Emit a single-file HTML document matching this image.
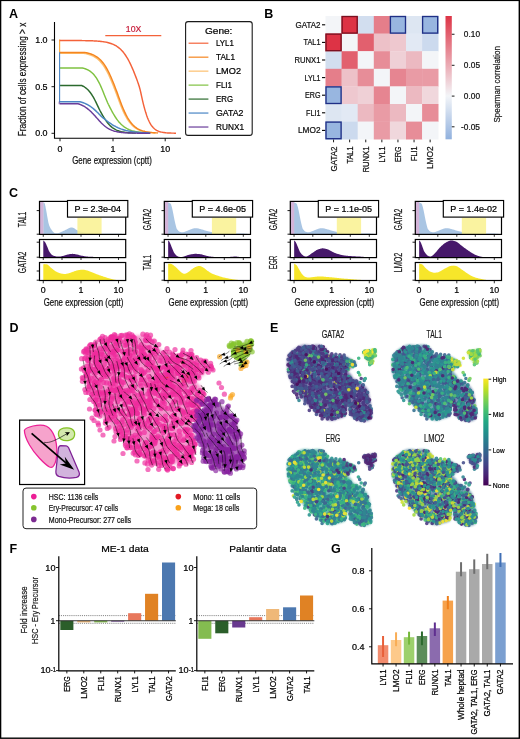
<!DOCTYPE html>
<html><head><meta charset="utf-8"><title>Figure</title>
<style>html,body{margin:0;padding:0;background:#fff;}svg{display:block;font-family:"Liberation Sans", sans-serif;will-change:transform;transform:translateZ(0);-webkit-font-smoothing:antialiased;}</style></head><body>
<svg width="520" height="739" viewBox="0 0 520 739">
<rect x="0" y="0" width="520" height="739" fill="#fff"/>
<g id="A">
<text x="9.00" y="17.50" font-size="12.5" text-anchor="start" fill="#000" font-weight="bold" >A</text>
<path d="M54.5,22 V138.3 H181" fill="none" stroke="#000" stroke-width="1.1"/>
<line x1="51.5" x2="54.5" y1="40" y2="40" stroke="#000" stroke-width="0.9"/>
<text x="47.60" y="43.10" font-size="8.9" text-anchor="end" fill="#000" textLength="12.40" lengthAdjust="spacingAndGlyphs" stroke="#000" stroke-width="0.22" >1.0</text>
<line x1="51.5" x2="54.5" y1="86.7" y2="86.7" stroke="#000" stroke-width="0.9"/>
<text x="47.60" y="89.80" font-size="8.9" text-anchor="end" fill="#000" textLength="12.40" lengthAdjust="spacingAndGlyphs" stroke="#000" stroke-width="0.22" >0.5</text>
<line x1="51.5" x2="54.5" y1="133.3" y2="133.3" stroke="#000" stroke-width="0.9"/>
<text x="47.60" y="136.40" font-size="8.9" text-anchor="end" fill="#000" textLength="12.40" lengthAdjust="spacingAndGlyphs" stroke="#000" stroke-width="0.22" >0.0</text>
<line x1="60" x2="60" y1="138.3" y2="141.3" stroke="#000" stroke-width="0.9"/>
<text x="60.00" y="151.60" font-size="8.9" text-anchor="middle" fill="#000" stroke="#000" stroke-width="0.22" >0</text>
<line x1="113" x2="113" y1="138.3" y2="141.3" stroke="#000" stroke-width="0.9"/>
<text x="113.00" y="151.60" font-size="8.9" text-anchor="middle" fill="#000" stroke="#000" stroke-width="0.22" >1</text>
<line x1="165.2" x2="165.2" y1="138.3" y2="141.3" stroke="#000" stroke-width="0.9"/>
<text x="165.20" y="151.60" font-size="8.9" text-anchor="middle" fill="#000" stroke="#000" stroke-width="0.22" >10</text>
<text x="26.40" y="79.50" font-size="10.4" text-anchor="middle" fill="#111" transform="rotate(-90 26.40 79.50)" textLength="113.50" lengthAdjust="spacingAndGlyphs" stroke="#111" stroke-width="0.22" >Fraction of cells expressing &gt; x</text>
<text x="112.00" y="163.90" font-size="10.4" text-anchor="middle" fill="#111" textLength="79.50" lengthAdjust="spacingAndGlyphs" stroke="#111" stroke-width="0.22" >Gene expression (cptt)</text>
<line x1="59.6" x2="59.6" y1="39.6" y2="52.5" stroke="#fbae45" stroke-width="1.2"/>
<path d="M59.60,40.50 L62.59,40.51 L66.73,40.52 L70.00,40.52 L71.42,40.53 L71.96,40.53 L72.50,40.53 L73.33,40.54 L74.17,40.54 L75.00,40.54 L75.83,40.55 L76.67,40.55 L77.50,40.56 L78.33,40.56 L79.17,40.57 L80.00,40.58 L80.83,40.59 L81.67,40.59 L82.50,40.60 L83.33,40.62 L84.17,40.63 L85.00,40.64 L85.83,40.66 L86.67,40.67 L87.50,40.69 L88.33,40.71 L89.17,40.73 L90.00,40.76 L90.83,40.78 L91.67,40.81 L92.50,40.84 L93.33,40.88 L94.17,40.92 L95.00,40.96 L95.83,41.01 L96.67,41.06 L97.50,41.12 L98.33,41.19 L99.17,41.26 L100.00,41.33 L100.83,41.42 L101.67,41.51 L102.50,41.62 L103.33,41.74 L104.17,41.86 L105.00,42.00 L105.83,42.16 L106.67,42.32 L107.50,42.51 L108.33,42.72 L109.17,42.94 L110.00,43.19 L110.83,43.46 L111.67,43.76 L112.50,44.08 L113.33,44.44 L114.17,44.83 L115.00,45.26 L115.83,45.73 L116.67,46.24 L117.50,46.80 L118.33,47.41 L119.17,48.07 L120.00,48.79 L120.83,49.57 L121.67,50.41 L122.50,51.33 L123.33,52.31 L124.17,53.37 L125.00,54.51 L125.83,55.74 L126.67,57.04 L127.50,58.43 L128.33,59.91 L129.17,61.48 L130.00,63.13 L130.83,64.87 L131.67,66.70 L132.50,68.60 L133.33,70.58 L134.17,72.63 L135.00,74.74 L135.83,76.87 L136.67,79.06 L137.50,81.38 L138.33,83.77 L139.17,86.29 L140.00,89.19 L140.83,92.73 L141.67,96.64 L142.50,100.38 L143.33,103.81 L144.17,107.06 L145.00,110.09 L145.83,112.85 L146.67,115.38 L147.50,117.67 L148.33,119.71 L149.17,121.52 L150.00,123.13 L150.83,124.54 L151.67,125.76 L152.50,126.84 L153.33,127.77 L154.17,128.56 L155.00,129.25 L155.83,129.85 L156.67,130.35 L157.50,130.78 L158.33,131.16 L159.17,131.47 L160.00,131.74 L160.83,131.97 L161.67,132.16 L162.50,132.33 L163.33,132.47 L164.17,132.59 L165.00,132.69 L165.83,132.78 L166.67,132.85 L167.50,132.91 L168.33,132.96 L169.17,133.00 L170.00,133.04 L170.83,133.07 L171.67,133.10 L172.50,133.12 L173.39,133.15 L174.28,133.16 L175.00,133.17 L175.48,133.17 L175.80,133.16 L176.00,133.15" fill="none" stroke="#f4623a" stroke-width="1.45" stroke-linejoin="round"/>
<path d="M59.60,53.30 L64.90,53.30 L72.25,53.30 L78.00,53.30 L80.47,53.30 L81.35,53.30 L82.00,53.30 L82.80,53.28 L83.37,53.26 L84.00,53.30 L84.80,53.42 L85.65,53.59 L86.50,53.79 L87.33,53.99 L88.17,54.21 L89.00,54.45 L89.83,54.72 L90.67,55.02 L91.50,55.35 L92.33,55.71 L93.17,56.11 L94.00,56.55 L94.83,57.03 L95.67,57.56 L96.50,58.14 L97.33,58.78 L98.17,59.48 L99.00,60.24 L99.83,61.06 L100.67,61.96 L101.50,62.94 L102.33,63.99 L103.17,65.12 L104.00,66.34 L104.83,67.65 L105.67,69.05 L106.50,70.53 L107.33,72.11 L108.17,73.77 L109.00,75.51 L109.83,77.34 L110.67,79.24 L111.50,81.21 L112.33,83.23 L113.17,85.31 L114.00,87.43 L114.83,89.59 L115.67,91.78 L116.50,94.01 L117.33,96.28 L118.17,98.59 L119.00,100.85 L119.83,103.04 L120.67,105.18 L121.50,107.24 L122.33,109.21 L123.17,111.10 L124.00,112.89 L124.83,114.58 L125.67,116.17 L126.50,117.66 L127.33,119.05 L128.17,120.34 L129.00,121.53 L129.83,122.63 L130.67,123.64 L131.50,124.57 L132.33,125.41 L133.17,126.18 L134.00,126.89 L134.83,127.53 L135.67,128.10 L136.50,128.63 L137.33,129.10 L138.17,129.53 L139.00,129.91 L139.83,130.26 L140.67,130.57 L141.50,130.85 L142.33,131.10 L143.17,131.33 L144.00,131.53 L144.83,131.72 L145.67,131.88 L146.50,132.02 L147.33,132.15 L148.17,132.27 L149.00,132.38 L149.83,132.47 L150.67,132.55 L151.50,132.63 L152.37,132.69 L153.24,132.74 L154.00,132.81 L154.63,132.92 L155.15,133.05 L155.50,133.15" fill="none" stroke="#fdbf6f" stroke-width="1.45" stroke-linejoin="round"/>
<path d="M59.60,52.50 L65.20,52.50 L72.96,52.50 L79.00,52.50 L81.55,52.50 L82.39,52.50 L83.00,52.50 L83.80,52.48 L84.37,52.46 L85.00,52.50 L85.80,52.62 L86.65,52.80 L87.50,52.99 L88.33,53.19 L89.17,53.42 L90.00,53.66 L90.83,53.94 L91.67,54.23 L92.50,54.57 L93.33,54.93 L94.17,55.34 L95.00,55.78 L95.83,56.27 L96.67,56.80 L97.50,57.39 L98.33,58.04 L99.17,58.74 L100.00,59.51 L100.83,60.34 L101.67,61.25 L102.50,62.23 L103.33,63.30 L104.17,64.44 L105.00,65.67 L105.83,67.00 L106.67,68.41 L107.50,69.90 L108.33,71.50 L109.17,73.18 L110.00,74.94 L110.83,76.78 L111.67,78.70 L112.50,80.69 L113.33,82.73 L114.17,84.83 L115.00,86.97 L115.83,89.15 L116.67,91.37 L117.50,93.61 L118.33,95.91 L119.17,98.24 L120.00,100.52 L120.83,102.74 L121.67,104.90 L122.50,106.98 L123.33,108.97 L124.17,110.88 L125.00,112.69 L125.83,114.39 L126.67,116.00 L127.50,117.51 L128.33,118.91 L129.17,120.21 L130.00,121.41 L130.83,122.52 L131.67,123.54 L132.50,124.48 L133.33,125.34 L134.17,126.11 L135.00,126.82 L135.83,127.47 L136.67,128.05 L137.50,128.58 L138.33,129.06 L139.17,129.49 L140.00,129.88 L140.83,130.23 L141.67,130.54 L142.50,130.83 L143.33,131.08 L144.17,131.31 L145.00,131.52 L145.83,131.70 L146.67,131.86 L147.50,132.01 L148.33,132.14 L149.17,132.26 L150.00,132.37 L150.83,132.46 L151.67,132.54 L152.50,132.62 L153.33,132.69 L154.17,132.75 L155.00,132.80 L155.91,132.85 L156.81,132.88 L157.50,132.93 L157.83,133.01 L157.94,133.09 L158.00,133.15" fill="none" stroke="#f5851f" stroke-width="1.45" stroke-linejoin="round"/>
<path d="M59.60,68.00 L64.46,68.00 L71.20,68.00 L76.50,68.00 L78.86,68.00 L79.79,68.00 L80.50,68.00 L81.30,67.97 L81.87,67.95 L82.50,68.00 L83.30,68.17 L84.15,68.42 L85.00,68.71 L85.83,69.01 L86.67,69.35 L87.50,69.73 L88.33,70.17 L89.17,70.65 L90.00,71.20 L90.83,71.81 L91.67,72.49 L92.50,73.26 L93.33,74.11 L94.17,75.04 L95.00,76.08 L95.83,77.22 L96.67,78.47 L97.50,79.82 L98.33,81.29 L99.17,82.87 L100.00,84.55 L100.83,86.35 L101.67,88.25 L102.50,90.22 L103.33,92.31 L104.17,94.46 L105.00,96.57 L105.83,98.60 L106.67,100.59 L107.50,102.48 L108.33,104.24 L109.17,105.92 L110.00,107.56 L110.83,109.18 L111.67,110.76 L112.50,112.29 L113.33,113.75 L114.17,115.16 L115.00,116.50 L115.83,117.77 L116.67,118.98 L117.50,120.11 L118.33,121.18 L119.17,122.17 L120.00,123.10 L120.83,123.97 L121.67,124.77 L122.50,125.51 L123.33,126.19 L124.17,126.82 L125.00,127.40 L125.83,127.94 L126.67,128.42 L127.50,128.87 L128.33,129.28 L129.17,129.65 L130.00,129.99 L130.83,130.30 L131.67,130.58 L132.50,130.83 L133.33,131.06 L134.17,131.27 L135.00,131.46 L135.83,131.64 L136.67,131.79 L137.50,131.93 L138.33,132.06 L139.17,132.18 L140.00,132.28 L140.83,132.38 L141.67,132.46 L142.50,132.54 L143.33,132.61 L144.17,132.67 L145.00,132.73 L145.83,132.77 L146.67,132.81 L147.50,132.87 L148.43,132.96 L149.35,133.07 L150.00,133.15" fill="none" stroke="#7fc241" stroke-width="1.45" stroke-linejoin="round"/>
<path d="M59.60,85.50 L64.16,85.50 L70.49,85.50 L75.50,85.50 L77.79,85.50 L78.76,85.50 L79.50,85.50 L80.30,85.45 L80.87,85.41 L81.50,85.50 L82.30,85.80 L83.15,86.23 L84.00,86.72 L84.83,87.24 L85.67,87.82 L86.50,88.48 L87.33,89.21 L88.17,90.03 L89.00,90.94 L89.83,91.94 L90.67,93.04 L91.50,94.24 L92.33,95.54 L93.17,96.94 L94.00,98.42 L94.83,99.99 L95.67,101.65 L96.50,103.35 L97.33,105.10 L98.17,106.90 L99.00,108.63 L99.83,110.25 L100.67,111.80 L101.50,113.31 L102.33,114.80 L103.17,116.25 L104.00,117.64 L104.83,118.96 L105.67,120.22 L106.50,121.40 L107.33,122.50 L108.17,123.53 L109.00,124.48 L109.83,125.36 L110.67,126.16 L111.50,126.90 L112.33,127.57 L113.17,128.17 L114.00,128.72 L114.83,129.22 L115.67,129.66 L116.50,130.06 L117.33,130.42 L118.17,130.73 L119.00,131.02 L119.83,131.28 L120.67,131.50 L121.50,131.70 L122.33,131.88 L123.17,132.04 L124.00,132.18 L124.83,132.30 L125.67,132.41 L126.50,132.51 L127.33,132.60 L128.17,132.67 L129.00,132.74 L129.83,132.80 L130.67,132.85 L131.50,132.90 L132.35,132.94 L133.20,132.97 L134.00,133.01 L134.78,133.06 L135.50,133.11 L136.00,133.15" fill="none" stroke="#2b6a2d" stroke-width="1.45" stroke-linejoin="round"/>
<path d="M59.60,101.75 L63.72,101.75 L69.44,101.75 L74.00,101.75 L76.18,101.75 L77.20,101.75 L78.00,101.75 L78.80,101.72 L79.37,101.70 L80.00,101.75 L80.80,101.93 L81.65,102.20 L82.50,102.49 L83.33,102.78 L84.17,103.10 L85.00,103.45 L85.83,103.82 L86.67,104.23 L87.50,104.66 L88.33,105.13 L89.17,105.64 L90.00,106.17 L90.83,106.75 L91.67,107.36 L92.50,108.00 L93.33,108.67 L94.17,109.39 L95.00,110.13 L95.83,110.90 L96.67,111.70 L97.50,112.51 L98.33,113.37 L99.17,114.24 L100.00,115.08 L100.83,115.89 L101.67,116.67 L102.50,117.42 L103.33,118.11 L104.17,118.78 L105.00,119.43 L105.83,120.08 L106.67,120.73 L107.50,121.36 L108.33,121.97 L109.17,122.57 L110.00,123.15 L110.83,123.71 L111.67,124.26 L112.50,124.78 L113.33,125.28 L114.17,125.77 L115.00,126.23 L115.83,126.67 L116.67,127.08 L117.50,127.48 L118.33,127.86 L119.17,128.21 L120.00,128.55 L120.83,128.87 L121.67,129.17 L122.50,129.45 L123.33,129.71 L124.17,129.96 L125.00,130.19 L125.83,130.41 L126.67,130.61 L127.50,130.81 L128.33,130.98 L129.17,131.15 L130.00,131.30 L130.83,131.45 L131.67,131.58 L132.50,131.70 L133.33,131.82 L134.17,131.92 L135.00,132.02 L135.83,132.12 L136.67,132.20 L137.50,132.28 L138.33,132.35 L139.17,132.42 L140.00,132.48 L140.83,132.54 L141.67,132.60 L142.50,132.65 L143.33,132.69 L144.17,132.74 L145.00,132.77 L145.87,132.80 L146.74,132.83 L147.50,132.88 L148.13,132.96 L148.65,133.07 L149.00,133.15" fill="none" stroke="#4a86c5" stroke-width="1.45" stroke-linejoin="round"/>
<path d="M59.60,103.75 L63.13,103.75 L68.03,103.75 L72.00,103.75 L74.03,103.75 L75.13,103.75 L76.00,103.75 L76.80,103.72 L77.37,103.69 L78.00,103.75 L78.80,103.97 L79.65,104.28 L80.50,104.62 L81.33,104.97 L82.17,105.36 L83.00,105.77 L83.83,106.23 L84.67,106.72 L85.50,107.25 L86.33,107.83 L87.17,108.44 L88.00,109.09 L88.83,109.79 L89.67,110.52 L90.50,111.29 L91.33,112.10 L92.17,112.94 L93.00,113.80 L93.83,114.68 L94.67,115.58 L95.50,116.50 L96.33,117.44 L97.17,118.39 L98.00,119.34 L98.83,120.27 L99.67,121.19 L100.50,122.08 L101.33,122.94 L102.17,123.77 L103.00,124.55 L103.83,125.29 L104.67,125.99 L105.50,126.65 L106.33,127.26 L107.17,127.82 L108.00,128.34 L108.83,128.82 L109.67,129.26 L110.50,129.67 L111.33,130.03 L112.17,130.37 L113.00,130.67 L113.83,130.94 L114.67,131.19 L115.50,131.41 L116.33,131.61 L117.17,131.78 L118.00,131.94 L118.83,132.09 L119.67,132.22 L120.50,132.33 L121.33,132.43 L122.17,132.52 L123.00,132.60 L123.83,132.68 L124.67,132.74 L125.50,132.80 L126.33,132.85 L127.17,132.89 L128.00,132.93 L128.83,132.97 L129.67,133.00 L130.50,133.03 L131.33,133.05 L132.17,133.08 L133.00,133.10 L133.83,133.11 L134.67,133.13 L135.50,133.14 L136.33,133.15 L137.17,133.17 L138.00,133.18 L138.83,133.18 L139.67,133.19 L140.50,133.20 L141.33,133.20 L142.17,133.21 L143.00,133.21 L143.83,133.22 L144.67,133.22 L145.50,133.22 L146.33,133.23 L147.17,133.24 L148.00,133.23 L148.93,133.21 L149.85,133.17 L150.50,133.15" fill="none" stroke="#6a3d9a" stroke-width="1.45" stroke-linejoin="round"/>
<line x1="59.6" x2="59.6" y1="52.3" y2="102.4" stroke="#4a86c5" stroke-width="1.1"/>
<line x1="59.2" x2="59.2" y1="101.5" y2="104.2" stroke="#6a3d9a" stroke-width="0.8"/>
<line x1="105.3" x2="161.3" y1="35.6" y2="35.6" stroke="#f4623a" stroke-width="1.3"/>
<text x="133.60" y="32.10" font-size="9.2" text-anchor="middle" fill="#c8203c" textLength="15.50" lengthAdjust="spacingAndGlyphs" stroke="#c8203c" stroke-width="0.22" >10X</text>
<rect x="185.6" y="21.6" width="66.6" height="113.8" rx="2.5" ry="2.5" fill="#fff" stroke="#1a1a1a" stroke-width="1.1"/>
<text x="218.70" y="33.60" font-size="9.8" text-anchor="middle" fill="#000" textLength="27.50" lengthAdjust="spacingAndGlyphs" stroke="#000" stroke-width="0.22" >Gene:</text>
<line x1="188.6" x2="208.4" y1="43.20" y2="43.20" stroke="#f4623a" stroke-width="1.2"/>
<text x="216.00" y="46.45" font-size="9.1" text-anchor="start" fill="#000" textLength="17.80" lengthAdjust="spacingAndGlyphs" stroke="#000" stroke-width="0.22" >LYL1</text>
<line x1="188.6" x2="208.4" y1="57.17" y2="57.17" stroke="#f5851f" stroke-width="1.2"/>
<text x="216.00" y="60.42" font-size="9.1" text-anchor="start" fill="#000" textLength="19.00" lengthAdjust="spacingAndGlyphs" stroke="#000" stroke-width="0.22" >TAL1</text>
<line x1="188.6" x2="208.4" y1="71.14" y2="71.14" stroke="#fdbf6f" stroke-width="1.2"/>
<text x="216.00" y="74.39" font-size="9.1" text-anchor="start" fill="#000" textLength="25.00" lengthAdjust="spacingAndGlyphs" stroke="#000" stroke-width="0.22" >LMO2</text>
<line x1="188.6" x2="208.4" y1="85.11" y2="85.11" stroke="#7fc241" stroke-width="1.2"/>
<text x="216.00" y="88.36" font-size="9.1" text-anchor="start" fill="#000" textLength="16.00" lengthAdjust="spacingAndGlyphs" stroke="#000" stroke-width="0.22" >FLI1</text>
<line x1="188.6" x2="208.4" y1="99.08" y2="99.08" stroke="#2b6a2d" stroke-width="1.2"/>
<text x="216.00" y="102.33" font-size="9.1" text-anchor="start" fill="#000" textLength="17.00" lengthAdjust="spacingAndGlyphs" stroke="#000" stroke-width="0.22" >ERG</text>
<line x1="188.6" x2="208.4" y1="113.05" y2="113.05" stroke="#4a86c5" stroke-width="1.2"/>
<text x="216.00" y="116.30" font-size="9.1" text-anchor="start" fill="#000" textLength="27.50" lengthAdjust="spacingAndGlyphs" stroke="#000" stroke-width="0.22" >GATA2</text>
<line x1="188.6" x2="208.4" y1="127.02" y2="127.02" stroke="#6a3d9a" stroke-width="1.2"/>
<text x="216.00" y="130.27" font-size="9.1" text-anchor="start" fill="#000" textLength="28.00" lengthAdjust="spacingAndGlyphs" stroke="#000" stroke-width="0.22" >RUNX1</text>
</g>
<g id="B">
<text x="264.30" y="17.50" font-size="12.5" text-anchor="start" fill="#000" font-weight="bold" >B</text>
<rect x="325.50" y="16.00" width="16.40" height="17.90" fill="#f3f5f8"/>
<rect x="341.60" y="16.00" width="16.40" height="17.90" fill="#dd3345"/>
<rect x="357.70" y="16.00" width="16.40" height="17.90" fill="#d2deef"/>
<rect x="373.80" y="16.00" width="16.40" height="17.90" fill="#e57e8a"/>
<rect x="389.90" y="16.00" width="16.40" height="17.90" fill="#98b6e0"/>
<rect x="406.00" y="16.00" width="16.40" height="17.90" fill="#dde6f2"/>
<rect x="422.10" y="16.00" width="16.40" height="17.90" fill="#98b6e0"/>
<rect x="325.50" y="33.60" width="16.40" height="17.90" fill="#dd3345"/>
<rect x="341.60" y="33.60" width="16.40" height="17.90" fill="#f3f5f8"/>
<rect x="357.70" y="33.60" width="16.40" height="17.90" fill="#e2606e"/>
<rect x="373.80" y="33.60" width="16.40" height="17.90" fill="#edc1c8"/>
<rect x="389.90" y="33.60" width="16.40" height="17.90" fill="#eec8cf"/>
<rect x="406.00" y="33.60" width="16.40" height="17.90" fill="#e2e9f4"/>
<rect x="422.10" y="33.60" width="16.40" height="17.90" fill="#ccdaee"/>
<rect x="325.50" y="51.20" width="16.40" height="17.90" fill="#d2deef"/>
<rect x="341.60" y="51.20" width="16.40" height="17.90" fill="#e2606e"/>
<rect x="357.70" y="51.20" width="16.40" height="17.90" fill="#f3f5f8"/>
<rect x="373.80" y="51.20" width="16.40" height="17.90" fill="#e78d98"/>
<rect x="389.90" y="51.20" width="16.40" height="17.90" fill="#efd0d6"/>
<rect x="406.00" y="51.20" width="16.40" height="17.90" fill="#ecb9c1"/>
<rect x="422.10" y="51.20" width="16.40" height="17.90" fill="#f3f5f8"/>
<rect x="325.50" y="68.80" width="16.40" height="17.90" fill="#e57e8a"/>
<rect x="341.60" y="68.80" width="16.40" height="17.90" fill="#edc1c8"/>
<rect x="357.70" y="68.80" width="16.40" height="17.90" fill="#e78d98"/>
<rect x="373.80" y="68.80" width="16.40" height="17.90" fill="#f3f5f8"/>
<rect x="389.90" y="68.80" width="16.40" height="17.90" fill="#e68591"/>
<rect x="406.00" y="68.80" width="16.40" height="17.90" fill="#e99ba5"/>
<rect x="422.10" y="68.80" width="16.40" height="17.90" fill="#e99ba5"/>
<rect x="325.50" y="86.40" width="16.40" height="17.90" fill="#98b6e0"/>
<rect x="341.60" y="86.40" width="16.40" height="17.90" fill="#eec8cf"/>
<rect x="357.70" y="86.40" width="16.40" height="17.90" fill="#efd0d6"/>
<rect x="373.80" y="86.40" width="16.40" height="17.90" fill="#e68591"/>
<rect x="389.90" y="86.40" width="16.40" height="17.90" fill="#f3f5f8"/>
<rect x="406.00" y="86.40" width="16.40" height="17.90" fill="#ecb9c1"/>
<rect x="422.10" y="86.40" width="16.40" height="17.90" fill="#f0d7dc"/>
<rect x="325.50" y="104.00" width="16.40" height="17.90" fill="#dde6f2"/>
<rect x="341.60" y="104.00" width="16.40" height="17.90" fill="#e2e9f4"/>
<rect x="357.70" y="104.00" width="16.40" height="17.90" fill="#ecb9c1"/>
<rect x="373.80" y="104.00" width="16.40" height="17.90" fill="#e99ba5"/>
<rect x="389.90" y="104.00" width="16.40" height="17.90" fill="#ecb9c1"/>
<rect x="406.00" y="104.00" width="16.40" height="17.90" fill="#f3f5f8"/>
<rect x="422.10" y="104.00" width="16.40" height="17.90" fill="#e78d98"/>
<rect x="325.50" y="121.60" width="16.40" height="17.90" fill="#98b6e0"/>
<rect x="341.60" y="121.60" width="16.40" height="17.90" fill="#ccdaee"/>
<rect x="357.70" y="121.60" width="16.40" height="17.90" fill="#f3f5f8"/>
<rect x="373.80" y="121.60" width="16.40" height="17.90" fill="#e99ba5"/>
<rect x="389.90" y="121.60" width="16.40" height="17.90" fill="#f0d7dc"/>
<rect x="406.00" y="121.60" width="16.40" height="17.90" fill="#e78d98"/>
<rect x="422.10" y="121.60" width="16.40" height="17.90" fill="#f3f5f8"/>
<rect x="342.10" y="16.50" width="15.10" height="16.60" fill="none" stroke="#7a1020" stroke-width="1.35"/>
<rect x="326.00" y="34.10" width="15.10" height="16.60" fill="none" stroke="#7a1020" stroke-width="1.35"/>
<rect x="390.40" y="16.50" width="15.10" height="16.60" fill="none" stroke="#1f2f86" stroke-width="1.35"/>
<rect x="422.60" y="16.50" width="15.10" height="16.60" fill="none" stroke="#1f2f86" stroke-width="1.35"/>
<rect x="326.00" y="86.90" width="15.10" height="16.60" fill="none" stroke="#1f2f86" stroke-width="1.35"/>
<rect x="326.00" y="122.10" width="15.10" height="16.60" fill="none" stroke="#1f2f86" stroke-width="1.35"/>
<line x1="322" x2="325.2" y1="24.80" y2="24.80" stroke="#000" stroke-width="1.1"/>
<text x="320.50" y="27.80" font-size="8.3" text-anchor="end" fill="#111" textLength="25.00" lengthAdjust="spacingAndGlyphs" stroke="#111" stroke-width="0.22" >GATA2</text>
<line x1="333.55" x2="333.55" y1="139.6" y2="142.3" stroke="#000" stroke-width="0.9"/>
<text x="336.55" y="146.50" font-size="8.3" text-anchor="end" fill="#111" transform="rotate(-90 336.55 146.50)" textLength="25.00" lengthAdjust="spacingAndGlyphs" stroke="#111" stroke-width="0.22" >GATA2</text>
<line x1="322" x2="325.2" y1="42.40" y2="42.40" stroke="#000" stroke-width="1.1"/>
<text x="320.50" y="45.40" font-size="8.3" text-anchor="end" fill="#111" textLength="17.00" lengthAdjust="spacingAndGlyphs" stroke="#111" stroke-width="0.22" >TAL1</text>
<line x1="349.65" x2="349.65" y1="139.6" y2="142.3" stroke="#000" stroke-width="0.9"/>
<text x="352.65" y="146.50" font-size="8.3" text-anchor="end" fill="#111" transform="rotate(-90 352.65 146.50)" textLength="17.00" lengthAdjust="spacingAndGlyphs" stroke="#111" stroke-width="0.22" >TAL1</text>
<line x1="322" x2="325.2" y1="60.00" y2="60.00" stroke="#000" stroke-width="1.1"/>
<text x="320.50" y="63.00" font-size="8.3" text-anchor="end" fill="#111" textLength="26.00" lengthAdjust="spacingAndGlyphs" stroke="#111" stroke-width="0.22" >RUNX1</text>
<line x1="365.75" x2="365.75" y1="139.6" y2="142.3" stroke="#000" stroke-width="0.9"/>
<text x="368.75" y="146.50" font-size="8.3" text-anchor="end" fill="#111" transform="rotate(-90 368.75 146.50)" textLength="26.00" lengthAdjust="spacingAndGlyphs" stroke="#111" stroke-width="0.22" >RUNX1</text>
<line x1="322" x2="325.2" y1="77.60" y2="77.60" stroke="#000" stroke-width="1.1"/>
<text x="320.50" y="80.60" font-size="8.3" text-anchor="end" fill="#111" textLength="16.00" lengthAdjust="spacingAndGlyphs" stroke="#111" stroke-width="0.22" >LYL1</text>
<line x1="381.85" x2="381.85" y1="139.6" y2="142.3" stroke="#000" stroke-width="0.9"/>
<text x="384.85" y="146.50" font-size="8.3" text-anchor="end" fill="#111" transform="rotate(-90 384.85 146.50)" textLength="16.00" lengthAdjust="spacingAndGlyphs" stroke="#111" stroke-width="0.22" >LYL1</text>
<line x1="322" x2="325.2" y1="95.20" y2="95.20" stroke="#000" stroke-width="1.1"/>
<text x="320.50" y="98.20" font-size="8.3" text-anchor="end" fill="#111" textLength="15.50" lengthAdjust="spacingAndGlyphs" stroke="#111" stroke-width="0.22" >ERG</text>
<line x1="397.95" x2="397.95" y1="139.6" y2="142.3" stroke="#000" stroke-width="0.9"/>
<text x="400.95" y="146.50" font-size="8.3" text-anchor="end" fill="#111" transform="rotate(-90 400.95 146.50)" textLength="15.50" lengthAdjust="spacingAndGlyphs" stroke="#111" stroke-width="0.22" >ERG</text>
<line x1="322" x2="325.2" y1="112.80" y2="112.80" stroke="#000" stroke-width="1.1"/>
<text x="320.50" y="115.80" font-size="8.3" text-anchor="end" fill="#111" textLength="14.50" lengthAdjust="spacingAndGlyphs" stroke="#111" stroke-width="0.22" >FLI1</text>
<line x1="414.05" x2="414.05" y1="139.6" y2="142.3" stroke="#000" stroke-width="0.9"/>
<text x="417.05" y="146.50" font-size="8.3" text-anchor="end" fill="#111" transform="rotate(-90 417.05 146.50)" textLength="14.50" lengthAdjust="spacingAndGlyphs" stroke="#111" stroke-width="0.22" >FLI1</text>
<line x1="322" x2="325.2" y1="130.40" y2="130.40" stroke="#000" stroke-width="1.1"/>
<text x="320.50" y="133.40" font-size="8.3" text-anchor="end" fill="#111" textLength="22.50" lengthAdjust="spacingAndGlyphs" stroke="#111" stroke-width="0.22" >LMO2</text>
<line x1="430.15" x2="430.15" y1="139.6" y2="142.3" stroke="#000" stroke-width="0.9"/>
<text x="433.15" y="146.50" font-size="8.3" text-anchor="end" fill="#111" transform="rotate(-90 433.15 146.50)" textLength="22.50" lengthAdjust="spacingAndGlyphs" stroke="#111" stroke-width="0.22" >LMO2</text>
<defs><linearGradient id="cbB" x1="0" y1="0" x2="0" y2="1"><stop offset="0" stop-color="#dd3446"/><stop offset="0.648" stop-color="#f3f5f8"/><stop offset="1" stop-color="#91b1de"/></linearGradient></defs>
<rect x="445.5" y="16" width="6.3" height="123.3" fill="url(#cbB)"/>
<line x1="451.8" x2="454.5" y1="34.25" y2="34.25" stroke="#000" stroke-width="0.9"/>
<text x="480.00" y="37.25" font-size="8.3" text-anchor="end" fill="#111" stroke="#111" stroke-width="0.22" >0.10</text>
<line x1="451.8" x2="454.5" y1="65.3" y2="65.3" stroke="#000" stroke-width="0.9"/>
<text x="480.00" y="68.30" font-size="8.3" text-anchor="end" fill="#111" stroke="#111" stroke-width="0.22" >0.05</text>
<line x1="451.8" x2="454.5" y1="96.1" y2="96.1" stroke="#000" stroke-width="0.9"/>
<text x="480.00" y="99.10" font-size="8.3" text-anchor="end" fill="#111" stroke="#111" stroke-width="0.22" >0.00</text>
<line x1="451.8" x2="454.5" y1="126.8" y2="126.8" stroke="#000" stroke-width="0.9"/>
<text x="480.00" y="129.80" font-size="8.3" text-anchor="end" fill="#111" stroke="#111" stroke-width="0.22" >-0.05</text>
<text x="500.30" y="84.30" font-size="9.8" text-anchor="middle" fill="#1a1a1a" transform="rotate(-90 500.30 84.30)" textLength="76.50" lengthAdjust="spacingAndGlyphs" stroke="#1a1a1a" stroke-width="0.22" >Spearman correlation</text>
</g>
<g id="C">
<text x="9.00" y="196.50" font-size="12.5" text-anchor="start" fill="#000" font-weight="bold" >C</text>
<path d="M43.25,234.40 L43.25,202.39 L43.33,202.43 L43.44,202.45 L43.57,202.46 L43.71,202.48 L43.87,202.51 L44.03,202.58 L44.19,202.69 L44.35,202.85 L44.51,203.08 L44.65,203.38 L44.79,203.77 L44.92,204.22 L45.06,204.75 L45.19,205.32 L45.33,205.94 L45.46,206.59 L45.60,207.26 L45.73,207.95 L45.86,208.64 L46.00,209.32 L46.14,210.02 L46.27,210.74 L46.41,211.50 L46.54,212.27 L46.68,213.05 L46.82,213.84 L46.95,214.63 L47.09,215.41 L47.22,216.17 L47.36,216.91 L47.49,217.64 L47.63,218.39 L47.76,219.13 L47.88,219.87 L48.01,220.60 L48.15,221.31 L48.28,222.00 L48.42,222.65 L48.56,223.27 L48.70,223.84 L48.85,224.36 L49.00,224.84 L49.15,225.28 L49.31,225.69 L49.47,226.08 L49.63,226.44 L49.80,226.79 L49.96,227.13 L50.13,227.46 L50.30,227.80 L50.47,228.13 L50.65,228.45 L50.83,228.76 L51.01,229.05 L51.19,229.34 L51.38,229.61 L51.56,229.87 L51.74,230.13 L51.92,230.37 L52.10,230.61 L52.27,230.83 L52.45,231.05 L52.62,231.25 L52.79,231.45 L52.96,231.63 L53.12,231.81 L53.29,231.97 L53.46,232.13 L53.63,232.28 L53.80,232.42 L53.96,232.55 L54.12,232.68 L54.27,232.79 L54.42,232.90 L54.57,232.99 L54.73,233.08 L54.89,233.16 L55.08,233.22 L55.28,233.27 L55.50,233.31 L55.74,233.34 L56.00,233.36 L56.27,233.37 L56.56,233.37 L56.86,233.35 L57.17,233.33 L57.49,233.29 L57.82,233.23 L58.15,233.17 L58.50,233.08 L58.86,232.97 L59.24,232.85 L59.63,232.70 L60.03,232.54 L60.44,232.36 L60.85,232.18 L61.27,231.99 L61.68,231.80 L62.10,231.61 L62.50,231.43 L62.90,231.24 L63.32,231.05 L63.73,230.84 L64.15,230.64 L64.56,230.43 L64.97,230.22 L65.37,230.02 L65.76,229.82 L66.14,229.63 L66.50,229.45 L66.84,229.28 L67.18,229.11 L67.50,228.94 L67.82,228.77 L68.12,228.61 L68.42,228.46 L68.70,228.32 L68.98,228.19 L69.25,228.07 L69.50,227.97 L69.74,227.87 L69.96,227.78 L70.16,227.71 L70.35,227.64 L70.53,227.58 L70.71,227.54 L70.89,227.50 L71.08,227.48 L71.28,227.47 L71.50,227.47 L71.73,227.48 L71.96,227.50 L72.19,227.54 L72.43,227.58 L72.67,227.63 L72.93,227.70 L73.18,227.79 L73.45,227.88 L73.72,228.00 L74.00,228.13 L74.29,228.29 L74.58,228.47 L74.87,228.69 L75.18,228.91 L75.49,229.15 L75.81,229.39 L76.14,229.63 L76.48,229.86 L76.83,230.08 L77.20,230.28 L77.58,230.45 L77.97,230.62 L78.37,230.78 L78.78,230.94 L79.21,231.08 L79.64,231.23 L80.09,231.36 L80.55,231.50 L81.02,231.63 L81.50,231.76 L82.00,231.89 L82.51,232.01 L83.03,232.13 L83.57,232.25 L84.11,232.36 L84.67,232.47 L85.24,232.57 L85.82,232.67 L86.40,232.76 L87.00,232.85 L87.61,232.93 L88.23,233.00 L88.86,233.06 L89.50,233.12 L90.16,233.18 L90.82,233.23 L91.48,233.28 L92.15,233.32 L92.83,233.37 L93.50,233.41 L94.18,233.45 L94.87,233.49 L95.56,233.53 L96.26,233.57 L96.97,233.60 L97.68,233.64 L98.38,233.67 L99.09,233.69 L99.80,233.72 L100.50,233.74 L101.20,233.76 L101.90,233.78 L102.60,233.79 L103.30,233.81 L104.00,233.82 L104.70,233.83 L105.40,233.84 L106.10,233.84 L106.80,233.84 L107.50,233.84 L108.20,233.83 L108.92,233.82 L109.63,233.80 L110.35,233.78 L111.06,233.75 L111.77,233.73 L112.47,233.71 L113.16,233.69 L113.84,233.68 L114.50,233.67 L115.15,233.67 L115.78,233.68 L116.41,233.69 L117.02,233.70 L117.62,233.71 L118.22,233.72 L118.80,233.74 L119.38,233.76 L119.94,233.78 L120.50,233.81 L121.06,233.83 L121.64,233.86 L122.23,233.90 L122.81,233.94 L123.38,233.98 L123.91,234.02 L124.40,234.06 L124.84,234.09 L125.21,234.12 L125.50,234.14 L125.50,234.40Z" fill="#a9c5e3"/>
<rect x="39.5" y="201.4" width="3.9" height="33.00" fill="#d3b4d8"/>
<rect x="77.40" y="217.6" width="24.20" height="16.80" fill="#f9f193" opacity="0.88"/>
<rect x="39.5" y="201.4" width="86.2" height="33.00" fill="none" stroke="#000" stroke-width="1.2"/>
<line x1="36.70" x2="39.5" y1="210.6" y2="210.6" stroke="#000" stroke-width="0.9"/>
<line x1="36.70" x2="39.5" y1="234.2" y2="234.2" stroke="#000" stroke-width="0.9"/>
<line x1="43.25" x2="43.25" y1="234.4" y2="236.8" stroke="#000" stroke-width="0.8"/>
<line x1="62.00" x2="62.00" y1="234.4" y2="236.8" stroke="#000" stroke-width="0.8"/>
<line x1="81.00" x2="81.00" y1="234.4" y2="236.8" stroke="#000" stroke-width="0.8"/>
<line x1="99.50" x2="99.50" y1="234.4" y2="236.8" stroke="#000" stroke-width="0.8"/>
<line x1="118.50" x2="118.50" y1="234.4" y2="236.8" stroke="#000" stroke-width="0.8"/>
<rect x="67.50" y="200.5" width="60.3" height="16.6" fill="#fff" stroke="#000" stroke-width="1.15"/>
<text x="97.80" y="211.70" font-size="8.4" text-anchor="middle" fill="#000" textLength="46.60" lengthAdjust="spacingAndGlyphs" stroke="#000" stroke-width="0.22" >P = 2.3e-04</text>
<path d="M43.30,257.60 L43.30,240.51 L43.42,240.62 L43.57,240.74 L43.75,240.87 L43.95,241.03 L44.17,241.20 L44.40,241.40 L44.63,241.62 L44.86,241.88 L45.09,242.16 L45.30,242.47 L45.51,242.82 L45.72,243.22 L45.93,243.66 L46.14,244.13 L46.35,244.62 L46.56,245.12 L46.77,245.63 L46.98,246.13 L47.19,246.62 L47.40,247.10 L47.60,247.57 L47.80,248.05 L47.99,248.53 L48.17,249.02 L48.36,249.50 L48.55,249.98 L48.75,250.44 L48.96,250.89 L49.17,251.32 L49.40,251.73 L49.64,252.11 L49.88,252.49 L50.14,252.85 L50.40,253.20 L50.66,253.53 L50.94,253.85 L51.22,254.15 L51.50,254.43 L51.80,254.69 L52.10,254.93 L52.41,255.15 L52.73,255.34 L53.05,255.51 L53.38,255.66 L53.72,255.79 L54.06,255.91 L54.41,256.02 L54.77,256.11 L55.13,256.20 L55.50,256.28 L55.88,256.36 L56.26,256.42 L56.66,256.47 L57.06,256.51 L57.46,256.54 L57.87,256.55 L58.28,256.56 L58.69,256.56 L59.10,256.55 L59.50,256.53 L59.90,256.50 L60.30,256.46 L60.70,256.41 L61.10,256.34 L61.50,256.27 L61.90,256.19 L62.30,256.10 L62.70,256.01 L63.10,255.92 L63.50,255.82 L63.90,255.71 L64.29,255.60 L64.68,255.47 L65.07,255.33 L65.46,255.20 L65.85,255.06 L66.25,254.93 L66.66,254.80 L67.07,254.68 L67.50,254.57 L67.94,254.48 L68.40,254.38 L68.87,254.28 L69.35,254.19 L69.83,254.11 L70.32,254.03 L70.80,253.97 L71.27,253.92 L71.74,253.88 L72.20,253.86 L72.64,253.86 L73.07,253.88 L73.50,253.91 L73.92,253.95 L74.33,254.01 L74.75,254.07 L75.17,254.14 L75.60,254.22 L76.04,254.31 L76.50,254.40 L76.97,254.49 L77.45,254.61 L77.93,254.73 L78.43,254.86 L78.92,255.00 L79.43,255.14 L79.94,255.27 L80.46,255.40 L80.98,255.53 L81.50,255.64 L82.03,255.75 L82.55,255.85 L83.08,255.95 L83.62,256.05 L84.16,256.14 L84.70,256.23 L85.26,256.32 L85.83,256.39 L86.41,256.47 L87.00,256.53 L87.61,256.59 L88.23,256.64 L88.86,256.68 L89.50,256.72 L90.16,256.75 L90.82,256.78 L91.48,256.81 L92.15,256.84 L92.83,256.86 L93.50,256.89 L94.18,256.91 L94.87,256.94 L95.56,256.96 L96.26,256.98 L96.97,257.00 L97.68,257.02 L98.38,257.03 L99.09,257.04 L99.80,257.06 L100.50,257.07 L101.20,257.07 L101.91,257.08 L102.61,257.08 L103.32,257.08 L104.02,257.08 L104.73,257.07 L105.43,257.07 L106.13,257.07 L106.82,257.07 L107.50,257.07 L108.18,257.06 L108.86,257.06 L109.55,257.06 L110.23,257.05 L110.90,257.05 L111.57,257.04 L112.22,257.04 L112.86,257.05 L113.49,257.05 L114.10,257.07 L114.69,257.09 L115.28,257.11 L115.85,257.14 L116.41,257.18 L116.96,257.21 L117.50,257.25 L118.02,257.29 L118.53,257.32 L119.02,257.36 L119.50,257.39 L119.97,257.41 L120.45,257.44 L120.93,257.47 L121.39,257.49 L121.84,257.51 L122.26,257.54 L122.64,257.55 L122.98,257.57 L123.27,257.59 L123.50,257.60 L123.50,257.60Z" fill="#46186a"/>
<rect x="39.5" y="239.5" width="86.2" height="18.10" fill="none" stroke="#000" stroke-width="1.2"/>
<line x1="36.70" x2="39.5" y1="242.2" y2="242.2" stroke="#000" stroke-width="0.9"/>
<line x1="36.70" x2="39.5" y1="257.2" y2="257.2" stroke="#000" stroke-width="0.9"/>
<line x1="43.25" x2="43.25" y1="257.6" y2="260.0" stroke="#000" stroke-width="0.8"/>
<line x1="62.00" x2="62.00" y1="257.6" y2="260.0" stroke="#000" stroke-width="0.8"/>
<line x1="81.00" x2="81.00" y1="257.6" y2="260.0" stroke="#000" stroke-width="0.8"/>
<line x1="99.50" x2="99.50" y1="257.6" y2="260.0" stroke="#000" stroke-width="0.8"/>
<line x1="118.50" x2="118.50" y1="257.6" y2="260.0" stroke="#000" stroke-width="0.8"/>
<path d="M43.30,280.50 L43.30,264.13 L43.54,264.14 L43.86,264.14 L44.23,264.13 L44.65,264.12 L45.10,264.13 L45.57,264.15 L46.05,264.20 L46.52,264.28 L46.98,264.40 L47.40,264.57 L47.80,264.80 L48.20,265.09 L48.60,265.42 L49.00,265.79 L49.40,266.18 L49.80,266.58 L50.20,266.98 L50.60,267.38 L51.00,267.76 L51.40,268.11 L51.81,268.44 L52.22,268.77 L52.63,269.11 L53.04,269.43 L53.45,269.75 L53.86,270.07 L54.27,270.37 L54.68,270.66 L55.09,270.93 L55.50,271.19 L55.90,271.43 L56.30,271.66 L56.69,271.87 L57.08,272.07 L57.48,272.27 L57.87,272.44 L58.27,272.61 L58.67,272.77 L59.08,272.92 L59.50,273.07 L59.93,273.20 L60.38,273.33 L60.84,273.44 L61.31,273.55 L61.78,273.65 L62.25,273.73 L62.71,273.81 L63.16,273.87 L63.59,273.92 L64.00,273.95 L64.39,273.97 L64.76,273.97 L65.11,273.96 L65.45,273.94 L65.78,273.91 L66.11,273.86 L66.44,273.81 L66.78,273.74 L67.13,273.67 L67.50,273.60 L67.88,273.51 L68.25,273.41 L68.63,273.31 L69.02,273.19 L69.41,273.07 L69.80,272.93 L70.21,272.80 L70.63,272.65 L71.06,272.51 L71.50,272.36 L71.96,272.20 L72.42,272.02 L72.90,271.84 L73.39,271.65 L73.89,271.45 L74.39,271.26 L74.91,271.07 L75.43,270.89 L75.96,270.73 L76.50,270.59 L77.05,270.46 L77.62,270.33 L78.20,270.20 L78.79,270.09 L79.39,269.98 L79.98,269.89 L80.58,269.81 L81.17,269.75 L81.74,269.72 L82.30,269.70 L82.84,269.71 L83.36,269.74 L83.87,269.79 L84.37,269.85 L84.87,269.94 L85.37,270.03 L85.88,270.15 L86.40,270.28 L86.94,270.43 L87.50,270.59 L88.09,270.77 L88.70,270.99 L89.33,271.23 L89.97,271.48 L90.62,271.75 L91.27,272.02 L91.92,272.30 L92.56,272.57 L93.19,272.83 L93.80,273.07 L94.40,273.29 L94.99,273.52 L95.57,273.74 L96.15,273.96 L96.72,274.17 L97.28,274.38 L97.85,274.59 L98.40,274.79 L98.95,274.99 L99.50,275.19 L100.04,275.38 L100.58,275.57 L101.11,275.76 L101.64,275.94 L102.16,276.11 L102.67,276.29 L103.19,276.46 L103.69,276.63 L104.20,276.80 L104.70,276.96 L105.20,277.12 L105.69,277.28 L106.18,277.44 L106.66,277.60 L107.14,277.75 L107.61,277.90 L108.09,278.05 L108.56,278.19 L109.03,278.33 L109.50,278.46 L109.97,278.60 L110.45,278.73 L110.93,278.86 L111.41,278.98 L111.89,279.11 L112.36,279.22 L112.81,279.33 L113.26,279.44 L113.69,279.53 L114.10,279.62 L114.49,279.69 L114.86,279.75 L115.21,279.81 L115.55,279.85 L115.88,279.89 L116.20,279.93 L116.52,279.96 L116.84,279.99 L117.17,280.02 L117.50,280.06 L117.84,280.09 L118.19,280.12 L118.55,280.15 L118.90,280.18 L119.25,280.21 L119.60,280.23 L119.94,280.26 L120.27,280.28 L120.59,280.30 L120.90,280.32 L121.20,280.35 L121.51,280.37 L121.82,280.39 L122.12,280.41 L122.41,280.43 L122.69,280.45 L122.94,280.46 L123.16,280.48 L123.35,280.49 L123.50,280.50 L123.50,280.50Z" fill="#f7e62a"/>
<rect x="39.5" y="262.5" width="86.2" height="18.00" fill="none" stroke="#000" stroke-width="1.2"/>
<line x1="36.70" x2="39.5" y1="271" y2="271" stroke="#000" stroke-width="0.9"/>
<line x1="36.70" x2="39.5" y1="280.2" y2="280.2" stroke="#000" stroke-width="0.9"/>
<line x1="43.25" x2="43.25" y1="280.5" y2="283.3" stroke="#000" stroke-width="0.8"/>
<line x1="62.00" x2="62.00" y1="280.5" y2="283.3" stroke="#000" stroke-width="0.8"/>
<line x1="81.00" x2="81.00" y1="280.5" y2="283.3" stroke="#000" stroke-width="0.8"/>
<line x1="99.50" x2="99.50" y1="280.5" y2="283.3" stroke="#000" stroke-width="0.8"/>
<line x1="118.50" x2="118.50" y1="280.5" y2="283.3" stroke="#000" stroke-width="0.8"/>
<text x="43.25" y="293.20" font-size="8.8" text-anchor="middle" fill="#000" stroke="#000" stroke-width="0.22" >0</text>
<text x="81.00" y="293.20" font-size="8.8" text-anchor="middle" fill="#000" stroke="#000" stroke-width="0.22" >1</text>
<text x="118.50" y="293.20" font-size="8.8" text-anchor="middle" fill="#000" stroke="#000" stroke-width="0.22" >10</text>
<text x="83.50" y="305.50" font-size="10.4" text-anchor="middle" fill="#111" textLength="79.50" lengthAdjust="spacingAndGlyphs" stroke="#111" stroke-width="0.22" >Gene expression (cptt)</text>
<text x="25.90" y="219.40" font-size="10" text-anchor="middle" fill="#1a1a1a" transform="rotate(-90 25.90 219.40)" textLength="15.50" lengthAdjust="spacingAndGlyphs" stroke="#1a1a1a" stroke-width="0.22" >TAL1</text>
<text x="25.90" y="262.40" font-size="10" text-anchor="middle" fill="#1a1a1a" transform="rotate(-90 25.90 262.40)" textLength="21.60" lengthAdjust="spacingAndGlyphs" stroke="#1a1a1a" stroke-width="0.22" >GATA2</text>
<path d="M168.05,234.40 L168.05,202.39 L168.21,202.46 L168.42,202.55 L168.68,202.65 L168.96,202.76 L169.26,202.89 L169.57,203.02 L169.87,203.18 L170.15,203.34 L170.40,203.52 L170.60,203.71 L170.76,203.91 L170.90,204.13 L171.01,204.36 L171.11,204.61 L171.20,204.86 L171.27,205.14 L171.35,205.42 L171.42,205.72 L171.51,206.03 L171.60,206.35 L171.70,206.67 L171.79,206.97 L171.87,207.26 L171.96,207.57 L172.04,207.90 L172.14,208.26 L172.23,208.67 L172.34,209.14 L172.46,209.68 L172.60,210.31 L172.75,211.05 L172.92,211.89 L173.10,212.82 L173.30,213.81 L173.49,214.85 L173.70,215.90 L173.90,216.95 L174.11,217.98 L174.31,218.96 L174.50,219.88 L174.69,220.76 L174.89,221.66 L175.09,222.55 L175.28,223.44 L175.48,224.29 L175.68,225.12 L175.87,225.89 L176.05,226.60 L176.23,227.24 L176.40,227.80 L176.56,228.26 L176.71,228.64 L176.85,228.93 L176.99,229.17 L177.13,229.36 L177.26,229.52 L177.39,229.66 L177.52,229.79 L177.66,229.94 L177.80,230.11 L177.94,230.29 L178.07,230.46 L178.20,230.62 L178.33,230.77 L178.46,230.92 L178.59,231.05 L178.74,231.18 L178.91,231.30 L179.09,231.42 L179.30,231.53 L179.53,231.64 L179.79,231.75 L180.06,231.85 L180.35,231.95 L180.65,232.04 L180.96,232.12 L181.27,232.19 L181.58,232.24 L181.90,232.27 L182.20,232.29 L182.50,232.28 L182.80,232.26 L183.10,232.21 L183.40,232.15 L183.71,232.08 L184.01,232.00 L184.33,231.91 L184.64,231.81 L184.97,231.70 L185.30,231.59 L185.64,231.48 L185.99,231.35 L186.35,231.20 L186.71,231.05 L187.08,230.89 L187.45,230.73 L187.82,230.57 L188.18,230.41 L188.55,230.26 L188.90,230.11 L189.25,229.97 L189.59,229.82 L189.94,229.68 L190.28,229.54 L190.62,229.40 L190.96,229.26 L191.29,229.13 L191.63,229.01 L191.96,228.89 L192.30,228.79 L192.63,228.69 L192.97,228.60 L193.30,228.51 L193.63,228.42 L193.96,228.35 L194.29,228.28 L194.62,228.22 L194.95,228.18 L195.27,228.15 L195.60,228.13 L195.92,228.13 L196.24,228.15 L196.55,228.18 L196.87,228.22 L197.18,228.27 L197.50,228.34 L197.81,228.40 L198.14,228.48 L198.46,228.55 L198.80,228.62 L199.14,228.70 L199.48,228.79 L199.83,228.88 L200.17,228.97 L200.53,229.07 L200.88,229.17 L201.25,229.28 L201.62,229.39 L202.01,229.50 L202.40,229.62 L202.80,229.73 L203.22,229.86 L203.64,229.99 L204.06,230.13 L204.50,230.26 L204.94,230.40 L205.40,230.54 L205.86,230.68 L206.32,230.81 L206.80,230.94 L207.29,231.06 L207.79,231.18 L208.30,231.31 L208.82,231.43 L209.34,231.55 L209.87,231.67 L210.41,231.78 L210.94,231.89 L211.47,231.99 L212.00,232.09 L212.52,232.18 L213.04,232.27 L213.55,232.35 L214.07,232.43 L214.59,232.50 L215.11,232.57 L215.64,232.63 L216.18,232.70 L216.73,232.76 L217.30,232.82 L217.88,232.87 L218.47,232.93 L219.07,232.97 L219.69,233.02 L220.31,233.07 L220.93,233.11 L221.57,233.15 L222.21,233.18 L222.85,233.21 L223.50,233.25 L224.16,233.27 L224.82,233.30 L225.50,233.32 L226.18,233.34 L226.87,233.35 L227.56,233.37 L228.25,233.38 L228.94,233.39 L229.62,233.40 L230.30,233.41 L230.97,233.42 L231.63,233.42 L232.29,233.41 L232.94,233.41 L233.59,233.41 L234.25,233.40 L234.92,233.40 L235.60,233.40 L236.29,233.40 L237.00,233.41 L237.74,233.42 L238.52,233.44 L239.32,233.45 L240.13,233.47 L240.95,233.49 L241.76,233.52 L242.55,233.55 L243.31,233.57 L244.03,233.61 L244.70,233.64 L245.34,233.68 L245.97,233.73 L246.58,233.79 L247.17,233.84 L247.73,233.90 L248.25,233.96 L248.73,234.02 L249.15,234.06 L249.51,234.11 L249.80,234.14 L249.80,234.40Z" fill="#a9c5e3"/>
<rect x="164.3" y="201.4" width="3.9" height="33.00" fill="#d3b4d8"/>
<rect x="211.90" y="217.6" width="24.30" height="16.80" fill="#f9f193" opacity="0.88"/>
<rect x="164.3" y="201.4" width="86.2" height="33.00" fill="none" stroke="#000" stroke-width="1.2"/>
<line x1="161.50" x2="164.3" y1="210.6" y2="210.6" stroke="#000" stroke-width="0.9"/>
<line x1="161.50" x2="164.3" y1="234.2" y2="234.2" stroke="#000" stroke-width="0.9"/>
<line x1="168.05" x2="168.05" y1="234.4" y2="236.8" stroke="#000" stroke-width="0.8"/>
<line x1="186.80" x2="186.80" y1="234.4" y2="236.8" stroke="#000" stroke-width="0.8"/>
<line x1="205.80" x2="205.80" y1="234.4" y2="236.8" stroke="#000" stroke-width="0.8"/>
<line x1="224.30" x2="224.30" y1="234.4" y2="236.8" stroke="#000" stroke-width="0.8"/>
<line x1="243.30" x2="243.30" y1="234.4" y2="236.8" stroke="#000" stroke-width="0.8"/>
<rect x="192.30" y="200.5" width="60.3" height="16.6" fill="#fff" stroke="#000" stroke-width="1.15"/>
<text x="222.60" y="211.70" font-size="8.4" text-anchor="middle" fill="#000" textLength="46.60" lengthAdjust="spacingAndGlyphs" stroke="#000" stroke-width="0.22" >P = 4.6e-05</text>
<path d="M168.15,257.60 L168.15,240.33 L168.25,240.45 L168.37,240.59 L168.52,240.74 L168.68,240.92 L168.86,241.12 L169.05,241.35 L169.24,241.59 L169.43,241.86 L169.62,242.15 L169.80,242.47 L169.98,242.83 L170.16,243.23 L170.34,243.66 L170.52,244.13 L170.71,244.61 L170.89,245.09 L171.08,245.58 L171.26,246.05 L171.43,246.50 L171.60,246.92 L171.76,247.32 L171.92,247.70 L172.08,248.08 L172.23,248.44 L172.38,248.80 L172.52,249.15 L172.67,249.49 L172.81,249.83 L172.96,250.16 L173.10,250.48 L173.24,250.79 L173.36,251.10 L173.48,251.39 L173.60,251.67 L173.71,251.95 L173.84,252.22 L173.97,252.50 L174.13,252.77 L174.30,253.05 L174.50,253.33 L174.73,253.62 L174.97,253.93 L175.23,254.24 L175.51,254.56 L175.80,254.87 L176.10,255.18 L176.42,255.47 L176.74,255.73 L177.07,255.97 L177.40,256.18 L177.74,256.35 L178.11,256.51 L178.48,256.64 L178.86,256.76 L179.26,256.85 L179.65,256.93 L180.05,256.99 L180.44,257.03 L180.82,257.06 L181.20,257.07 L181.57,257.05 L181.92,257.01 L182.28,256.94 L182.63,256.86 L182.98,256.76 L183.33,256.65 L183.69,256.53 L184.05,256.41 L184.42,256.29 L184.80,256.18 L185.18,256.06 L185.56,255.93 L185.94,255.79 L186.32,255.65 L186.71,255.50 L187.11,255.36 L187.53,255.21 L187.96,255.08 L188.42,254.94 L188.90,254.82 L189.41,254.71 L189.95,254.58 L190.52,254.46 L191.10,254.35 L191.69,254.24 L192.30,254.13 L192.91,254.04 L193.51,253.96 L194.11,253.90 L194.70,253.86 L195.29,253.84 L195.89,253.84 L196.50,253.85 L197.12,253.88 L197.73,253.92 L198.32,253.97 L198.91,254.02 L199.47,254.09 L200.00,254.15 L200.50,254.22 L200.96,254.29 L201.39,254.37 L201.79,254.47 L202.16,254.56 L202.53,254.67 L202.88,254.78 L203.22,254.88 L203.57,254.99 L203.93,255.10 L204.30,255.20 L204.68,255.30 L205.05,255.40 L205.41,255.50 L205.78,255.61 L206.14,255.71 L206.52,255.81 L206.89,255.91 L207.28,256.00 L207.68,256.09 L208.10,256.18 L208.53,256.25 L208.98,256.33 L209.43,256.40 L209.90,256.47 L210.38,256.53 L210.86,256.59 L211.34,256.65 L211.83,256.70 L212.31,256.75 L212.80,256.80 L213.27,256.84 L213.71,256.88 L214.14,256.91 L214.56,256.94 L215.00,256.97 L215.46,257.00 L215.96,257.02 L216.51,257.04 L217.12,257.05 L217.80,257.07 L218.58,257.08 L219.44,257.09 L220.37,257.10 L221.36,257.11 L222.38,257.12 L223.41,257.12 L224.43,257.11 L225.44,257.10 L226.40,257.09 L227.30,257.07 L228.17,257.03 L229.03,256.98 L229.88,256.91 L230.72,256.84 L231.53,256.77 L232.32,256.70 L233.08,256.64 L233.80,256.58 L234.47,256.55 L235.10,256.53 L235.67,256.54 L236.18,256.56 L236.65,256.59 L237.07,256.64 L237.47,256.69 L237.84,256.75 L238.20,256.81 L238.56,256.87 L238.92,256.93 L239.30,256.98 L239.68,257.02 L240.04,257.07 L240.40,257.12 L240.75,257.17 L241.09,257.22 L241.43,257.26 L241.77,257.31 L242.11,257.35 L242.45,257.39 L242.80,257.42 L243.17,257.45 L243.56,257.48 L243.96,257.50 L244.37,257.52 L244.77,257.54 L245.15,257.55 L245.51,257.57 L245.82,257.58 L246.09,257.59 L246.30,257.60 L246.30,257.60Z" fill="#46186a"/>
<rect x="164.3" y="239.5" width="86.2" height="18.10" fill="none" stroke="#000" stroke-width="1.2"/>
<line x1="161.50" x2="164.3" y1="242.2" y2="242.2" stroke="#000" stroke-width="0.9"/>
<line x1="161.50" x2="164.3" y1="257.2" y2="257.2" stroke="#000" stroke-width="0.9"/>
<line x1="168.05" x2="168.05" y1="257.6" y2="260.0" stroke="#000" stroke-width="0.8"/>
<line x1="186.80" x2="186.80" y1="257.6" y2="260.0" stroke="#000" stroke-width="0.8"/>
<line x1="205.80" x2="205.80" y1="257.6" y2="260.0" stroke="#000" stroke-width="0.8"/>
<line x1="224.30" x2="224.30" y1="257.6" y2="260.0" stroke="#000" stroke-width="0.8"/>
<line x1="243.30" x2="243.30" y1="257.6" y2="260.0" stroke="#000" stroke-width="0.8"/>
<path d="M168.15,280.50 L168.15,263.69 L168.35,263.69 L168.61,263.69 L168.92,263.69 L169.26,263.68 L169.63,263.69 L170.02,263.70 L170.42,263.74 L170.83,263.80 L171.22,263.90 L171.60,264.04 L171.97,264.22 L172.35,264.43 L172.74,264.68 L173.13,264.95 L173.53,265.24 L173.93,265.56 L174.32,265.88 L174.72,266.21 L175.11,266.54 L175.50,266.87 L175.89,267.21 L176.29,267.58 L176.69,267.97 L177.09,268.37 L177.49,268.77 L177.88,269.17 L178.26,269.56 L178.62,269.93 L178.97,270.28 L179.30,270.59 L179.60,270.87 L179.89,271.13 L180.15,271.38 L180.40,271.60 L180.64,271.82 L180.88,272.02 L181.11,272.20 L181.33,272.38 L181.56,272.55 L181.80,272.71 L182.04,272.87 L182.27,273.02 L182.51,273.16 L182.74,273.29 L182.97,273.41 L183.20,273.51 L183.42,273.61 L183.65,273.68 L183.87,273.74 L184.10,273.77 L184.32,273.79 L184.54,273.79 L184.75,273.77 L184.97,273.73 L185.18,273.67 L185.40,273.61 L185.61,273.53 L185.84,273.44 L186.06,273.35 L186.30,273.24 L186.54,273.13 L186.79,273.00 L187.04,272.87 L187.30,272.72 L187.56,272.56 L187.82,272.39 L188.09,272.21 L188.35,272.03 L188.63,271.84 L188.90,271.65 L189.18,271.45 L189.46,271.23 L189.75,271.00 L190.04,270.76 L190.33,270.52 L190.63,270.28 L190.92,270.04 L191.22,269.80 L191.51,269.57 L191.80,269.35 L192.09,269.14 L192.38,268.92 L192.68,268.71 L192.97,268.50 L193.27,268.30 L193.56,268.10 L193.85,267.91 L194.14,267.73 L194.42,267.56 L194.70,267.40 L194.97,267.26 L195.25,267.12 L195.51,267.00 L195.78,266.88 L196.04,266.77 L196.30,266.67 L196.56,266.58 L196.81,266.49 L197.06,266.41 L197.30,266.34 L197.54,266.27 L197.76,266.21 L197.99,266.15 L198.20,266.10 L198.42,266.05 L198.63,266.02 L198.85,265.99 L199.06,265.98 L199.28,265.98 L199.50,265.99 L199.73,266.01 L199.95,266.05 L200.18,266.09 L200.40,266.15 L200.63,266.22 L200.86,266.30 L201.09,266.38 L201.33,266.48 L201.56,266.58 L201.80,266.69 L202.03,266.81 L202.23,266.91 L202.43,267.02 L202.63,267.14 L202.83,267.27 L203.05,267.42 L203.30,267.59 L203.59,267.78 L203.92,268.02 L204.30,268.29 L204.76,268.62 L205.28,269.01 L205.86,269.44 L206.48,269.91 L207.12,270.40 L207.77,270.89 L208.41,271.36 L209.02,271.80 L209.59,272.20 L210.10,272.54 L210.55,272.81 L210.97,273.05 L211.35,273.26 L211.72,273.44 L212.06,273.60 L212.40,273.74 L212.73,273.88 L213.07,274.01 L213.43,274.15 L213.80,274.31 L214.19,274.46 L214.57,274.61 L214.96,274.76 L215.35,274.90 L215.75,275.04 L216.15,275.17 L216.55,275.31 L216.96,275.44 L217.38,275.58 L217.80,275.72 L218.23,275.86 L218.66,276.01 L219.10,276.15 L219.54,276.30 L219.99,276.45 L220.44,276.59 L220.90,276.73 L221.36,276.87 L221.83,277.01 L222.30,277.14 L222.78,277.26 L223.27,277.39 L223.76,277.50 L224.26,277.62 L224.77,277.74 L225.28,277.85 L225.78,277.96 L226.29,278.06 L226.80,278.17 L227.30,278.27 L227.80,278.37 L228.30,278.47 L228.81,278.57 L229.31,278.66 L229.82,278.75 L230.32,278.84 L230.82,278.93 L231.32,279.01 L231.81,279.09 L232.30,279.17 L232.78,279.25 L233.27,279.32 L233.74,279.39 L234.22,279.45 L234.69,279.52 L235.16,279.58 L235.63,279.63 L236.09,279.69 L236.55,279.74 L237.00,279.79 L237.45,279.84 L237.90,279.88 L238.35,279.92 L238.79,279.96 L239.23,280.00 L239.66,280.03 L240.09,280.06 L240.50,280.09 L240.91,280.12 L241.30,280.15 L241.68,280.17 L242.05,280.19 L242.41,280.21 L242.76,280.23 L243.11,280.25 L243.44,280.26 L243.77,280.28 L244.09,280.29 L244.40,280.31 L244.70,280.32 L245.00,280.34 L245.31,280.36 L245.62,280.38 L245.92,280.40 L246.21,280.42 L246.49,280.44 L246.74,280.46 L246.96,280.48 L247.15,280.49 L247.30,280.50 L247.30,280.50Z" fill="#f7e62a"/>
<rect x="164.3" y="262.5" width="86.2" height="18.00" fill="none" stroke="#000" stroke-width="1.2"/>
<line x1="161.50" x2="164.3" y1="271" y2="271" stroke="#000" stroke-width="0.9"/>
<line x1="161.50" x2="164.3" y1="280.2" y2="280.2" stroke="#000" stroke-width="0.9"/>
<line x1="168.05" x2="168.05" y1="280.5" y2="283.3" stroke="#000" stroke-width="0.8"/>
<line x1="186.80" x2="186.80" y1="280.5" y2="283.3" stroke="#000" stroke-width="0.8"/>
<line x1="205.80" x2="205.80" y1="280.5" y2="283.3" stroke="#000" stroke-width="0.8"/>
<line x1="224.30" x2="224.30" y1="280.5" y2="283.3" stroke="#000" stroke-width="0.8"/>
<line x1="243.30" x2="243.30" y1="280.5" y2="283.3" stroke="#000" stroke-width="0.8"/>
<text x="168.05" y="293.20" font-size="8.8" text-anchor="middle" fill="#000" stroke="#000" stroke-width="0.22" >0</text>
<text x="205.80" y="293.20" font-size="8.8" text-anchor="middle" fill="#000" stroke="#000" stroke-width="0.22" >1</text>
<text x="243.30" y="293.20" font-size="8.8" text-anchor="middle" fill="#000" stroke="#000" stroke-width="0.22" >10</text>
<text x="208.30" y="305.50" font-size="10.4" text-anchor="middle" fill="#111" textLength="79.50" lengthAdjust="spacingAndGlyphs" stroke="#111" stroke-width="0.22" >Gene expression (cptt)</text>
<text x="150.70" y="219.40" font-size="10" text-anchor="middle" fill="#1a1a1a" transform="rotate(-90 150.70 219.40)" textLength="21.60" lengthAdjust="spacingAndGlyphs" stroke="#1a1a1a" stroke-width="0.22" >GATA2</text>
<text x="150.70" y="262.40" font-size="10" text-anchor="middle" fill="#1a1a1a" transform="rotate(-90 150.70 262.40)" textLength="15.50" lengthAdjust="spacingAndGlyphs" stroke="#1a1a1a" stroke-width="0.22" >TAL1</text>
<path d="M294.05,234.40 L294.05,202.39 L294.21,202.46 L294.42,202.55 L294.68,202.65 L294.96,202.76 L295.26,202.89 L295.57,203.02 L295.87,203.18 L296.15,203.34 L296.40,203.52 L296.60,203.71 L296.76,203.91 L296.90,204.13 L297.01,204.36 L297.11,204.61 L297.20,204.86 L297.27,205.14 L297.35,205.42 L297.42,205.72 L297.51,206.03 L297.60,206.35 L297.70,206.67 L297.79,206.97 L297.87,207.26 L297.96,207.57 L298.04,207.90 L298.14,208.26 L298.23,208.67 L298.34,209.14 L298.46,209.68 L298.60,210.31 L298.75,211.05 L298.92,211.89 L299.10,212.82 L299.30,213.81 L299.49,214.85 L299.70,215.90 L299.90,216.95 L300.11,217.98 L300.31,218.96 L300.50,219.88 L300.69,220.76 L300.89,221.66 L301.09,222.55 L301.28,223.44 L301.48,224.29 L301.68,225.12 L301.87,225.89 L302.05,226.60 L302.23,227.24 L302.40,227.80 L302.56,228.26 L302.71,228.64 L302.85,228.93 L302.99,229.17 L303.12,229.36 L303.26,229.52 L303.39,229.66 L303.52,229.79 L303.66,229.94 L303.80,230.11 L303.94,230.29 L304.07,230.46 L304.20,230.62 L304.33,230.77 L304.46,230.92 L304.59,231.05 L304.74,231.18 L304.91,231.30 L305.09,231.42 L305.30,231.53 L305.53,231.64 L305.79,231.75 L306.06,231.85 L306.35,231.95 L306.65,232.04 L306.96,232.12 L307.27,232.19 L307.58,232.24 L307.90,232.27 L308.20,232.29 L308.50,232.28 L308.80,232.26 L309.10,232.21 L309.40,232.15 L309.71,232.08 L310.01,232.00 L310.33,231.91 L310.64,231.81 L310.97,231.70 L311.30,231.59 L311.64,231.48 L311.99,231.35 L312.35,231.20 L312.71,231.05 L313.08,230.89 L313.45,230.73 L313.82,230.57 L314.18,230.41 L314.55,230.26 L314.90,230.11 L315.25,229.97 L315.59,229.82 L315.94,229.68 L316.28,229.54 L316.62,229.40 L316.96,229.26 L317.29,229.13 L317.63,229.01 L317.96,228.89 L318.30,228.79 L318.63,228.69 L318.97,228.60 L319.30,228.51 L319.63,228.42 L319.96,228.35 L320.29,228.28 L320.62,228.22 L320.95,228.18 L321.27,228.15 L321.60,228.13 L321.92,228.13 L322.24,228.15 L322.55,228.18 L322.87,228.22 L323.18,228.27 L323.50,228.34 L323.81,228.40 L324.14,228.48 L324.46,228.55 L324.80,228.62 L325.14,228.70 L325.48,228.79 L325.83,228.88 L326.17,228.97 L326.52,229.07 L326.88,229.17 L327.25,229.28 L327.62,229.39 L328.01,229.50 L328.40,229.62 L328.80,229.73 L329.22,229.86 L329.64,229.99 L330.06,230.13 L330.50,230.26 L330.94,230.40 L331.40,230.54 L331.86,230.68 L332.32,230.81 L332.80,230.94 L333.29,231.06 L333.79,231.18 L334.30,231.31 L334.82,231.43 L335.34,231.55 L335.87,231.67 L336.41,231.78 L336.94,231.89 L337.47,231.99 L338.00,232.09 L338.52,232.18 L339.04,232.27 L339.55,232.35 L340.07,232.43 L340.59,232.50 L341.11,232.57 L341.64,232.63 L342.18,232.70 L342.73,232.76 L343.30,232.82 L343.88,232.87 L344.47,232.93 L345.07,232.97 L345.69,233.02 L346.31,233.07 L346.93,233.11 L347.57,233.15 L348.21,233.18 L348.85,233.21 L349.50,233.25 L350.16,233.27 L350.82,233.30 L351.50,233.32 L352.18,233.34 L352.87,233.35 L353.56,233.37 L354.25,233.38 L354.94,233.39 L355.62,233.40 L356.30,233.41 L356.97,233.42 L357.63,233.42 L358.29,233.41 L358.94,233.41 L359.59,233.41 L360.25,233.40 L360.92,233.40 L361.60,233.40 L362.29,233.40 L363.00,233.41 L363.74,233.42 L364.52,233.44 L365.32,233.45 L366.13,233.47 L366.95,233.49 L367.76,233.52 L368.55,233.55 L369.31,233.57 L370.03,233.61 L370.70,233.64 L371.34,233.68 L371.97,233.73 L372.58,233.79 L373.17,233.84 L373.73,233.90 L374.25,233.96 L374.73,234.02 L375.15,234.06 L375.51,234.11 L375.80,234.14 L375.80,234.40Z" fill="#a9c5e3"/>
<rect x="290.3" y="201.4" width="3.9" height="33.00" fill="#d3b4d8"/>
<rect x="336.80" y="217.6" width="24.30" height="16.80" fill="#f9f193" opacity="0.88"/>
<rect x="290.3" y="201.4" width="86.2" height="33.00" fill="none" stroke="#000" stroke-width="1.2"/>
<line x1="287.50" x2="290.3" y1="210.6" y2="210.6" stroke="#000" stroke-width="0.9"/>
<line x1="287.50" x2="290.3" y1="234.2" y2="234.2" stroke="#000" stroke-width="0.9"/>
<line x1="294.05" x2="294.05" y1="234.4" y2="236.8" stroke="#000" stroke-width="0.8"/>
<line x1="312.80" x2="312.80" y1="234.4" y2="236.8" stroke="#000" stroke-width="0.8"/>
<line x1="331.80" x2="331.80" y1="234.4" y2="236.8" stroke="#000" stroke-width="0.8"/>
<line x1="350.30" x2="350.30" y1="234.4" y2="236.8" stroke="#000" stroke-width="0.8"/>
<line x1="369.30" x2="369.30" y1="234.4" y2="236.8" stroke="#000" stroke-width="0.8"/>
<rect x="318.30" y="200.5" width="60.3" height="16.6" fill="#fff" stroke="#000" stroke-width="1.15"/>
<text x="348.60" y="211.70" font-size="8.4" text-anchor="middle" fill="#000" textLength="46.60" lengthAdjust="spacingAndGlyphs" stroke="#000" stroke-width="0.22" >P = 1.1e-05</text>
<path d="M294.15,257.60 L294.15,240.33 L294.25,240.44 L294.38,240.57 L294.53,240.73 L294.69,240.90 L294.88,241.09 L295.06,241.30 L295.26,241.53 L295.45,241.77 L295.63,242.02 L295.80,242.29 L295.96,242.58 L296.13,242.90 L296.29,243.25 L296.45,243.61 L296.62,243.98 L296.78,244.36 L296.94,244.75 L297.09,245.13 L297.25,245.50 L297.40,245.85 L297.55,246.20 L297.69,246.54 L297.83,246.89 L297.97,247.23 L298.11,247.57 L298.24,247.90 L298.38,248.24 L298.52,248.57 L298.66,248.90 L298.80,249.23 L298.94,249.56 L299.07,249.89 L299.20,250.21 L299.33,250.53 L299.46,250.85 L299.59,251.17 L299.74,251.49 L299.91,251.81 L300.09,252.12 L300.30,252.44 L300.53,252.76 L300.79,253.10 L301.07,253.45 L301.36,253.79 L301.66,254.13 L301.97,254.47 L302.29,254.78 L302.60,255.07 L302.90,255.33 L303.20,255.55 L303.49,255.75 L303.78,255.92 L304.08,256.07 L304.37,256.20 L304.66,256.30 L304.95,256.39 L305.24,256.46 L305.53,256.50 L305.82,256.53 L306.10,256.53 L306.38,256.51 L306.65,256.47 L306.92,256.40 L307.18,256.30 L307.44,256.19 L307.71,256.07 L307.97,255.93 L308.24,255.78 L308.52,255.62 L308.80,255.46 L309.08,255.30 L309.35,255.12 L309.62,254.94 L309.89,254.74 L310.17,254.53 L310.46,254.31 L310.76,254.08 L311.08,253.84 L311.43,253.59 L311.80,253.33 L312.21,253.04 L312.67,252.72 L313.16,252.38 L313.67,252.03 L314.19,251.67 L314.71,251.32 L315.22,250.97 L315.71,250.66 L316.18,250.37 L316.60,250.12 L316.99,249.92 L317.35,249.74 L317.70,249.58 L318.02,249.45 L318.34,249.33 L318.64,249.23 L318.93,249.14 L319.22,249.05 L319.51,248.96 L319.80,248.88 L320.08,248.79 L320.35,248.71 L320.61,248.64 L320.87,248.57 L321.12,248.51 L321.37,248.46 L321.62,248.42 L321.87,248.38 L322.13,248.36 L322.40,248.34 L322.68,248.34 L322.96,248.35 L323.25,248.37 L323.54,248.40 L323.83,248.43 L324.13,248.48 L324.42,248.53 L324.72,248.58 L325.01,248.64 L325.30,248.70 L325.59,248.76 L325.88,248.83 L326.16,248.91 L326.45,248.98 L326.74,249.07 L327.03,249.16 L327.32,249.25 L327.61,249.36 L327.90,249.47 L328.20,249.59 L328.50,249.72 L328.80,249.86 L329.10,250.01 L329.40,250.17 L329.71,250.34 L330.01,250.50 L330.33,250.68 L330.64,250.85 L330.97,251.02 L331.30,251.19 L331.64,251.37 L331.98,251.55 L332.33,251.73 L332.69,251.92 L333.05,252.10 L333.41,252.29 L333.78,252.47 L334.15,252.65 L334.53,252.81 L334.90,252.97 L335.28,253.12 L335.66,253.26 L336.05,253.39 L336.44,253.52 L336.84,253.65 L337.23,253.76 L337.63,253.88 L338.02,253.99 L338.41,254.11 L338.80,254.22 L339.18,254.33 L339.55,254.44 L339.92,254.54 L340.28,254.65 L340.65,254.75 L341.02,254.84 L341.40,254.94 L341.78,255.03 L342.18,255.11 L342.60,255.20 L343.03,255.27 L343.48,255.35 L343.94,255.42 L344.41,255.48 L344.88,255.55 L345.36,255.61 L345.85,255.66 L346.33,255.72 L346.82,255.77 L347.30,255.82 L347.78,255.87 L348.27,255.91 L348.76,255.95 L349.26,255.99 L349.76,256.02 L350.25,256.05 L350.75,256.08 L351.24,256.11 L351.72,256.15 L352.20,256.18 L352.67,256.21 L353.13,256.24 L353.59,256.26 L354.04,256.29 L354.49,256.32 L354.95,256.34 L355.40,256.37 L355.86,256.39 L356.33,256.42 L356.80,256.44 L357.29,256.47 L357.79,256.49 L358.30,256.52 L358.82,256.55 L359.34,256.57 L359.85,256.60 L360.36,256.62 L360.86,256.65 L361.34,256.68 L361.80,256.71 L362.24,256.74 L362.67,256.78 L363.08,256.81 L363.49,256.85 L363.88,256.88 L364.27,256.92 L364.65,256.96 L365.04,256.99 L365.42,257.03 L365.80,257.07 L366.18,257.10 L366.56,257.14 L366.93,257.18 L367.30,257.22 L367.66,257.26 L368.03,257.29 L368.39,257.33 L368.76,257.36 L369.13,257.39 L369.50,257.42 L369.89,257.45 L370.31,257.47 L370.75,257.49 L371.20,257.51 L371.63,257.53 L372.05,257.55 L372.44,257.57 L372.78,257.58 L373.07,257.59 L373.30,257.60 L373.30,257.60Z" fill="#46186a"/>
<rect x="290.3" y="239.5" width="86.2" height="18.10" fill="none" stroke="#000" stroke-width="1.2"/>
<line x1="287.50" x2="290.3" y1="242.2" y2="242.2" stroke="#000" stroke-width="0.9"/>
<line x1="287.50" x2="290.3" y1="257.2" y2="257.2" stroke="#000" stroke-width="0.9"/>
<line x1="294.05" x2="294.05" y1="257.6" y2="260.0" stroke="#000" stroke-width="0.8"/>
<line x1="312.80" x2="312.80" y1="257.6" y2="260.0" stroke="#000" stroke-width="0.8"/>
<line x1="331.80" x2="331.80" y1="257.6" y2="260.0" stroke="#000" stroke-width="0.8"/>
<line x1="350.30" x2="350.30" y1="257.6" y2="260.0" stroke="#000" stroke-width="0.8"/>
<line x1="369.30" x2="369.30" y1="257.6" y2="260.0" stroke="#000" stroke-width="0.8"/>
<path d="M294.15,280.50 L294.15,263.69 L294.29,263.77 L294.48,263.87 L294.70,263.98 L294.95,264.12 L295.21,264.26 L295.48,264.42 L295.75,264.58 L296.01,264.75 L296.24,264.92 L296.45,265.10 L296.63,265.28 L296.80,265.47 L296.95,265.68 L297.09,265.88 L297.23,266.10 L297.36,266.32 L297.50,266.54 L297.63,266.77 L297.76,267.00 L297.90,267.23 L298.04,267.46 L298.18,267.70 L298.32,267.94 L298.46,268.19 L298.60,268.44 L298.74,268.69 L298.87,268.95 L299.01,269.20 L299.16,269.45 L299.30,269.70 L299.45,269.95 L299.60,270.20 L299.75,270.46 L299.90,270.71 L300.05,270.96 L300.20,271.22 L300.35,271.46 L300.50,271.71 L300.65,271.95 L300.80,272.18 L300.94,272.41 L301.06,272.62 L301.18,272.83 L301.30,273.04 L301.41,273.24 L301.54,273.45 L301.67,273.65 L301.83,273.86 L302.00,274.08 L302.20,274.31 L302.42,274.55 L302.67,274.81 L302.93,275.08 L303.20,275.36 L303.49,275.63 L303.80,275.90 L304.11,276.16 L304.43,276.40 L304.76,276.61 L305.10,276.78 L305.45,276.93 L305.80,277.06 L306.17,277.16 L306.54,277.25 L306.93,277.33 L307.33,277.38 L307.73,277.43 L308.15,277.46 L308.57,277.48 L309.00,277.49 L309.44,277.49 L309.89,277.46 L310.35,277.42 L310.81,277.37 L311.29,277.30 L311.77,277.23 L312.27,277.16 L312.77,277.09 L313.28,277.02 L313.80,276.96 L314.32,276.90 L314.85,276.84 L315.38,276.77 L315.92,276.70 L316.47,276.63 L317.03,276.56 L317.61,276.51 L318.22,276.47 L318.84,276.44 L319.50,276.43 L320.19,276.44 L320.91,276.46 L321.66,276.50 L322.44,276.56 L323.23,276.62 L324.02,276.68 L324.83,276.75 L325.63,276.83 L326.42,276.89 L327.20,276.96 L327.97,277.02 L328.74,277.09 L329.51,277.16 L330.28,277.23 L331.05,277.30 L331.82,277.37 L332.59,277.44 L333.36,277.52 L334.13,277.59 L334.90,277.67 L335.66,277.74 L336.41,277.82 L337.15,277.90 L337.89,277.98 L338.63,278.06 L339.38,278.14 L340.15,278.22 L340.94,278.30 L341.75,278.38 L342.60,278.46 L343.48,278.54 L344.40,278.63 L345.34,278.71 L346.30,278.79 L347.28,278.87 L348.27,278.95 L349.26,279.03 L350.25,279.11 L351.23,279.18 L352.20,279.26 L353.18,279.34 L354.20,279.42 L355.24,279.50 L356.28,279.57 L357.32,279.65 L358.33,279.73 L359.29,279.80 L360.21,279.86 L361.05,279.92 L361.80,279.97 L362.46,280.01 L363.03,280.04 L363.54,280.07 L363.99,280.09 L364.40,280.11 L364.78,280.13 L365.15,280.14 L365.51,280.15 L365.89,280.17 L366.30,280.18 L366.72,280.20 L367.13,280.21 L367.54,280.23 L367.94,280.24 L368.33,280.25 L368.72,280.27 L369.12,280.28 L369.51,280.29 L369.90,280.31 L370.30,280.32 L370.72,280.34 L371.16,280.36 L371.63,280.38 L372.09,280.40 L372.55,280.42 L372.99,280.44 L373.39,280.46 L373.76,280.48 L374.06,280.49 L374.30,280.50 L374.30,280.50Z" fill="#f7e62a"/>
<rect x="290.3" y="262.5" width="86.2" height="18.00" fill="none" stroke="#000" stroke-width="1.2"/>
<line x1="287.50" x2="290.3" y1="271" y2="271" stroke="#000" stroke-width="0.9"/>
<line x1="287.50" x2="290.3" y1="280.2" y2="280.2" stroke="#000" stroke-width="0.9"/>
<line x1="294.05" x2="294.05" y1="280.5" y2="283.3" stroke="#000" stroke-width="0.8"/>
<line x1="312.80" x2="312.80" y1="280.5" y2="283.3" stroke="#000" stroke-width="0.8"/>
<line x1="331.80" x2="331.80" y1="280.5" y2="283.3" stroke="#000" stroke-width="0.8"/>
<line x1="350.30" x2="350.30" y1="280.5" y2="283.3" stroke="#000" stroke-width="0.8"/>
<line x1="369.30" x2="369.30" y1="280.5" y2="283.3" stroke="#000" stroke-width="0.8"/>
<text x="294.05" y="293.20" font-size="8.8" text-anchor="middle" fill="#000" stroke="#000" stroke-width="0.22" >0</text>
<text x="331.80" y="293.20" font-size="8.8" text-anchor="middle" fill="#000" stroke="#000" stroke-width="0.22" >1</text>
<text x="369.30" y="293.20" font-size="8.8" text-anchor="middle" fill="#000" stroke="#000" stroke-width="0.22" >10</text>
<text x="334.30" y="305.50" font-size="10.4" text-anchor="middle" fill="#111" textLength="79.50" lengthAdjust="spacingAndGlyphs" stroke="#111" stroke-width="0.22" >Gene expression (cptt)</text>
<text x="276.70" y="219.40" font-size="10" text-anchor="middle" fill="#1a1a1a" transform="rotate(-90 276.70 219.40)" textLength="21.60" lengthAdjust="spacingAndGlyphs" stroke="#1a1a1a" stroke-width="0.22" >GATA2</text>
<text x="276.70" y="262.40" font-size="10" text-anchor="middle" fill="#1a1a1a" transform="rotate(-90 276.70 262.40)" textLength="13.50" lengthAdjust="spacingAndGlyphs" stroke="#1a1a1a" stroke-width="0.22" >EGR</text>
<path d="M419.05,234.40 L419.05,202.39 L419.21,202.46 L419.42,202.55 L419.68,202.65 L419.96,202.76 L420.26,202.89 L420.57,203.02 L420.87,203.18 L421.15,203.34 L421.40,203.52 L421.60,203.71 L421.76,203.91 L421.90,204.13 L422.01,204.36 L422.11,204.61 L422.20,204.86 L422.27,205.14 L422.35,205.42 L422.42,205.72 L422.51,206.03 L422.60,206.35 L422.70,206.67 L422.79,206.97 L422.87,207.26 L422.96,207.57 L423.04,207.90 L423.14,208.26 L423.23,208.67 L423.34,209.14 L423.46,209.68 L423.60,210.31 L423.75,211.05 L423.92,211.89 L424.10,212.82 L424.30,213.81 L424.49,214.85 L424.70,215.90 L424.90,216.95 L425.11,217.98 L425.31,218.96 L425.50,219.88 L425.69,220.76 L425.89,221.66 L426.09,222.55 L426.28,223.44 L426.48,224.29 L426.68,225.12 L426.87,225.89 L427.05,226.60 L427.23,227.24 L427.40,227.80 L427.56,228.26 L427.71,228.64 L427.85,228.93 L427.99,229.17 L428.13,229.36 L428.26,229.52 L428.39,229.66 L428.52,229.79 L428.66,229.94 L428.80,230.11 L428.94,230.29 L429.07,230.46 L429.20,230.62 L429.33,230.77 L429.46,230.92 L429.59,231.05 L429.74,231.18 L429.91,231.30 L430.09,231.42 L430.30,231.53 L430.53,231.64 L430.79,231.75 L431.06,231.85 L431.35,231.95 L431.65,232.04 L431.96,232.12 L432.27,232.19 L432.58,232.24 L432.90,232.27 L433.20,232.29 L433.50,232.28 L433.80,232.26 L434.10,232.21 L434.40,232.15 L434.71,232.08 L435.01,232.00 L435.33,231.91 L435.64,231.81 L435.97,231.70 L436.30,231.59 L436.64,231.48 L436.99,231.35 L437.35,231.20 L437.71,231.05 L438.08,230.89 L438.45,230.73 L438.82,230.57 L439.18,230.41 L439.55,230.26 L439.90,230.11 L440.25,229.97 L440.59,229.82 L440.94,229.68 L441.28,229.54 L441.62,229.40 L441.96,229.26 L442.29,229.13 L442.63,229.01 L442.96,228.89 L443.30,228.79 L443.63,228.69 L443.97,228.60 L444.30,228.51 L444.63,228.42 L444.96,228.35 L445.29,228.28 L445.62,228.22 L445.95,228.18 L446.27,228.15 L446.60,228.13 L446.92,228.13 L447.24,228.15 L447.55,228.18 L447.87,228.22 L448.18,228.27 L448.50,228.34 L448.81,228.40 L449.14,228.48 L449.46,228.55 L449.80,228.62 L450.14,228.70 L450.48,228.79 L450.83,228.88 L451.17,228.97 L451.52,229.07 L451.88,229.17 L452.25,229.28 L452.62,229.39 L453.01,229.50 L453.40,229.62 L453.80,229.73 L454.22,229.86 L454.64,229.99 L455.06,230.13 L455.50,230.26 L455.94,230.40 L456.40,230.54 L456.86,230.68 L457.32,230.81 L457.80,230.94 L458.29,231.06 L458.79,231.18 L459.30,231.31 L459.82,231.43 L460.34,231.55 L460.87,231.67 L461.41,231.78 L461.94,231.89 L462.47,231.99 L463.00,232.09 L463.52,232.18 L464.04,232.27 L464.55,232.35 L465.07,232.43 L465.59,232.50 L466.11,232.57 L466.64,232.63 L467.18,232.70 L467.73,232.76 L468.30,232.82 L468.88,232.87 L469.47,232.93 L470.07,232.97 L470.69,233.02 L471.31,233.07 L471.93,233.11 L472.57,233.15 L473.21,233.18 L473.85,233.21 L474.50,233.25 L475.16,233.27 L475.82,233.30 L476.50,233.32 L477.18,233.34 L477.87,233.35 L478.56,233.37 L479.25,233.38 L479.94,233.39 L480.62,233.40 L481.30,233.41 L481.97,233.42 L482.63,233.42 L483.29,233.41 L483.94,233.41 L484.59,233.41 L485.25,233.40 L485.92,233.40 L486.60,233.40 L487.29,233.40 L488.00,233.41 L488.74,233.42 L489.52,233.44 L490.32,233.45 L491.13,233.47 L491.95,233.49 L492.76,233.52 L493.55,233.55 L494.31,233.57 L495.03,233.61 L495.70,233.64 L496.34,233.68 L496.97,233.73 L497.58,233.79 L498.17,233.84 L498.73,233.90 L499.25,233.96 L499.73,234.02 L500.15,234.06 L500.51,234.11 L500.80,234.14 L500.80,234.40Z" fill="#a9c5e3"/>
<rect x="415.3" y="201.4" width="3.9" height="33.00" fill="#d3b4d8"/>
<rect x="461.80" y="217.6" width="24.30" height="16.80" fill="#f9f193" opacity="0.88"/>
<rect x="415.3" y="201.4" width="86.2" height="33.00" fill="none" stroke="#000" stroke-width="1.2"/>
<line x1="412.50" x2="415.3" y1="210.6" y2="210.6" stroke="#000" stroke-width="0.9"/>
<line x1="412.50" x2="415.3" y1="234.2" y2="234.2" stroke="#000" stroke-width="0.9"/>
<line x1="419.05" x2="419.05" y1="234.4" y2="236.8" stroke="#000" stroke-width="0.8"/>
<line x1="437.80" x2="437.80" y1="234.4" y2="236.8" stroke="#000" stroke-width="0.8"/>
<line x1="456.80" x2="456.80" y1="234.4" y2="236.8" stroke="#000" stroke-width="0.8"/>
<line x1="475.30" x2="475.30" y1="234.4" y2="236.8" stroke="#000" stroke-width="0.8"/>
<line x1="494.30" x2="494.30" y1="234.4" y2="236.8" stroke="#000" stroke-width="0.8"/>
<rect x="443.30" y="200.5" width="60.3" height="16.6" fill="#fff" stroke="#000" stroke-width="1.15"/>
<text x="473.60" y="211.70" font-size="8.4" text-anchor="middle" fill="#000" textLength="46.60" lengthAdjust="spacingAndGlyphs" stroke="#000" stroke-width="0.22" >P = 1.4e-02</text>
<path d="M419.15,257.60 L419.15,240.33 L419.23,240.42 L419.33,240.53 L419.46,240.65 L419.60,240.79 L419.74,240.95 L419.90,241.12 L420.06,241.30 L420.21,241.50 L420.36,241.71 L420.50,241.94 L420.63,242.18 L420.76,242.44 L420.90,242.73 L421.03,243.03 L421.16,243.34 L421.29,243.66 L421.42,243.98 L421.55,244.31 L421.67,244.64 L421.80,244.96 L421.92,245.29 L422.04,245.62 L422.16,245.96 L422.28,246.30 L422.40,246.64 L422.52,246.99 L422.64,247.33 L422.76,247.67 L422.88,248.01 L423.00,248.34 L423.12,248.67 L423.23,248.99 L423.33,249.30 L423.44,249.62 L423.54,249.93 L423.66,250.24 L423.79,250.56 L423.94,250.88 L424.10,251.21 L424.30,251.55 L424.53,251.91 L424.78,252.29 L425.05,252.68 L425.34,253.09 L425.65,253.49 L425.96,253.88 L426.28,254.26 L426.59,254.61 L426.90,254.92 L427.20,255.20 L427.49,255.43 L427.79,255.64 L428.10,255.83 L428.40,256.00 L428.71,256.14 L429.00,256.26 L429.30,256.35 L429.58,256.43 L429.85,256.49 L430.10,256.53 L430.34,256.55 L430.56,256.53 L430.77,256.50 L430.97,256.44 L431.16,256.36 L431.35,256.27 L431.54,256.16 L431.72,256.05 L431.91,255.94 L432.10,255.82 L432.29,255.70 L432.48,255.57 L432.66,255.43 L432.85,255.29 L433.03,255.13 L433.22,254.97 L433.40,254.79 L433.60,254.61 L433.79,254.42 L434.00,254.22 L434.21,254.01 L434.43,253.79 L434.65,253.55 L434.88,253.31 L435.11,253.06 L435.35,252.80 L435.58,252.54 L435.82,252.27 L436.06,252.00 L436.30,251.73 L436.53,251.45 L436.75,251.18 L436.96,250.91 L437.18,250.63 L437.39,250.35 L437.62,250.05 L437.87,249.74 L438.15,249.42 L438.46,249.07 L438.80,248.70 L439.19,248.29 L439.61,247.85 L440.07,247.37 L440.55,246.88 L441.06,246.37 L441.57,245.87 L442.09,245.38 L442.60,244.91 L443.11,244.47 L443.60,244.07 L444.09,243.71 L444.58,243.35 L445.08,243.02 L445.59,242.70 L446.09,242.40 L446.58,242.12 L447.06,241.87 L447.53,241.63 L447.98,241.41 L448.40,241.22 L448.79,241.06 L449.16,240.92 L449.49,240.80 L449.82,240.70 L450.13,240.62 L450.44,240.57 L450.76,240.53 L451.08,240.51 L451.43,240.50 L451.80,240.51 L452.20,240.54 L452.63,240.60 L453.07,240.68 L453.53,240.78 L453.99,240.89 L454.45,241.02 L454.90,241.15 L455.33,241.29 L455.73,241.44 L456.10,241.58 L456.43,241.73 L456.74,241.88 L457.02,242.04 L457.28,242.21 L457.53,242.38 L457.78,242.56 L458.02,242.75 L458.27,242.95 L458.53,243.15 L458.80,243.36 L459.08,243.57 L459.34,243.78 L459.59,244.00 L459.84,244.22 L460.11,244.45 L460.38,244.69 L460.68,244.95 L461.02,245.23 L461.39,245.53 L461.80,245.85 L462.27,246.21 L462.78,246.60 L463.33,247.02 L463.92,247.46 L464.52,247.91 L465.15,248.37 L465.77,248.83 L466.40,249.28 L467.01,249.71 L467.60,250.12 L468.19,250.53 L468.81,250.94 L469.43,251.36 L470.06,251.77 L470.68,252.18 L471.29,252.57 L471.87,252.93 L472.43,253.28 L472.94,253.59 L473.40,253.86 L473.81,254.09 L474.17,254.29 L474.49,254.45 L474.77,254.59 L475.04,254.70 L475.29,254.80 L475.53,254.90 L475.77,254.99 L476.03,255.09 L476.30,255.20 L476.58,255.31 L476.87,255.42 L477.15,255.53 L477.43,255.63 L477.71,255.73 L477.99,255.83 L478.27,255.92 L478.55,256.01 L478.82,256.09 L479.10,256.18 L479.37,256.25 L479.64,256.33 L479.90,256.39 L480.17,256.46 L480.43,256.52 L480.70,256.58 L480.96,256.64 L481.24,256.69 L481.51,256.75 L481.80,256.80 L482.09,256.85 L482.40,256.90 L482.71,256.95 L483.02,257.00 L483.34,257.05 L483.66,257.09 L483.97,257.13 L484.29,257.17 L484.60,257.21 L484.90,257.24 L485.20,257.28 L485.49,257.30 L485.78,257.33 L486.07,257.35 L486.36,257.37 L486.65,257.39 L486.94,257.41 L487.22,257.42 L487.51,257.44 L487.80,257.46 L488.10,257.48 L488.43,257.49 L488.76,257.51 L489.10,257.53 L489.43,257.54 L489.75,257.56 L490.04,257.57 L490.31,257.58 L490.53,257.59 L490.70,257.60 L490.70,257.60Z" fill="#46186a"/>
<rect x="415.3" y="239.5" width="86.2" height="18.10" fill="none" stroke="#000" stroke-width="1.2"/>
<line x1="412.50" x2="415.3" y1="242.2" y2="242.2" stroke="#000" stroke-width="0.9"/>
<line x1="412.50" x2="415.3" y1="257.2" y2="257.2" stroke="#000" stroke-width="0.9"/>
<line x1="419.05" x2="419.05" y1="257.6" y2="260.0" stroke="#000" stroke-width="0.8"/>
<line x1="437.80" x2="437.80" y1="257.6" y2="260.0" stroke="#000" stroke-width="0.8"/>
<line x1="456.80" x2="456.80" y1="257.6" y2="260.0" stroke="#000" stroke-width="0.8"/>
<line x1="475.30" x2="475.30" y1="257.6" y2="260.0" stroke="#000" stroke-width="0.8"/>
<line x1="494.30" x2="494.30" y1="257.6" y2="260.0" stroke="#000" stroke-width="0.8"/>
<path d="M419.15,280.50 L419.15,263.69 L419.34,263.73 L419.60,263.77 L419.90,263.81 L420.23,263.86 L420.59,263.93 L420.97,264.01 L421.35,264.11 L421.72,264.23 L422.07,264.38 L422.40,264.57 L422.70,264.80 L422.99,265.06 L423.27,265.36 L423.54,265.68 L423.82,266.02 L424.09,266.37 L424.37,266.73 L424.67,267.08 L424.98,267.43 L425.30,267.76 L425.65,268.08 L426.03,268.43 L426.42,268.78 L426.83,269.13 L427.24,269.48 L427.65,269.82 L428.05,270.14 L428.43,270.44 L428.78,270.71 L429.10,270.94 L429.38,271.14 L429.63,271.30 L429.86,271.43 L430.07,271.54 L430.27,271.63 L430.46,271.71 L430.65,271.78 L430.85,271.85 L431.07,271.92 L431.30,272.00 L431.55,272.09 L431.81,272.18 L432.09,272.27 L432.36,272.36 L432.64,272.44 L432.92,272.51 L433.20,272.58 L433.48,272.63 L433.74,272.68 L434.00,272.71 L434.25,272.73 L434.48,272.74 L434.71,272.74 L434.94,272.72 L435.16,272.70 L435.38,272.67 L435.61,272.64 L435.83,272.61 L436.06,272.57 L436.30,272.54 L436.53,272.51 L436.74,272.49 L436.93,272.49 L437.13,272.48 L437.34,272.46 L437.56,272.42 L437.81,272.37 L438.09,272.29 L438.42,272.17 L438.80,272.00 L439.24,271.79 L439.75,271.53 L440.30,271.22 L440.89,270.89 L441.51,270.53 L442.13,270.17 L442.76,269.81 L443.37,269.45 L443.95,269.12 L444.50,268.82 L445.02,268.53 L445.53,268.25 L446.03,267.97 L446.53,267.69 L447.01,267.42 L447.49,267.17 L447.95,266.93 L448.41,266.71 L448.86,266.51 L449.30,266.34 L449.73,266.19 L450.16,266.07 L450.58,265.96 L450.99,265.88 L451.39,265.81 L451.78,265.75 L452.15,265.71 L452.52,265.68 L452.87,265.65 L453.20,265.63 L453.51,265.62 L453.81,265.63 L454.09,265.64 L454.35,265.67 L454.61,265.71 L454.85,265.76 L455.09,265.81 L455.33,265.86 L455.56,265.92 L455.80,265.99 L456.02,266.04 L456.21,266.08 L456.38,266.11 L456.54,266.15 L456.70,266.20 L456.88,266.26 L457.09,266.35 L457.34,266.48 L457.64,266.65 L458.00,266.87 L458.43,267.15 L458.93,267.48 L459.48,267.86 L460.07,268.28 L460.68,268.72 L461.31,269.17 L461.95,269.63 L462.59,270.09 L463.21,270.53 L463.80,270.94 L464.39,271.35 L464.99,271.77 L465.61,272.20 L466.23,272.63 L466.84,273.05 L467.43,273.47 L468.01,273.86 L468.55,274.22 L469.05,274.55 L469.50,274.84 L469.90,275.08 L470.24,275.28 L470.55,275.45 L470.82,275.59 L471.07,275.71 L471.30,275.82 L471.54,275.92 L471.77,276.02 L472.02,276.13 L472.30,276.25 L472.58,276.38 L472.84,276.51 L473.10,276.63 L473.35,276.75 L473.61,276.87 L473.89,276.98 L474.19,277.11 L474.52,277.23 L474.89,277.36 L475.30,277.49 L475.77,277.63 L476.28,277.78 L476.84,277.94 L477.42,278.10 L478.03,278.26 L478.65,278.42 L479.28,278.57 L479.90,278.72 L480.51,278.87 L481.10,279.00 L481.69,279.12 L482.29,279.24 L482.90,279.35 L483.52,279.46 L484.13,279.56 L484.72,279.66 L485.29,279.75 L485.83,279.83 L486.34,279.90 L486.80,279.97 L487.21,280.02 L487.58,280.06 L487.90,280.09 L488.20,280.11 L488.48,280.13 L488.74,280.14 L489.00,280.15 L489.26,280.16 L489.52,280.17 L489.80,280.18 L490.09,280.20 L490.37,280.21 L490.66,280.23 L490.94,280.24 L491.22,280.25 L491.50,280.27 L491.77,280.28 L492.05,280.29 L492.32,280.31 L492.60,280.32 L492.89,280.34 L493.19,280.36 L493.50,280.38 L493.82,280.40 L494.13,280.42 L494.42,280.44 L494.69,280.46 L494.93,280.48 L495.14,280.49 L495.30,280.50 L495.30,280.50Z" fill="#f7e62a"/>
<rect x="415.3" y="262.5" width="86.2" height="18.00" fill="none" stroke="#000" stroke-width="1.2"/>
<line x1="412.50" x2="415.3" y1="271" y2="271" stroke="#000" stroke-width="0.9"/>
<line x1="412.50" x2="415.3" y1="280.2" y2="280.2" stroke="#000" stroke-width="0.9"/>
<line x1="419.05" x2="419.05" y1="280.5" y2="283.3" stroke="#000" stroke-width="0.8"/>
<line x1="437.80" x2="437.80" y1="280.5" y2="283.3" stroke="#000" stroke-width="0.8"/>
<line x1="456.80" x2="456.80" y1="280.5" y2="283.3" stroke="#000" stroke-width="0.8"/>
<line x1="475.30" x2="475.30" y1="280.5" y2="283.3" stroke="#000" stroke-width="0.8"/>
<line x1="494.30" x2="494.30" y1="280.5" y2="283.3" stroke="#000" stroke-width="0.8"/>
<text x="419.05" y="293.20" font-size="8.8" text-anchor="middle" fill="#000" stroke="#000" stroke-width="0.22" >0</text>
<text x="456.80" y="293.20" font-size="8.8" text-anchor="middle" fill="#000" stroke="#000" stroke-width="0.22" >1</text>
<text x="494.30" y="293.20" font-size="8.8" text-anchor="middle" fill="#000" stroke="#000" stroke-width="0.22" >10</text>
<text x="459.30" y="305.50" font-size="10.4" text-anchor="middle" fill="#111" textLength="79.50" lengthAdjust="spacingAndGlyphs" stroke="#111" stroke-width="0.22" >Gene expression (cptt)</text>
<text x="401.70" y="219.40" font-size="10" text-anchor="middle" fill="#1a1a1a" transform="rotate(-90 401.70 219.40)" textLength="21.60" lengthAdjust="spacingAndGlyphs" stroke="#1a1a1a" stroke-width="0.22" >GATA2</text>
<text x="401.70" y="262.40" font-size="10" text-anchor="middle" fill="#1a1a1a" transform="rotate(-90 401.70 262.40)" textLength="19.50" lengthAdjust="spacingAndGlyphs" stroke="#1a1a1a" stroke-width="0.22" >LMO2</text>
</g>
<g id="D">
<text x="9.50" y="331.80" font-size="12.5" text-anchor="start" fill="#000" font-weight="bold" >D</text>
<defs><filter id="bl" x="-10%" y="-10%" width="120%" height="120%"><feGaussianBlur stdDeviation="1.6"/></filter></defs>
<path d="M92.46,347.99 L96.18,344.09 L100.83,341.30 L106.41,338.23 L113.76,335.62 L121.76,335.44 L129.85,336.55 L136.64,335.44 L144.08,335.62 L149.66,337.30 L154.87,340.55 L158.49,345.67 L161.28,350.78 L165.47,353.11 L169.19,354.04 L177.56,354.50 L185.00,354.78 L192.07,355.43 L196.62,357.76 L200.99,360.55 L206.39,363.34 L211.78,366.96 L208.25,370.78 L204.53,374.03 L199.88,377.75 L195.69,381.29 L198.95,384.73 L202.85,388.45 L204.53,393.56 L200.81,401.00 L195.69,408.44 L192.44,417.74 L191.51,427.04 L192.44,434.48 L193.83,441.92 L193.37,451.22 L190.58,459.59 L184.07,461.92 L177.74,463.31 L168.82,466.38 L161.75,466.10 L155.70,464.24 L145.47,459.13 L131.24,447.50 L120.36,436.81 L111.53,427.97 L100.83,415.42 L95.44,404.72 L88.74,391.70 L86.05,383.05 L85.12,365.20 L86.88,352.64Z" fill="#ee2a9c" opacity="0.5" filter="url(#bl)"/>
<path d="M209.80,400.18 L215.82,402.33 L223.13,407.06 L227.86,410.07 L231.30,413.59 L234.31,417.38 L236.28,421.85 L238.00,429.85 L239.47,438.02 L240.50,446.36 L241.62,452.64 L242.13,459.52 L240.33,464.68 L236.28,467.86 L229.58,468.98 L223.13,468.72 L214.78,466.23 L208.25,461.24 L205.50,457.80 L203.78,452.64 L204.64,446.62 L202.06,441.46 L198.62,437.16 L196.04,429.42 L196.90,418.24 L201.63,411.36Z" fill="#86209e" opacity="0.7" filter="url(#bl)"/>
<path d="M230.03,345.69 L236.99,343.53 L244.19,342.33 L250.03,341.85 L251.55,346.33 L250.99,351.13 L247.39,356.73 L243.79,361.53 L240.83,363.37 L237.79,359.93 L234.99,356.33 L232.99,353.37 L230.99,349.53Z" fill="#7cbf2a" opacity="0.7" filter="url(#bl)"/>
<g fill-opacity="0.66">
<g fill="#ee2b3b"><circle cx="166.7" cy="379.8" r="2.6"/><circle cx="188.0" cy="374.5" r="2.6"/><circle cx="181.0" cy="359.6" r="2.6"/><circle cx="187.5" cy="379.0" r="2.6"/><circle cx="164.0" cy="383.0" r="2.6"/><circle cx="186.0" cy="377.9" r="2.6"/><circle cx="184.0" cy="380.5" r="2.6"/><circle cx="168.5" cy="376.0" r="2.6"/><circle cx="183.0" cy="362.0" r="2.6"/><circle cx="170.0" cy="381.5" r="2.6"/><circle cx="165.5" cy="377.0" r="2.6"/></g>
<g fill="#86c42e"><circle cx="237.0" cy="352.0" r="2.6"/><circle cx="247.3" cy="354.5" r="2.6"/><circle cx="247.2" cy="353.8" r="2.6"/><circle cx="238.1" cy="357.7" r="2.6"/><circle cx="237.0" cy="342.6" r="2.6"/><circle cx="252.2" cy="351.8" r="2.6"/><circle cx="239.5" cy="347.9" r="2.6"/><circle cx="244.9" cy="353.2" r="2.6"/><circle cx="244.0" cy="345.2" r="2.6"/><circle cx="236.5" cy="357.4" r="2.6"/><circle cx="247.9" cy="345.4" r="2.6"/><circle cx="243.0" cy="364.7" r="2.6"/><circle cx="237.6" cy="349.2" r="2.6"/><circle cx="233.6" cy="343.9" r="2.6"/><circle cx="243.1" cy="351.6" r="2.6"/><circle cx="251.6" cy="344.3" r="2.6"/><circle cx="245.2" cy="361.9" r="2.6"/><circle cx="241.3" cy="355.0" r="2.6"/><circle cx="239.1" cy="343.2" r="2.6"/><circle cx="250.4" cy="349.3" r="2.6"/><circle cx="233.7" cy="344.0" r="2.6"/><circle cx="250.6" cy="345.1" r="2.6"/><circle cx="233.5" cy="351.2" r="2.6"/><circle cx="235.0" cy="349.6" r="2.6"/><circle cx="243.6" cy="356.9" r="2.6"/><circle cx="233.4" cy="355.5" r="2.6"/><circle cx="251.1" cy="340.9" r="2.6"/><circle cx="239.7" cy="358.5" r="2.6"/><circle cx="240.2" cy="344.1" r="2.6"/><circle cx="233.6" cy="352.8" r="2.6"/><circle cx="229.2" cy="345.4" r="2.6"/><circle cx="231.3" cy="343.1" r="2.6"/><circle cx="229.5" cy="346.5" r="2.6"/><circle cx="242.4" cy="358.5" r="2.6"/><circle cx="233.6" cy="352.2" r="2.6"/><circle cx="247.0" cy="341.4" r="2.6"/><circle cx="251.6" cy="341.6" r="2.6"/><circle cx="231.0" cy="345.9" r="2.6"/><circle cx="232.5" cy="345.3" r="2.6"/><circle cx="250.7" cy="340.8" r="2.6"/><circle cx="236.0" cy="350.3" r="2.6"/><circle cx="244.6" cy="352.1" r="2.6"/><circle cx="239.1" cy="342.5" r="2.6"/><circle cx="241.1" cy="364.9" r="2.6"/><circle cx="250.4" cy="342.4" r="2.6"/><circle cx="249.7" cy="344.8" r="2.6"/><circle cx="234.2" cy="351.6" r="2.6"/></g>
<g fill="#86209e"><circle cx="225.9" cy="424.1" r="2.6"/><circle cx="228.8" cy="449.3" r="2.6"/><circle cx="226.1" cy="450.6" r="2.6"/><circle cx="213.8" cy="467.1" r="2.6"/><circle cx="235.1" cy="430.4" r="2.6"/><circle cx="204.0" cy="401.5" r="2.6"/><circle cx="213.6" cy="416.6" r="2.6"/><circle cx="223.9" cy="458.0" r="2.6"/><circle cx="225.8" cy="452.0" r="2.6"/><circle cx="210.3" cy="425.4" r="2.6"/><circle cx="216.5" cy="403.8" r="2.6"/><circle cx="230.7" cy="451.6" r="2.6"/><circle cx="199.2" cy="421.1" r="2.6"/><circle cx="206.7" cy="455.6" r="2.6"/><circle cx="235.4" cy="430.9" r="2.6"/><circle cx="234.3" cy="461.1" r="2.6"/><circle cx="235.3" cy="437.0" r="2.6"/><circle cx="243.9" cy="457.0" r="2.6"/><circle cx="216.3" cy="448.6" r="2.6"/><circle cx="199.5" cy="435.3" r="2.6"/><circle cx="197.4" cy="438.2" r="2.6"/><circle cx="218.0" cy="445.2" r="2.6"/><circle cx="236.4" cy="469.0" r="2.6"/><circle cx="220.9" cy="469.0" r="2.6"/><circle cx="220.4" cy="417.1" r="2.6"/><circle cx="221.2" cy="417.3" r="2.6"/><circle cx="236.3" cy="439.3" r="2.6"/><circle cx="214.1" cy="458.6" r="2.6"/><circle cx="228.1" cy="451.1" r="2.6"/><circle cx="193.7" cy="425.5" r="2.6"/><circle cx="211.4" cy="467.4" r="2.6"/><circle cx="203.5" cy="440.8" r="2.6"/><circle cx="205.1" cy="452.7" r="2.6"/><circle cx="205.4" cy="422.2" r="2.6"/></g>
<g fill="#ee2a9c"><circle cx="186.4" cy="391.3" r="2.6"/><circle cx="99.0" cy="391.8" r="2.6"/><circle cx="101.4" cy="367.2" r="2.6"/><circle cx="139.4" cy="432.8" r="2.6"/><circle cx="152.2" cy="440.4" r="2.6"/><circle cx="105.6" cy="409.2" r="2.6"/><circle cx="121.9" cy="428.1" r="2.6"/><circle cx="129.1" cy="440.5" r="2.6"/><circle cx="145.0" cy="443.1" r="2.6"/><circle cx="200.7" cy="360.0" r="2.6"/><circle cx="82.3" cy="377.7" r="2.6"/><circle cx="139.0" cy="358.7" r="2.6"/><circle cx="193.5" cy="459.2" r="2.6"/><circle cx="169.8" cy="381.1" r="2.6"/><circle cx="117.6" cy="387.8" r="2.6"/><circle cx="95.0" cy="410.1" r="2.6"/><circle cx="153.4" cy="431.8" r="2.6"/><circle cx="192.7" cy="440.0" r="2.6"/><circle cx="149.4" cy="446.7" r="2.6"/><circle cx="173.8" cy="401.8" r="2.6"/><circle cx="133.0" cy="377.6" r="2.6"/><circle cx="100.8" cy="357.0" r="2.6"/><circle cx="191.4" cy="354.6" r="2.6"/><circle cx="179.8" cy="460.1" r="2.6"/><circle cx="97.7" cy="396.4" r="2.6"/><circle cx="172.4" cy="359.8" r="2.6"/><circle cx="165.1" cy="352.1" r="2.6"/><circle cx="95.9" cy="403.5" r="2.6"/><circle cx="115.6" cy="428.4" r="2.6"/><circle cx="101.5" cy="354.0" r="2.6"/><circle cx="183.6" cy="447.6" r="2.6"/><circle cx="92.6" cy="351.7" r="2.6"/><circle cx="146.4" cy="409.2" r="2.6"/><circle cx="190.0" cy="391.0" r="2.6"/><circle cx="176.9" cy="367.7" r="2.6"/><circle cx="141.5" cy="344.5" r="2.6"/><circle cx="139.1" cy="427.3" r="2.6"/><circle cx="127.3" cy="430.1" r="2.6"/><circle cx="144.3" cy="347.2" r="2.6"/><circle cx="148.3" cy="406.6" r="2.6"/><circle cx="100.1" cy="348.7" r="2.6"/><circle cx="161.0" cy="407.3" r="2.6"/><circle cx="187.5" cy="453.4" r="2.6"/><circle cx="156.0" cy="439.3" r="2.6"/><circle cx="119.7" cy="427.6" r="2.6"/><circle cx="206.0" cy="361.0" r="2.6"/><circle cx="161.2" cy="408.6" r="2.6"/><circle cx="149.8" cy="390.8" r="2.6"/><circle cx="107.0" cy="344.1" r="2.6"/><circle cx="112.9" cy="368.2" r="2.6"/><circle cx="142.3" cy="357.2" r="2.6"/><circle cx="95.4" cy="410.3" r="2.6"/><circle cx="163.2" cy="352.9" r="2.6"/><circle cx="185.9" cy="453.4" r="2.6"/><circle cx="131.3" cy="379.2" r="2.6"/><circle cx="189.9" cy="356.6" r="2.6"/><circle cx="122.6" cy="374.6" r="2.6"/><circle cx="168.3" cy="367.2" r="2.6"/><circle cx="110.0" cy="387.8" r="2.6"/><circle cx="187.4" cy="429.3" r="2.6"/><circle cx="106.7" cy="394.3" r="2.6"/><circle cx="156.1" cy="348.3" r="2.6"/><circle cx="184.4" cy="364.6" r="2.6"/><circle cx="114.2" cy="390.9" r="2.6"/><circle cx="154.3" cy="349.7" r="2.6"/><circle cx="137.2" cy="429.2" r="2.6"/><circle cx="132.8" cy="381.4" r="2.6"/><circle cx="184.6" cy="382.6" r="2.6"/><circle cx="142.9" cy="334.2" r="2.6"/><circle cx="210.6" cy="363.4" r="2.6"/><circle cx="178.1" cy="409.5" r="2.6"/><circle cx="132.5" cy="425.1" r="2.6"/><circle cx="170.4" cy="361.6" r="2.6"/><circle cx="126.8" cy="447.8" r="2.6"/><circle cx="168.2" cy="360.6" r="2.6"/><circle cx="186.1" cy="430.6" r="2.6"/><circle cx="116.4" cy="421.4" r="2.6"/><circle cx="193.7" cy="452.2" r="2.6"/><circle cx="177.2" cy="363.0" r="2.6"/><circle cx="117.7" cy="339.0" r="2.6"/><circle cx="96.0" cy="414.0" r="2.6"/><circle cx="163.0" cy="397.4" r="2.6"/><circle cx="129.6" cy="349.4" r="2.6"/><circle cx="137.5" cy="413.7" r="2.6"/><circle cx="140.9" cy="354.5" r="2.6"/><circle cx="101.8" cy="372.6" r="2.6"/><circle cx="114.0" cy="377.6" r="2.6"/><circle cx="116.0" cy="431.7" r="2.6"/><circle cx="189.4" cy="420.3" r="2.6"/><circle cx="100.4" cy="371.6" r="2.6"/><circle cx="144.8" cy="372.0" r="2.6"/><circle cx="184.0" cy="439.1" r="2.6"/><circle cx="194.5" cy="445.0" r="2.6"/><circle cx="182.7" cy="372.6" r="2.6"/><circle cx="178.6" cy="372.3" r="2.6"/><circle cx="118.7" cy="388.3" r="2.6"/><circle cx="144.6" cy="354.3" r="2.6"/><circle cx="165.3" cy="390.3" r="2.6"/><circle cx="167.0" cy="348.5" r="2.6"/><circle cx="99.5" cy="394.4" r="2.6"/><circle cx="153.8" cy="367.0" r="2.6"/><circle cx="138.3" cy="455.5" r="2.6"/><circle cx="154.7" cy="388.6" r="2.6"/><circle cx="186.6" cy="404.9" r="2.6"/><circle cx="170.0" cy="468.1" r="2.6"/><circle cx="172.0" cy="409.2" r="2.6"/><circle cx="149.9" cy="418.0" r="2.6"/><circle cx="157.1" cy="374.3" r="2.6"/><circle cx="114.0" cy="366.4" r="2.6"/><circle cx="170.3" cy="395.8" r="2.6"/><circle cx="149.5" cy="347.7" r="2.6"/><circle cx="141.1" cy="351.7" r="2.6"/><circle cx="144.3" cy="432.4" r="2.6"/><circle cx="103.5" cy="369.3" r="2.6"/><circle cx="191.6" cy="462.4" r="2.6"/><circle cx="181.0" cy="457.0" r="2.6"/><circle cx="185.0" cy="379.3" r="2.6"/><circle cx="101.9" cy="373.9" r="2.6"/><circle cx="154.5" cy="454.9" r="2.6"/><circle cx="110.4" cy="363.8" r="2.6"/><circle cx="182.2" cy="385.0" r="2.6"/><circle cx="146.0" cy="335.8" r="2.6"/><circle cx="192.6" cy="381.5" r="2.6"/><circle cx="111.8" cy="360.5" r="2.6"/><circle cx="107.7" cy="402.3" r="2.6"/><circle cx="180.5" cy="374.6" r="2.6"/><circle cx="199.5" cy="404.7" r="2.6"/><circle cx="115.8" cy="408.1" r="2.6"/><circle cx="178.3" cy="408.8" r="2.6"/><circle cx="93.1" cy="393.6" r="2.6"/><circle cx="189.5" cy="378.8" r="2.6"/><circle cx="201.7" cy="372.5" r="2.6"/><circle cx="150.2" cy="404.1" r="2.6"/><circle cx="141.5" cy="406.3" r="2.6"/><circle cx="157.8" cy="454.4" r="2.6"/><circle cx="140.6" cy="403.9" r="2.6"/><circle cx="116.5" cy="389.5" r="2.6"/><circle cx="108.8" cy="354.9" r="2.6"/><circle cx="202.9" cy="398.4" r="2.6"/><circle cx="176.0" cy="394.3" r="2.6"/><circle cx="143.2" cy="361.0" r="2.6"/><circle cx="143.6" cy="410.4" r="2.6"/><circle cx="190.6" cy="435.0" r="2.6"/></g>
<g fill="#ee2a9c"><circle cx="170.8" cy="370.2" r="2.6"/><circle cx="151.4" cy="461.8" r="2.6"/><circle cx="93.9" cy="390.5" r="2.6"/><circle cx="158.7" cy="469.3" r="2.6"/><circle cx="180.2" cy="368.1" r="2.6"/><circle cx="107.3" cy="428.4" r="2.6"/><circle cx="94.8" cy="369.2" r="2.6"/><circle cx="176.8" cy="381.4" r="2.6"/><circle cx="134.2" cy="399.9" r="2.6"/><circle cx="117.6" cy="368.7" r="2.6"/><circle cx="87.6" cy="375.9" r="2.6"/><circle cx="165.7" cy="382.9" r="2.6"/><circle cx="99.7" cy="360.6" r="2.6"/><circle cx="130.6" cy="338.4" r="2.6"/><circle cx="174.2" cy="415.0" r="2.6"/><circle cx="96.9" cy="399.9" r="2.6"/><circle cx="85.7" cy="357.6" r="2.6"/><circle cx="196.5" cy="362.3" r="2.6"/><circle cx="193.8" cy="413.6" r="2.6"/><circle cx="197.8" cy="369.3" r="2.6"/><circle cx="162.3" cy="460.8" r="2.6"/><circle cx="191.0" cy="350.5" r="2.6"/><circle cx="152.0" cy="435.2" r="2.6"/><circle cx="171.9" cy="386.8" r="2.6"/><circle cx="182.1" cy="462.6" r="2.6"/><circle cx="188.5" cy="434.8" r="2.6"/><circle cx="180.9" cy="355.1" r="2.6"/><circle cx="148.4" cy="384.7" r="2.6"/><circle cx="93.9" cy="372.5" r="2.6"/><circle cx="134.4" cy="360.1" r="2.6"/><circle cx="149.6" cy="407.6" r="2.6"/><circle cx="202.6" cy="392.0" r="2.6"/><circle cx="96.9" cy="414.8" r="2.6"/><circle cx="123.0" cy="453.5" r="2.6"/><circle cx="97.2" cy="384.1" r="2.6"/><circle cx="107.7" cy="357.4" r="2.6"/><circle cx="191.1" cy="441.4" r="2.6"/><circle cx="141.6" cy="394.1" r="2.6"/><circle cx="98.1" cy="366.7" r="2.6"/><circle cx="203.9" cy="361.0" r="2.6"/><circle cx="157.4" cy="351.5" r="2.6"/><circle cx="89.6" cy="381.0" r="2.6"/><circle cx="149.3" cy="358.7" r="2.6"/><circle cx="136.0" cy="360.3" r="2.6"/><circle cx="211.0" cy="366.0" r="2.6"/><circle cx="164.2" cy="389.1" r="2.6"/><circle cx="188.3" cy="360.1" r="2.6"/><circle cx="156.9" cy="368.6" r="2.6"/><circle cx="130.5" cy="402.3" r="2.6"/><circle cx="164.0" cy="425.8" r="2.6"/><circle cx="150.5" cy="335.2" r="2.6"/><circle cx="97.4" cy="350.6" r="2.6"/><circle cx="91.5" cy="357.1" r="2.6"/><circle cx="114.6" cy="380.5" r="2.6"/><circle cx="183.4" cy="411.8" r="2.6"/><circle cx="171.8" cy="370.3" r="2.6"/><circle cx="110.8" cy="367.3" r="2.6"/><circle cx="91.6" cy="394.6" r="2.6"/><circle cx="171.2" cy="426.0" r="2.6"/><circle cx="145.8" cy="452.2" r="2.6"/><circle cx="181.5" cy="423.5" r="2.6"/><circle cx="189.4" cy="455.0" r="2.6"/><circle cx="172.0" cy="383.2" r="2.6"/><circle cx="151.5" cy="365.4" r="2.6"/><circle cx="170.6" cy="386.9" r="2.6"/><circle cx="144.1" cy="380.0" r="2.6"/><circle cx="142.6" cy="408.3" r="2.6"/><circle cx="114.2" cy="369.2" r="2.6"/><circle cx="197.7" cy="393.4" r="2.6"/><circle cx="127.0" cy="352.0" r="2.6"/><circle cx="200.9" cy="398.0" r="2.6"/><circle cx="113.4" cy="386.4" r="2.6"/><circle cx="190.7" cy="456.0" r="2.6"/><circle cx="165.3" cy="387.0" r="2.6"/><circle cx="123.9" cy="424.3" r="2.6"/><circle cx="166.1" cy="429.2" r="2.6"/><circle cx="101.9" cy="394.2" r="2.6"/><circle cx="134.9" cy="341.4" r="2.6"/><circle cx="160.8" cy="418.3" r="2.6"/><circle cx="189.9" cy="365.4" r="2.6"/><circle cx="88.1" cy="350.3" r="2.6"/><circle cx="190.8" cy="356.0" r="2.6"/><circle cx="170.3" cy="460.7" r="2.6"/><circle cx="182.2" cy="354.4" r="2.6"/><circle cx="132.9" cy="390.7" r="2.6"/><circle cx="182.7" cy="398.3" r="2.6"/><circle cx="114.9" cy="337.6" r="2.6"/><circle cx="149.5" cy="421.0" r="2.6"/><circle cx="125.7" cy="400.9" r="2.6"/><circle cx="165.1" cy="430.7" r="2.6"/><circle cx="171.4" cy="367.7" r="2.6"/><circle cx="143.4" cy="352.4" r="2.6"/><circle cx="113.4" cy="356.4" r="2.6"/><circle cx="189.7" cy="413.2" r="2.6"/><circle cx="135.0" cy="449.7" r="2.6"/><circle cx="123.7" cy="382.5" r="2.6"/><circle cx="188.2" cy="396.2" r="2.6"/><circle cx="141.5" cy="350.5" r="2.6"/><circle cx="175.6" cy="425.3" r="2.6"/><circle cx="179.3" cy="431.2" r="2.6"/><circle cx="118.3" cy="349.3" r="2.6"/><circle cx="197.9" cy="409.3" r="2.6"/><circle cx="129.5" cy="355.7" r="2.6"/><circle cx="148.1" cy="453.4" r="2.6"/><circle cx="195.7" cy="368.0" r="2.6"/><circle cx="211.8" cy="368.4" r="2.6"/><circle cx="114.0" cy="441.0" r="2.6"/><circle cx="97.9" cy="367.3" r="2.6"/><circle cx="167.6" cy="470.1" r="2.6"/><circle cx="176.9" cy="454.7" r="2.6"/><circle cx="197.4" cy="369.4" r="2.6"/><circle cx="193.4" cy="389.9" r="2.6"/><circle cx="185.8" cy="431.6" r="2.6"/><circle cx="118.8" cy="362.1" r="2.6"/><circle cx="179.9" cy="447.5" r="2.6"/><circle cx="119.5" cy="366.1" r="2.6"/><circle cx="166.7" cy="465.0" r="2.6"/><circle cx="112.2" cy="390.2" r="2.6"/><circle cx="186.2" cy="363.1" r="2.6"/><circle cx="181.1" cy="447.3" r="2.6"/><circle cx="172.1" cy="361.8" r="2.6"/><circle cx="124.9" cy="345.3" r="2.6"/><circle cx="166.0" cy="380.9" r="2.6"/><circle cx="130.7" cy="424.7" r="2.6"/><circle cx="161.7" cy="452.2" r="2.6"/><circle cx="155.1" cy="392.8" r="2.6"/><circle cx="143.1" cy="400.2" r="2.6"/><circle cx="148.7" cy="376.6" r="2.6"/><circle cx="188.4" cy="414.5" r="2.6"/><circle cx="179.6" cy="367.3" r="2.6"/><circle cx="192.4" cy="405.4" r="2.6"/><circle cx="155.5" cy="400.5" r="2.6"/><circle cx="189.4" cy="453.8" r="2.6"/><circle cx="165.9" cy="446.8" r="2.6"/><circle cx="118.1" cy="389.9" r="2.6"/><circle cx="109.8" cy="411.3" r="2.6"/><circle cx="122.4" cy="365.9" r="2.6"/><circle cx="130.2" cy="408.8" r="2.6"/><circle cx="136.4" cy="423.7" r="2.6"/><circle cx="105.0" cy="413.0" r="2.6"/><circle cx="136.1" cy="423.7" r="2.6"/><circle cx="178.5" cy="392.0" r="2.6"/><circle cx="177.1" cy="419.1" r="2.6"/></g>
<g fill="#86209e"><circle cx="209.8" cy="461.4" r="2.6"/><circle cx="210.2" cy="441.6" r="2.6"/><circle cx="200.8" cy="436.8" r="2.6"/><circle cx="214.7" cy="399.0" r="2.6"/><circle cx="226.4" cy="416.5" r="2.6"/><circle cx="203.8" cy="447.8" r="2.6"/><circle cx="202.4" cy="452.9" r="2.6"/><circle cx="213.6" cy="439.9" r="2.6"/><circle cx="198.8" cy="410.0" r="2.6"/><circle cx="227.4" cy="458.6" r="2.6"/><circle cx="204.9" cy="403.4" r="2.6"/><circle cx="202.7" cy="444.0" r="2.6"/><circle cx="229.1" cy="441.9" r="2.6"/><circle cx="209.6" cy="455.6" r="2.6"/><circle cx="241.9" cy="445.1" r="2.6"/><circle cx="205.5" cy="418.0" r="2.6"/><circle cx="212.2" cy="468.3" r="2.6"/><circle cx="232.3" cy="416.0" r="2.6"/><circle cx="210.5" cy="405.2" r="2.6"/><circle cx="203.0" cy="413.5" r="2.6"/><circle cx="224.1" cy="471.4" r="2.6"/><circle cx="234.2" cy="459.9" r="2.6"/><circle cx="243.1" cy="465.3" r="2.6"/><circle cx="223.9" cy="430.9" r="2.6"/><circle cx="201.9" cy="418.0" r="2.6"/><circle cx="227.8" cy="440.2" r="2.6"/><circle cx="208.0" cy="399.6" r="2.6"/><circle cx="220.5" cy="446.0" r="2.6"/><circle cx="217.7" cy="433.8" r="2.6"/><circle cx="195.7" cy="437.9" r="2.6"/><circle cx="236.2" cy="456.8" r="2.6"/><circle cx="218.9" cy="465.2" r="2.6"/><circle cx="219.9" cy="430.4" r="2.6"/><circle cx="221.7" cy="458.6" r="2.6"/><circle cx="210.9" cy="424.0" r="2.6"/></g>
<g fill="#86209e"><circle cx="236.9" cy="420.0" r="2.6"/><circle cx="228.0" cy="416.2" r="2.6"/><circle cx="229.6" cy="429.4" r="2.6"/><circle cx="203.2" cy="414.2" r="2.6"/><circle cx="210.7" cy="407.0" r="2.6"/><circle cx="239.9" cy="447.3" r="2.6"/><circle cx="215.7" cy="450.5" r="2.6"/><circle cx="194.1" cy="404.5" r="2.6"/><circle cx="231.8" cy="459.7" r="2.6"/><circle cx="222.0" cy="450.1" r="2.6"/><circle cx="220.5" cy="435.7" r="2.6"/><circle cx="213.1" cy="424.8" r="2.6"/><circle cx="229.1" cy="431.7" r="2.6"/><circle cx="197.9" cy="412.0" r="2.6"/><circle cx="202.9" cy="404.2" r="2.6"/><circle cx="232.4" cy="448.2" r="2.6"/><circle cx="233.5" cy="465.2" r="2.6"/><circle cx="210.7" cy="420.0" r="2.6"/><circle cx="226.6" cy="471.4" r="2.6"/><circle cx="216.1" cy="461.0" r="2.6"/><circle cx="216.5" cy="440.8" r="2.6"/><circle cx="195.8" cy="419.9" r="2.6"/><circle cx="203.2" cy="414.8" r="2.6"/><circle cx="232.6" cy="431.6" r="2.6"/><circle cx="244.2" cy="453.8" r="2.6"/><circle cx="231.3" cy="457.7" r="2.6"/><circle cx="226.0" cy="449.4" r="2.6"/><circle cx="206.7" cy="461.6" r="2.6"/><circle cx="235.1" cy="448.1" r="2.6"/><circle cx="221.2" cy="427.7" r="2.6"/><circle cx="205.8" cy="411.0" r="2.6"/><circle cx="233.8" cy="466.6" r="2.6"/><circle cx="223.0" cy="412.7" r="2.6"/><circle cx="211.4" cy="405.4" r="2.6"/><circle cx="236.8" cy="457.4" r="2.6"/></g>
<g fill="#ee2a9c"><circle cx="171.6" cy="373.8" r="2.6"/><circle cx="146.9" cy="340.5" r="2.6"/><circle cx="166.7" cy="458.5" r="2.6"/><circle cx="110.5" cy="352.0" r="2.6"/><circle cx="187.0" cy="396.1" r="2.6"/><circle cx="121.4" cy="385.1" r="2.6"/><circle cx="175.1" cy="444.1" r="2.6"/><circle cx="137.7" cy="447.0" r="2.6"/><circle cx="105.3" cy="423.1" r="2.6"/><circle cx="193.9" cy="448.6" r="2.6"/><circle cx="125.0" cy="342.2" r="2.6"/><circle cx="191.0" cy="371.8" r="2.6"/><circle cx="221.5" cy="387.5" r="2.6"/><circle cx="136.9" cy="437.4" r="2.6"/><circle cx="105.5" cy="400.9" r="2.6"/><circle cx="146.9" cy="334.5" r="2.6"/><circle cx="126.4" cy="339.6" r="2.6"/><circle cx="193.4" cy="378.7" r="2.6"/><circle cx="177.7" cy="454.4" r="2.6"/><circle cx="137.1" cy="368.0" r="2.6"/><circle cx="155.1" cy="442.9" r="2.6"/><circle cx="159.3" cy="405.7" r="2.6"/><circle cx="134.6" cy="410.2" r="2.6"/><circle cx="122.5" cy="433.5" r="2.6"/><circle cx="179.0" cy="445.4" r="2.6"/><circle cx="179.0" cy="394.9" r="2.6"/><circle cx="191.2" cy="439.5" r="2.6"/><circle cx="135.1" cy="435.1" r="2.6"/><circle cx="136.1" cy="346.5" r="2.6"/><circle cx="150.3" cy="385.5" r="2.6"/><circle cx="92.3" cy="346.5" r="2.6"/><circle cx="86.8" cy="349.4" r="2.6"/><circle cx="117.1" cy="366.8" r="2.6"/><circle cx="113.8" cy="351.6" r="2.6"/><circle cx="102.9" cy="369.5" r="2.6"/><circle cx="201.7" cy="401.9" r="2.6"/><circle cx="119.9" cy="430.9" r="2.6"/><circle cx="192.0" cy="357.7" r="2.6"/><circle cx="184.5" cy="412.7" r="2.6"/><circle cx="86.1" cy="348.8" r="2.6"/><circle cx="140.5" cy="454.1" r="2.6"/><circle cx="96.6" cy="363.0" r="2.6"/><circle cx="131.1" cy="390.4" r="2.6"/><circle cx="103.6" cy="382.4" r="2.6"/><circle cx="164.5" cy="457.2" r="2.6"/><circle cx="178.0" cy="355.9" r="2.6"/><circle cx="96.1" cy="372.5" r="2.6"/><circle cx="179.8" cy="360.0" r="2.6"/><circle cx="141.1" cy="385.8" r="2.6"/><circle cx="144.9" cy="462.9" r="2.6"/><circle cx="124.2" cy="396.2" r="2.6"/><circle cx="95.2" cy="360.9" r="2.6"/><circle cx="157.9" cy="389.4" r="2.6"/><circle cx="141.1" cy="369.6" r="2.6"/><circle cx="124.5" cy="404.2" r="2.6"/><circle cx="115.1" cy="355.0" r="2.6"/><circle cx="114.1" cy="370.7" r="2.6"/><circle cx="112.2" cy="419.6" r="2.6"/><circle cx="126.7" cy="345.0" r="2.6"/><circle cx="165.9" cy="441.1" r="2.6"/><circle cx="90.8" cy="369.2" r="2.6"/><circle cx="147.6" cy="425.9" r="2.6"/><circle cx="180.6" cy="463.4" r="2.6"/><circle cx="106.0" cy="406.8" r="2.6"/><circle cx="148.4" cy="448.1" r="2.6"/><circle cx="186.0" cy="456.8" r="2.6"/><circle cx="120.3" cy="361.6" r="2.6"/><circle cx="167.5" cy="408.5" r="2.6"/><circle cx="115.3" cy="410.6" r="2.6"/><circle cx="163.4" cy="392.3" r="2.6"/><circle cx="150.9" cy="446.5" r="2.6"/><circle cx="175.1" cy="447.1" r="2.6"/><circle cx="170.0" cy="463.9" r="2.6"/><circle cx="151.2" cy="453.7" r="2.6"/><circle cx="105.1" cy="337.5" r="2.6"/><circle cx="118.5" cy="344.8" r="2.6"/><circle cx="125.0" cy="363.3" r="2.6"/><circle cx="93.3" cy="396.8" r="2.6"/><circle cx="151.1" cy="405.5" r="2.6"/><circle cx="135.8" cy="352.2" r="2.6"/><circle cx="193.4" cy="373.4" r="2.6"/><circle cx="141.6" cy="370.9" r="2.6"/><circle cx="125.4" cy="443.4" r="2.6"/><circle cx="149.3" cy="399.6" r="2.6"/><circle cx="94.2" cy="356.0" r="2.6"/><circle cx="103.2" cy="354.8" r="2.6"/><circle cx="177.0" cy="359.4" r="2.6"/><circle cx="120.6" cy="411.6" r="2.6"/><circle cx="122.4" cy="351.3" r="2.6"/><circle cx="133.4" cy="356.1" r="2.6"/><circle cx="150.8" cy="398.4" r="2.6"/><circle cx="107.7" cy="411.5" r="2.6"/><circle cx="88.8" cy="360.9" r="2.6"/><circle cx="166.9" cy="369.2" r="2.6"/><circle cx="194.2" cy="363.9" r="2.6"/><circle cx="112.8" cy="352.2" r="2.6"/><circle cx="193.9" cy="441.1" r="2.6"/><circle cx="120.7" cy="335.7" r="2.6"/><circle cx="153.5" cy="460.5" r="2.6"/><circle cx="174.4" cy="451.3" r="2.6"/><circle cx="134.3" cy="376.5" r="2.6"/><circle cx="176.2" cy="399.3" r="2.6"/><circle cx="112.7" cy="365.9" r="2.6"/><circle cx="124.2" cy="353.3" r="2.6"/><circle cx="164.1" cy="367.1" r="2.6"/><circle cx="186.5" cy="448.7" r="2.6"/><circle cx="194.9" cy="369.4" r="2.6"/><circle cx="99.7" cy="380.0" r="2.6"/><circle cx="199.9" cy="390.7" r="2.6"/><circle cx="121.8" cy="422.1" r="2.6"/><circle cx="120.2" cy="388.7" r="2.6"/><circle cx="173.1" cy="355.0" r="2.6"/><circle cx="137.6" cy="395.5" r="2.6"/><circle cx="191.5" cy="376.7" r="2.6"/><circle cx="157.3" cy="422.5" r="2.6"/><circle cx="149.4" cy="339.9" r="2.6"/><circle cx="190.8" cy="402.9" r="2.6"/><circle cx="139.6" cy="454.8" r="2.6"/><circle cx="140.3" cy="448.3" r="2.6"/><circle cx="86.0" cy="375.5" r="2.6"/><circle cx="158.4" cy="377.6" r="2.6"/><circle cx="120.2" cy="364.6" r="2.6"/><circle cx="152.9" cy="362.4" r="2.6"/><circle cx="112.2" cy="351.7" r="2.6"/><circle cx="185.2" cy="386.3" r="2.6"/><circle cx="132.9" cy="337.0" r="2.6"/><circle cx="84.5" cy="350.9" r="2.6"/><circle cx="170.0" cy="448.9" r="2.6"/><circle cx="170.1" cy="446.9" r="2.6"/><circle cx="155.8" cy="463.2" r="2.6"/><circle cx="123.8" cy="431.0" r="2.6"/><circle cx="152.1" cy="437.0" r="2.6"/><circle cx="109.1" cy="392.7" r="2.6"/><circle cx="148.8" cy="421.3" r="2.6"/><circle cx="149.9" cy="394.1" r="2.6"/><circle cx="125.8" cy="436.3" r="2.6"/><circle cx="165.0" cy="463.8" r="2.6"/><circle cx="149.4" cy="402.4" r="2.6"/><circle cx="83.6" cy="367.9" r="2.6"/><circle cx="90.2" cy="344.9" r="2.6"/><circle cx="122.3" cy="374.0" r="2.6"/><circle cx="128.1" cy="432.5" r="2.6"/><circle cx="171.9" cy="379.2" r="2.6"/></g>
<g fill="#ee2a9c"><circle cx="161.4" cy="375.1" r="2.6"/><circle cx="166.2" cy="420.6" r="2.6"/><circle cx="192.0" cy="404.7" r="2.6"/><circle cx="144.3" cy="455.8" r="2.6"/><circle cx="148.8" cy="364.4" r="2.6"/><circle cx="98.5" cy="425.0" r="2.6"/><circle cx="204.6" cy="361.8" r="2.6"/><circle cx="158.2" cy="387.4" r="2.6"/><circle cx="144.7" cy="414.1" r="2.6"/><circle cx="126.1" cy="390.7" r="2.6"/><circle cx="120.9" cy="413.7" r="2.6"/><circle cx="123.6" cy="391.1" r="2.6"/><circle cx="139.7" cy="452.1" r="2.6"/><circle cx="112.1" cy="399.6" r="2.6"/><circle cx="168.8" cy="374.1" r="2.6"/><circle cx="118.7" cy="378.3" r="2.6"/><circle cx="114.2" cy="338.4" r="2.6"/><circle cx="191.6" cy="361.6" r="2.6"/><circle cx="102.4" cy="392.2" r="2.6"/><circle cx="126.7" cy="369.1" r="2.6"/><circle cx="140.2" cy="383.3" r="2.6"/><circle cx="207.2" cy="368.3" r="2.6"/><circle cx="158.5" cy="456.7" r="2.6"/><circle cx="122.8" cy="367.7" r="2.6"/><circle cx="128.2" cy="420.9" r="2.6"/><circle cx="90.5" cy="365.7" r="2.6"/><circle cx="166.8" cy="395.3" r="2.6"/><circle cx="93.2" cy="369.7" r="2.6"/><circle cx="130.7" cy="412.9" r="2.6"/><circle cx="116.8" cy="397.0" r="2.6"/><circle cx="109.0" cy="413.0" r="2.6"/><circle cx="165.6" cy="396.6" r="2.6"/><circle cx="138.2" cy="452.8" r="2.6"/><circle cx="148.5" cy="363.9" r="2.6"/><circle cx="128.7" cy="439.7" r="2.6"/><circle cx="169.4" cy="352.2" r="2.6"/><circle cx="167.4" cy="374.5" r="2.6"/><circle cx="155.3" cy="357.6" r="2.6"/><circle cx="199.5" cy="365.3" r="2.6"/><circle cx="132.4" cy="377.0" r="2.6"/><circle cx="166.5" cy="468.8" r="2.6"/><circle cx="156.8" cy="419.5" r="2.6"/><circle cx="103.0" cy="435.0" r="2.6"/><circle cx="130.3" cy="410.9" r="2.6"/><circle cx="88.8" cy="386.9" r="2.6"/><circle cx="117.5" cy="401.7" r="2.6"/><circle cx="94.4" cy="344.6" r="2.6"/><circle cx="104.4" cy="364.5" r="2.6"/><circle cx="116.7" cy="350.3" r="2.6"/><circle cx="204.0" cy="394.3" r="2.6"/><circle cx="111.2" cy="411.8" r="2.6"/><circle cx="100.2" cy="412.1" r="2.6"/><circle cx="130.1" cy="412.1" r="2.6"/><circle cx="129.4" cy="333.8" r="2.6"/><circle cx="111.2" cy="337.1" r="2.6"/><circle cx="137.0" cy="461.0" r="2.6"/><circle cx="180.8" cy="396.9" r="2.6"/><circle cx="124.3" cy="365.9" r="2.6"/><circle cx="154.3" cy="341.1" r="2.6"/><circle cx="122.0" cy="335.4" r="2.6"/><circle cx="106.5" cy="374.2" r="2.6"/><circle cx="155.7" cy="419.4" r="2.6"/><circle cx="177.8" cy="373.0" r="2.6"/><circle cx="117.1" cy="350.3" r="2.6"/><circle cx="189.6" cy="381.2" r="2.6"/><circle cx="166.1" cy="380.1" r="2.6"/><circle cx="157.2" cy="455.4" r="2.6"/><circle cx="150.9" cy="426.9" r="2.6"/><circle cx="198.9" cy="377.9" r="2.6"/><circle cx="144.5" cy="402.1" r="2.6"/><circle cx="151.7" cy="352.7" r="2.6"/><circle cx="128.0" cy="369.1" r="2.6"/><circle cx="158.1" cy="404.9" r="2.6"/><circle cx="148.5" cy="360.8" r="2.6"/><circle cx="93.7" cy="401.5" r="2.6"/><circle cx="93.9" cy="355.7" r="2.6"/><circle cx="156.9" cy="375.4" r="2.6"/><circle cx="195.2" cy="444.1" r="2.6"/><circle cx="168.4" cy="443.2" r="2.6"/><circle cx="128.7" cy="390.1" r="2.6"/><circle cx="155.2" cy="369.0" r="2.6"/><circle cx="181.1" cy="449.8" r="2.6"/><circle cx="139.6" cy="426.2" r="2.6"/><circle cx="131.2" cy="367.5" r="2.6"/><circle cx="151.6" cy="465.1" r="2.6"/><circle cx="190.3" cy="452.4" r="2.6"/><circle cx="175.6" cy="368.5" r="2.6"/><circle cx="120.4" cy="439.4" r="2.6"/><circle cx="172.0" cy="456.5" r="2.6"/><circle cx="100.5" cy="411.8" r="2.6"/><circle cx="193.6" cy="373.1" r="2.6"/><circle cx="176.5" cy="451.0" r="2.6"/><circle cx="184.6" cy="429.4" r="2.6"/><circle cx="153.0" cy="414.0" r="2.6"/><circle cx="159.0" cy="465.4" r="2.6"/><circle cx="127.3" cy="353.5" r="2.6"/><circle cx="130.0" cy="355.0" r="2.6"/><circle cx="171.5" cy="416.8" r="2.6"/><circle cx="166.1" cy="451.5" r="2.6"/><circle cx="129.5" cy="421.8" r="2.6"/><circle cx="156.6" cy="387.3" r="2.6"/><circle cx="190.3" cy="455.4" r="2.6"/><circle cx="146.7" cy="442.8" r="2.6"/><circle cx="127.8" cy="408.4" r="2.6"/><circle cx="163.1" cy="432.8" r="2.6"/><circle cx="145.0" cy="427.2" r="2.6"/><circle cx="167.7" cy="359.6" r="2.6"/><circle cx="155.6" cy="387.0" r="2.6"/><circle cx="95.4" cy="400.4" r="2.6"/><circle cx="132.5" cy="412.6" r="2.6"/><circle cx="136.6" cy="405.8" r="2.6"/><circle cx="107.4" cy="348.5" r="2.6"/><circle cx="149.6" cy="456.5" r="2.6"/><circle cx="134.7" cy="369.0" r="2.6"/><circle cx="134.7" cy="452.2" r="2.6"/><circle cx="131.9" cy="447.7" r="2.6"/><circle cx="133.1" cy="344.3" r="2.6"/><circle cx="94.3" cy="345.6" r="2.6"/><circle cx="122.5" cy="363.7" r="2.6"/><circle cx="165.1" cy="357.5" r="2.6"/><circle cx="129.9" cy="398.2" r="2.6"/><circle cx="176.8" cy="454.3" r="2.6"/><circle cx="116.5" cy="422.0" r="2.6"/><circle cx="162.9" cy="430.5" r="2.6"/><circle cx="177.9" cy="421.6" r="2.6"/><circle cx="130.6" cy="414.8" r="2.6"/><circle cx="193.6" cy="451.0" r="2.6"/><circle cx="157.3" cy="429.5" r="2.6"/><circle cx="161.1" cy="396.3" r="2.6"/><circle cx="164.5" cy="398.2" r="2.6"/><circle cx="136.0" cy="441.6" r="2.6"/><circle cx="167.6" cy="438.4" r="2.6"/><circle cx="110.7" cy="390.2" r="2.6"/><circle cx="139.7" cy="358.8" r="2.6"/><circle cx="184.9" cy="375.2" r="2.6"/><circle cx="175.6" cy="420.5" r="2.6"/><circle cx="133.3" cy="336.9" r="2.6"/><circle cx="174.6" cy="401.5" r="2.6"/><circle cx="127.5" cy="377.6" r="2.6"/><circle cx="183.2" cy="440.5" r="2.6"/><circle cx="181.4" cy="389.6" r="2.6"/><circle cx="150.0" cy="379.4" r="2.6"/></g>
<g fill="#86209e"><circle cx="215.1" cy="464.3" r="2.6"/><circle cx="234.6" cy="436.6" r="2.6"/><circle cx="200.8" cy="444.6" r="2.6"/><circle cx="211.7" cy="418.2" r="2.6"/><circle cx="202.6" cy="426.3" r="2.6"/><circle cx="239.7" cy="436.7" r="2.6"/><circle cx="213.0" cy="453.8" r="2.6"/><circle cx="228.7" cy="450.8" r="2.6"/><circle cx="206.7" cy="399.4" r="2.6"/><circle cx="235.2" cy="422.0" r="2.6"/><circle cx="236.6" cy="458.2" r="2.6"/><circle cx="211.4" cy="446.9" r="2.6"/><circle cx="198.0" cy="418.6" r="2.6"/><circle cx="235.0" cy="422.8" r="2.6"/><circle cx="204.3" cy="425.4" r="2.6"/><circle cx="232.0" cy="454.3" r="2.6"/><circle cx="234.5" cy="448.6" r="2.6"/><circle cx="231.3" cy="424.7" r="2.6"/><circle cx="240.6" cy="433.8" r="2.6"/><circle cx="223.7" cy="446.5" r="2.6"/><circle cx="230.0" cy="449.3" r="2.6"/><circle cx="206.9" cy="406.9" r="2.6"/><circle cx="236.5" cy="458.9" r="2.6"/><circle cx="227.5" cy="407.1" r="2.6"/><circle cx="195.5" cy="427.1" r="2.6"/><circle cx="195.6" cy="430.7" r="2.6"/><circle cx="244.2" cy="450.8" r="2.6"/><circle cx="228.2" cy="472.0" r="2.6"/><circle cx="218.9" cy="443.6" r="2.6"/><circle cx="210.0" cy="411.1" r="2.6"/><circle cx="242.4" cy="453.4" r="2.6"/><circle cx="242.8" cy="467.6" r="2.6"/><circle cx="230.7" cy="444.4" r="2.6"/><circle cx="217.2" cy="426.0" r="2.6"/></g>
<g fill="#86209e"><circle cx="225.5" cy="464.8" r="2.6"/><circle cx="218.9" cy="462.2" r="2.6"/><circle cx="238.8" cy="432.4" r="2.6"/><circle cx="201.8" cy="417.4" r="2.6"/><circle cx="206.2" cy="413.5" r="2.6"/><circle cx="199.4" cy="416.0" r="2.6"/><circle cx="228.5" cy="462.0" r="2.6"/><circle cx="223.4" cy="426.0" r="2.6"/><circle cx="218.6" cy="436.9" r="2.6"/><circle cx="208.3" cy="399.1" r="2.6"/><circle cx="244.3" cy="458.2" r="2.6"/><circle cx="203.7" cy="457.5" r="2.6"/><circle cx="226.8" cy="467.3" r="2.6"/><circle cx="232.9" cy="417.3" r="2.6"/><circle cx="194.2" cy="427.0" r="2.6"/><circle cx="238.2" cy="435.1" r="2.6"/><circle cx="205.2" cy="441.9" r="2.6"/><circle cx="222.8" cy="460.1" r="2.6"/><circle cx="202.6" cy="450.3" r="2.6"/><circle cx="240.9" cy="461.0" r="2.6"/><circle cx="237.8" cy="458.2" r="2.6"/><circle cx="202.6" cy="411.6" r="2.6"/><circle cx="221.9" cy="447.6" r="2.6"/><circle cx="197.0" cy="410.5" r="2.6"/><circle cx="210.3" cy="409.2" r="2.6"/><circle cx="198.4" cy="422.6" r="2.6"/><circle cx="216.4" cy="458.8" r="2.6"/><circle cx="242.5" cy="460.1" r="2.6"/><circle cx="221.6" cy="457.0" r="2.6"/><circle cx="204.3" cy="454.0" r="2.6"/><circle cx="224.5" cy="472.3" r="2.6"/><circle cx="219.8" cy="417.4" r="2.6"/><circle cx="233.5" cy="425.6" r="2.6"/><circle cx="209.7" cy="439.5" r="2.6"/><circle cx="202.0" cy="418.8" r="2.6"/></g>
<g fill="#ee2a9c"><circle cx="147.5" cy="362.9" r="2.6"/><circle cx="152.7" cy="383.1" r="2.6"/><circle cx="144.5" cy="445.9" r="2.6"/><circle cx="152.8" cy="384.2" r="2.6"/><circle cx="120.7" cy="434.8" r="2.6"/><circle cx="180.5" cy="384.9" r="2.6"/><circle cx="147.0" cy="385.4" r="2.6"/><circle cx="103.9" cy="398.0" r="2.6"/><circle cx="138.5" cy="400.8" r="2.6"/><circle cx="179.2" cy="440.2" r="2.6"/><circle cx="116.3" cy="344.0" r="2.6"/><circle cx="99.8" cy="405.0" r="2.6"/><circle cx="152.0" cy="367.2" r="2.6"/><circle cx="122.8" cy="419.5" r="2.6"/><circle cx="154.6" cy="431.5" r="2.6"/><circle cx="129.1" cy="438.4" r="2.6"/><circle cx="112.6" cy="337.2" r="2.6"/><circle cx="181.4" cy="401.2" r="2.6"/><circle cx="94.4" cy="385.6" r="2.6"/><circle cx="146.0" cy="340.6" r="2.6"/><circle cx="189.5" cy="412.1" r="2.6"/><circle cx="165.0" cy="381.7" r="2.6"/><circle cx="159.0" cy="457.8" r="2.6"/><circle cx="180.0" cy="402.9" r="2.6"/><circle cx="158.8" cy="344.5" r="2.6"/><circle cx="132.6" cy="367.2" r="2.6"/><circle cx="199.3" cy="398.3" r="2.6"/><circle cx="122.9" cy="413.6" r="2.6"/><circle cx="134.8" cy="404.1" r="2.6"/><circle cx="114.6" cy="373.0" r="2.6"/><circle cx="184.4" cy="402.8" r="2.6"/><circle cx="173.7" cy="420.3" r="2.6"/><circle cx="131.4" cy="365.7" r="2.6"/><circle cx="136.8" cy="413.3" r="2.6"/><circle cx="137.9" cy="423.7" r="2.6"/><circle cx="111.1" cy="346.9" r="2.6"/><circle cx="174.0" cy="449.6" r="2.6"/><circle cx="116.0" cy="392.5" r="2.6"/><circle cx="132.5" cy="441.4" r="2.6"/><circle cx="110.5" cy="403.4" r="2.6"/><circle cx="159.1" cy="383.1" r="2.6"/><circle cx="134.4" cy="394.2" r="2.6"/><circle cx="191.1" cy="392.3" r="2.6"/><circle cx="169.9" cy="379.7" r="2.6"/><circle cx="197.0" cy="399.8" r="2.6"/><circle cx="121.2" cy="396.2" r="2.6"/><circle cx="145.8" cy="442.3" r="2.6"/><circle cx="117.4" cy="356.9" r="2.6"/><circle cx="98.5" cy="370.7" r="2.6"/><circle cx="147.8" cy="393.9" r="2.6"/><circle cx="213.0" cy="370.0" r="2.6"/><circle cx="98.0" cy="392.1" r="2.6"/><circle cx="103.3" cy="400.4" r="2.6"/><circle cx="181.8" cy="422.0" r="2.6"/><circle cx="170.7" cy="435.0" r="2.6"/><circle cx="191.8" cy="456.3" r="2.6"/><circle cx="165.2" cy="367.0" r="2.6"/><circle cx="111.6" cy="336.7" r="2.6"/><circle cx="126.6" cy="351.3" r="2.6"/><circle cx="87.5" cy="360.3" r="2.6"/><circle cx="115.6" cy="390.5" r="2.6"/><circle cx="205.8" cy="364.8" r="2.6"/><circle cx="185.7" cy="431.2" r="2.6"/><circle cx="102.5" cy="359.8" r="2.6"/><circle cx="97.8" cy="353.3" r="2.6"/><circle cx="150.8" cy="354.7" r="2.6"/><circle cx="106.0" cy="357.6" r="2.6"/><circle cx="182.4" cy="360.8" r="2.6"/><circle cx="156.2" cy="380.9" r="2.6"/><circle cx="159.8" cy="360.7" r="2.6"/><circle cx="149.6" cy="405.9" r="2.6"/><circle cx="149.2" cy="338.0" r="2.6"/><circle cx="110.5" cy="340.2" r="2.6"/><circle cx="181.6" cy="446.5" r="2.6"/><circle cx="150.6" cy="365.3" r="2.6"/><circle cx="100.8" cy="338.5" r="2.6"/><circle cx="128.8" cy="414.8" r="2.6"/><circle cx="193.4" cy="416.9" r="2.6"/><circle cx="188.2" cy="401.4" r="2.6"/><circle cx="179.2" cy="445.0" r="2.6"/><circle cx="127.3" cy="334.9" r="2.6"/><circle cx="88.5" cy="389.8" r="2.6"/><circle cx="175.1" cy="449.3" r="2.6"/><circle cx="132.7" cy="385.8" r="2.6"/><circle cx="107.3" cy="349.9" r="2.6"/><circle cx="170.5" cy="456.3" r="2.6"/><circle cx="119.2" cy="339.1" r="2.6"/><circle cx="153.8" cy="408.5" r="2.6"/><circle cx="131.9" cy="334.8" r="2.6"/><circle cx="95.5" cy="354.7" r="2.6"/><circle cx="171.8" cy="358.0" r="2.6"/><circle cx="143.5" cy="412.4" r="2.6"/><circle cx="135.5" cy="409.5" r="2.6"/><circle cx="92.8" cy="387.8" r="2.6"/><circle cx="172.4" cy="461.5" r="2.6"/><circle cx="165.4" cy="428.4" r="2.6"/><circle cx="115.7" cy="365.1" r="2.6"/><circle cx="121.6" cy="438.2" r="2.6"/><circle cx="105.7" cy="420.8" r="2.6"/><circle cx="190.6" cy="445.5" r="2.6"/><circle cx="125.6" cy="404.2" r="2.6"/><circle cx="150.7" cy="460.7" r="2.6"/><circle cx="186.0" cy="464.2" r="2.6"/><circle cx="136.3" cy="405.0" r="2.6"/><circle cx="112.1" cy="396.3" r="2.6"/><circle cx="135.1" cy="380.5" r="2.6"/><circle cx="161.5" cy="378.2" r="2.6"/><circle cx="167.5" cy="469.0" r="2.6"/><circle cx="195.0" cy="444.3" r="2.6"/><circle cx="176.3" cy="359.6" r="2.6"/><circle cx="115.0" cy="415.5" r="2.6"/><circle cx="81.4" cy="369.0" r="2.6"/><circle cx="150.1" cy="396.8" r="2.6"/><circle cx="129.5" cy="371.4" r="2.6"/><circle cx="89.3" cy="346.4" r="2.6"/><circle cx="118.5" cy="366.3" r="2.6"/><circle cx="139.8" cy="419.0" r="2.6"/><circle cx="105.5" cy="374.5" r="2.6"/><circle cx="183.5" cy="413.6" r="2.6"/><circle cx="176.2" cy="438.2" r="2.6"/><circle cx="166.1" cy="382.2" r="2.6"/><circle cx="180.9" cy="377.7" r="2.6"/><circle cx="94.4" cy="352.1" r="2.6"/><circle cx="88.9" cy="369.6" r="2.6"/><circle cx="156.4" cy="380.6" r="2.6"/><circle cx="193.4" cy="411.4" r="2.6"/><circle cx="156.6" cy="377.2" r="2.6"/><circle cx="89.9" cy="399.5" r="2.6"/><circle cx="121.3" cy="398.9" r="2.6"/><circle cx="142.6" cy="354.9" r="2.6"/><circle cx="196.4" cy="365.4" r="2.6"/><circle cx="94.9" cy="377.3" r="2.6"/><circle cx="179.2" cy="465.9" r="2.6"/><circle cx="152.4" cy="385.8" r="2.6"/><circle cx="165.9" cy="443.5" r="2.6"/><circle cx="172.7" cy="386.4" r="2.6"/><circle cx="160.2" cy="462.4" r="2.6"/><circle cx="165.5" cy="372.2" r="2.6"/><circle cx="201.1" cy="370.5" r="2.6"/><circle cx="96.8" cy="358.6" r="2.6"/><circle cx="158.6" cy="395.6" r="2.6"/><circle cx="112.3" cy="366.6" r="2.6"/><circle cx="81.6" cy="358.7" r="2.6"/></g>
<g fill="#86209e"><circle cx="226.0" cy="453.3" r="2.6"/><circle cx="195.7" cy="401.3" r="2.6"/><circle cx="206.1" cy="422.4" r="2.6"/><circle cx="209.2" cy="429.1" r="2.6"/><circle cx="195.7" cy="424.8" r="2.6"/><circle cx="228.6" cy="438.6" r="2.6"/><circle cx="200.2" cy="415.1" r="2.6"/><circle cx="239.8" cy="452.3" r="2.6"/><circle cx="216.0" cy="454.1" r="2.6"/><circle cx="219.2" cy="423.4" r="2.6"/><circle cx="224.3" cy="459.9" r="2.6"/><circle cx="239.5" cy="467.7" r="2.6"/><circle cx="213.8" cy="442.9" r="2.6"/><circle cx="197.1" cy="429.4" r="2.6"/><circle cx="201.9" cy="404.1" r="2.6"/><circle cx="197.8" cy="414.8" r="2.6"/><circle cx="209.4" cy="405.0" r="2.6"/><circle cx="199.1" cy="440.2" r="2.6"/><circle cx="227.9" cy="466.1" r="2.6"/><circle cx="200.7" cy="435.0" r="2.6"/><circle cx="226.8" cy="410.6" r="2.6"/><circle cx="218.2" cy="457.3" r="2.6"/><circle cx="234.5" cy="421.8" r="2.6"/><circle cx="225.7" cy="421.2" r="2.6"/><circle cx="204.9" cy="446.0" r="2.6"/><circle cx="203.2" cy="461.2" r="2.6"/><circle cx="204.4" cy="409.8" r="2.6"/><circle cx="225.2" cy="417.4" r="2.6"/><circle cx="209.9" cy="430.0" r="2.6"/><circle cx="208.8" cy="444.2" r="2.6"/><circle cx="206.6" cy="411.0" r="2.6"/><circle cx="229.7" cy="443.0" r="2.6"/><circle cx="221.8" cy="459.7" r="2.6"/><circle cx="211.0" cy="465.9" r="2.6"/></g>
<g fill="#ee2a9c"><circle cx="178.6" cy="360.8" r="2.6"/><circle cx="151.1" cy="413.2" r="2.6"/><circle cx="87.4" cy="374.0" r="2.6"/><circle cx="166.9" cy="461.9" r="2.6"/><circle cx="181.8" cy="410.6" r="2.6"/><circle cx="126.2" cy="393.2" r="2.6"/><circle cx="148.0" cy="347.9" r="2.6"/><circle cx="89.1" cy="370.8" r="2.6"/><circle cx="125.5" cy="445.4" r="2.6"/><circle cx="156.0" cy="353.7" r="2.6"/><circle cx="186.4" cy="450.2" r="2.6"/><circle cx="181.4" cy="398.6" r="2.6"/><circle cx="131.8" cy="421.2" r="2.6"/><circle cx="175.3" cy="362.6" r="2.6"/><circle cx="88.5" cy="392.5" r="2.6"/><circle cx="148.5" cy="364.5" r="2.6"/><circle cx="106.7" cy="382.9" r="2.6"/><circle cx="169.9" cy="384.9" r="2.6"/><circle cx="125.3" cy="416.4" r="2.6"/><circle cx="130.2" cy="376.8" r="2.6"/><circle cx="204.2" cy="368.0" r="2.6"/><circle cx="138.9" cy="402.3" r="2.6"/><circle cx="145.9" cy="455.9" r="2.6"/><circle cx="147.2" cy="448.1" r="2.6"/><circle cx="158.9" cy="376.5" r="2.6"/><circle cx="195.4" cy="416.6" r="2.6"/><circle cx="167.6" cy="373.9" r="2.6"/><circle cx="125.2" cy="376.3" r="2.6"/><circle cx="100.4" cy="386.9" r="2.6"/><circle cx="131.3" cy="427.3" r="2.6"/><circle cx="97.1" cy="393.7" r="2.6"/><circle cx="83.6" cy="351.7" r="2.6"/><circle cx="185.2" cy="366.0" r="2.6"/><circle cx="157.5" cy="370.3" r="2.6"/><circle cx="94.2" cy="345.9" r="2.6"/><circle cx="135.2" cy="365.3" r="2.6"/><circle cx="133.4" cy="438.1" r="2.6"/><circle cx="145.4" cy="355.7" r="2.6"/><circle cx="174.3" cy="441.5" r="2.6"/><circle cx="201.4" cy="370.6" r="2.6"/><circle cx="95.8" cy="342.1" r="2.6"/><circle cx="159.4" cy="424.4" r="2.6"/><circle cx="129.5" cy="410.6" r="2.6"/><circle cx="143.8" cy="448.8" r="2.6"/><circle cx="191.7" cy="373.0" r="2.6"/><circle cx="176.3" cy="386.9" r="2.6"/><circle cx="165.4" cy="459.0" r="2.6"/><circle cx="178.0" cy="456.8" r="2.6"/><circle cx="192.2" cy="435.3" r="2.6"/><circle cx="115.9" cy="411.3" r="2.6"/><circle cx="110.5" cy="337.7" r="2.6"/><circle cx="174.1" cy="414.8" r="2.6"/><circle cx="139.3" cy="439.6" r="2.6"/><circle cx="110.7" cy="408.0" r="2.6"/><circle cx="185.3" cy="391.4" r="2.6"/><circle cx="145.5" cy="339.7" r="2.6"/><circle cx="163.5" cy="450.2" r="2.6"/><circle cx="149.5" cy="428.4" r="2.6"/><circle cx="186.5" cy="461.4" r="2.6"/><circle cx="193.2" cy="413.0" r="2.6"/><circle cx="138.5" cy="346.9" r="2.6"/><circle cx="140.1" cy="356.9" r="2.6"/><circle cx="95.4" cy="400.1" r="2.6"/><circle cx="148.1" cy="406.1" r="2.6"/><circle cx="161.6" cy="465.5" r="2.6"/><circle cx="100.0" cy="430.0" r="2.6"/><circle cx="141.5" cy="379.5" r="2.6"/><circle cx="115.1" cy="381.2" r="2.6"/><circle cx="208.3" cy="372.2" r="2.6"/><circle cx="155.6" cy="453.1" r="2.6"/><circle cx="132.8" cy="363.4" r="2.6"/><circle cx="174.0" cy="394.7" r="2.6"/><circle cx="114.4" cy="334.5" r="2.6"/><circle cx="129.5" cy="445.7" r="2.6"/><circle cx="190.8" cy="364.4" r="2.6"/><circle cx="148.4" cy="370.0" r="2.6"/><circle cx="191.2" cy="398.6" r="2.6"/><circle cx="133.2" cy="409.4" r="2.6"/><circle cx="127.3" cy="344.1" r="2.6"/><circle cx="130.7" cy="386.8" r="2.6"/><circle cx="147.9" cy="357.0" r="2.6"/><circle cx="183.0" cy="350.0" r="2.6"/><circle cx="186.3" cy="430.8" r="2.6"/><circle cx="124.6" cy="357.9" r="2.6"/><circle cx="98.0" cy="423.0" r="2.6"/><circle cx="109.2" cy="418.7" r="2.6"/><circle cx="172.1" cy="391.6" r="2.6"/><circle cx="94.1" cy="384.3" r="2.6"/><circle cx="179.7" cy="463.8" r="2.6"/><circle cx="141.6" cy="373.9" r="2.6"/><circle cx="165.3" cy="416.0" r="2.6"/><circle cx="130.9" cy="378.3" r="2.6"/><circle cx="159.8" cy="368.8" r="2.6"/><circle cx="129.3" cy="401.7" r="2.6"/><circle cx="126.3" cy="370.1" r="2.6"/><circle cx="157.3" cy="375.0" r="2.6"/><circle cx="124.8" cy="358.6" r="2.6"/><circle cx="106.2" cy="359.0" r="2.6"/><circle cx="115.4" cy="360.3" r="2.6"/><circle cx="154.4" cy="443.7" r="2.6"/><circle cx="133.5" cy="402.6" r="2.6"/><circle cx="174.6" cy="453.9" r="2.6"/><circle cx="141.7" cy="379.4" r="2.6"/><circle cx="151.3" cy="401.2" r="2.6"/><circle cx="143.7" cy="410.3" r="2.6"/><circle cx="190.7" cy="368.2" r="2.6"/><circle cx="149.3" cy="390.6" r="2.6"/><circle cx="157.8" cy="436.2" r="2.6"/><circle cx="124.6" cy="436.3" r="2.6"/><circle cx="194.4" cy="381.2" r="2.6"/><circle cx="179.9" cy="435.4" r="2.6"/><circle cx="167.2" cy="361.8" r="2.6"/><circle cx="172.1" cy="446.8" r="2.6"/><circle cx="160.2" cy="451.8" r="2.6"/><circle cx="140.9" cy="348.0" r="2.6"/><circle cx="161.5" cy="456.6" r="2.6"/><circle cx="129.6" cy="359.7" r="2.6"/><circle cx="152.4" cy="352.9" r="2.6"/><circle cx="88.3" cy="352.4" r="2.6"/><circle cx="137.4" cy="409.2" r="2.6"/><circle cx="141.3" cy="374.2" r="2.6"/><circle cx="165.0" cy="462.1" r="2.6"/><circle cx="189.2" cy="423.0" r="2.6"/><circle cx="121.3" cy="390.8" r="2.6"/><circle cx="103.5" cy="393.2" r="2.6"/><circle cx="108.4" cy="368.8" r="2.6"/><circle cx="116.3" cy="341.9" r="2.6"/><circle cx="174.6" cy="359.4" r="2.6"/><circle cx="101.5" cy="379.1" r="2.6"/><circle cx="162.4" cy="401.1" r="2.6"/><circle cx="189.7" cy="452.6" r="2.6"/><circle cx="139.0" cy="453.2" r="2.6"/><circle cx="128.1" cy="426.0" r="2.6"/><circle cx="113.5" cy="412.0" r="2.6"/><circle cx="169.1" cy="441.8" r="2.6"/><circle cx="189.0" cy="379.6" r="2.6"/><circle cx="173.0" cy="468.6" r="2.6"/><circle cx="162.4" cy="361.8" r="2.6"/><circle cx="148.2" cy="459.9" r="2.6"/><circle cx="125.6" cy="335.2" r="2.6"/><circle cx="95.1" cy="361.0" r="2.6"/><circle cx="190.2" cy="374.5" r="2.6"/><circle cx="151.9" cy="445.5" r="2.6"/></g>
<g fill="#ee2a9c"><circle cx="118.8" cy="424.1" r="2.6"/><circle cx="141.5" cy="395.8" r="2.6"/><circle cx="131.9" cy="352.3" r="2.6"/><circle cx="107.8" cy="391.0" r="2.6"/><circle cx="95.4" cy="363.6" r="2.6"/><circle cx="135.5" cy="422.2" r="2.6"/><circle cx="130.2" cy="366.5" r="2.6"/><circle cx="139.8" cy="418.4" r="2.6"/><circle cx="120.1" cy="396.1" r="2.6"/><circle cx="130.3" cy="447.6" r="2.6"/><circle cx="188.8" cy="354.4" r="2.6"/><circle cx="130.5" cy="379.5" r="2.6"/><circle cx="188.7" cy="458.9" r="2.6"/><circle cx="100.6" cy="367.6" r="2.6"/><circle cx="107.9" cy="341.5" r="2.6"/><circle cx="135.2" cy="351.3" r="2.6"/><circle cx="155.1" cy="393.4" r="2.6"/><circle cx="176.5" cy="409.1" r="2.6"/><circle cx="113.1" cy="413.7" r="2.6"/><circle cx="84.9" cy="389.6" r="2.6"/><circle cx="139.8" cy="400.5" r="2.6"/><circle cx="179.1" cy="408.8" r="2.6"/><circle cx="97.4" cy="363.3" r="2.6"/><circle cx="102.1" cy="341.6" r="2.6"/><circle cx="170.9" cy="428.3" r="2.6"/><circle cx="128.9" cy="358.2" r="2.6"/><circle cx="114.9" cy="417.1" r="2.6"/><circle cx="191.5" cy="451.0" r="2.6"/><circle cx="128.5" cy="336.4" r="2.6"/><circle cx="187.8" cy="369.1" r="2.6"/><circle cx="174.6" cy="366.8" r="2.6"/><circle cx="118.3" cy="381.1" r="2.6"/><circle cx="147.3" cy="358.3" r="2.6"/><circle cx="111.9" cy="337.7" r="2.6"/><circle cx="186.4" cy="354.0" r="2.6"/><circle cx="190.1" cy="449.9" r="2.6"/><circle cx="89.5" cy="409.0" r="2.6"/><circle cx="88.7" cy="382.0" r="2.6"/><circle cx="131.9" cy="436.5" r="2.6"/><circle cx="172.6" cy="459.1" r="2.6"/><circle cx="128.5" cy="340.2" r="2.6"/><circle cx="134.6" cy="387.1" r="2.6"/><circle cx="163.5" cy="419.3" r="2.6"/><circle cx="127.4" cy="447.7" r="2.6"/><circle cx="96.1" cy="357.4" r="2.6"/><circle cx="168.8" cy="383.5" r="2.6"/><circle cx="138.2" cy="403.3" r="2.6"/><circle cx="92.0" cy="418.0" r="2.6"/><circle cx="133.4" cy="387.7" r="2.6"/><circle cx="155.2" cy="423.5" r="2.6"/><circle cx="190.6" cy="392.3" r="2.6"/><circle cx="147.6" cy="409.1" r="2.6"/><circle cx="187.1" cy="418.0" r="2.6"/><circle cx="165.2" cy="407.7" r="2.6"/><circle cx="103.3" cy="348.6" r="2.6"/><circle cx="101.2" cy="400.2" r="2.6"/><circle cx="167.4" cy="393.9" r="2.6"/><circle cx="103.4" cy="341.5" r="2.6"/><circle cx="187.5" cy="408.4" r="2.6"/><circle cx="96.2" cy="405.9" r="2.6"/><circle cx="137.9" cy="358.1" r="2.6"/><circle cx="161.0" cy="368.0" r="2.6"/><circle cx="99.8" cy="339.5" r="2.6"/><circle cx="122.3" cy="381.8" r="2.6"/><circle cx="147.3" cy="464.1" r="2.6"/><circle cx="162.3" cy="385.0" r="2.6"/><circle cx="126.7" cy="353.3" r="2.6"/><circle cx="190.8" cy="430.2" r="2.6"/><circle cx="160.8" cy="357.3" r="2.6"/><circle cx="106.4" cy="371.7" r="2.6"/><circle cx="115.3" cy="349.6" r="2.6"/><circle cx="135.5" cy="342.5" r="2.6"/><circle cx="86.9" cy="352.6" r="2.6"/><circle cx="176.3" cy="369.2" r="2.6"/><circle cx="195.3" cy="403.1" r="2.6"/><circle cx="99.5" cy="405.0" r="2.6"/><circle cx="137.1" cy="413.1" r="2.6"/><circle cx="160.9" cy="380.2" r="2.6"/><circle cx="211.2" cy="366.8" r="2.6"/><circle cx="99.8" cy="416.1" r="2.6"/><circle cx="143.3" cy="399.4" r="2.6"/><circle cx="155.3" cy="441.1" r="2.6"/><circle cx="159.1" cy="456.2" r="2.6"/><circle cx="97.3" cy="366.6" r="2.6"/><circle cx="193.5" cy="398.8" r="2.6"/><circle cx="193.4" cy="405.2" r="2.6"/><circle cx="119.2" cy="338.3" r="2.6"/><circle cx="154.3" cy="437.8" r="2.6"/><circle cx="167.8" cy="388.6" r="2.6"/><circle cx="101.7" cy="369.9" r="2.6"/><circle cx="172.4" cy="428.5" r="2.6"/><circle cx="115.0" cy="436.5" r="2.6"/><circle cx="128.6" cy="446.3" r="2.6"/><circle cx="122.7" cy="360.6" r="2.6"/><circle cx="174.0" cy="386.9" r="2.6"/><circle cx="156.6" cy="401.3" r="2.6"/><circle cx="102.5" cy="336.4" r="2.6"/><circle cx="164.5" cy="403.4" r="2.6"/><circle cx="198.2" cy="407.0" r="2.6"/><circle cx="196.0" cy="409.4" r="2.6"/><circle cx="121.2" cy="375.1" r="2.6"/><circle cx="105.7" cy="392.7" r="2.6"/><circle cx="197.0" cy="394.6" r="2.6"/><circle cx="160.1" cy="437.5" r="2.6"/><circle cx="190.7" cy="452.2" r="2.6"/><circle cx="115.8" cy="383.2" r="2.6"/><circle cx="139.8" cy="434.3" r="2.6"/><circle cx="187.8" cy="436.1" r="2.6"/><circle cx="179.1" cy="388.9" r="2.6"/><circle cx="171.4" cy="372.7" r="2.6"/><circle cx="169.2" cy="382.6" r="2.6"/><circle cx="184.7" cy="459.1" r="2.6"/><circle cx="171.6" cy="377.0" r="2.6"/><circle cx="85.3" cy="353.1" r="2.6"/><circle cx="133.4" cy="361.7" r="2.6"/><circle cx="166.5" cy="384.0" r="2.6"/><circle cx="191.0" cy="404.2" r="2.6"/><circle cx="219.0" cy="383.0" r="2.6"/><circle cx="113.5" cy="353.1" r="2.6"/><circle cx="189.1" cy="371.6" r="2.6"/><circle cx="175.7" cy="391.4" r="2.6"/><circle cx="173.1" cy="391.3" r="2.6"/><circle cx="146.5" cy="365.0" r="2.6"/><circle cx="171.8" cy="394.4" r="2.6"/><circle cx="111.2" cy="404.1" r="2.6"/><circle cx="165.7" cy="420.4" r="2.6"/><circle cx="148.3" cy="419.7" r="2.6"/><circle cx="128.2" cy="401.2" r="2.6"/><circle cx="107.2" cy="360.7" r="2.6"/><circle cx="98.6" cy="382.4" r="2.6"/><circle cx="135.3" cy="454.8" r="2.6"/><circle cx="163.0" cy="444.2" r="2.6"/><circle cx="153.2" cy="452.0" r="2.6"/><circle cx="97.1" cy="354.1" r="2.6"/><circle cx="95.1" cy="381.9" r="2.6"/><circle cx="117.5" cy="360.9" r="2.6"/><circle cx="122.7" cy="410.9" r="2.6"/><circle cx="224.4" cy="394.2" r="2.6"/><circle cx="179.2" cy="392.7" r="2.6"/><circle cx="121.6" cy="364.6" r="2.6"/><circle cx="148.0" cy="469.5" r="2.6"/><circle cx="164.9" cy="374.8" r="2.6"/></g>
<g fill="#ee2a9c"><circle cx="173.9" cy="377.3" r="2.6"/><circle cx="89.1" cy="386.1" r="2.6"/><circle cx="99.8" cy="410.5" r="2.6"/><circle cx="94.6" cy="381.8" r="2.6"/><circle cx="109.0" cy="427.3" r="2.6"/><circle cx="146.7" cy="401.4" r="2.6"/><circle cx="114.8" cy="345.5" r="2.6"/><circle cx="113.0" cy="378.8" r="2.6"/><circle cx="158.9" cy="380.7" r="2.6"/><circle cx="173.4" cy="468.6" r="2.6"/><circle cx="191.8" cy="388.3" r="2.6"/><circle cx="84.5" cy="358.5" r="2.6"/><circle cx="120.5" cy="393.8" r="2.6"/><circle cx="143.3" cy="348.8" r="2.6"/><circle cx="132.4" cy="423.5" r="2.6"/><circle cx="107.0" cy="376.5" r="2.6"/><circle cx="106.6" cy="344.9" r="2.6"/><circle cx="147.0" cy="401.8" r="2.6"/><circle cx="180.3" cy="395.1" r="2.6"/><circle cx="194.2" cy="386.9" r="2.6"/><circle cx="203.2" cy="393.8" r="2.6"/><circle cx="157.5" cy="390.3" r="2.6"/><circle cx="134.3" cy="442.0" r="2.6"/><circle cx="88.5" cy="357.1" r="2.6"/><circle cx="166.4" cy="357.3" r="2.6"/><circle cx="147.1" cy="401.6" r="2.6"/><circle cx="87.1" cy="366.2" r="2.6"/><circle cx="173.1" cy="422.9" r="2.6"/><circle cx="123.5" cy="392.1" r="2.6"/><circle cx="184.2" cy="377.1" r="2.6"/><circle cx="165.0" cy="395.1" r="2.6"/><circle cx="143.6" cy="373.2" r="2.6"/><circle cx="192.0" cy="354.7" r="2.6"/><circle cx="156.8" cy="384.1" r="2.6"/><circle cx="142.1" cy="408.8" r="2.6"/><circle cx="137.3" cy="364.0" r="2.6"/><circle cx="119.8" cy="380.6" r="2.6"/><circle cx="84.5" cy="371.1" r="2.6"/><circle cx="91.4" cy="344.5" r="2.6"/><circle cx="91.0" cy="378.0" r="2.6"/><circle cx="158.5" cy="454.8" r="2.6"/><circle cx="181.8" cy="421.7" r="2.6"/><circle cx="172.8" cy="353.8" r="2.6"/><circle cx="95.4" cy="353.8" r="2.6"/><circle cx="129.1" cy="361.0" r="2.6"/><circle cx="86.2" cy="373.1" r="2.6"/><circle cx="114.0" cy="341.3" r="2.6"/><circle cx="196.0" cy="372.5" r="2.6"/><circle cx="151.0" cy="462.8" r="2.6"/><circle cx="152.0" cy="341.9" r="2.6"/><circle cx="188.7" cy="447.0" r="2.6"/><circle cx="135.9" cy="444.9" r="2.6"/><circle cx="171.5" cy="405.2" r="2.6"/><circle cx="162.2" cy="377.8" r="2.6"/><circle cx="171.4" cy="461.4" r="2.6"/><circle cx="162.2" cy="426.3" r="2.6"/><circle cx="174.3" cy="434.5" r="2.6"/><circle cx="187.7" cy="434.9" r="2.6"/><circle cx="156.2" cy="368.1" r="2.6"/><circle cx="139.8" cy="357.7" r="2.6"/><circle cx="142.8" cy="396.4" r="2.6"/><circle cx="145.4" cy="383.3" r="2.6"/><circle cx="173.3" cy="444.4" r="2.6"/><circle cx="132.2" cy="413.6" r="2.6"/><circle cx="115.3" cy="335.5" r="2.6"/><circle cx="176.4" cy="373.3" r="2.6"/><circle cx="162.4" cy="440.7" r="2.6"/><circle cx="142.5" cy="421.2" r="2.6"/><circle cx="170.4" cy="359.6" r="2.6"/><circle cx="133.8" cy="408.6" r="2.6"/><circle cx="155.0" cy="460.9" r="2.6"/><circle cx="177.3" cy="365.9" r="2.6"/><circle cx="168.6" cy="442.2" r="2.6"/><circle cx="144.6" cy="423.2" r="2.6"/><circle cx="112.2" cy="398.2" r="2.6"/><circle cx="135.8" cy="371.6" r="2.6"/><circle cx="110.9" cy="413.3" r="2.6"/><circle cx="118.7" cy="431.6" r="2.6"/><circle cx="82.4" cy="381.3" r="2.6"/><circle cx="178.2" cy="373.1" r="2.6"/><circle cx="126.6" cy="438.2" r="2.6"/><circle cx="108.7" cy="368.8" r="2.6"/><circle cx="156.8" cy="372.9" r="2.6"/><circle cx="168.8" cy="367.0" r="2.6"/><circle cx="175.0" cy="349.5" r="2.6"/><circle cx="138.3" cy="420.7" r="2.6"/><circle cx="127.9" cy="366.3" r="2.6"/><circle cx="85.8" cy="392.5" r="2.6"/><circle cx="144.4" cy="424.5" r="2.6"/><circle cx="106.2" cy="398.2" r="2.6"/><circle cx="94.0" cy="420.5" r="2.6"/><circle cx="88.9" cy="379.1" r="2.6"/><circle cx="118.6" cy="365.9" r="2.6"/><circle cx="198.2" cy="375.9" r="2.6"/><circle cx="124.3" cy="397.3" r="2.6"/><circle cx="164.8" cy="426.7" r="2.6"/><circle cx="107.1" cy="420.8" r="2.6"/><circle cx="203.1" cy="362.6" r="2.6"/><circle cx="163.0" cy="402.5" r="2.6"/><circle cx="188.5" cy="404.6" r="2.6"/><circle cx="169.6" cy="435.2" r="2.6"/><circle cx="137.6" cy="446.1" r="2.6"/><circle cx="87.6" cy="374.6" r="2.6"/><circle cx="112.9" cy="338.1" r="2.6"/><circle cx="98.5" cy="363.9" r="2.6"/><circle cx="140.7" cy="393.1" r="2.6"/><circle cx="103.7" cy="376.5" r="2.6"/><circle cx="182.6" cy="353.1" r="2.6"/><circle cx="105.3" cy="346.6" r="2.6"/><circle cx="127.6" cy="351.2" r="2.6"/><circle cx="128.2" cy="395.9" r="2.6"/><circle cx="183.7" cy="417.9" r="2.6"/><circle cx="109.4" cy="373.9" r="2.6"/><circle cx="190.8" cy="367.5" r="2.6"/><circle cx="110.7" cy="417.3" r="2.6"/><circle cx="120.6" cy="341.5" r="2.6"/><circle cx="158.6" cy="454.7" r="2.6"/><circle cx="110.0" cy="383.5" r="2.6"/><circle cx="152.3" cy="389.1" r="2.6"/><circle cx="107.5" cy="416.7" r="2.6"/><circle cx="156.1" cy="437.7" r="2.6"/><circle cx="179.2" cy="358.3" r="2.6"/><circle cx="151.4" cy="417.3" r="2.6"/><circle cx="196.6" cy="357.6" r="2.6"/><circle cx="178.5" cy="360.6" r="2.6"/><circle cx="83.2" cy="378.3" r="2.6"/><circle cx="134.7" cy="338.0" r="2.6"/><circle cx="133.2" cy="453.2" r="2.6"/><circle cx="151.3" cy="439.2" r="2.6"/><circle cx="161.0" cy="395.2" r="2.6"/><circle cx="129.2" cy="391.7" r="2.6"/><circle cx="112.6" cy="384.0" r="2.6"/><circle cx="177.1" cy="370.4" r="2.6"/><circle cx="113.4" cy="364.9" r="2.6"/><circle cx="94.4" cy="382.8" r="2.6"/><circle cx="182.6" cy="421.5" r="2.6"/><circle cx="150.6" cy="392.5" r="2.6"/><circle cx="193.8" cy="419.5" r="2.6"/><circle cx="161.0" cy="387.5" r="2.6"/><circle cx="123.2" cy="370.6" r="2.6"/><circle cx="88.9" cy="371.3" r="2.6"/><circle cx="101.7" cy="352.1" r="2.6"/><circle cx="107.9" cy="339.6" r="2.6"/></g>
<g fill="#86209e"><circle cx="222.2" cy="434.6" r="2.6"/><circle cx="196.7" cy="415.7" r="2.6"/><circle cx="200.3" cy="401.8" r="2.6"/><circle cx="229.0" cy="429.6" r="2.6"/><circle cx="211.0" cy="461.6" r="2.6"/><circle cx="208.2" cy="426.7" r="2.6"/><circle cx="220.0" cy="448.1" r="2.6"/><circle cx="197.0" cy="425.1" r="2.6"/><circle cx="215.6" cy="399.4" r="2.6"/><circle cx="199.7" cy="441.0" r="2.6"/><circle cx="227.0" cy="460.9" r="2.6"/><circle cx="224.0" cy="449.6" r="2.6"/><circle cx="235.7" cy="421.4" r="2.6"/><circle cx="240.2" cy="465.9" r="2.6"/><circle cx="205.3" cy="453.4" r="2.6"/><circle cx="213.1" cy="434.0" r="2.6"/><circle cx="225.1" cy="449.3" r="2.6"/><circle cx="205.4" cy="427.0" r="2.6"/><circle cx="217.6" cy="404.7" r="2.6"/><circle cx="216.5" cy="412.9" r="2.6"/><circle cx="240.5" cy="453.6" r="2.6"/><circle cx="205.3" cy="414.6" r="2.6"/><circle cx="205.5" cy="461.1" r="2.6"/><circle cx="226.1" cy="456.3" r="2.6"/><circle cx="219.4" cy="441.1" r="2.6"/><circle cx="237.3" cy="456.9" r="2.6"/><circle cx="242.0" cy="455.0" r="2.6"/><circle cx="198.3" cy="431.4" r="2.6"/><circle cx="222.0" cy="401.7" r="2.6"/><circle cx="239.7" cy="467.3" r="2.6"/><circle cx="208.7" cy="398.3" r="2.6"/><circle cx="201.4" cy="429.0" r="2.6"/><circle cx="215.0" cy="402.8" r="2.6"/><circle cx="213.8" cy="401.0" r="2.6"/><circle cx="230.1" cy="469.6" r="2.6"/></g>
<g fill="#86209e"><circle cx="229.0" cy="471.4" r="2.6"/><circle cx="208.9" cy="406.2" r="2.6"/><circle cx="232.4" cy="434.0" r="2.6"/><circle cx="217.5" cy="459.8" r="2.6"/><circle cx="230.0" cy="430.4" r="2.6"/><circle cx="198.0" cy="433.5" r="2.6"/><circle cx="218.4" cy="466.6" r="2.6"/><circle cx="223.9" cy="456.7" r="2.6"/><circle cx="208.0" cy="424.6" r="2.6"/><circle cx="202.5" cy="415.2" r="2.6"/><circle cx="195.2" cy="429.7" r="2.6"/><circle cx="235.5" cy="461.3" r="2.6"/><circle cx="213.0" cy="456.7" r="2.6"/><circle cx="230.4" cy="473.2" r="2.6"/><circle cx="226.8" cy="464.3" r="2.6"/><circle cx="224.4" cy="430.6" r="2.6"/><circle cx="196.7" cy="400.2" r="2.6"/><circle cx="201.9" cy="415.7" r="2.6"/><circle cx="235.5" cy="427.5" r="2.6"/><circle cx="232.3" cy="444.9" r="2.6"/><circle cx="213.8" cy="401.0" r="2.6"/><circle cx="240.9" cy="457.6" r="2.6"/><circle cx="215.8" cy="470.6" r="2.6"/><circle cx="236.5" cy="456.9" r="2.6"/><circle cx="219.7" cy="429.1" r="2.6"/><circle cx="231.1" cy="462.0" r="2.6"/><circle cx="211.7" cy="437.0" r="2.6"/><circle cx="222.6" cy="449.1" r="2.6"/><circle cx="232.3" cy="415.9" r="2.6"/><circle cx="228.4" cy="406.1" r="2.6"/><circle cx="210.9" cy="401.5" r="2.6"/><circle cx="224.7" cy="465.5" r="2.6"/><circle cx="225.8" cy="414.8" r="2.6"/><circle cx="223.6" cy="428.8" r="2.6"/><circle cx="196.8" cy="411.0" r="2.6"/></g>
<g fill="#f9a620"><circle cx="241.0" cy="368.5" r="2.6"/><circle cx="230.5" cy="398.0" r="2.6"/><circle cx="231.0" cy="396.0" r="2.6"/><circle cx="244.6" cy="363.5" r="2.6"/><circle cx="219.6" cy="356.7" r="2.6"/><circle cx="238.0" cy="350.0" r="2.6"/><circle cx="246.0" cy="365.5" r="2.6"/><circle cx="246.0" cy="352.0" r="2.6"/><circle cx="232.5" cy="394.5" r="2.6"/><circle cx="249.0" cy="347.0" r="2.6"/><circle cx="247.0" cy="362.0" r="2.6"/><circle cx="243.7" cy="366.3" r="2.6"/></g>
</g>
<path d="M115.0,393.8 115.1,395.6 115.3,397.4 115.5,399.2 116.0,400.9 116.5,402.6 117.1,404.3 117.7,406.0 118.2,407.8 118.8,409.5 119.5,411.1 120.4,412.7 121.5,414.1 122.7,415.5 123.8,416.9 124.8,418.3 125.7,419.9 126.4,421.6 127.0,423.3 127.8,424.9 128.6,426.5 129.4,428.1 130.1,429.8 130.5,431.6 130.6,433.3 130.6,435.1M133.9,394.2 135.1,395.6 136.1,397.1 137.0,398.7 137.9,400.2 138.8,401.8 139.7,403.3 140.5,404.9 141.1,406.6 141.5,408.4 141.6,410.2 141.6,412.0 141.7,413.8 142.0,415.5 142.4,417.3 142.8,419.0 143.3,420.8 143.8,422.5 144.2,424.3 144.8,426.0 145.6,427.6 146.6,429.0 147.9,430.3 149.3,431.5 150.6,432.7 151.9,434.0 153.0,435.4 154.0,436.8 155.1,438.3 156.2,439.7M111.1,342.1 111.9,343.7 112.7,345.3 113.5,346.9 114.3,348.5 115.4,350.0 116.5,351.4 117.7,352.7 118.8,354.2 119.6,355.7 120.3,357.4 120.9,359.1 121.4,360.8 122.0,362.5 122.7,364.2 123.3,365.9 123.9,367.6 124.3,369.4 124.4,371.2 124.4,373.0 124.4,374.8 124.5,376.5 124.8,378.3 125.3,380.0 126.1,381.7 126.8,383.3 127.6,384.9 128.5,386.5 129.4,388.1M175.4,433.5 175.8,435.3 176.3,437.0 176.9,438.7 177.8,440.3 178.9,441.7 180.2,443.0 181.4,444.3 182.5,445.7 183.5,447.2 184.5,448.7 185.5,450.2 186.6,451.6 187.8,453.0 188.9,454.4 189.9,455.9 190.7,457.5 191.4,459.2 192.0,460.9 192.7,462.6M158.3,412.2 159.6,413.4 160.9,414.7 162.1,416.0 163.3,417.3 164.6,418.6 165.7,420.0 166.7,421.5 167.3,423.2 167.7,425.0 167.9,426.8 168.0,428.6 168.3,430.3 168.7,432.1 169.1,433.9 169.6,435.6 170.0,437.3 170.4,439.1 170.8,440.8 171.4,442.5 172.2,444.1 173.4,445.5 174.7,446.7 176.1,447.9 177.5,449.0 178.8,450.2 180.1,451.5 181.3,452.8 182.6,454.0 184.0,455.2M191.0,390.7 192.0,392.3 193.0,393.7 194.2,395.1 195.6,396.2 196.9,397.4 198.4,398.4 199.9,399.4 201.3,400.5 202.6,401.8 203.9,403.1 205.1,404.3 206.4,405.6 207.7,406.8 209.0,408.1 210.1,409.5 210.9,411.1 211.6,412.8 212.0,414.6 212.5,416.3 213.0,418.0 213.5,419.7 214.1,421.5 214.6,423.2 215.0,424.9 215.3,426.7 215.6,428.5 216.0,430.2 216.7,431.9 217.7,433.4 218.9,434.8M194.9,428.7 196.2,429.9 197.5,431.2 198.7,432.5 199.7,434.0 200.4,435.7 201.0,437.4 201.6,439.1 202.1,440.8 202.7,442.5 203.3,444.2 203.8,445.9 204.0,447.7 204.1,449.5 204.0,451.3 204.0,453.1 204.2,454.9 204.7,456.6 205.4,458.3 206.2,459.9 207.0,461.5 207.7,463.2M136.5,429.3 137.1,431.0 137.8,432.6 138.7,434.2 139.8,435.6 140.9,437.0 142.0,438.4 143.0,439.9 143.9,441.5 144.7,443.1 145.6,444.7 146.6,446.2 147.6,447.7 148.5,449.3 149.1,450.9 149.5,452.7 149.7,454.5 149.9,456.3 150.1,458.1 150.6,459.8 151.2,461.5 151.8,463.2 152.4,464.9M95.9,341.6 96.1,343.4 96.4,345.2 96.8,346.9 97.4,348.6 98.0,350.3 98.6,352.0 98.9,353.8 99.1,355.6 99.3,357.4 99.6,359.1 100.1,360.8 100.8,362.5 101.6,364.1 102.4,365.7 103.2,367.4 103.8,369.0 104.5,370.7 105.3,372.3 106.2,373.9 107.3,375.3 108.3,376.8 109.3,378.3 110.0,380.0 110.5,381.7 111.0,383.4 111.6,385.1M163.2,350.4 164.4,351.8 165.7,353.1 166.9,354.4 168.1,355.7 169.2,357.2 170.2,358.7 171.2,360.1 172.5,361.4 173.9,362.5 175.4,363.5 177.0,364.3 178.6,365.2 180.1,366.1 181.5,367.2 182.9,368.4 184.3,369.6 185.6,370.8 187.0,371.9 188.2,373.2 189.3,374.7 190.3,376.2 190.9,377.9 191.4,379.6 191.9,381.3 192.6,383.0 193.4,384.6 194.3,386.2 195.2,387.7 196.1,389.3 197.0,390.9M151.0,366.6 152.0,368.1 152.8,369.7 153.6,371.3 154.5,372.9 155.5,374.3 156.7,375.7 157.8,377.1 158.9,378.5 159.9,380.0 160.9,381.5 162.1,382.9 163.4,384.1 164.9,385.1 166.5,386.0 168.1,386.7 169.7,387.5 171.3,388.4 172.8,389.4 174.2,390.6 175.5,391.8 176.9,393.0 178.2,394.1 179.5,395.4 180.7,396.8 181.6,398.3 182.3,400.0 182.8,401.7 183.3,403.4 183.9,405.1 184.7,406.8 185.4,408.4 186.2,410.0 186.8,411.7 187.5,413.4M162.7,436.0 163.4,437.7 164.2,439.3 164.8,441.0 165.4,442.7 166.0,444.4 166.7,446.0 167.7,447.5 168.9,448.9 170.2,450.2 171.4,451.5 172.6,452.8 173.8,454.2 175.0,455.5 176.2,456.8 177.5,458.0 178.9,459.2 180.1,460.5 181.2,462.0 182.0,463.6M230.4,448.1 230.9,449.8 231.3,451.5 231.7,453.3 232.2,455.0 232.7,456.8 233.0,458.5 233.2,460.3 233.0,462.1 232.7,463.9 232.2,465.6 231.7,467.3 231.2,469.1 230.9,470.8M204.5,360.8 205.6,362.3 206.7,363.7 207.8,365.1 208.9,366.5 210.1,367.8M219.7,402.0 220.2,403.8 220.6,405.5 221.1,407.2 221.7,408.9 222.6,410.5 223.7,411.9 225.0,413.2 226.4,414.3 227.8,415.5 229.1,416.7 230.4,417.9 231.7,419.2 233.1,420.3 234.5,421.4 235.9,422.5 237.3,423.6M127.3,339.3 127.6,341.0 127.9,342.8 128.2,344.6 128.5,346.4 128.8,348.1 128.9,349.9 128.9,351.7 128.9,353.5 129.1,355.3M139.6,338.6 140.6,340.1 141.5,341.7 142.3,343.3 143.1,344.9 144.1,346.4 145.2,347.8 146.6,349.0 147.9,350.1 149.3,351.4 150.5,352.7 151.6,354.1 152.5,355.6 153.5,357.2 154.4,358.7 155.3,360.2 156.3,361.8 157.0,363.4 157.6,365.1M129.0,436.9 128.8,438.6 128.8,440.4 128.9,442.2 129.1,444.0 129.3,445.8 129.5,447.6M131.0,338.6 131.5,340.4 132.0,342.1 132.4,343.9 132.7,345.6 132.9,347.4 132.9,349.2 132.8,351.0M150.0,388.9 150.1,390.7 150.4,392.5 151.0,394.2 151.7,395.9 152.5,397.5 153.2,399.1 154.1,400.7 155.0,402.3 156.1,403.7 157.4,404.9 158.9,405.9 160.4,406.9 161.9,407.8 163.4,408.9 164.7,410.1 165.9,411.4 167.1,412.8 168.2,414.2 169.4,415.5 170.6,416.9 171.8,418.3M189.6,414.2 190.6,415.7 191.9,417.0 193.2,418.2 194.5,419.4 195.8,420.7 196.8,422.2 197.7,423.8 198.6,425.3 199.5,426.9 200.6,428.3 201.6,429.8 202.6,431.3 203.4,432.9 204.1,434.5 204.7,436.2M176.7,420.5 177.4,422.2 178.4,423.7 179.5,425.1 180.7,426.4 182.0,427.6 183.3,428.9 184.6,430.2 185.7,431.6 186.9,432.9 188.2,434.2M116.9,361.6 117.3,363.3 117.8,365.1 118.2,366.8 118.6,368.6 118.8,370.4 118.9,372.2 118.8,374.0 118.6,375.8 118.5,377.5 118.5,379.3 118.8,381.1 119.3,382.8 120.1,384.5 120.9,386.1 121.8,387.7 122.6,389.3M138.0,390.0 138.9,391.5 139.7,393.2 140.4,394.8 141.1,396.5 141.9,398.1 142.8,399.7 143.7,401.2 144.6,402.7 145.4,404.4 146.0,406.1 146.6,407.8 147.3,409.4 148.1,411.0 149.1,412.5 150.2,414.0 151.3,415.4 152.3,416.9 153.2,418.5 154.0,420.1 154.8,421.6 155.8,423.2 156.8,424.6 157.9,426.1 158.7,427.7 159.4,429.4 159.9,431.1 160.3,432.8M170.3,380.5 171.9,381.3 173.6,382.0 175.2,382.8 176.6,383.8 178.0,385.0 179.2,386.3 180.4,387.7 181.7,389.0 183.0,390.2 184.3,391.5 185.5,392.8 186.5,394.3 187.5,395.8 188.4,397.3 189.4,398.8 190.6,400.2 191.9,401.4 193.4,402.5 194.8,403.5 196.3,404.6 197.5,405.9 198.7,407.3 199.8,408.6 201.1,410.0 202.3,411.2 203.6,412.6M117.3,387.6 118.0,389.2 118.6,390.9 119.2,392.6 119.9,394.3 120.7,395.9 121.7,397.4 122.8,398.8 123.8,400.3 124.8,401.8 125.6,403.4 126.2,405.1 126.9,406.8 127.5,408.4 128.3,410.1 129.0,411.7 129.7,413.4 130.1,415.1 130.4,416.9 130.7,418.7 131.0,420.5 131.5,422.2 132.1,423.9 132.9,425.5M168.6,361.6 169.6,363.2 170.7,364.6 172.0,365.8 173.3,367.0 174.6,368.3 175.9,369.6 177.0,370.9 178.2,372.3 179.5,373.6 180.8,374.8 182.1,376.1 183.3,377.4 184.4,378.8 185.2,380.4 185.9,382.1 186.5,383.8 187.3,385.4 188.2,386.9M127.5,357.4 128.1,359.0 129.0,360.6 130.0,362.1 130.9,363.7 131.8,365.2 132.7,366.8 133.7,368.3 134.8,369.7 136.1,370.9 137.6,372.0 139.0,373.1 140.3,374.3 141.5,375.6 142.6,377.1 143.5,378.6 144.4,380.2 145.3,381.7 146.2,383.3 146.9,385.0 147.4,386.7M108.2,387.4 108.8,389.2 109.3,390.9 109.7,392.6 109.8,394.4 109.8,396.2 109.5,398.0 109.2,399.8 109.0,401.6 109.0,403.4 109.2,405.2 109.6,406.9 110.2,408.6 110.9,410.3 111.5,412.0 112.1,413.7 112.9,415.3M129.3,370.1 129.8,371.8 130.6,373.4 131.5,374.9 132.5,376.4 133.5,377.9 134.4,379.5 135.2,381.1 135.9,382.8 136.7,384.4 137.6,386.0M130.3,400.1 131.1,401.7 131.9,403.3 132.7,404.9 133.5,406.5 134.1,408.2 134.5,410.0 134.7,411.8 134.6,413.6 134.5,415.3 134.5,417.1 134.7,418.9 135.1,420.7 135.7,422.4 136.3,424.1M206.6,433.2 207.2,434.9 208.1,436.5 209.1,437.9 210.3,439.3 211.6,440.6 212.7,442.0 213.8,443.4 214.9,444.9 216.0,446.3 217.2,447.6 218.5,448.9 219.7,450.2 220.8,451.6 221.6,453.2 222.2,454.9 222.5,456.7 222.6,458.5 222.7,460.3 222.8,462.1 222.9,463.9 222.9,465.7M107.7,366.4 108.2,368.1 108.7,369.8 109.4,371.5 110.1,373.2M215.1,411.8 215.8,413.4 216.5,415.1 217.4,416.6 218.4,418.1 219.4,419.7 220.2,421.3 220.9,422.9 221.7,424.6 222.4,426.2 223.3,427.7 224.4,429.2 225.6,430.6 226.7,432.0 227.6,433.5 228.4,435.1 229.1,436.8 229.8,438.4 230.6,440.1 231.5,441.6 232.3,443.2 233.0,444.9M94.6,355.9 94.4,357.7 94.2,359.5 94.2,361.3 94.4,363.1 94.9,364.8 95.6,366.5 96.5,368.0 97.5,369.5 98.4,371.1 99.3,372.6 100.3,374.1 101.5,375.5 102.7,376.8M150.7,383.6 151.1,385.3 151.3,387.1 151.5,388.9 151.6,390.7M207.5,443.6 208.2,445.3 208.7,447.0 209.1,448.7 209.6,450.5 210.2,452.2 210.9,453.8 211.7,455.4 212.4,457.1 213.1,458.7 213.6,460.5 214.0,462.2 214.4,464.0 214.9,465.7 215.6,467.4 216.3,469.0M116.6,339.1 117.3,340.8 117.9,342.5 118.3,344.2 118.8,345.9 119.4,347.6M236.6,426.3 237.5,427.9 238.1,429.6 238.6,431.3 239.2,433.0 239.7,434.7 240.3,436.4 240.7,438.2 241.1,439.9 241.2,441.7 241.2,443.5 241.2,445.3 241.3,447.1 241.7,448.9 242.4,450.5 243.2,452.1M234.0,432.6 234.4,434.3 234.9,436.1 235.5,437.8 236.0,439.5 236.4,441.3 236.7,443.0 236.8,444.8 237.0,446.6 237.3,448.4 237.7,450.1 238.4,451.8 239.2,453.4 240.0,455.0 240.8,456.7 241.4,458.3 242.0,460.1 242.6,461.7 243.3,463.4M159.5,439.4 160.5,440.9 161.3,442.5 161.9,444.2 162.5,445.9 163.0,447.7 163.5,449.4 164.3,451.0 165.1,452.6 165.9,454.2 166.7,455.8 167.4,457.5 167.9,459.2 168.5,460.9 169.3,462.5M133.8,339.3 134.5,340.9 135.0,342.6 135.4,344.4 135.6,346.2 135.6,348.0 135.7,349.8 135.8,351.6 136.3,353.3 137.0,355.0 137.9,356.5 138.8,358.1 139.8,359.6 140.8,361.1 141.8,362.5 143.0,363.9 144.3,365.1 145.8,366.2 147.2,367.3 148.6,368.4 149.8,369.7M83.2,360.8 83.6,362.6 83.9,364.4 84.1,366.1 84.5,367.9 85.0,369.6 85.6,371.3 86.3,373.0 87.1,374.6 87.8,376.3 88.3,378.0 88.7,379.7 89.2,381.5 89.7,383.2 90.3,384.9 91.2,386.5 92.0,388.1 92.8,389.7 93.4,391.4 93.9,393.1 94.5,394.8M137.7,419.3 138.2,421.0 138.7,422.7 139.2,424.4 139.8,426.2 140.3,427.9 141.0,429.5M90.0,395.4 90.9,396.9 91.9,398.4 93.0,399.8 94.2,401.2 95.2,402.7 96.0,404.3 96.6,406.0 97.2,407.7 97.7,409.4 98.3,411.1 98.9,412.8 99.4,414.5 99.8,416.3M164.6,426.4 164.7,428.2 164.9,430.0 165.1,431.7 165.5,433.5M159.0,365.8 159.3,367.6 159.7,369.3 160.4,371.0 161.3,372.5 162.3,374.0 163.4,375.4 164.5,376.8 165.6,378.3 166.8,379.6M92.5,344.5 92.7,346.3 92.9,348.1 93.1,349.9 93.4,351.6M209.9,396.7 210.6,398.4 211.3,400.0 212.2,401.6 213.2,403.1 214.1,404.7 215.1,406.2 215.9,407.8M142.1,387.9 142.8,389.6 143.3,391.3 143.6,393.1 144.0,394.8M133.0,438.6 133.4,440.4 133.8,442.1 134.1,443.9 134.4,445.7 134.6,447.5 134.9,449.3 135.5,451.0 136.3,452.6 137.4,454.0 138.6,455.3 139.8,456.7M160.2,451.9 160.6,453.6 161.1,455.3 161.5,457.1 161.9,458.9 162.1,460.6 162.3,462.4 162.6,464.2 163.2,465.9 164.1,467.5 165.2,468.9M108.9,415.5 109.6,417.2 110.5,418.8 111.5,420.2 112.6,421.6 113.7,423.1 114.6,424.6 115.4,426.3 116.0,428.0 116.5,429.7 117.1,431.4 117.7,433.1 118.3,434.8 118.7,436.5 119.0,438.3M230.1,456.0 230.4,457.8 230.6,459.6 230.5,461.4 230.4,463.2M189.2,436.2 190.4,437.5 191.4,439.0 192.1,440.7 192.5,442.4 192.8,444.2 193.2,446.0 193.7,447.7 194.3,449.4 194.9,451.1 195.4,452.8 195.8,454.6M116.6,418.2 117.9,419.4 119.2,420.7 120.2,422.2 121.1,423.8 121.8,425.4 122.6,427.0 123.4,428.7 124.0,430.3 124.5,432.1 124.6,433.9 124.5,435.7 124.2,437.4 123.9,439.2 123.7,441.0 123.5,442.8M198.7,413.4 199.8,414.8 200.7,416.4 201.4,418.1 201.8,419.8 202.2,421.6 202.8,423.3 203.4,425.0 204.2,426.6 204.9,428.2 205.6,429.9M173.8,353.1 175.1,354.3 176.5,355.5 178.0,356.6 179.5,357.5 181.2,358.2 182.9,358.7 184.6,359.2 186.3,359.7 188.0,360.5 189.5,361.4 190.9,362.6 192.2,363.8 193.6,365.0 194.9,366.1 196.3,367.3 197.7,368.4 199.0,369.7 200.2,371.1 201.3,372.5 202.5,373.8M159.8,352.7 161.0,354.1 162.1,355.5 163.2,356.9 164.1,358.5 164.8,360.2 165.3,361.9 165.8,363.6 166.4,365.3 167.2,366.9M100.2,339.5 100.2,341.3 100.6,343.0 101.2,344.7 102.0,346.3 102.9,347.9 103.8,349.4 104.6,351.0 105.5,352.6 106.4,354.2 107.5,355.6 108.7,357.0 109.9,358.3 111.0,359.7 112.0,361.2 112.7,362.8 113.2,364.6 113.5,366.3 113.9,368.1 114.3,369.8 114.7,371.6 115.1,373.4 115.3,375.1 115.4,376.9 115.5,378.7 115.6,380.5 116.0,382.3M219.4,435.2 220.6,436.5 221.7,437.9 222.8,439.3 223.9,440.7 225.1,442.1 226.3,443.4 227.5,444.8 228.7,446.1M147.3,357.5 148.2,359.1 149.1,360.6 150.2,362.0 151.3,363.4 152.4,364.9M163.5,396.3 164.5,397.8 165.6,399.2 166.8,400.5 168.0,401.8 169.1,403.3 170.1,404.8 170.8,406.4 171.5,408.1 172.2,409.8 173.0,411.3 174.0,412.9 175.0,414.4 175.9,415.9M161.0,387.4 162.3,388.7 163.7,389.8 165.0,391.1 166.2,392.4 167.4,393.8 168.5,395.2 169.7,396.6 170.9,397.9 172.1,399.3 173.1,400.7 174.0,402.3 174.6,404.0 175.0,405.7 175.4,407.5M84.1,374.6 84.6,376.3 84.9,378.1 85.1,379.8 85.1,381.6 85.1,383.4 85.2,385.2 85.5,387.0 86.0,388.7 86.7,390.4M89.9,346.7 90.0,348.5 90.0,350.3 90.1,352.1 90.2,353.9 90.2,355.7 90.2,357.5 90.0,359.2 89.9,361.0 89.7,362.8 89.7,364.6 90.0,366.4 90.5,368.1 91.3,369.7 92.3,371.2 93.3,372.8 94.2,374.3 95.2,375.8 96.2,377.3 97.3,378.7 98.6,379.9M103.4,386.6 103.9,388.4 104.3,390.1 104.8,391.8 105.1,393.6 105.3,395.4 105.3,397.2 105.2,399.0 105.0,400.8 104.9,402.6 104.9,404.4 105.1,406.2 105.6,407.9 106.2,409.6 106.9,411.3M148.7,417.4 149.4,419.1 150.0,420.8 150.6,422.5 151.5,424.0 152.5,425.5 153.6,427.0 154.7,428.4M124.2,391.8 125.4,393.1 126.8,394.2 128.2,395.3 129.6,396.5 130.8,397.8 132.0,399.2M180.8,361.7 182.5,362.3 184.2,363.0 185.8,363.9 187.3,364.9 188.7,365.9 190.2,367.0 191.6,368.1 193.0,369.2M154.9,384.4 155.4,386.2 155.9,387.9 156.6,389.5 157.4,391.1 158.3,392.7 159.3,394.2 160.2,395.8 161.0,397.4 161.9,399.0 162.9,400.5M196.3,356.9 197.1,358.5 198.0,360.1 199.0,361.6 200.2,363.0 201.4,364.3 202.6,365.6 203.8,367.0 205.0,368.3 206.3,369.6 207.7,370.7M94.8,383.8 95.8,385.3 96.6,386.9 97.4,388.6 97.9,390.3 98.3,392.1 98.7,393.8 99.2,395.5 99.8,397.2 100.4,398.9 100.8,400.7 101.1,402.5 101.3,404.2 101.5,406.0 101.9,407.8 102.4,409.5 103.1,411.2M120.6,341.0 120.9,342.7 121.3,344.5 121.8,346.2 122.4,347.9 123.0,349.6 123.6,351.3 124.1,353.0 124.5,354.8M204.3,413.3 205.0,414.9 205.4,416.7 205.7,418.4 206.0,420.2M112.8,404.5 113.4,406.2 114.0,407.9 114.6,409.6 115.2,411.3M146.5,437.7 147.6,439.1 148.7,440.5 149.8,441.9 151.0,443.3 152.1,444.8 153.1,446.3 153.8,447.9 154.3,449.6 154.4,451.4 154.5,453.2 154.5,455.0M180.9,418.3 181.9,419.8 183.1,421.1 184.5,422.2 186.0,423.2 187.5,424.2 189.0,425.2 190.4,426.3 191.8,427.5 193.1,428.7M146.1,339.0 147.2,340.4 148.5,341.7 149.9,342.8 151.4,343.8 153.0,344.6 154.6,345.3 156.2,346.2 157.7,347.2M150.0,374.4 151.1,375.8 152.2,377.2 153.3,378.7 154.3,380.1M223.8,450.9 224.5,452.6 224.9,454.3 225.1,456.1 225.2,457.9 225.3,459.7 225.3,461.5 225.3,463.3 225.1,465.1 224.8,466.9 224.5,468.6 224.1,470.4M176.9,400.7 177.3,402.5 177.6,404.2 178.0,406.0 178.4,407.7 179.1,409.4 179.8,411.1 180.5,412.7 181.2,414.4 181.8,416.1M237.0,460.3 237.0,462.1 237.0,463.9 236.9,465.7 236.9,467.5 237.1,469.3M183.4,353.4 184.9,354.3 186.6,355.1 188.2,355.9 189.8,356.8 191.2,357.9 192.5,359.1M224.0,418.7 225.2,420.1 226.3,421.5 227.5,422.8 228.8,424.1 230.1,425.3 231.5,426.4 232.8,427.7 233.9,429.1M138.2,439.2 139.0,440.8 139.6,442.5 140.2,444.2 140.7,446.0 141.4,447.6 142.2,449.2 143.1,450.8 144.0,452.3 144.8,453.9 145.5,455.6 146.0,457.3M215.6,451.5 216.6,453.0 217.3,454.7 217.9,456.4 218.2,458.1 218.4,459.9 218.6,461.7 218.8,463.5M207.3,413.5 207.8,415.2 208.2,416.9 208.5,418.7 208.7,420.5 209.1,422.3 209.5,424.0 209.9,425.8 210.3,427.5 210.6,429.3 210.9,431.1 211.4,432.8 212.1,434.5 213.1,435.9 214.4,437.2M104.0,338.9 104.2,340.6 104.8,342.3 105.6,343.9 106.6,345.5 107.5,347.0 108.5,348.5 109.4,350.1 110.4,351.6M197.9,390.4 199.1,391.8 200.3,393.1 201.8,394.2 203.3,395.1 204.6,396.3 205.9,397.6M104.4,413.0 104.9,414.7 105.2,416.5 105.4,418.2 105.7,420.0 106.1,421.8 106.6,423.5 107.2,425.2 107.8,426.9M172.0,421.6 172.5,423.4 173.0,425.1 173.6,426.8 174.3,428.5M191.4,370.2 192.6,371.4 193.7,372.9 194.6,374.4 195.4,376.1 196.1,377.7 197.0,379.3M180.9,369.9 182.2,371.1 183.5,372.3 184.9,373.6 186.1,374.8 187.2,376.3 188.1,377.9M129.4,379.0 130.2,380.7 131.0,382.3 131.7,383.9 132.6,385.5 133.5,387.0 134.7,388.4 135.9,389.8 137.1,391.1M185.6,438.9 186.7,440.3 187.6,441.9 188.4,443.5 189.0,445.2M125.4,361.8 126.3,363.4 127.1,365.0 127.8,366.7 128.4,368.4 128.8,370.1M227.6,406.8 228.6,408.3 229.8,409.7 231.1,410.9 232.3,412.2 233.5,413.5 234.7,414.9 235.8,416.3M167.9,370.2 169.0,371.7 170.1,373.1 171.1,374.6 172.3,376.0 173.5,377.3 175.0,378.4M220.7,430.1 221.8,431.5 222.9,432.9 224.0,434.3 225.0,435.8 225.9,437.4M185.0,417.9 186.2,419.2 187.6,420.3 189.1,421.3 190.6,422.4 192.0,423.5 193.3,424.7M154.8,450.0 154.9,451.8 154.9,453.6 155.0,455.4 155.2,457.2 155.5,458.9 155.9,460.7 156.2,462.5 156.5,464.3 156.8,466.0M142.2,353.9 143.2,355.4 144.1,356.9 145.0,358.5 145.9,360.0M150.6,408.9 151.8,410.2 153.2,411.3 154.6,412.4 155.9,413.7 157.2,415.0 158.3,416.4M120.9,404.3 121.5,406.0 122.1,407.7 122.7,409.4 123.4,411.1 124.4,412.6 125.4,414.1 126.3,415.6M215.4,438.7 216.7,439.9 218.0,441.2 219.2,442.6 220.4,443.9 221.7,445.1 223.1,446.3M152.5,348.6 153.9,349.7 155.2,350.9 156.4,352.3 157.4,353.8 158.5,355.2M201.3,385.6 202.3,387.1 203.4,388.5 204.6,389.9 205.9,391.1 207.3,392.2M176.9,379.1 178.3,380.2 179.7,381.4 180.9,382.7 182.0,384.2 183.0,385.7M181.8,456.2 183.2,457.4 184.5,458.6 185.6,460.0 186.4,461.6 187.1,463.3 187.5,465.0M133.4,358.7 134.4,360.2 135.5,361.6 136.5,363.1 137.6,364.6M165.8,460.1 166.3,461.8 166.9,463.5 167.7,465.1 168.8,466.6 169.9,468.0M104.9,357.4 105.9,358.8 106.9,360.3 107.9,361.8 108.8,363.4 109.3,365.1M253.4,341.5 251.6,342.4 249.7,343.3 247.8,344.1 245.9,344.8 244.0,345.4 242.2,346.0 240.3,346.3 238.4,346.6 236.5,346.9 234.7,347.0M253.3,345.3 251.4,345.9 249.6,346.4 247.8,346.9 246.0,347.3 244.2,347.6 242.4,347.8 240.6,348.0 238.8,348.1 237.0,348.3 235.2,348.5 233.4,348.8M252.0,348.1 250.1,348.4 248.2,348.7 246.4,348.9 244.5,349.0 242.6,349.2 240.8,349.4 238.9,349.6 237.1,349.9 235.2,350.3 233.3,350.8 231.5,351.4M251.8,349.9 250.0,350.1 248.2,350.2 246.4,350.4 244.6,350.7 242.8,351.0 241.0,351.4 239.2,351.9 237.4,352.5 235.6,353.1 233.8,353.9 232.0,354.6M250.9,351.6 249.1,352.0 247.2,352.5 245.4,353.1 243.6,353.8 241.8,354.7 239.9,355.6 238.1,356.6 236.3,357.5 234.5,358.4M250.3,354.1 248.5,354.9 246.7,355.8 244.9,356.8 243.1,357.8 241.3,358.8 239.5,359.8 237.7,360.6 235.9,361.3 234.0,361.9M247.3,357.7 245.5,359.0 243.6,360.3 241.8,361.4 240.0,362.3 238.2,363.1 236.4,363.5 234.6,363.9M247.1,361.5 245.1,363.3 243.1,364.4 241.1,365.0 239.1,365.5M245.2,364.7 243.7,365.8 242.1,366.4 240.6,367.8M233.0,354.5 231.1,356.0 229.2,357.0 227.2,357.6 225.3,358.0 223.4,358.9 221.5,360.3M232.0,358.0 230.0,359.5 228.0,360.5 226.0,361.1 224.0,361.5 222.0,362.4 220.0,363.8M234.5,361.0 232.8,362.4 231.0,363.4 229.2,363.8 227.5,364.2 225.8,365.0 224.0,366.3M229.0,351.5 227.3,352.9 225.7,353.9 224.0,354.3 222.3,354.7 220.7,355.5 219.0,356.8" fill="none" stroke="#000" stroke-width="0.5" stroke-linecap="round" stroke-linejoin="round"/>
<path d="M119.6,411.4L116.6,408.5L119.9,407.2ZM143.1,420.2L140.5,417.0L143.8,416.1ZM123.4,366.2L120.4,363.3L123.7,362.0ZM191.2,458.6L187.9,456.0L191.1,454.4ZM170.6,440.3L168.1,436.9L171.5,436.2ZM213.0,418.3L210.4,415.1L213.7,414.2ZM206.2,460.2L203.1,457.5L206.3,456.0ZM148.2,448.7L144.7,446.4L147.7,444.6ZM101.3,363.6L98.2,360.8L101.5,359.4ZM190.1,375.6L186.4,373.7L189.1,371.5ZM169.2,387.2L165.0,387.2L166.5,384.0ZM182.3,463.8L178.8,461.5L181.7,459.6ZM230.7,472.0L229.6,468.0L233.0,468.6ZM206.8,363.9L203.1,362.0L205.9,359.8ZM227.3,415.1L223.3,414.0L225.5,411.3ZM127.9,343.1L125.6,339.6L129.0,339.1ZM151.3,353.5L147.4,351.9L150.0,349.6ZM129.1,444.3L127.0,440.7L130.5,440.4ZM132.3,343.3L129.6,340.0L133.0,339.1ZM160.6,407.1L156.5,406.4L158.4,403.5ZM193.4,418.4L189.5,417.0L191.9,414.5ZM178.4,424.0L175.1,421.5L178.2,419.8ZM118.6,376.0L117.1,372.1L120.6,372.4ZM152.0,416.4L148.3,414.3L151.1,412.3ZM190.1,399.8L186.5,397.7L189.4,395.7ZM122.3,398.4L118.8,396.1L121.7,394.2ZM184.1,378.3L180.2,376.6L182.8,374.3ZM142.8,377.3L139.1,375.4L141.8,373.2ZM109.9,395.6L107.8,392.0L111.3,391.7ZM135.0,380.6L131.6,378.1L134.6,376.4ZM136.7,425.2L133.8,422.2L137.1,421.0ZM222.2,454.3L218.9,451.7L222.0,450.1ZM109.8,372.6L106.8,369.7L110.1,368.5ZM222.1,425.6L219.0,422.8L222.2,421.5ZM100.5,374.4L97.0,372.1L99.9,370.2ZM151.7,391.0L149.6,387.3L153.1,387.0ZM210.9,454.1L207.9,451.2L211.2,449.9ZM118.0,342.7L115.1,339.8L118.3,338.6ZM239.3,433.3L236.5,430.2L239.8,429.1ZM243.0,462.9L240.1,459.9L243.3,458.7ZM162.6,446.2L159.7,443.2L163.0,442.0ZM140.5,360.6L136.9,358.3L139.9,356.4ZM85.6,371.6L82.8,368.5L86.1,367.5ZM139.8,426.4L137.1,423.3L140.4,422.3ZM99.0,413.1L96.1,410.1L99.4,408.9ZM165.5,433.8L163.1,430.3L166.6,429.8ZM159.7,369.6L157.2,366.3L160.6,365.5ZM92.9,348.4L90.8,344.8L94.3,344.4ZM215.3,406.4L211.7,404.1L214.7,402.3ZM143.5,391.6L140.6,388.5L143.9,387.4ZM134.3,445.1L131.9,441.7L135.4,441.0ZM161.1,455.6L158.5,452.4L161.9,451.5ZM118.8,436.8L116.1,433.6L119.5,432.7ZM230.5,463.5L228.9,459.6L232.4,459.7ZM194.3,449.7L191.6,446.6L194.9,445.5ZM123.5,442.2L122.3,438.2L125.8,438.7ZM205.7,430.2L202.6,427.4L205.8,426.0ZM179.7,357.7L175.6,357.1L177.5,354.2ZM167.3,367.2L164.2,364.4L167.4,363.0ZM110.7,359.2L106.8,357.5L109.4,355.2ZM224.1,441.0L220.4,439.0L223.2,436.9ZM149.2,360.9L145.8,358.5L148.8,356.7ZM176.6,416.9L173.1,414.6L176.1,412.8ZM171.6,398.8L167.8,397.1L170.4,394.8ZM85.1,384.6L83.3,380.9L86.8,380.8ZM89.8,361.3L88.4,357.4L91.9,357.7ZM104.9,404.7L103.3,400.8L106.8,400.9ZM153.1,426.5L149.6,424.3L152.5,422.4ZM132.2,399.4L128.4,397.7L131.0,395.4ZM185.3,363.5L181.1,363.6L182.5,360.4ZM157.5,391.4L154.3,388.7L157.5,387.2ZM208.6,371.5L204.6,370.4L206.8,367.7ZM97.5,388.8L94.3,386.1L97.5,384.6ZM124.8,355.9L122.2,352.6L125.7,351.9ZM206.0,420.5L203.7,417.0L207.2,416.5ZM115.7,412.4L112.6,409.6L115.8,408.2ZM152.8,445.7L149.1,443.8L151.9,441.6ZM188.5,424.8L184.4,424.2L186.3,421.3ZM158.0,347.3L153.8,346.8L155.6,343.8ZM154.6,380.3L150.9,378.3L153.7,376.2ZM224.7,468.0L223.5,464.0L227.0,464.5ZM180.2,412.2L177.1,409.4L180.4,408.0ZM237.2,470.5L235.1,466.9L238.6,466.6ZM193.4,359.9L189.4,358.6L191.8,356.0ZM228.3,423.7L224.4,422.0L227.1,419.7ZM139.8,442.8L136.7,440.0L139.9,438.6ZM218.3,457.5L215.4,454.4L218.7,453.3ZM208.3,417.2L205.7,413.9L209.1,413.1ZM107.2,346.5L103.7,344.1L106.7,342.3ZM201.2,393.9L197.3,392.5L199.7,390.0ZM107.2,425.5L104.4,422.4L107.7,421.3ZM174.7,429.6L171.7,426.7L174.9,425.4ZM197.1,379.6L193.8,376.9L196.9,375.4ZM185.1,373.8L181.1,372.5L183.5,369.9ZM134.2,388.0L130.6,385.8L133.6,383.9ZM188.6,443.7L185.2,441.2L188.3,439.5ZM127.6,366.1L124.3,363.5L127.5,361.9ZM236.6,417.3L232.8,415.4L235.5,413.2ZM170.3,373.4L166.6,371.4L169.4,369.3ZM225.2,436.1L221.6,434.0L224.5,431.9ZM190.8,422.5L186.7,421.8L188.7,418.9ZM155.2,457.5L153.2,453.8L156.6,453.5ZM146.1,360.3L142.6,357.9L145.7,356.1ZM159.1,417.3L155.3,415.5L158.0,413.2ZM122.2,408.0L119.3,404.9L122.7,403.9ZM220.6,444.1L216.7,442.5L219.3,440.1ZM156.1,351.8L152.1,350.4L154.6,347.9ZM205.3,390.8L201.5,389.1L204.1,386.8ZM180.6,382.2L176.6,381.0L178.9,378.4ZM184.8,458.8L180.7,457.6L183.1,454.9ZM137.7,364.8L134.1,362.7L136.9,360.7ZM166.9,463.8L164.1,460.7L167.5,459.7ZM108.1,362.0L104.5,359.9L107.4,357.9ZM248.7,343.7L251.4,340.6L252.9,343.7ZM239.4,348.1L243.0,346.0L243.4,349.4ZM242.4,349.2L246.1,347.1L246.4,350.6ZM232.7,354.3L235.6,351.2L236.9,354.5ZM244.3,353.4L247.4,350.5L248.5,353.9ZM237.6,360.7L240.2,357.4L241.8,360.6ZM239.1,362.9L241.6,359.6L243.3,362.7ZM243.4,364.5L245.5,360.9L247.5,363.7ZM240.4,367.6L242.6,364.0L244.5,367.0ZM224.3,358.3L227.5,355.6L228.4,359.0ZM223.0,361.8L226.2,359.2L227.1,362.5ZM226.3,364.5L229.6,361.9L230.5,365.3ZM221.1,355.0L224.4,352.4L225.3,355.7Z" fill="#000"/>
<rect x="19.6" y="420.1" width="65" height="64.4" fill="#fff" stroke="#000" stroke-width="1.2"/>
<path d="M24.4,430.2 C25.5,428.2 29,427 33,426 C38,425 44,425.2 46.5,426.3 C50,428 52.5,431.5 54.5,436.5 C56.5,442 57,448 56.8,453 C56.6,458.5 55.8,462.5 54,465.2 C52.8,467.3 51.2,467.8 49.5,467 C46,465 42.5,461.5 39.5,458.3 C35.5,454 32,449.5 29.5,445 C27,440.5 24.3,434.5 24.4,430.2Z" fill="#f6a3cc" stroke="#ec1f96" stroke-width="1.25" stroke-linejoin="round"/>
<path d="M58.4,433.8 C58.4,431 60.5,429 63.5,428.2 C66,427.6 69.5,427.7 71.6,428.9 C73.8,430.2 74.9,432.5 74.6,434.8 C74.3,437.3 72.5,439.3 69.8,440.2 C67,441 63.5,440.7 61.2,439.4 C59.3,438.2 58.4,436.2 58.4,433.8Z" fill="#d3e9ad" stroke="#84c225" stroke-width="1.25"/>
<path d="M60.8,445.7 L66.2,445.9 C67.4,446 68,446.6 68.6,447.8 L79,472 C80,474.6 79.2,476.6 76.5,477.4 C71,478.6 63.5,478 58.8,476.4 C56.6,475.5 55.7,473.6 55.9,471.2 L58.3,449 C58.6,446.8 59.3,445.7 60.8,445.7Z" fill="#d2b3dd" stroke="#7f2195" stroke-width="1.25" stroke-linejoin="round"/>
<path d="M44,442.3 C50,443.5 56,440 68.5,432.8" fill="none" stroke="#000" stroke-width="0.6"/>
<path d="M70,432.2 L64.6,432.3 L66.5,433.6 L66.9,436.1Z" fill="#000"/>
<line x1="31.6" y1="433.4" x2="68.5" y2="465.2" stroke="#000" stroke-width="1.7"/>
<path d="M74.2,469.8 L59.7,464.4 L65.9,463.6 L64.8,456.8Z" fill="#000"/>
<rect x="23" y="488.1" width="233.7" height="40.6" rx="3" ry="3" fill="#fff" stroke="#222" stroke-width="1"/>
<circle cx="33.8" cy="496.6" r="2.8" fill="#ec1f96"/>
<text x="48.80" y="499.70" font-size="9" text-anchor="start" fill="#111" textLength="49.50" lengthAdjust="spacingAndGlyphs" stroke="#111" stroke-width="0.22" >HSC: 1136 cells</text>
<circle cx="33.8" cy="507.8" r="2.8" fill="#86c42e"/>
<text x="48.80" y="510.90" font-size="9" text-anchor="start" fill="#111" textLength="69.30" lengthAdjust="spacingAndGlyphs" stroke="#111" stroke-width="0.22" >Ery-Precursor: 47 cells</text>
<circle cx="33.8" cy="519.4" r="2.8" fill="#7b2a90"/>
<text x="48.80" y="522.50" font-size="9" text-anchor="start" fill="#111" textLength="82.30" lengthAdjust="spacingAndGlyphs" stroke="#111" stroke-width="0.22" >Mono-Precursor: 277 cells</text>
<circle cx="178.3" cy="496.6" r="2.8" fill="#e31a24"/>
<text x="193.30" y="499.70" font-size="9" text-anchor="start" fill="#111" textLength="46.80" lengthAdjust="spacingAndGlyphs" stroke="#111" stroke-width="0.22" >Mono: 11 cells</text>
<circle cx="178.3" cy="507.8" r="2.8" fill="#f9a11b"/>
<text x="193.30" y="510.90" font-size="9" text-anchor="start" fill="#111" textLength="46.00" lengthAdjust="spacingAndGlyphs" stroke="#111" stroke-width="0.22" >Mega: 18 cells</text>
</g>
<g id="E">
<text x="270.00" y="331.80" font-size="12.5" text-anchor="start" fill="#000" font-weight="bold" >E</text>
<g transform="translate(246.3,166.4) scale(0.512,0.538)" filter="url(#bl)" opacity="0.7"><path d="M87.50,345.00 L91.50,340.80 L96.50,337.80 L102.50,334.50 L110.40,331.70 L119.00,331.50 L127.70,332.70 L135.00,331.50 L143.00,331.70 L149.00,333.50 L154.60,337.00 L158.50,342.50 L161.50,348.00 L166.00,350.50 L170.00,351.50 L179.00,352.00 L187.00,352.30 L194.60,353.00 L199.50,355.50 L204.20,358.50 L210.00,361.50 L215.80,365.40 L212.00,369.50 L208.00,373.00 L203.00,377.00 L198.50,380.80 L202.00,384.50 L206.20,388.50 L208.00,394.00 L204.00,402.00 L198.50,410.00 L195.00,420.00 L194.00,430.00 L195.00,438.00 L196.50,446.00 L196.00,456.00 L193.00,465.00 L186.00,467.50 L179.20,469.00 L169.60,472.30 L162.00,472.00 L155.50,470.00 L144.50,464.50 L129.20,452.00 L117.50,440.50 L108.00,431.00 L96.50,417.50 L90.70,406.00 L83.50,392.00 L80.60,382.70 L79.60,363.50 L81.50,350.00Z" fill="#433a86"/><path d="M208.00,394.00 L215.00,396.50 L223.50,402.00 L229.00,405.50 L233.00,409.60 L236.50,414.00 L238.80,419.20 L240.80,428.50 L242.50,438.00 L243.70,447.70 L245.00,455.00 L245.60,463.00 L243.50,469.00 L238.80,472.70 L231.00,474.00 L223.50,473.70 L213.80,470.80 L206.20,465.00 L203.00,461.00 L201.00,455.00 L202.00,448.00 L199.00,442.00 L195.00,437.00 L192.00,428.00 L193.00,415.00 L198.50,407.00Z" fill="#433a86"/><path d="M227.30,344.20 L236.00,341.50 L245.00,340.00 L252.30,339.40 L254.20,345.00 L253.50,351.00 L249.00,358.00 L244.50,364.00 L240.80,366.30 L237.00,362.00 L233.50,357.50 L231.00,353.80 L228.50,349.00Z" fill="#a5d93a"/></g>
<g fill="none" stroke-width="3.6" stroke-linecap="round" opacity="0.85">
<path d="M293.2,378.7h.01M354.4,363.7h.01M350.9,364.4h.01M348.1,369.7h.01M297.4,390.2h.01M294.4,357.8h.01M317.2,353.0h.01M354.3,363.3h.01M375.4,355.7h.01M369.9,357.4h.01" stroke="#4cc26c"/>
<path d="M334.4,361.1h.01M342.9,413.3h.01M341.7,376.9h.01M368.0,354.3h.01M365.9,355.4h.01M371.7,356.4h.01" stroke="#a0d938"/>
<path d="M334.4,377.1h.01M340.2,388.0h.01M338.0,386.3h.01M327.9,384.7h.01M320.6,396.2h.01M313.5,370.4h.01M312.2,406.5h.01M290.4,367.1h.01M349.2,365.7h.01M342.5,365.0h.01M341.8,384.2h.01M300.8,367.7h.01M308.4,381.0h.01M311.5,356.6h.01M317.8,395.7h.01M311.5,351.5h.01M342.0,379.5h.01M328.3,401.8h.01M297.3,378.6h.01M344.4,415.2h.01M317.4,382.9h.01M323.2,383.8h.01M299.3,365.1h.01M309.0,362.1h.01M298.5,367.6h.01M334.9,357.4h.01M329.8,399.2h.01M325.8,358.8h.01M367.8,412.2h.01M361.6,390.9h.01M370.8,416.7h.01M358.8,397.2h.01M364.4,405.5h.01M346.6,392.3h.01M362.4,417.8h.01" stroke="#2f6d8e"/>
<path d="M344.0,383.2h.01M337.3,410.9h.01M315.3,409.7h.01M359.7,374.9h.01M368.7,351.0h.01M374.9,349.8h.01" stroke="#4cc26c"/>
<path d="M309.6,372.2h.01M341.4,398.6h.01M301.5,358.7h.01M322.0,378.3h.01M325.5,398.5h.01M372.9,357.1h.01M368.2,358.8h.01M372.8,361.2h.01" stroke="#a0d938"/>
<path d="M363.8,352.8h.01" stroke="#fde725"/>
<path d="M324.5,372.5h.01M342.2,397.4h.01M311.0,349.1h.01M340.7,383.1h.01M288.9,369.9h.01M330.5,383.4h.01M306.2,354.9h.01M295.2,357.2h.01M300.7,380.6h.01M308.9,371.8h.01M297.4,384.3h.01M313.2,374.5h.01M307.3,348.9h.01M318.6,355.6h.01M291.9,365.9h.01M323.7,388.7h.01M308.4,379.6h.01M316.5,364.4h.01M342.4,400.4h.01M322.3,360.5h.01M297.4,349.1h.01M333.3,373.5h.01M344.1,377.5h.01M316.9,394.4h.01M319.1,358.6h.01M292.2,371.4h.01M339.6,357.0h.01M302.0,364.8h.01M330.9,374.6h.01M304.4,356.3h.01M305.9,393.1h.01M333.4,418.2h.01M289.8,376.0h.01M317.6,402.9h.01M335.7,382.4h.01M335.5,403.9h.01M331.7,379.1h.01M330.9,363.9h.01M344.6,384.1h.01M325.3,354.5h.01M344.9,371.7h.01M332.7,363.9h.01M341.8,407.8h.01M312.8,380.6h.01M344.5,375.3h.01M308.2,389.0h.01M290.4,354.1h.01M330.9,376.4h.01M310.5,390.4h.01M325.7,404.7h.01M347.2,381.5h.01M325.9,410.2h.01M333.6,361.0h.01M337.6,367.1h.01M300.4,377.7h.01M343.4,388.7h.01M315.5,355.4h.01M330.3,363.9h.01M319.3,386.1h.01M326.9,376.4h.01M326.5,382.3h.01M317.9,391.8h.01M343.7,367.9h.01M324.3,374.0h.01M311.8,363.5h.01M311.9,399.1h.01M312.9,363.6h.01M314.1,394.3h.01M308.1,350.1h.01M304.6,355.5h.01M345.3,367.3h.01M334.1,390.7h.01M316.3,384.7h.01M324.1,364.0h.01M313.8,356.0h.01M334.3,374.5h.01M333.7,365.5h.01M338.5,383.2h.01M331.3,371.3h.01M308.4,368.2h.01M336.0,361.5h.01M310.1,401.1h.01M338.6,364.4h.01M328.7,379.0h.01M332.0,386.2h.01M346.3,383.3h.01M339.6,373.5h.01M304.7,403.7h.01M350.0,395.7h.01M351.5,414.5h.01M353.9,404.0h.01M347.0,390.0h.01M355.4,399.9h.01M347.4,402.2h.01M369.1,409.7h.01M359.9,407.2h.01M367.3,402.8h.01M362.9,403.2h.01M350.7,382.4h.01M349.9,410.0h.01M369.0,401.4h.01M362.1,408.8h.01M363.1,409.1h.01M357.2,383.6h.01M363.6,404.1h.01M366.4,401.3h.01M349.4,397.2h.01M349.7,383.8h.01M347.9,393.7h.01M346.5,394.9h.01M330.3,372.5h.01" stroke="#3f4888"/>
<path d="M346.2,405.3h.01M330.5,412.4h.01M332.5,404.9h.01M311.7,386.1h.01M317.5,410.2h.01M344.4,360.9h.01M312.0,379.4h.01M327.7,412.7h.01M294.9,387.0h.01M304.7,365.9h.01M296.0,378.2h.01M315.0,381.6h.01M301.1,369.0h.01M291.1,360.3h.01M311.5,346.6h.01M288.0,364.9h.01M338.3,364.0h.01M334.1,366.9h.01M304.8,365.0h.01M321.8,361.6h.01M300.9,352.0h.01M332.1,402.3h.01M306.9,371.4h.01M320.3,406.3h.01M345.4,413.4h.01M315.4,408.4h.01M294.0,378.2h.01M338.0,403.2h.01M337.9,406.0h.01M341.8,414.6h.01M322.2,413.8h.01M334.3,412.0h.01M343.5,358.2h.01M326.8,368.2h.01M307.1,361.2h.01M334.0,414.6h.01M307.0,363.5h.01M317.1,392.8h.01M334.5,414.7h.01M302.1,377.7h.01M331.3,403.7h.01M300.1,348.0h.01M340.9,413.4h.01M329.0,368.2h.01M320.4,389.2h.01M328.7,370.9h.01M331.7,416.6h.01M306.5,360.6h.01M318.3,383.7h.01M331.7,365.0h.01M323.4,377.6h.01M338.4,400.7h.01M297.6,388.1h.01M327.6,351.8h.01M315.2,387.1h.01M336.2,364.7h.01M304.0,363.2h.01M325.3,401.9h.01M291.8,366.2h.01M344.4,369.1h.01M344.0,397.8h.01M301.1,351.5h.01M315.7,350.7h.01M317.9,409.6h.01M347.8,385.4h.01M298.4,355.8h.01M302.5,387.7h.01M327.4,411.1h.01M312.4,403.4h.01M297.0,377.2h.01M334.9,393.9h.01M314.1,388.4h.01M323.8,382.3h.01M322.8,406.7h.01M334.4,386.5h.01M334.8,356.8h.01M296.7,395.1h.01M293.4,391.3h.01M360.9,398.2h.01M358.2,401.4h.01M347.8,398.5h.01M358.4,416.7h.01M350.9,410.7h.01M358.1,417.5h.01M363.4,408.9h.01M359.1,390.8h.01M346.5,402.0h.01M362.3,420.0h.01M359.2,400.8h.01M363.0,417.2h.01M366.2,414.5h.01M363.6,398.7h.01M367.4,413.3h.01M362.4,387.3h.01M364.6,414.9h.01M352.1,411.5h.01M363.5,397.5h.01M349.6,390.9h.01" stroke="#471a6c"/>
<path d="M329.8,356.3h.01M349.6,366.8h.01M335.3,382.5h.01M304.0,355.9h.01M365.9,356.2h.01M372.3,363.0h.01" stroke="#cfe126"/>
<path d="M291.8,360.6h.01M347.8,368.6h.01M333.0,355.9h.01M322.4,369.0h.01M345.9,405.8h.01M330.8,371.7h.01M325.8,364.9h.01M336.9,359.8h.01M308.6,393.5h.01M317.5,396.3h.01M299.3,372.1h.01M312.6,366.2h.01M332.2,375.4h.01M367.3,418.7h.01M340.0,361.2h.01" stroke="#277f8d"/>
<path d="M330.8,415.9h.01M292.6,363.2h.01M312.6,406.2h.01M348.4,400.6h.01M359.9,413.7h.01M363.5,420.0h.01M363.7,352.2h.01" stroke="#22a186"/>
<path d="M343.9,409.7h.01M304.2,389.0h.01M344.6,358.9h.01M348.5,363.0h.01M331.1,379.8h.01M302.1,396.3h.01M322.3,365.5h.01M291.1,367.6h.01M341.0,370.5h.01M326.8,393.7h.01M331.5,358.6h.01M313.2,388.5h.01M337.6,386.3h.01M317.1,410.0h.01M295.9,381.6h.01M313.2,394.9h.01M324.3,375.7h.01M366.0,417.5h.01M363.5,408.1h.01M351.4,389.4h.01M371.5,362.0h.01M364.6,379.4h.01" stroke="#2f6d8e"/>
<path d="M296.1,363.6h.01M335.5,389.7h.01" stroke="#440154"/>
<path d="M297.6,354.0h.01M333.4,416.0h.01M311.0,365.5h.01M305.9,351.5h.01M300.7,359.6h.01M309.0,363.3h.01M317.9,400.1h.01M311.9,395.6h.01M348.7,376.6h.01M327.8,372.5h.01M359.9,382.5h.01M367.6,412.5h.01M368.7,350.7h.01M374.5,350.6h.01" stroke="#21918c"/>
<path d="M309.9,356.5h.01M292.5,352.0h.01M325.3,349.9h.01M309.2,388.9h.01M314.2,395.1h.01M325.4,411.1h.01M305.0,371.1h.01M311.2,365.0h.01M310.3,361.8h.01M339.2,380.9h.01M337.4,357.9h.01M320.5,415.5h.01M341.5,412.1h.01M294.9,365.0h.01M315.5,371.1h.01M307.8,379.5h.01M337.4,393.2h.01M308.8,346.8h.01M334.5,360.0h.01M315.9,405.8h.01M317.2,382.0h.01M294.3,382.4h.01M297.7,366.3h.01M330.7,368.0h.01M296.5,377.3h.01M295.6,384.8h.01M332.0,378.3h.01M335.5,400.2h.01M344.0,411.7h.01M339.7,360.5h.01M289.1,364.4h.01M324.6,361.4h.01M300.3,382.1h.01M349.6,382.6h.01M299.3,377.9h.01M330.4,375.7h.01M332.9,372.2h.01M333.6,411.9h.01M323.8,402.7h.01M328.3,415.2h.01M326.6,367.0h.01M343.1,366.3h.01M323.3,346.7h.01M320.5,366.6h.01M345.5,409.7h.01M289.1,355.6h.01M307.8,375.5h.01M315.9,404.0h.01M318.6,374.0h.01M317.9,391.5h.01M304.8,348.5h.01M337.0,361.7h.01M312.3,359.1h.01M322.9,385.7h.01M335.7,363.7h.01M310.6,406.0h.01M344.7,400.6h.01M310.1,359.0h.01M310.9,377.9h.01M295.5,358.7h.01M311.2,356.5h.01M345.7,374.6h.01M323.9,416.6h.01M291.8,370.4h.01M318.8,378.4h.01M343.3,410.5h.01M311.1,355.4h.01M334.3,370.4h.01M305.2,390.8h.01M294.7,371.8h.01M313.1,370.6h.01M333.7,400.4h.01M315.3,348.2h.01M307.7,398.2h.01M341.5,416.1h.01M313.8,393.0h.01M339.2,382.3h.01M321.0,409.7h.01M345.7,362.2h.01M296.5,394.0h.01M362.8,385.4h.01M365.2,405.8h.01M350.1,405.3h.01M366.9,396.4h.01M362.7,413.1h.01M369.1,407.0h.01M358.9,407.5h.01M369.5,399.8h.01M355.9,413.1h.01M365.9,395.4h.01M362.4,416.2h.01M350.0,389.8h.01M360.0,408.6h.01M357.7,413.7h.01M357.5,395.6h.01M366.2,413.8h.01M362.0,410.3h.01M354.3,382.4h.01M354.2,392.3h.01M354.7,401.5h.01M365.1,410.8h.01M363.0,390.3h.01M341.5,369.7h.01" stroke="#471a6c"/>
<path d="M328.1,364.8h.01M305.0,367.1h.01M304.9,346.3h.01M291.8,365.3h.01M354.7,364.6h.01M332.0,367.9h.01M304.6,350.0h.01M339.0,408.4h.01M331.0,396.9h.01M345.3,370.2h.01M324.1,350.4h.01M346.9,363.0h.01M339.8,380.7h.01M326.2,353.8h.01M316.0,394.4h.01M308.1,387.8h.01M315.8,355.9h.01M346.7,386.7h.01M293.7,355.6h.01M295.5,389.1h.01M364.3,380.5h.01" stroke="#277f8d"/>
<path d="M294.6,372.3h.01M323.9,356.1h.01M345.4,381.0h.01M337.5,386.7h.01M321.7,407.5h.01M311.2,407.3h.01M291.4,354.9h.01M320.3,382.7h.01M303.5,347.5h.01M340.3,391.2h.01M308.1,400.3h.01M311.1,352.0h.01M306.3,363.7h.01M323.5,396.1h.01M310.9,376.6h.01M336.4,378.6h.01M338.4,360.1h.01M304.7,363.5h.01M327.4,369.6h.01M305.2,389.9h.01M314.8,386.2h.01M316.5,388.7h.01M322.7,348.2h.01M327.9,394.7h.01M301.4,390.6h.01M310.7,401.1h.01M325.7,377.7h.01M335.6,409.2h.01M317.7,399.3h.01M304.7,369.6h.01M338.0,377.7h.01M295.0,360.6h.01M311.9,392.9h.01M319.7,356.0h.01M333.4,407.9h.01M288.1,359.4h.01M308.4,376.7h.01M337.1,363.3h.01M330.8,398.1h.01M326.9,365.6h.01M305.2,401.2h.01M328.7,374.9h.01M302.9,348.1h.01M291.5,356.0h.01M298.4,365.4h.01M343.3,370.2h.01M328.3,409.5h.01M296.2,355.0h.01M288.5,371.5h.01M345.6,407.7h.01M327.7,371.2h.01M343.0,357.1h.01M345.3,387.7h.01M305.6,386.0h.01M317.5,359.4h.01M289.6,359.3h.01M334.4,406.8h.01M345.2,388.6h.01M292.9,369.8h.01M325.5,375.5h.01M320.7,372.6h.01M304.4,362.7h.01M291.6,376.1h.01M339.8,393.2h.01M339.3,406.6h.01M344.5,411.9h.01M342.8,384.1h.01M323.4,362.9h.01M291.6,358.5h.01M301.5,376.8h.01M336.6,367.2h.01M320.2,411.6h.01M317.9,381.9h.01M340.5,402.6h.01M346.5,364.4h.01M342.8,389.4h.01M291.6,377.6h.01M328.6,358.6h.01M307.8,362.6h.01M337.7,377.3h.01M307.6,371.2h.01M335.9,354.4h.01M316.4,414.4h.01M360.5,388.4h.01M360.9,412.1h.01M354.1,384.4h.01M370.4,413.9h.01M356.9,410.7h.01M348.6,403.7h.01M359.5,396.5h.01M353.4,397.2h.01M351.9,388.8h.01M350.3,414.5h.01M357.7,384.1h.01M371.3,410.6h.01M351.8,393.7h.01M350.5,403.6h.01M356.4,383.1h.01M363.3,415.0h.01M359.4,418.7h.01M349.7,391.3h.01M340.5,371.1h.01M342.3,370.3h.01" stroke="#3f4888"/>
<path d="M288.4,369.6h.01M350.0,377.3h.01M304.2,370.2h.01M353.0,366.7h.01M369.3,351.5h.01M374.6,352.1h.01M374.2,351.9h.01M371.1,363.5h.01" stroke="#31b27b"/>
<path d="M346.6,366.8h.01M304.4,388.1h.01M344.1,366.4h.01M343.9,400.4h.01M312.1,347.4h.01M322.1,384.9h.01M335.7,410.6h.01M323.1,370.5h.01M326.9,397.5h.01M331.2,405.0h.01M318.8,370.5h.01M314.7,383.0h.01M334.9,418.5h.01M339.2,394.3h.01M334.6,396.9h.01M330.7,396.0h.01M319.7,354.0h.01M321.1,347.1h.01M318.6,367.7h.01M312.4,377.1h.01M331.0,413.4h.01M339.2,376.0h.01M321.7,359.2h.01M297.7,374.6h.01M344.2,402.9h.01M345.4,367.1h.01M343.2,393.9h.01M334.3,359.0h.01M316.8,406.4h.01M295.1,381.8h.01M301.2,354.7h.01M323.2,373.8h.01M321.3,362.8h.01M322.3,373.4h.01M327.5,411.1h.01M330.0,377.5h.01M322.5,393.1h.01M335.4,408.3h.01M305.5,362.8h.01M321.4,404.7h.01M303.7,379.6h.01M315.1,404.2h.01M309.2,392.1h.01M341.4,398.4h.01M294.6,355.9h.01M324.7,409.6h.01M313.4,376.5h.01M344.4,367.1h.01M332.7,372.7h.01M326.3,364.5h.01M336.7,409.0h.01M309.0,399.6h.01M316.7,389.0h.01M326.6,364.7h.01M305.1,348.0h.01M305.3,387.3h.01M334.2,367.5h.01M345.5,392.1h.01M318.7,370.6h.01M344.8,384.5h.01M326.9,355.5h.01M313.9,401.3h.01M300.2,352.9h.01M338.9,357.5h.01M331.1,372.4h.01M334.3,365.6h.01M307.5,363.4h.01M325.9,381.9h.01M298.6,350.2h.01M295.2,362.0h.01M312.2,389.6h.01M308.7,396.7h.01M345.5,388.9h.01M321.9,386.5h.01M329.0,416.8h.01M304.3,374.3h.01M315.4,350.1h.01M294.0,365.3h.01M322.3,362.2h.01M308.5,373.6h.01M317.1,383.4h.01M291.7,371.9h.01M336.2,395.2h.01M328.8,379.6h.01M340.3,407.2h.01M295.5,366.8h.01M313.0,407.2h.01M326.5,374.8h.01M336.3,377.0h.01M320.3,357.0h.01M306.4,382.5h.01M331.1,392.6h.01M299.3,350.1h.01M315.1,360.1h.01M332.2,359.9h.01M303.1,364.0h.01M321.0,411.7h.01M336.9,411.0h.01M312.6,346.0h.01M325.0,386.1h.01M314.2,374.0h.01M335.3,369.4h.01M303.8,392.2h.01M318.8,351.8h.01M309.9,363.2h.01M310.6,383.9h.01M309.2,364.2h.01M342.7,382.4h.01M314.6,347.7h.01M361.2,378.5h.01M340.0,354.7h.01M294.4,392.6h.01M309.3,410.4h.01M292.1,386.4h.01M361.0,420.0h.01M353.7,397.7h.01M351.4,410.3h.01M353.7,414.6h.01M349.1,401.4h.01M358.5,394.2h.01M367.0,393.1h.01M357.8,399.8h.01M367.2,412.1h.01M371.2,412.3h.01M351.0,386.9h.01M355.8,382.1h.01M361.2,398.1h.01M357.1,413.2h.01M354.9,418.3h.01M363.4,402.4h.01M353.5,384.3h.01M352.8,394.9h.01M355.4,395.0h.01M348.3,393.0h.01M352.1,414.7h.01M365.3,399.9h.01M350.6,412.5h.01M361.9,409.6h.01M364.4,409.3h.01M354.4,417.1h.01M369.6,412.6h.01M357.9,405.9h.01M350.2,388.8h.01M348.1,387.0h.01M356.7,381.3h.01M350.9,395.3h.01M371.4,412.9h.01M358.4,405.1h.01M358.9,398.0h.01M351.5,391.3h.01M347.1,387.5h.01M360.8,406.6h.01M352.9,396.0h.01M351.7,387.5h.01M347.2,395.1h.01" stroke="#45327d"/>
<path d="M303.7,376.3h.01M303.6,348.1h.01M343.9,406.1h.01M321.4,382.4h.01M351.7,362.7h.01M347.6,365.1h.01M328.7,385.5h.01M360.4,413.9h.01M371.5,355.8h.01" stroke="#21918c"/>
<path d="M323.7,410.5h.01M315.5,362.9h.01M365.3,352.2h.01M367.7,355.8h.01M365.9,355.9h.01M368.2,354.7h.01" stroke="#cfe126"/>
<path d="M331.4,372.0h.01M346.1,365.2h.01M317.1,411.5h.01M308.0,378.3h.01M351.5,396.1h.01" stroke="#440154"/>
<path d="M312.7,354.4h.01M349.0,360.1h.01M330.8,379.0h.01M331.4,370.9h.01M364.1,419.1h.01M369.7,362.7h.01" stroke="#22a186"/>
<path d="M303.0,390.9h.01" stroke="#fde725"/>
<path d="M327.1,410.8h.01M349.4,365.8h.01M350.7,360.6h.01M358.7,358.3h.01M369.7,364.7h.01" stroke="#31b27b"/>
<path d="M309.0,355.4h.01M307.1,394.6h.01M300.9,378.5h.01M351.8,360.6h.01M368.9,353.6h.01M375.1,350.2h.01M364.7,351.0h.01" stroke="#72ce55"/>
<path d="M316.4,401.7h.01M332.1,419.3h.01M313.0,387.5h.01M323.1,391.3h.01M319.7,381.3h.01M324.2,403.3h.01M310.5,405.0h.01M323.8,414.9h.01M325.8,403.7h.01M322.8,396.9h.01M318.7,385.0h.01M339.8,366.8h.01M336.2,392.7h.01M301.5,382.9h.01M336.8,410.8h.01M322.3,407.5h.01M296.8,372.1h.01M338.7,367.9h.01M306.6,348.8h.01M339.4,393.3h.01M304.1,364.5h.01M322.2,392.2h.01M315.1,378.5h.01M295.2,356.7h.01M295.4,350.5h.01M303.8,363.6h.01M339.0,412.2h.01M330.3,395.5h.01M295.8,359.3h.01M297.4,360.4h.01M309.1,360.4h.01M342.3,386.1h.01M312.6,359.9h.01M340.1,403.4h.01M320.2,353.2h.01M290.2,358.8h.01M322.9,412.0h.01M302.2,391.7h.01M335.2,392.5h.01M331.0,366.6h.01M311.5,397.8h.01M340.8,388.4h.01M298.3,356.8h.01M341.1,374.2h.01M324.8,398.7h.01M316.5,397.3h.01M319.9,387.1h.01M319.8,367.2h.01M303.7,355.6h.01M322.7,381.4h.01M332.9,404.1h.01M333.5,379.4h.01M331.9,361.0h.01M319.6,360.6h.01M297.9,348.5h.01M341.2,377.0h.01M305.2,371.5h.01M341.7,398.1h.01M339.5,415.3h.01M294.9,369.4h.01M330.8,355.9h.01M302.9,349.4h.01M301.6,350.1h.01M313.2,389.6h.01M321.6,382.6h.01M304.8,376.7h.01M324.3,356.3h.01M308.0,402.8h.01M341.5,410.3h.01M318.7,379.4h.01M334.7,374.3h.01M334.1,384.4h.01M294.5,373.1h.01M324.1,406.1h.01M322.9,353.4h.01M322.8,382.9h.01M333.6,359.9h.01M323.5,406.6h.01M327.7,416.8h.01M300.8,366.4h.01M330.9,358.8h.01M338.1,398.4h.01M346.3,390.5h.01M335.9,405.3h.01M297.4,387.2h.01M309.9,380.2h.01M323.0,376.6h.01M302.3,367.6h.01M311.1,402.2h.01M338.3,415.9h.01M300.4,386.6h.01M307.6,396.5h.01M319.8,388.3h.01M308.5,402.2h.01M327.5,418.9h.01M312.2,403.0h.01M329.1,409.7h.01M338.1,417.1h.01M310.6,382.1h.01M319.5,346.2h.01M324.7,389.1h.01M329.0,369.9h.01M318.8,366.0h.01M338.3,414.0h.01M322.3,362.5h.01M322.1,353.6h.01M313.6,363.2h.01M345.6,403.7h.01M334.2,369.2h.01M323.5,380.8h.01M302.9,355.8h.01M313.8,407.3h.01M318.1,372.6h.01M310.3,350.5h.01M336.5,381.2h.01M342.7,360.1h.01M318.2,410.7h.01M316.1,394.4h.01M303.0,385.9h.01M331.8,353.9h.01M297.5,397.7h.01M351.3,410.0h.01M355.4,412.1h.01M366.4,407.8h.01M362.5,414.4h.01M361.4,416.8h.01M351.5,393.5h.01M368.3,400.5h.01M361.9,394.5h.01M349.7,391.7h.01M365.4,398.6h.01M361.9,389.6h.01M365.3,407.6h.01M365.0,413.7h.01M363.9,404.7h.01M352.1,387.5h.01M360.7,395.6h.01M358.7,403.7h.01M357.1,407.8h.01M355.7,390.5h.01M361.7,416.5h.01M350.6,407.3h.01M359.6,390.9h.01M368.9,418.0h.01M351.2,383.4h.01M346.5,382.3h.01M346.4,398.1h.01M347.2,387.2h.01M348.8,382.6h.01M332.6,368.7h.01M342.6,367.9h.01M331.0,369.2h.01" stroke="#45327d"/>
<path d="M300.1,388.6h.01M314.6,375.0h.01M301.2,360.5h.01M305.2,357.4h.01M322.2,385.1h.01M299.2,357.3h.01M313.1,382.8h.01M309.6,376.8h.01M315.2,374.6h.01M314.3,347.7h.01M314.6,402.1h.01M312.1,349.4h.01M336.0,406.9h.01M336.5,359.9h.01M290.8,354.4h.01M306.1,380.0h.01M298.3,370.3h.01M344.1,383.8h.01M341.6,398.1h.01M341.7,408.6h.01M296.7,365.8h.01M333.2,371.4h.01M323.1,378.4h.01M312.4,360.6h.01M312.6,357.7h.01M332.1,367.5h.01M293.2,358.5h.01M347.4,365.1h.01M329.4,414.3h.01M320.2,399.0h.01M301.5,387.8h.01M342.1,391.3h.01M363.2,384.9h.01M364.1,408.1h.01M366.4,393.3h.01M359.8,413.1h.01" stroke="#375b8c"/>
<path d="M326.2,401.9h.01M347.6,386.6h.01M329.8,380.2h.01M336.9,364.2h.01M314.3,371.6h.01M343.5,363.0h.01M339.8,356.4h.01M299.0,400.4h.01M347.0,381.7h.01M371.0,358.4h.01" stroke="#277f8d"/>
<path d="M344.0,364.1h.01M350.3,361.5h.01M357.1,403.6h.01M366.6,354.5h.01M370.7,355.5h.01M372.3,355.8h.01" stroke="#a0d938"/>
<path d="M337.8,366.7h.01M320.2,394.8h.01M305.6,372.6h.01M307.0,363.3h.01M293.8,375.0h.01M297.8,364.1h.01M309.4,365.8h.01M322.5,362.5h.01M303.1,388.7h.01M344.0,357.9h.01M311.6,369.6h.01M316.6,362.3h.01M293.1,351.7h.01M338.0,375.7h.01M354.1,361.9h.01M327.3,384.2h.01M343.2,411.2h.01M347.5,378.0h.01M314.4,351.6h.01M313.0,386.3h.01M309.9,379.6h.01M343.6,376.8h.01M341.0,368.3h.01M323.6,415.4h.01M347.0,358.8h.01M311.9,382.2h.01M315.7,386.7h.01M337.0,365.7h.01M355.4,365.5h.01M350.0,387.8h.01M369.3,417.1h.01M350.0,408.7h.01M371.3,408.9h.01M345.7,384.0h.01" stroke="#2f6d8e"/>
<path d="M344.2,403.9h.01M315.9,360.2h.01M320.3,394.1h.01M298.2,364.0h.01M358.4,372.5h.01M362.1,411.9h.01M365.3,390.2h.01M366.7,398.0h.01M352.9,381.1h.01M370.4,359.3h.01M365.3,378.6h.01" stroke="#22a186"/>
<path d="M339.4,393.4h.01M315.5,400.5h.01M340.8,397.4h.01M290.9,363.4h.01M335.4,374.6h.01M325.0,363.8h.01M334.0,364.2h.01M351.1,361.0h.01M366.6,393.9h.01M364.7,412.7h.01M367.4,358.7h.01M365.9,351.4h.01" stroke="#21918c"/>
<path d="M290.2,377.6h.01M316.8,406.9h.01M296.2,361.9h.01M327.3,374.8h.01M296.5,363.7h.01M303.2,383.8h.01M302.8,362.1h.01M298.8,377.4h.01M334.9,376.9h.01M325.6,414.3h.01M322.0,358.5h.01M308.6,362.6h.01M314.4,369.5h.01M338.1,405.8h.01M333.8,396.8h.01M338.0,378.8h.01M320.1,370.8h.01M316.1,384.3h.01M349.2,380.5h.01M319.1,386.4h.01M321.9,395.5h.01M313.3,370.0h.01M329.4,369.7h.01M326.6,373.0h.01M292.0,352.8h.01M309.1,387.5h.01M337.7,360.4h.01M331.7,413.1h.01M323.5,414.3h.01M320.8,349.2h.01M344.3,357.2h.01M302.6,375.0h.01M328.8,386.2h.01M331.6,418.6h.01M296.7,362.2h.01M338.8,379.9h.01M331.2,406.8h.01M301.8,364.8h.01M324.2,401.5h.01M323.5,357.2h.01M327.1,401.1h.01M294.4,376.5h.01M300.2,394.0h.01M322.8,392.9h.01M311.8,365.0h.01M343.3,392.5h.01M313.5,364.1h.01M329.4,403.5h.01M301.2,396.9h.01M324.1,400.6h.01M337.0,391.9h.01M332.6,404.3h.01M338.0,359.2h.01M321.1,349.7h.01M346.1,405.4h.01M329.3,395.8h.01M340.7,362.6h.01M348.5,384.1h.01M315.3,383.8h.01M341.7,356.9h.01M332.1,418.7h.01M306.0,375.9h.01M329.5,382.2h.01M329.7,398.0h.01M343.7,409.8h.01M345.3,384.4h.01M302.9,383.4h.01M340.3,388.9h.01M337.3,367.1h.01M299.4,368.9h.01M300.6,358.8h.01M305.9,393.5h.01M296.0,356.9h.01M294.5,357.9h.01M304.4,358.1h.01M333.3,370.7h.01M326.7,368.4h.01M309.7,394.7h.01M312.5,382.5h.01M345.8,371.5h.01M298.8,360.0h.01M307.3,348.4h.01M339.0,407.0h.01M338.4,407.1h.01M318.4,353.6h.01M295.1,381.7h.01M332.5,364.0h.01M326.6,392.1h.01M345.4,409.0h.01M334.3,378.6h.01M305.1,352.3h.01M303.2,387.9h.01M295.4,383.5h.01M303.9,373.0h.01M290.8,356.1h.01M326.2,402.7h.01M342.3,410.3h.01M326.7,367.8h.01M292.3,381.4h.01M305.4,346.9h.01M328.7,364.4h.01M310.3,352.2h.01M340.8,372.2h.01M298.8,347.4h.01M301.3,353.9h.01M319.3,393.0h.01M315.7,393.6h.01M319.4,379.7h.01M345.3,376.2h.01M294.6,351.8h.01M324.5,373.1h.01M291.2,368.6h.01M327.6,369.0h.01M322.1,419.0h.01M368.6,399.0h.01M358.8,390.9h.01M369.4,410.4h.01M360.8,397.1h.01M363.8,397.4h.01M356.8,419.6h.01M365.5,390.9h.01M366.7,407.5h.01M352.2,385.3h.01M346.4,396.2h.01M361.9,393.0h.01M367.4,412.2h.01M351.2,406.3h.01M360.9,412.8h.01M355.8,404.7h.01M347.2,397.4h.01M365.3,390.2h.01M353.2,405.4h.01M364.2,421.0h.01M354.5,384.5h.01M345.7,396.1h.01" stroke="#45327d"/>
<path d="M331.5,373.0h.01M335.4,389.5h.01M299.8,362.5h.01M303.7,381.4h.01M293.6,352.8h.01M289.6,366.0h.01M305.5,396.9h.01M296.4,356.5h.01M317.9,358.9h.01M299.5,380.5h.01M310.1,383.9h.01M350.3,378.3h.01M298.5,378.5h.01M342.9,406.9h.01M342.5,401.0h.01M337.8,360.5h.01M318.5,365.2h.01M322.8,359.4h.01M332.7,367.6h.01M325.9,374.6h.01M344.4,409.0h.01M300.9,372.4h.01M303.7,380.7h.01M342.8,400.3h.01M347.2,378.7h.01M332.4,360.4h.01M315.8,366.3h.01M312.2,376.3h.01M315.6,411.1h.01M322.8,349.2h.01M290.0,356.3h.01M295.0,371.8h.01M308.9,367.6h.01M319.9,407.9h.01M307.1,398.6h.01M311.5,407.3h.01M310.2,359.3h.01M294.6,373.9h.01M301.1,392.8h.01M316.9,359.1h.01M317.8,411.1h.01M321.5,349.6h.01M314.2,403.9h.01M327.5,412.1h.01M312.6,387.3h.01M320.7,357.8h.01M322.9,384.8h.01M343.6,408.4h.01M314.0,388.9h.01M291.9,374.1h.01M314.1,369.2h.01M330.9,390.2h.01M340.6,369.3h.01M336.8,371.6h.01M321.7,416.1h.01M290.4,368.4h.01M304.1,348.3h.01M321.6,382.5h.01M296.1,373.0h.01M325.4,405.1h.01M299.0,365.2h.01M336.5,402.2h.01M297.9,358.4h.01M341.1,363.3h.01M342.6,379.5h.01M305.7,377.6h.01M307.1,369.9h.01M335.4,378.7h.01M334.4,372.6h.01M313.8,346.5h.01M331.4,409.3h.01M313.2,348.5h.01M339.4,387.3h.01M319.5,381.7h.01M326.2,356.7h.01M352.8,381.4h.01M359.7,412.3h.01M350.2,383.8h.01M358.0,412.4h.01M360.3,408.0h.01M345.5,395.3h.01M354.2,385.4h.01M367.4,412.9h.01M370.4,410.3h.01M366.7,393.4h.01M352.2,381.3h.01M346.2,397.6h.01M364.0,397.9h.01M370.6,418.0h.01M360.1,400.2h.01M369.7,414.4h.01M356.7,408.8h.01M370.2,411.2h.01M355.8,417.7h.01M347.7,399.6h.01" stroke="#471a6c"/>
<path d="M326.1,415.6h.01M323.9,363.0h.01M327.8,411.8h.01M292.8,365.0h.01M321.6,373.7h.01M302.1,388.6h.01M326.3,371.3h.01M336.5,365.0h.01M338.8,415.7h.01M296.3,379.7h.01M306.5,375.0h.01M343.7,411.4h.01M305.3,354.5h.01M294.4,366.8h.01M306.9,354.3h.01M297.8,387.9h.01M314.4,376.6h.01M300.3,367.9h.01M327.1,375.9h.01M304.0,347.8h.01M307.1,375.3h.01M300.4,392.8h.01M322.1,410.3h.01M305.8,350.3h.01M315.1,368.9h.01M323.8,390.9h.01M330.9,385.7h.01M343.4,371.5h.01M361.6,408.1h.01M349.7,390.1h.01M361.2,413.8h.01M367.6,392.4h.01M366.8,401.5h.01M366.9,414.6h.01M365.9,416.7h.01M339.0,359.9h.01" stroke="#375b8c"/>
<path d="M318.8,367.6h.01M298.1,381.7h.01M327.5,379.2h.01M299.2,353.9h.01M314.5,410.2h.01M302.0,357.3h.01M329.7,382.9h.01M325.7,378.1h.01M309.1,368.0h.01M343.9,377.4h.01M326.0,392.0h.01M326.8,411.4h.01M296.5,364.0h.01M331.4,397.3h.01M348.4,380.7h.01M333.5,414.2h.01M344.0,362.4h.01M303.0,376.3h.01M305.7,398.7h.01M314.2,363.9h.01M302.6,372.7h.01M319.3,357.3h.01M341.6,361.8h.01M312.4,402.3h.01M318.0,358.4h.01M328.1,360.4h.01M330.5,380.6h.01M338.6,379.0h.01M338.9,369.6h.01M294.5,352.5h.01M312.9,369.1h.01M316.8,379.2h.01M314.6,361.0h.01M319.8,387.2h.01M310.4,368.9h.01M330.0,392.0h.01M343.3,388.1h.01M350.8,378.5h.01M316.0,352.8h.01M312.9,388.1h.01M329.0,412.1h.01M343.4,409.9h.01M334.7,413.4h.01M333.7,374.5h.01M344.2,380.8h.01M336.7,386.5h.01M343.1,370.6h.01M312.9,357.4h.01M309.7,398.3h.01M335.7,359.8h.01M324.9,414.2h.01M295.9,389.5h.01M345.3,390.7h.01M330.0,408.6h.01M329.4,373.5h.01M314.5,386.6h.01M298.4,366.8h.01M295.1,387.1h.01M345.0,403.1h.01M307.0,351.9h.01M330.8,415.0h.01M317.8,359.4h.01M326.4,371.2h.01M321.3,386.5h.01M314.6,358.0h.01M335.0,405.5h.01M310.6,346.7h.01M305.7,387.7h.01M311.6,355.3h.01M300.6,385.3h.01M289.6,355.2h.01M303.6,360.4h.01M306.4,358.4h.01M335.1,418.5h.01M336.6,374.6h.01M295.8,361.7h.01M316.4,388.8h.01M322.8,376.6h.01M291.2,367.9h.01M301.5,349.1h.01M307.9,360.9h.01M294.6,352.3h.01M294.1,379.9h.01M344.1,355.0h.01M348.2,403.2h.01M354.3,394.5h.01M366.8,398.2h.01M355.8,382.2h.01M353.8,387.6h.01M354.3,414.7h.01M354.5,406.8h.01M355.4,410.5h.01M362.2,390.5h.01M353.2,380.7h.01M347.6,389.6h.01M357.0,414.4h.01M353.2,384.9h.01M347.7,391.6h.01M354.0,395.3h.01M358.4,415.0h.01M348.4,390.2h.01M347.6,388.0h.01M353.7,402.8h.01M356.2,381.1h.01M354.0,386.5h.01M350.3,389.2h.01M364.7,394.9h.01M361.2,420.5h.01M356.4,416.2h.01M350.3,389.5h.01M361.0,408.3h.01M368.1,412.9h.01M331.7,370.7h.01" stroke="#3f4888"/>
<path d="M325.8,394.2h.01M371.8,361.1h.01M371.2,352.1h.01M367.1,354.9h.01" stroke="#72ce55"/>
<path d="M348.8,389.7h.01M372.8,350.1h.01M366.2,355.6h.01" stroke="#cfe126"/>
<path d="M344.6,357.2h.01M343.9,364.5h.01M297.3,370.9h.01M303.2,347.7h.01M291.8,374.5h.01M328.6,391.5h.01M318.3,377.9h.01M315.3,364.9h.01M303.2,353.1h.01M295.0,360.6h.01M336.0,408.2h.01M331.4,392.7h.01M316.7,386.5h.01M309.5,377.3h.01M312.6,393.3h.01M313.5,396.3h.01M321.5,346.4h.01M350.2,380.8h.01M329.8,405.4h.01M318.1,407.6h.01M318.8,355.0h.01M329.4,361.1h.01M333.4,406.8h.01M308.1,347.0h.01M323.6,384.6h.01M333.9,395.6h.01M351.3,404.2h.01M354.6,417.9h.01M362.0,408.2h.01M363.2,420.3h.01M349.1,405.6h.01M370.1,405.9h.01M349.1,400.4h.01M354.7,391.4h.01M353.6,411.5h.01M333.3,371.6h.01" stroke="#375b8c"/>
<path d="M323.1,379.9h.01M311.3,355.8h.01M333.1,400.6h.01M373.8,353.1h.01" stroke="#4cc26c"/>
<path d="M306.8,376.2h.01M352.4,364.6h.01M357.2,388.6h.01M373.2,352.2h.01M366.0,351.5h.01M367.7,350.7h.01M364.6,352.5h.01" stroke="#fde725"/>
<path d="M337.5,412.2h.01M318.5,357.1h.01M305.4,360.2h.01M374.5,354.3h.01M370.7,362.6h.01" stroke="#72ce55"/>
<path d="M305.5,376.5h.01M306.1,354.8h.01M297.2,384.3h.01M314.3,361.9h.01M331.7,414.9h.01M299.2,381.8h.01M338.7,373.5h.01M320.5,404.8h.01M326.5,369.3h.01M355.7,403.1h.01M369.0,417.8h.01M359.2,406.3h.01" stroke="#440154"/>
<path d="M346.9,361.3h.01M320.9,404.4h.01M306.5,364.8h.01M374.7,349.7h.01M369.0,359.3h.01M372.9,356.8h.01M375.1,351.6h.01M365.8,357.7h.01" stroke="#31b27b"/>
</g>
<text x="333.00" y="337.80" font-size="10" text-anchor="middle" fill="#1a1a1a" textLength="22.50" lengthAdjust="spacingAndGlyphs" stroke="#1a1a1a" stroke-width="0.22" >GATA2</text>
<g transform="translate(351.0,166.4) scale(0.512,0.538)" filter="url(#bl)" opacity="0.7"><path d="M87.50,345.00 L91.50,340.80 L96.50,337.80 L102.50,334.50 L110.40,331.70 L119.00,331.50 L127.70,332.70 L135.00,331.50 L143.00,331.70 L149.00,333.50 L154.60,337.00 L158.50,342.50 L161.50,348.00 L166.00,350.50 L170.00,351.50 L179.00,352.00 L187.00,352.30 L194.60,353.00 L199.50,355.50 L204.20,358.50 L210.00,361.50 L215.80,365.40 L212.00,369.50 L208.00,373.00 L203.00,377.00 L198.50,380.80 L202.00,384.50 L206.20,388.50 L208.00,394.00 L204.00,402.00 L198.50,410.00 L195.00,420.00 L194.00,430.00 L195.00,438.00 L196.50,446.00 L196.00,456.00 L193.00,465.00 L186.00,467.50 L179.20,469.00 L169.60,472.30 L162.00,472.00 L155.50,470.00 L144.50,464.50 L129.20,452.00 L117.50,440.50 L108.00,431.00 L96.50,417.50 L90.70,406.00 L83.50,392.00 L80.60,382.70 L79.60,363.50 L81.50,350.00Z" fill="#2f7a92"/><path d="M208.00,394.00 L215.00,396.50 L223.50,402.00 L229.00,405.50 L233.00,409.60 L236.50,414.00 L238.80,419.20 L240.80,428.50 L242.50,438.00 L243.70,447.70 L245.00,455.00 L245.60,463.00 L243.50,469.00 L238.80,472.70 L231.00,474.00 L223.50,473.70 L213.80,470.80 L206.20,465.00 L203.00,461.00 L201.00,455.00 L202.00,448.00 L199.00,442.00 L195.00,437.00 L192.00,428.00 L193.00,415.00 L198.50,407.00Z" fill="#38598c"/><path d="M227.30,344.20 L236.00,341.50 L245.00,340.00 L252.30,339.40 L254.20,345.00 L253.50,351.00 L249.00,358.00 L244.50,364.00 L240.80,366.30 L237.00,362.00 L233.50,357.50 L231.00,353.80 L228.50,349.00Z" fill="#86d24c"/></g>
<g fill="none" stroke-width="3.6" stroke-linecap="round" opacity="0.85">
<path d="M398.7,378.2h.01M436.7,378.3h.01M416.0,355.8h.01M438.3,411.9h.01M435.5,398.1h.01M396.2,356.0h.01M449.5,384.5h.01M403.3,350.2h.01M445.0,388.9h.01M424.2,346.2h.01M429.7,386.1h.01M441.3,374.6h.01M453.8,401.4h.01M467.2,414.4h.01M461.6,410.7h.01M463.9,400.8h.01M471.3,393.9h.01M453.8,400.4h.01M465.9,420.5h.01M451.2,382.3h.01" stroke="#45327d"/>
<path d="M422.2,410.2h.01M413.5,346.8h.01M410.4,398.7h.01M425.5,349.2h.01M421.2,388.7h.01M405.0,382.1h.01M403.0,356.8h.01M436.4,379.1h.01M435.0,363.9h.01M416.9,389.6h.01M422.6,391.8h.01M433.7,416.8h.01M417.0,359.1h.01M426.0,386.5h.01M439.1,406.8h.01M448.3,376.8h.01M408.5,392.2h.01M468.5,397.4h.01M453.1,390.2h.01M470.0,352.2h.01M472.9,358.8h.01M478.9,351.9h.01" stroke="#31b27b"/>
<path d="M453.9,365.7h.01M477.0,355.8h.01M447.3,367.9h.01" stroke="#cfe126"/>
<path d="M446.9,397.4h.01M411.5,376.2h.01M425.2,415.5h.01M400.7,378.2h.01M399.6,365.0h.01M435.9,405.0h.01M443.9,394.3h.01M447.2,401.0h.01M396.5,365.3h.01M423.3,367.7h.01M412.8,400.3h.01M430.6,374.6h.01M415.8,352.0h.01M449.1,409.0h.01M426.6,395.5h.01M450.1,413.4h.01M436.4,413.1h.01M449.3,358.9h.01M439.0,412.0h.01M406.1,390.6h.01M413.6,367.6h.01M443.5,379.9h.01M422.4,399.3h.01M411.8,361.2h.01M404.0,377.9h.01M440.7,408.2h.01M399.3,373.9h.01M405.8,392.8h.01M420.2,400.5h.01M431.8,401.1h.01M427.5,392.9h.01M419.3,361.0h.01M416.6,392.9h.01M426.2,349.6h.01M427.0,365.5h.01M415.1,368.9h.01M448.0,388.1h.01M424.3,360.6h.01M438.4,374.5h.01M410.0,354.5h.01M406.3,350.1h.01M419.1,376.6h.01M400.9,355.0h.01M434.7,408.6h.01M438.3,359.9h.01M408.7,347.8h.01M440.6,405.3h.01M415.3,406.0h.01M430.0,401.9h.01M414.6,380.2h.01M437.2,364.0h.01M439.6,357.4h.01M421.0,384.7h.01M426.8,410.3h.01M443.2,383.2h.01M423.5,378.4h.01M414.8,401.1h.01M415.0,352.2h.01M445.8,363.3h.01M444.5,393.2h.01M416.6,382.2h.01M439.8,418.5h.01M436.1,409.3h.01M418.8,388.4h.01M431.2,369.3h.01M426.8,419.0h.01M470.7,417.5h.01M472.1,412.9h.01M463.6,407.5h.01M474.2,399.8h.01M464.2,396.5h.01M452.3,388.0h.01M455.3,412.5h.01M451.3,392.3h.01M467.1,417.8h.01M454.4,383.8h.01M452.6,393.7h.01M438.0,371.6h.01" stroke="#375b8c"/>
<path d="M401.1,356.5h.01M424.0,357.3h.01M399.3,355.9h.01M436.6,361.0h.01M402.1,387.2h.01M409.9,390.8h.01M462.9,401.4h.01M461.4,381.3h.01M476.5,361.1h.01M470.5,357.7h.01" stroke="#4cc26c"/>
<path d="M460.1,365.5h.01M458.4,414.6h.01M472.4,355.8h.01" stroke="#fde725"/>
<path d="M418.9,395.1h.01M448.6,409.7h.01M410.2,396.9h.01M392.7,364.9h.01M453.7,360.1h.01M454.3,366.8h.01M433.5,386.2h.01M435.8,379.8h.01M414.2,377.3h.01M455.5,378.5h.01M432.2,412.1h.01M411.6,354.3h.01M450.0,384.4h.01M450.0,387.7h.01M431.2,374.8h.01M445.7,368.3h.01M436.1,370.9h.01M440.1,378.7h.01M455.4,360.6h.01M456.0,404.2h.01M470.6,355.9h.01M479.6,349.8h.01M477.0,363.0h.01" stroke="#4cc26c"/>
<path d="M394.9,377.6h.01M397.2,352.0h.01M432.0,374.8h.01M439.1,377.1h.01M442.5,366.7h.01M419.2,410.2h.01M397.9,378.7h.01M408.4,381.4h.01M417.7,387.5h.01M427.8,391.3h.01M424.4,381.3h.01M430.5,403.7h.01M399.6,387.0h.01M427.5,396.9h.01M419.7,381.6h.01M427.8,370.5h.01M439.6,376.9h.01M440.9,392.7h.01M420.2,371.1h.01M397.5,365.0h.01M402.1,384.3h.01M439.2,360.0h.01M443.7,408.4h.01M428.2,414.3h.01M446.5,414.6h.01M436.1,372.0h.01M447.2,365.0h.01M394.7,356.3h.01M407.8,388.7h.01M420.0,364.9h.01M440.4,382.4h.01M416.3,369.6h.01M442.7,377.7h.01M440.0,382.5h.01M413.9,392.1h.01M429.5,398.7h.01M446.5,407.8h.01M428.5,402.7h.01M412.9,389.0h.01M431.0,364.5h.01M413.7,399.6h.01M418.2,396.3h.01M409.9,371.5h.01M438.9,367.5h.01M450.2,392.1h.01M423.4,370.6h.01M410.1,360.2h.01M411.2,360.6h.01M426.2,346.4h.01M445.7,370.5h.01M409.5,376.7h.01M410.8,380.0h.01M412.7,402.8h.01M403.0,370.3h.01M416.6,395.6h.01M443.1,400.7h.01M444.5,380.7h.01M419.9,387.1h.01M434.5,405.4h.01M426.4,416.1h.01M422.8,407.6h.01M418.8,394.3h.01M399.8,387.1h.01M435.5,379.0h.01M423.1,353.6h.01M435.5,415.0h.01M450.0,367.3h.01M417.7,407.2h.01M448.7,397.8h.01M403.2,367.6h.01M412.7,378.3h.01M438.8,390.7h.01M408.6,373.0h.01M405.6,378.5h.01M417.3,366.2h.01M396.5,370.4h.01M442.3,386.3h.01M397.9,358.5h.01M436.9,375.4h.01M415.3,382.1h.01M441.2,402.2h.01M420.0,409.7h.01M407.8,364.0h.01M412.8,347.0h.01M438.9,369.2h.01M396.3,358.5h.01M414.6,363.2h.01M415.0,350.5h.01M412.4,398.2h.01M446.2,416.1h.01M450.4,362.2h.01M414.0,410.4h.01M464.6,382.5h.01M465.6,398.2h.01M465.6,412.1h.01M467.9,384.9h.01M457.9,380.7h.01M461.7,414.4h.01M464.3,390.9h.01M463.6,398.0h.01M469.4,412.7h.01M472.8,412.9h.01M450.4,396.1h.01" stroke="#2f6d8e"/>
<path d="M396.5,360.6h.01M444.9,388.0h.01M404.5,362.5h.01M428.6,363.0h.01M452.3,386.6h.01M395.8,367.6h.01M450.0,370.2h.01M402.5,387.9h.01M445.0,407.2h.01M399.1,357.8h.01M444.3,373.5h.01M447.5,389.4h.01M465.7,420.0h.01M462.7,412.4h.01M466.3,408.1h.01M472.5,412.2h.01M459.0,414.7h.01M451.7,390.0h.01M461.5,419.6h.01M470.2,390.9h.01M453.1,400.6h.01M470.9,414.5h.01M463.5,397.2h.01M472.1,412.2h.01M455.9,406.3h.01M455.6,395.3h.01M476.1,412.9h.01M461.1,383.1h.01M459.0,382.4h.01M468.2,420.0h.01M459.2,384.5h.01" stroke="#45327d"/>
<path d="M417.4,354.4h.01M428.9,403.3h.01M416.7,379.4h.01M448.6,364.5h.01M405.4,380.6h.01M426.4,407.5h.01M439.6,418.5h.01M413.6,371.8h.01M430.7,392.0h.01M426.9,385.1h.01M438.8,366.9h.01M427.8,379.9h.01M447.1,400.4h.01M407.7,376.3h.01M414.1,365.8h.01M410.6,351.5h.01M441.1,378.6h.01M402.1,360.4h.01M405.9,354.7h.01M442.6,406.0h.01M400.3,384.8h.01M432.2,411.1h.01M427.2,393.1h.01M406.5,364.8h.01M408.4,379.6h.01M419.0,347.7h.01M399.1,376.5h.01M416.5,365.0h.01M450.8,365.2h.01M416.2,356.6h.01M408.4,355.6h.01M421.4,386.5h.01M449.2,375.3h.01M437.6,404.1h.01M447.8,366.3h.01M421.4,389.0h.01M446.7,379.5h.01M407.6,349.4h.01M441.4,386.5h.01M417.9,389.6h.01M424.0,386.1h.01M430.6,381.9h.01M446.2,410.3h.01M439.4,374.3h.01M410.6,393.5h.01M431.8,375.9h.01M409.1,358.1h.01M429.0,374.0h.01M440.9,364.7h.01M395.6,363.4h.01M440.1,374.6h.01M443.7,407.0h.01M411.8,394.6h.01M412.8,387.8h.01M394.3,359.3h.01M420.4,350.7h.01M415.8,402.2h.01M439.7,405.5h.01M438.4,365.5h.01M416.9,403.0h.01M403.1,355.8h.01M429.4,389.1h.01M408.3,360.4h.01M427.0,362.5h.01M424.9,399.0h.01M418.5,346.5h.01M395.9,367.9h.01M433.4,385.5h.01M440.6,354.4h.01M458.4,397.7h.01M456.1,410.3h.01M459.0,394.5h.01M466.8,411.9h.01M460.4,403.1h.01M456.8,387.5h.01M472.3,392.4h.01M458.4,402.8h.01M464.8,400.2h.01M473.7,401.4h.01M461.8,403.6h.01M451.1,398.1h.01" stroke="#2f6d8e"/>
<path d="M459.1,363.7h.01M427.8,378.4h.01M451.7,358.8h.01M456.5,360.6h.01M470.7,351.5h.01M476.4,356.4h.01" stroke="#cfe126"/>
<path d="M400.9,361.9h.01M430.1,411.1h.01M432.8,364.8h.01M415.7,349.1h.01M416.4,386.1h.01M432.4,412.7h.01M403.5,377.4h.01M399.9,357.2h.01M395.8,360.3h.01M425.0,382.7h.01M447.6,406.9h.01M443.0,364.0h.01M448.7,383.2h.01M402.0,370.9h.01M409.5,365.0h.01M411.0,363.7h.01M428.4,388.7h.01M453.1,380.7h.01M443.1,360.1h.01M419.5,386.2h.01M407.3,375.0h.01M400.8,363.6h.01M426.0,362.8h.01M427.1,369.0h.01M407.9,353.1h.01M448.7,411.7h.01M435.9,406.8h.01M429.3,361.4h.01M440.2,403.9h.01M401.0,379.7h.01M419.8,404.2h.01M442.0,410.9h.01M449.3,384.1h.01M421.6,359.1h.01M404.8,348.0h.01M418.9,403.9h.01M434.0,395.8h.01M430.6,410.2h.01M395.5,354.4h.01M447.6,413.3h.01M412.5,375.5h.01M434.5,380.2h.01M450.3,407.7h.01M403.1,366.8h.01M428.2,406.6h.01M448.4,367.9h.01M416.6,399.1h.01M427.0,362.2h.01M412.8,350.1h.01M400.2,366.8h.01M417.3,357.7h.01M405.8,351.5h.01M414.6,379.6h.01M436.8,367.5h.01M439.0,378.6h.01M428.8,364.0h.01M422.6,409.6h.01M418.5,356.0h.01M425.0,357.0h.01M397.6,369.8h.01M415.3,346.7h.01M435.8,392.6h.01M413.2,402.2h.01M397.0,381.4h.01M410.1,346.9h.01M430.5,394.2h.01M430.5,358.8h.01M428.5,382.3h.01M421.1,388.8h.01M415.3,383.9h.01M413.9,364.2h.01M424.2,381.7h.01M447.4,360.1h.01M433.3,358.6h.01M402.2,397.7h.01M454.9,383.8h.01M450.2,395.3h.01M460.5,382.1h.01M465.1,413.9h.01M458.1,397.2h.01M470.6,395.4h.01M467.7,417.2h.01M469.7,413.7h.01M471.5,401.5h.01M455.2,403.6h.01M466.8,408.8h.01M470.0,390.2h.01M469.8,410.8h.01M446.2,369.7h.01" stroke="#375b8c"/>
<path d="M430.0,349.9h.01M416.8,347.4h.01M435.4,396.0h.01M438.5,396.8h.01M427.0,360.5h.01M416.9,406.5h.01M408.4,380.7h.01M437.8,400.6h.01M411.7,363.5h.01M426.1,382.4h.01M447.8,370.6h.01M397.8,351.7h.01M399.2,373.1h.01M404.0,365.1h.01M398.7,365.3h.01M423.5,355.0h.01M396.4,371.9h.01M403.7,365.2h.01M433.8,409.7h.01M421.9,353.0h.01M406.2,349.1h.01M458.8,384.4h.01M456.2,393.5h.01M459.6,418.3h.01M457.5,394.9h.01M472.0,402.8h.01M458.7,395.3h.01M454.7,408.7h.01M452.8,387.0h.01M456.2,396.1h.01M470.6,416.7h.01M468.9,421.0h.01M455.0,389.5h.01M465.7,408.3h.01M468.2,397.5h.01" stroke="#45327d"/>
<path d="M402.3,354.0h.01M409.7,367.1h.01M422.6,358.9h.01M455.0,378.3h.01M413.8,368.0h.01M448.6,377.4h.01M396.1,354.9h.01M432.6,384.7h.01M441.5,410.8h.01M442.8,405.8h.01M408.2,347.5h.01M425.3,396.2h.01M445.0,391.2h.01M406.8,388.6h.01M412.0,348.9h.01M437.4,367.6h.01M426.5,361.6h.01M407.9,347.7h.01M447.5,400.3h.01M439.0,359.0h.01M413.8,387.5h.01M417.3,359.9h.01M442.4,360.4h.01M421.6,394.4h.01M424.9,353.2h.01M394.9,358.8h.01M417.1,402.3h.01M432.8,360.4h.01M435.2,380.6h.01M415.4,401.1h.01M446.5,384.2h.01M443.6,369.6h.01M438.1,418.2h.01M435.7,366.6h.01M448.7,357.9h.01M428.9,401.5h.01M444.1,393.4h.01M445.5,388.4h.01M448.6,406.1h.01M418.2,364.1h.01M437.6,372.2h.01M434.1,403.5h.01M417.3,393.3h.01M409.9,401.2h.01M433.4,370.9h.01M433.0,401.8h.01M431.6,355.5h.01M434.4,398.0h.01M448.0,370.2h.01M417.6,357.4h.01M448.4,409.8h.01M404.9,352.9h.01M447.9,411.2h.01M431.5,393.7h.01M419.2,386.6h.01M427.9,383.8h.01M426.6,386.5h.01M445.3,369.3h.01M431.4,368.4h.01M414.4,394.7h.01M420.7,394.4h.01M411.7,351.9h.01M443.1,407.1h.01M429.7,363.8h.01M422.2,359.4h.01M417.7,386.3h.01M408.8,348.3h.01M431.1,371.2h.01M438.7,364.2h.01M415.8,355.4h.01M439.0,370.4h.01M410.4,377.6h.01M411.8,369.9h.01M410.5,350.3h.01M406.0,353.9h.01M436.7,386.2h.01M418.5,407.3h.01M425.2,404.8h.01M444.5,356.4h.01M417.8,370.6h.01M406.2,387.8h.01M427.5,406.7h.01M400.5,361.7h.01M432.5,372.5h.01M395.9,368.6h.01M438.6,395.6h.01M412.3,371.2h.01M465.9,378.5h.01M448.8,355.0h.01M473.3,399.0h.01M454.7,387.8h.01M456.2,414.5h.01M454.4,390.1h.01M460.1,410.5h.01M471.4,407.5h.01M456.9,385.3h.01M457.9,384.9h.01M451.1,396.2h.01M461.8,407.8h.01M476.0,410.6h.01M460.5,404.7h.01M461.4,408.8h.01M456.8,411.5h.01" stroke="#2f6d8e"/>
<path d="M414.6,356.5h.01M413.9,388.9h.01M421.1,401.7h.01M437.7,355.9h.01M442.7,378.8h.01M444.1,393.3h.01M424.8,370.8h.01M431.5,411.4h.01M426.9,392.2h.01M448.9,402.9h.01M432.1,369.6h.01M437.1,360.4h.01M401.2,377.3h.01M444.3,357.0h.01M422.7,358.4h.01M434.7,377.5h.01M427.6,412.0h.01M401.4,362.2h.01M443.3,379.0h.01M439.9,392.5h.01M426.1,404.7h.01M421.3,362.3h.01M435.6,363.9h.01M419.3,402.1h.01M411.2,375.0h.01M448.9,403.9h.01M421.8,411.5h.01M448.1,409.9h.01M431.6,365.6h.01M409.8,348.0h.01M423.2,357.1h.01M425.2,366.6h.01M432.0,384.2h.01M448.3,408.4h.01M393.8,355.6h.01M407.6,383.4h.01M393.2,371.5h.01M396.6,374.1h.01M432.3,351.8h.01M431.2,382.3h.01M441.5,371.6h.01M423.3,374.0h.01M420.1,350.1h.01M417.2,382.5h.01M437.9,371.4h.01M440.4,363.7h.01M442.8,398.4h.01M417.1,360.6h.01M426.3,382.5h.01M450.1,409.0h.01M417.9,388.5h.01M412.3,396.5h.01M395.5,356.1h.01M431.4,367.8h.01M404.0,350.1h.01M405.3,385.3h.01M443.3,364.4h.01M445.5,372.2h.01M407.2,387.7h.01M433.4,379.0h.01M441.6,411.0h.01M400.6,381.6h.01M401.7,377.2h.01M418.9,374.0h.01M434.1,414.3h.01M450.3,403.7h.01M451.0,383.3h.01M449.2,411.9h.01M399.4,371.8h.01M441.7,365.7h.01M406.2,376.8h.01M439.1,386.5h.01M445.2,402.6h.01M411.2,364.8h.01M419.3,347.7h.01M400.2,389.1h.01M467.5,385.4h.01M463.5,390.9h.01M471.5,398.2h.01M470.1,398.6h.01M467.0,420.0h.01M453.0,393.0h.01M467.9,420.3h.01M469.1,409.3h.01M456.5,393.7h.01M466.7,410.3h.01M473.6,418.0h.01M454.1,397.2h.01M454.4,391.3h.01M437.3,368.7h.01M445.2,371.1h.01" stroke="#277f8d"/>
<path d="M432.2,379.2h.01M424.9,394.8h.01M437.2,404.9h.01M410.2,376.5h.01M409.4,365.9h.01M430.4,378.1h.01M435.2,383.4h.01M416.2,346.6h.01M419.1,369.5h.01M401.5,372.1h.01M443.9,376.0h.01M453.9,380.5h.01M428.2,396.1h.01M399.0,382.4h.01M431.3,373.0h.01M427.2,362.5h.01M449.0,357.2h.01M406.7,364.8h.01M435.6,374.6h.01M440.2,400.2h.01M444.4,360.5h.01M393.8,364.4h.01M454.7,377.3h.01M438.7,414.6h.01M405.9,396.9h.01M429.4,409.6h.01M424.5,387.2h.01M420.7,352.8h.01M448.4,411.4h.01M456.4,362.7h.01M405.4,359.6h.01M417.3,387.3h.01M402.6,348.5h.01M431.3,364.7h.01M427.6,384.8h.01M426.3,382.6h.01M433.0,409.5h.01M422.1,382.9h.01M399.9,362.0h.01M431.6,376.4h.01M405.0,367.9h.01M428.8,406.1h.01M405.3,358.8h.01M413.7,362.1h.01M435.6,358.8h.01M436.2,358.6h.01M412.0,348.4h.01M408.7,363.2h.01M443.0,415.9h.01M419.0,371.6h.01M413.1,368.2h.01M442.8,417.1h.01M434.5,399.2h.01M425.0,394.1h.01M420.5,355.9h.01M448.2,363.0h.01M402.9,364.0h.01M447.5,384.1h.01M423.5,351.8h.01M439.1,372.6h.01M441.3,367.2h.01M451.4,386.7h.01M429.2,373.1h.01M396.3,377.6h.01M447.4,382.4h.01M465.0,408.0h.01M455.6,410.7h.01M471.9,412.1h.01M462.8,417.5h.01M460.1,395.0h.01M452.4,391.6h.01M462.4,384.1h.01M460.4,390.5h.01M462.4,413.7h.01M462.6,405.9h.01M462.2,395.6h.01M469.3,414.9h.01M468.0,415.0h.01M451.8,387.5h.01M465.5,406.6h.01M472.9,354.7h.01" stroke="#21918c"/>
<path d="M403.9,353.9h.01M428.6,356.1h.01M428.5,414.9h.01M435.7,413.4h.01M419.0,361.9h.01M420.1,408.4h.01M422.3,402.9h.01M419.9,374.6h.01M431.3,367.0h.01M433.4,374.9h.01M442.0,367.1h.01M446.4,376.9h.01M430.2,398.5h.01M428.3,415.4h.01M424.1,379.7h.01M457.5,381.4h.01M464.4,412.3h.01M452.9,403.2h.01M469.9,405.8h.01M468.1,408.9h.01M465.9,398.1h.01M460.6,413.1h.01M475.1,410.3h.01M467.1,416.2h.01" stroke="#3f4888"/>
<path d="M423.5,367.6h.01M450.9,405.3h.01M408.9,389.0h.01M419.4,383.0h.01M408.5,363.6h.01M443.7,412.2h.01M435.0,395.5h.01M451.9,378.7h.01M442.2,412.2h.01M424.6,407.9h.01M431.5,368.2h.01M417.6,369.1h.01M402.1,390.2h.01M445.6,413.4h.01M444.2,415.3h.01M420.2,355.4h.01M420.6,360.2h.01M396.3,376.1h.01M433.7,369.9h.01M422.8,372.6h.01M441.2,381.2h.01M439.5,356.8h.01M464.4,374.9h.01M466.1,416.8h.01M459.2,406.8h.01M471.4,393.4h.01M474.0,417.1h.01M466.6,409.6h.01M458.3,411.5h.01M478.5,353.1h.01" stroke="#22a186"/>
<path d="M452.5,368.6h.01M451.6,361.3h.01M472.1,358.7h.01M469.3,379.4h.01" stroke="#fde725"/>
<path d="M445.4,383.1h.01M430.9,401.9h.01M418.0,370.0h.01M440.1,408.3h.01M406.8,396.3h.01M427.4,381.4h.01M406.8,377.7h.01M417.6,388.1h.01M403.1,365.4h.01M449.1,415.2h.01M427.6,353.4h.01M413.4,396.7h.01M450.4,374.6h.01M410.4,387.7h.01M420.0,348.2h.01M407.7,385.9h.01M443.9,382.3h.01M425.7,409.7h.01M454.8,405.3h.01M467.4,413.1h.01M468.1,402.4h.01M464.1,418.7h.01" stroke="#3f4888"/>
<path d="M397.3,363.2h.01M436.8,402.3h.01M405.6,372.4h.01M427.9,373.8h.01M406.2,358.7h.01M441.6,359.8h.01M423.4,379.4h.01M422.5,359.4h.01M404.0,372.1h.01M447.0,410.3h.01M454.1,365.8h.01M432.1,411.1h.01M428.5,390.9h.01M452.5,398.5h.01M466.6,393.0h.01M443.7,359.9h.01" stroke="#22a186"/>
<path d="M417.1,377.1h.01M402.1,349.1h.01M450.6,405.8h.01M399.2,352.5h.01M422.5,411.1h.01M436.0,403.7h.01M436.4,416.6h.01M399.6,369.4h.01M403.5,347.4h.01M430.9,356.7h.01M471.1,407.8h.01M473.0,400.5h.01M467.6,403.2h.01M456.8,414.7h.01M465.9,413.8h.01M455.4,382.4h.01M455.0,414.5h.01M465.4,395.6h.01M470.9,413.8h.01M474.4,414.4h.01" stroke="#471a6c"/>
<path d="M435.5,415.9h.01M451.3,366.8h.01M436.2,373.0h.01M419.3,375.0h.01M399.3,372.3h.01M398.3,352.8h.01M415.9,365.0h.01M407.5,362.1h.01M442.7,386.3h.01M409.9,357.4h.01M411.7,363.3h.01M406.2,382.9h.01M439.3,396.9h.01M423.2,365.2h.01M420.8,384.3h.01M423.8,386.4h.01M401.2,364.0h.01M409.4,363.5h.01M421.5,406.4h.01M423.8,358.6h.01M448.7,364.1h.01M413.1,381.0h.01M436.1,392.7h.01M438.2,379.4h.01M395.1,354.1h.01M415.2,390.4h.01M435.5,355.9h.01M441.2,359.9h.01M414.4,398.3h.01M450.0,390.7h.01M413.7,363.3h.01M448.8,383.8h.01M402.3,388.1h.01M420.6,404.0h.01M405.5,366.4h.01M419.1,351.6h.01M401.4,365.8h.01M450.5,371.5h.01M422.2,396.3h.01M449.7,403.1h.01M410.3,386.0h.01M413.7,355.4h.01M440.9,395.2h.01M433.5,379.6h.01M414.8,359.0h.01M449.1,369.1h.01M405.1,386.6h.01M411.1,382.5h.01M430.9,402.7h.01M436.0,371.3h.01M421.8,410.0h.01M440.7,361.5h.01M447.3,379.5h.01M444.0,406.6h.01M417.1,403.4h.01M439.6,393.9h.01M418.3,363.2h.01M428.2,380.8h.01M428.1,362.9h.01M417.9,348.5h.01M438.4,400.4h.01M427.5,376.6h.01M436.5,353.9h.01M444.7,354.7h.01M463.1,416.7h.01M458.9,385.4h.01M472.0,418.7h.01M465.5,397.1h.01M460.1,412.1h.01M475.1,413.9h.01M472.3,412.5h.01M471.6,396.4h.01M461.8,413.2h.01M475.5,416.7h.01M452.3,389.6h.01M470.0,407.6h.01M468.7,397.9h.01M473.7,417.8h.01M464.6,413.7h.01M461.9,383.6h.01M457.9,405.4h.01M463.9,406.3h.01M454.3,390.9h.01M451.9,387.2h.01M435.7,369.2h.01M447.0,370.3h.01" stroke="#375b8c"/>
<path d="M431.6,397.5h.01M453.2,363.0h.01M455.8,361.0h.01M474.8,405.9h.01M479.3,352.1h.01M473.4,351.0h.01M475.9,352.1h.01M471.8,354.9h.01M470.0,378.6h.01" stroke="#72ce55"/>
<path d="M406.7,357.3h.01M434.5,356.3h.01M418.2,370.4h.01M438.0,373.5h.01M402.4,366.3h.01M437.3,404.3h.01M419.8,368.9h.01M460.5,382.2h.01M466.6,394.5h.01M450.9,397.6h.01M454.7,389.8h.01M459.1,417.1h.01M474.3,412.6h.01M471.1,401.3h.01M467.7,390.3h.01M456.4,387.5h.01" stroke="#3f4888"/>
<path d="M421.5,406.9h.01M449.1,360.9h.01M423.4,385.0h.01M412.5,379.5h.01M398.5,375.0h.01M400.1,350.5h.01M438.2,414.2h.01M447.9,393.9h.01M425.0,406.3h.01M417.8,382.8h.01M420.2,362.9h.01M410.2,362.8h.01M430.0,354.5h.01M437.4,363.9h.01M392.8,359.4h.01M439.4,413.4h.01M410.7,375.9h.01M438.0,370.7h.01M415.6,377.9h.01M400.2,358.7h.01M426.8,353.6h.01M428.3,384.6h.01M420.4,393.6h.01M401.4,395.1h.01M459.4,401.5h.01" stroke="#22a186"/>
<path d="M404.8,388.6h.01M436.8,419.3h.01M409.7,371.1h.01M426.8,384.9h.01M404.2,380.5h.01M446.2,412.1h.01M393.6,369.9h.01M410.9,354.9h.01M430.3,414.3h.01M409.6,346.3h.01M401.9,384.3h.01M424.4,354.0h.01M417.9,374.5h.01M427.5,359.4h.01M403.9,357.3h.01M396.6,365.9h.01M419.8,378.5h.01M399.9,356.7h.01M415.6,376.6h.01M411.6,371.4h.01M421.9,382.0h.01M414.3,372.2h.01M409.3,350.0h.01M408.4,376.3h.01M400.5,359.3h.01M407.3,372.7h.01M447.0,386.1h.01M420.5,366.3h.01M416.9,376.3h.01M427.4,348.2h.01M441.2,365.0h.01M440.3,409.2h.01M435.5,371.7h.01M439.1,361.1h.01M413.1,376.7h.01M441.8,363.3h.01M441.4,409.0h.01M425.8,349.7h.01M422.5,395.7h.01M420.0,383.8h.01M428.0,346.7h.01M407.6,348.1h.01M446.4,398.1h.01M408.7,355.9h.01M402.0,378.6h.01M448.9,380.8h.01M438.3,361.0h.01M448.1,388.7h.01M418.6,401.3h.01M428.8,350.4h.01M457.7,366.7h.01M427.5,382.9h.01M409.5,348.5h.01M417.6,363.6h.01M403.5,360.0h.01M441.6,364.2h.01M396.5,366.2h.01M449.4,400.6h.01M427.7,376.6h.01M441.0,377.0h.01M424.5,388.3h.01M432.2,418.9h.01M419.8,360.1h.01M448.0,410.5h.01M433.4,364.4h.01M446.8,391.3h.01M417.9,394.9h.01M424.9,411.6h.01M422.6,381.9h.01M429.0,375.7h.01M399.3,352.3h.01M420.8,394.4h.01M403.7,400.4h.01M421.1,414.4h.01M398.1,391.3h.01M453.5,389.7h.01M471.7,393.1h.01M470.0,390.2h.01M463.4,403.7h.01M458.7,386.5h.01M455.0,389.2h.01M463.1,405.1h.01M461.1,416.2h.01" stroke="#21918c"/>
<path d="M452.3,365.1h.01M458.8,361.9h.01M451.6,363.0h.01M430.2,375.5h.01M452.1,365.1h.01M469.1,405.5h.01M473.7,359.3h.01M470.6,355.4h.01M468.4,352.2h.01M477.6,356.8h.01M475.7,358.4h.01M474.4,362.7h.01M469.3,352.5h.01M474.6,357.4h.01M476.2,362.0h.01" stroke="#a0d938"/>
<path d="M440.1,389.5h.01M415.0,361.8h.01M443.9,380.9h.01M434.4,382.9h.01M423.5,370.5h.01M410.8,354.8h.01M413.3,362.6h.01M426.3,373.7h.01M423.3,355.6h.01M405.6,352.0h.01M436.1,397.3h.01M438.1,416.0h.01M402.4,374.6h.01M396.5,374.5h.01M434.1,369.7h.01M450.1,367.1h.01M409.9,389.9h.01M399.8,381.8h.01M435.4,368.0h.01M442.7,403.2h.01M426.9,413.8h.01M399.7,371.8h.01M430.4,377.7h.01M399.7,360.6h.01M394.5,376.0h.01M416.2,407.3h.01M421.5,379.2h.01M404.9,394.0h.01M416.8,349.4h.01M421.2,397.3h.01M428.8,400.6h.01M433.0,415.2h.01M435.6,376.4h.01M433.7,368.2h.01M434.2,382.2h.01M450.2,409.7h.01M428.1,377.6h.01M413.3,393.5h.01M412.2,363.4h.01M422.6,400.1h.01M432.4,371.2h.01M432.4,416.8h.01M422.6,391.5h.01M425.6,404.4h.01M416.5,363.5h.01M434.1,361.1h.01M413.2,373.6h.01M395.1,368.4h.01M399.8,381.7h.01M409.3,355.5h.01M431.3,392.1h.01M419.3,358.0h.01M428.6,416.6h.01M416.3,355.3h.01M436.9,359.9h.01M444.1,387.3h.01M451.2,364.4h.01M432.3,369.0h.01M442.4,377.3h.01M399.1,392.6h.01M463.2,394.2h.01M475.9,412.3h.01M460.1,399.9h.01M453.3,403.7h.01M471.1,393.3h.01M466.7,408.2h.01M456.9,381.3h.01M460.9,381.1h.01M467.1,387.3h.01M458.9,392.3h.01M474.9,411.2h.01M457.6,396.0h.01M450.4,384.0h.01M435.0,372.5h.01M444.7,361.2h.01" stroke="#21918c"/>
<path d="M459.4,364.6h.01M449.1,367.1h.01M474.0,351.5h.01M479.2,350.6h.01M473.6,353.6h.01M470.6,351.4h.01M477.5,361.2h.01" stroke="#a0d938"/>
<path d="M453.4,376.6h.01M463.1,372.5h.01M466.9,390.5h.01M472.7,354.3h.01M470.6,356.2h.01M469.4,351.0h.01" stroke="#72ce55"/>
<path d="M409.1,388.1h.01M405.9,360.5h.01M442.2,386.7h.01M427.0,407.5h.01M432.5,411.8h.01M436.7,367.9h.01M396.7,352.8h.01M431.0,371.3h.01M443.5,415.7h.01M435.7,396.9h.01M411.8,398.6h.01M405.5,367.7h.01M428.2,357.2h.01M399.7,360.6h.01M446.1,398.4h.01M445.8,374.2h.01M448.0,392.5h.01M418.1,376.5h.01M441.7,391.9h.01M433.7,412.1h.01M436.8,418.7h.01M442.3,367.1h.01M454.9,380.8h.01M408.9,370.2h.01M429.0,356.3h.01M446.3,398.1h.01M426.7,378.3h.01M404.1,368.9h.01M399.2,357.9h.01M441.7,361.7h.01M430.9,353.8h.01M421.8,383.4h.01M405.1,392.8h.01M407.9,387.9h.01M400.8,373.0h.01M415.9,356.5h.01M439.0,374.5h.01M425.4,372.6h.01M409.1,362.7h.01M402.6,358.4h.01M443.0,414.0h.01M425.7,411.7h.01M407.6,355.8h.01M450.0,376.2h.01M412.6,360.9h.01M396.8,386.4h.01M458.5,387.6h.01M458.2,384.3h.01M459.3,417.9h.01M456.6,388.8h.01M468.6,404.7h.01M476.0,408.9h.01M468.2,408.1h.01M456.1,389.4h.01M452.4,399.6h.01M455.9,383.4h.01M451.9,395.1h.01" stroke="#277f8d"/>
<path d="M402.8,381.7h.01M401.2,363.7h.01M394.3,366.0h.01M450.1,381.0h.01M415.2,405.0h.01M440.4,410.6h.01M426.7,358.5h.01M403.2,378.5h.01M442.5,360.5h.01M402.5,364.1h.01M411.3,348.8h.01M408.8,364.5h.01M413.1,379.6h.01M421.2,364.4h.01M426.4,359.2h.01M395.1,367.1h.01M420.3,411.1h.01M446.3,361.8h.01M427.0,373.4h.01M396.9,371.4h.01M436.3,418.6h.01M448.2,358.2h.01M446.1,398.6h.01M408.3,348.1h.01M406.9,391.7h.01M417.3,406.2h.01M414.3,376.8h.01M416.2,397.8h.01M409.4,369.6h.01M414.9,359.3h.01M445.5,397.4h.01M435.1,375.7h.01M424.5,367.2h.01M449.6,371.7h.01M430.5,364.9h.01M434.7,392.0h.01M440.2,389.7h.01M436.4,414.9h.01M442.7,359.2h.01M440.7,406.9h.01M450.8,405.4h.01M416.2,351.5h.01M453.2,384.1h.01M446.4,356.9h.01M451.9,381.5h.01M445.9,377.0h.01M403.9,381.8h.01M399.1,366.8h.01M423.0,383.7h.01M440.4,359.8h.01M436.4,365.0h.01M439.0,365.6h.01M446.4,408.6h.01M438.8,384.4h.01M431.8,410.8h.01M400.7,356.9h.01M409.0,374.3h.01M427.6,385.7h.01M451.0,390.5h.01M409.8,352.3h.01M400.1,383.5h.01M449.9,388.6h.01M452.5,385.4h.01M423.5,366.0h.01M394.3,355.2h.01M420.4,386.7h.01M417.3,346.0h.01M443.4,373.5h.01M435.6,385.7h.01M407.7,390.9h.01M398.4,355.6h.01M401.2,394.0h.01M466.3,390.9h.01M473.8,407.0h.01M473.8,409.7h.01M454.4,391.7h.01M463.1,415.0h.01M468.8,419.1h.01M468.3,398.7h.01M459.4,391.4h.01M468.3,404.1h.01M456.2,391.3h.01M451.9,397.4h.01M451.7,381.7h.01" stroke="#277f8d"/>
<path d="M432.6,394.7h.01M405.1,377.7h.01M469.4,394.9h.01M467.8,409.1h.01M451.2,394.9h.01M476.2,355.8h.01M479.4,349.7h.01M473.4,350.7h.01M477.6,357.1h.01M480.1,355.7h.01M479.8,351.6h.01M475.4,362.6h.01M475.8,363.5h.01" stroke="#72ce55"/>
<path d="M430.8,415.6h.01M443.4,367.9h.01M425.8,347.1h.01M433.3,391.5h.01M410.0,387.3h.01M442.7,375.7h.01M443.6,357.5h.01M452.2,378.0h.01M398.8,379.9h.01M465.2,388.4h.01M474.1,410.4h.01M452.1,402.2h.01M464.6,407.2h.01M454.6,410.0h.01M464.7,408.6h.01M471.6,414.6h.01M466.4,416.5h.01M465.6,412.8h.01M460.5,417.7h.01M453.5,382.6h.01M436.4,370.7h.01" stroke="#471a6c"/>
<path d="M428.4,410.5h.01M449.3,357.2h.01M410.3,372.6h.01M414.8,383.9h.01M405.8,369.0h.01M448.8,377.5h.01M415.7,365.5h.01M413.8,360.4h.01M423.0,377.9h.01M409.1,356.3h.01M410.6,393.1h.01M421.8,392.8h.01M424.4,356.0h.01M437.4,372.7h.01M445.4,362.6h.01M400.6,389.5h.01M435.6,390.2h.01M447.7,357.1h.01M438.1,406.8h.01M430.1,405.1h.01M458.6,404.0h.01M479.2,354.3h.01M470.9,355.6h.01" stroke="#31b27b"/>
<path d="M435.2,412.4h.01M442.1,357.9h.01M393.1,369.6h.01M427.5,349.2h.01M439.2,414.7h.01M418.7,388.9h.01M411.8,375.3h.01M424.0,393.0h.01M399.3,351.8h.01M412.5,362.6h.01M456.0,410.0h.01M462.5,399.8h.01M455.7,386.9h.01M461.9,388.6h.01M468.8,408.1h.01M463.8,390.8h.01M466.6,389.6h.01M470.0,399.9h.01M475.3,418.0h.01M453.8,405.6h.01M454.9,388.8h.01M455.3,407.3h.01M472.1,413.3h.01M457.6,381.1h.01" stroke="#471a6c"/>
<path d="M418.5,393.0h.01M471.4,398.0h.01M471.3,354.5h.01M479.8,350.2h.01M475.4,355.5h.01" stroke="#a0d938"/>
<path d="M448.8,366.4h.01M444.8,403.4h.01M454.3,382.6h.01M425.1,389.2h.01M418.8,369.2h.01M450.2,388.9h.01M407.0,367.6h.01M440.0,369.4h.01M409.4,403.7h.01M454.7,395.7h.01M451.2,402.0h.01M464.5,413.1h.01M477.9,352.2h.01M477.5,350.1h.01M472.4,350.7h.01M475.1,359.3h.01M469.0,380.5h.01M474.4,364.7h.01" stroke="#4cc26c"/>
<path d="M457.1,364.6h.01M415.9,407.3h.01M455.6,364.4h.01M452.8,369.7h.01M424.6,387.1h.01M455.0,361.5h.01M435.8,372.4h.01M459.0,363.3h.01M468.5,352.8h.01M463.4,358.3h.01" stroke="#cfe126"/>
<path d="M429.2,372.5h.01M448.6,400.4h.01M407.9,383.8h.01M444.5,366.8h.01M442.1,393.2h.01M448.7,362.4h.01M420.6,405.8h.01M418.9,363.9h.01M438.1,407.9h.01M417.5,380.6h.01M430.4,404.7h.01M425.4,357.8h.01M429.6,414.2h.01M434.1,373.5h.01M411.1,358.4h.01M448.1,371.5h.01M422.9,410.7h.01" stroke="#31b27b"/>
</g>
<text x="434.30" y="337.80" font-size="10" text-anchor="middle" fill="#1a1a1a" textLength="15.50" lengthAdjust="spacingAndGlyphs" stroke="#1a1a1a" stroke-width="0.22" >TAL1</text>
<g transform="translate(246.3,270.9) scale(0.512,0.538)" filter="url(#bl)" opacity="0.7"><path d="M87.50,345.00 L91.50,340.80 L96.50,337.80 L102.50,334.50 L110.40,331.70 L119.00,331.50 L127.70,332.70 L135.00,331.50 L143.00,331.70 L149.00,333.50 L154.60,337.00 L158.50,342.50 L161.50,348.00 L166.00,350.50 L170.00,351.50 L179.00,352.00 L187.00,352.30 L194.60,353.00 L199.50,355.50 L204.20,358.50 L210.00,361.50 L215.80,365.40 L212.00,369.50 L208.00,373.00 L203.00,377.00 L198.50,380.80 L202.00,384.50 L206.20,388.50 L208.00,394.00 L204.00,402.00 L198.50,410.00 L195.00,420.00 L194.00,430.00 L195.00,438.00 L196.50,446.00 L196.00,456.00 L193.00,465.00 L186.00,467.50 L179.20,469.00 L169.60,472.30 L162.00,472.00 L155.50,470.00 L144.50,464.50 L129.20,452.00 L117.50,440.50 L108.00,431.00 L96.50,417.50 L90.70,406.00 L83.50,392.00 L80.60,382.70 L79.60,363.50 L81.50,350.00Z" fill="#259a8a"/><path d="M208.00,394.00 L215.00,396.50 L223.50,402.00 L229.00,405.50 L233.00,409.60 L236.50,414.00 L238.80,419.20 L240.80,428.50 L242.50,438.00 L243.70,447.70 L245.00,455.00 L245.60,463.00 L243.50,469.00 L238.80,472.70 L231.00,474.00 L223.50,473.70 L213.80,470.80 L206.20,465.00 L203.00,461.00 L201.00,455.00 L202.00,448.00 L199.00,442.00 L195.00,437.00 L192.00,428.00 L193.00,415.00 L198.50,407.00Z" fill="#279088"/><path d="M227.30,344.20 L236.00,341.50 L245.00,340.00 L252.30,339.40 L254.20,345.00 L253.50,351.00 L249.00,358.00 L244.50,364.00 L240.80,366.30 L237.00,362.00 L233.50,357.50 L231.00,353.80 L228.50,349.00Z" fill="#46307e"/></g>
<g fill="none" stroke-width="3.6" stroke-linecap="round" opacity="0.85">
<path d="M302.8,466.6h.01M325.6,518.8h.01M314.7,487.5h.01M308.9,476.3h.01M336.4,483.1h.01M299.3,482.4h.01M329.0,472.7h.01M327.3,488.7h.01M323.4,482.1h.01M304.4,462.6h.01M310.1,463.5h.01M291.8,474.9h.01M310.6,486.6h.01M343.4,476.0h.01M350.7,486.9h.01M363.2,524.8h.01M363.6,503.2h.01" stroke="#cfe126"/>
<path d="M343.9,514.2h.01M329.8,460.8h.01M305.0,475.6h.01M295.2,461.7h.01M288.0,469.4h.01M327.9,489.2h.01M320.6,500.7h.01M306.6,453.3h.01M303.8,468.1h.01M329.4,474.2h.01M302.6,477.2h.01M337.7,464.9h.01M302.6,479.5h.01M323.2,478.3h.01M302.0,469.3h.01M294.5,457.0h.01M343.3,497.0h.01M310.5,494.9h.01M347.2,486.0h.01M325.9,514.7h.01M328.7,479.4h.01M344.2,485.3h.01M343.1,475.1h.01M293.1,456.2h.01M306.5,465.1h.01M297.8,492.4h.01M348.7,481.1h.01M330.9,494.7h.01M325.0,468.3h.01M309.9,484.7h.01M338.3,520.4h.01M325.4,509.6h.01M334.0,468.7h.01M313.8,460.5h.01M320.3,461.5h.01M311.1,459.9h.01M324.7,493.6h.01M307.1,474.4h.01M322.3,467.0h.01M303.8,496.7h.01M315.7,498.1h.01M322.8,511.2h.01M294.6,456.3h.01M351.4,514.8h.01M349.1,505.9h.01M354.1,488.9h.01M371.2,516.8h.01M370.4,514.8h.01M361.2,518.3h.01M357.7,518.2h.01M366.9,519.1h.01M359.9,518.2h.01M346.5,486.8h.01" stroke="#22a186"/>
<path d="M337.8,471.2h.01M344.4,465.4h.01M308.9,472.1h.01M313.5,468.6h.01M333.5,483.9h.01M343.4,493.2h.01M331.5,463.1h.01M346.3,495.0h.01M307.6,501.0h.01M331.4,513.8h.01M326.5,473.8h.01M293.4,495.8h.01M353.7,502.2h.01M352.8,485.9h.01M348.4,494.7h.01M351.5,495.8h.01" stroke="#cfe126"/>
<path d="M323.5,500.6h.01M341.6,466.3h.01M303.7,460.1h.01M339.2,486.8h.01M367.6,517.0h.01M363.4,506.9h.01M362.1,516.4h.01M361.2,525.0h.01M351.7,492.0h.01M365.9,459.9h.01" stroke="#3f4888"/>
<path d="M294.6,476.8h.01M293.6,457.3h.01M317.5,514.7h.01M320.5,520.0h.01M307.8,484.0h.01M308.1,504.8h.01M300.9,456.5h.01M316.1,488.8h.01M291.9,470.4h.01M291.8,479.0h.01M315.9,510.3h.01M331.7,517.6h.01M294.0,482.7h.01M324.6,465.9h.01M324.2,506.0h.01M296.3,484.2h.01M348.5,467.5h.01M323.5,461.7h.01M330.9,468.4h.01M322.7,485.9h.01M291.1,472.1h.01M330.0,496.5h.01M334.4,465.6h.01M332.7,477.2h.01M324.9,518.7h.01M330.3,468.4h.01M322.8,487.4h.01M345.5,493.4h.01M317.9,496.0h.01M322.9,490.2h.01M317.1,487.9h.01M315.9,464.7h.01M297.4,491.7h.01M344.7,505.1h.01M307.1,499.1h.01M300.4,491.1h.01M325.5,480.0h.01M311.6,459.8h.01M299.3,454.6h.01M302.9,460.3h.01M335.4,483.2h.01M342.8,493.9h.01M318.2,515.2h.01M328.6,463.1h.01M345.7,466.7h.01M361.2,483.0h.01M294.4,497.1h.01M360.5,492.9h.01M353.5,488.8h.01M362.2,495.0h.01M359.2,505.3h.01M369.3,521.6h.01M357.1,512.3h.01M349.9,514.5h.01M370.6,522.5h.01M364.1,523.6h.01M361.7,521.0h.01M357.2,488.1h.01M370.2,515.7h.01M354.7,506.0h.01M332.6,473.2h.01M331.0,473.7h.01" stroke="#22a186"/>
<path d="M340.2,492.5h.01M334.9,481.4h.01M322.0,463.0h.01M322.2,489.6h.01M337.8,465.0h.01M333.8,501.3h.01M344.0,487.7h.01M349.6,471.3h.01M303.7,480.8h.01M327.4,474.1h.01M323.5,518.8h.01M339.6,461.5h.01M318.0,462.9h.01M301.4,495.1h.01M325.7,482.2h.01M326.8,472.7h.01M335.2,497.0h.01M312.9,473.6h.01M317.6,507.4h.01M300.3,486.6h.01M341.1,478.7h.01M317.1,497.3h.01M311.5,461.1h.01M344.4,471.6h.01M343.1,470.8h.01M343.7,515.9h.01M305.4,464.7h.01M331.1,476.9h.01M288.5,476.0h.01M325.9,486.4h.01M322.0,482.8h.01M315.4,454.6h.01M312.5,487.0h.01M308.5,478.1h.01M309.0,459.9h.01M323.1,482.9h.01M313.0,490.8h.01M341.7,481.4h.01M295.4,488.0h.01M312.6,470.7h.01M342.3,514.8h.01M338.5,487.7h.01M327.5,523.4h.01M310.1,505.6h.01M310.3,456.7h.01M341.0,472.8h.01M341.1,467.8h.01M328.7,483.5h.01M297.0,481.7h.01M346.3,487.8h.01M318.8,456.3h.01M340.5,507.1h.01M324.5,477.6h.01M358.4,477.0h.01M340.0,459.2h.01M295.5,493.6h.01M297.5,502.2h.01M352.8,499.4h.01M350.6,517.0h.01M368.9,522.5h.01M354.5,489.0h.01" stroke="#22a186"/>
<path d="M325.3,454.4h.01M334.4,481.6h.01M323.1,495.8h.01M314.6,479.5h.01M343.9,504.9h.01M294.9,469.5h.01M309.1,472.5h.01M334.9,523.0h.01M291.4,459.4h.01M305.2,461.9h.01M339.2,498.8h.01M291.8,469.8h.01M331.4,501.8h.01M295.4,455.0h.01M348.4,485.2h.01M304.6,454.5h.01M345.4,517.9h.01M297.4,464.9h.01M315.8,470.8h.01M344.6,463.4h.01M296.5,481.8h.01M322.7,452.7h.01M319.9,512.4h.01M331.2,511.3h.01M307.1,465.7h.01M332.9,476.7h.01M329.4,508.0h.01M325.8,469.4h.01M321.5,454.1h.01M300.1,452.5h.01M330.9,480.9h.01M346.1,509.9h.01M304.0,460.4h.01M336.7,491.0h.01M306.0,480.4h.01M317.4,487.4h.01M289.1,460.1h.01M331.7,469.5h.01M308.0,507.3h.01M345.6,512.2h.01M334.7,478.8h.01M299.4,473.4h.01M296.0,461.4h.01M340.6,473.8h.01M336.8,476.1h.01M304.3,478.8h.01M312.9,468.1h.01M307.1,479.8h.01M296.7,470.3h.01M345.0,507.6h.01M340.3,511.7h.01M312.6,462.2h.01M321.6,487.0h.01M332.1,472.0h.01M326.2,507.2h.01M292.3,485.9h.01M349.4,470.3h.01M325.8,463.3h.01M338.3,518.5h.01M317.2,457.5h.01M332.0,490.7h.01M303.0,495.4h.01M323.6,489.1h.01M298.2,468.5h.01M334.4,477.1h.01M319.4,484.2h.01M341.5,520.6h.01M307.8,467.1h.01M294.1,484.4h.01M335.9,458.9h.01M348.2,507.7h.01M360.8,501.6h.01M361.2,502.6h.01M369.5,504.3h.01M356.9,515.2h.01M365.5,495.4h.01M351.9,493.3h.01M348.3,497.5h.01M366.2,519.0h.01M365.3,504.4h.01M350.3,519.0h.01M361.9,514.1h.01M358.8,501.7h.01M351.8,498.2h.01M366.7,502.5h.01M369.6,517.1h.01M360.1,504.7h.01M350.3,493.7h.01M363.1,513.6h.01M355.8,509.2h.01M347.2,501.9h.01M364.2,525.5h.01M363.5,512.6h.01M350.3,494.0h.01M361.0,512.8h.01M369.3,456.0h.01M368.2,459.2h.01" stroke="#277f8d"/>
<path d="M335.4,494.0h.01M324.2,507.8h.01M327.7,517.2h.01M341.5,516.6h.01M334.1,471.4h.01M325.9,479.1h.01M304.1,469.0h.01M326.8,515.9h.01M303.0,480.8h.01M311.3,460.3h.01M315.5,505.0h.01M337.3,515.4h.01M345.8,476.0h.01M324.3,480.2h.01M354.3,519.2h.01M354.2,496.8h.01" stroke="#a0d938"/>
<path d="M321.7,512.0h.01M327.8,516.3h.01M316.8,510.9h.01M344.5,479.8h.01" stroke="#72ce55"/>
<path d="M290.2,482.1h.01M292.5,456.5h.01M323.7,515.0h.01M316.4,506.2h.01M325.4,515.6h.01M337.4,462.4h.01M304.7,470.4h.01M296.0,482.7h.01M307.0,467.8h.01M313.5,474.9h.01M354.4,468.2h.01M297.7,479.1h.01M333.3,478.0h.01M312.2,511.0h.01M350.9,468.9h.01M317.2,486.5h.01M290.4,471.6h.01M316.9,498.9h.01M331.4,476.5h.01M327.5,515.6h.01M342.5,469.5h.01M336.5,469.5h.01M295.0,465.1h.01M336.0,512.7h.01M322.8,497.4h.01M311.8,469.5h.01M341.8,512.3h.01M324.1,505.1h.01M331.4,497.2h.01M302.1,482.2h.01M332.9,508.6h.01M340.9,517.9h.01M290.4,458.6h.01M325.7,509.2h.01M340.7,467.1h.01M348.5,488.6h.01M301.5,463.2h.01M300.2,457.4h.01M324.3,460.8h.01M319.3,490.6h.01M298.3,474.8h.01M323.2,488.3h.01M294.5,477.6h.01M298.4,471.3h.01M308.7,501.2h.01M312.3,463.6h.01M324.3,478.5h.01M339.0,511.5h.01M330.8,483.5h.01M312.4,465.1h.01M310.6,451.2h.01M338.1,521.6h.01M291.6,480.6h.01M328.7,468.9h.01M338.6,468.9h.01M318.8,470.5h.01M331.4,475.4h.01M339.3,511.1h.01M334.9,498.4h.01M301.3,458.4h.01M323.5,485.3h.01M344.5,516.4h.01M320.5,509.3h.01M323.8,486.8h.01M333.7,504.9h.01M315.3,452.7h.01M336.5,485.7h.01M301.5,453.6h.01M291.2,473.1h.01M331.8,458.4h.01M296.5,498.5h.01M359.9,487.0h.01M350.9,515.2h.01M351.3,508.7h.01M366.8,502.7h.01M367.3,523.2h.01M367.4,517.4h.01M366.4,512.3h.01M357.1,517.7h.01M368.3,505.0h.01M357.0,518.9h.01M353.2,489.4h.01M361.9,494.1h.01M358.7,508.2h.01M369.0,505.9h.01M350.9,499.8h.01M363.6,508.6h.01M349.4,501.7h.01M347.2,491.7h.01M374.5,455.1h.01" stroke="#21918c"/>
<path d="M326.2,506.4h.01M329.7,487.4h.01M301.1,473.5h.01M331.2,509.5h.01M339.8,471.3h.01M336.2,497.2h.01M322.8,463.9h.01M313.3,474.5h.01M305.2,494.4h.01M334.3,463.5h.01M292.0,457.3h.01M322.2,518.3h.01M347.6,491.1h.01M290.0,460.8h.01M294.6,478.4h.01M333.6,465.5h.01M301.6,454.6h.01M343.7,514.3h.01M306.1,484.5h.01M318.1,512.1h.01M325.3,506.4h.01M315.7,455.2h.01M314.6,462.5h.01M305.4,451.4h.01M342.6,484.0h.01M311.9,486.7h.01M345.3,480.7h.01M327.8,477.0h.01M333.9,500.1h.01M307.9,465.4h.01M328.7,490.0h.01M347.8,503.0h.01M350.0,500.2h.01M366.9,500.9h.01M359.5,501.0h.01M359.1,495.3h.01M349.6,495.4h.01" stroke="#31b27b"/>
<path d="M312.7,458.9h.01M289.6,470.5h.01M306.1,459.3h.01M323.9,467.5h.01M298.5,483.0h.01M314.4,474.0h.01M313.2,479.0h.01M306.3,468.2h.01M305.7,503.2h.01M315.6,515.6h.01M318.3,482.4h.01M321.3,467.3h.01M340.1,507.9h.01M322.8,453.7h.01M303.2,457.6h.01M339.7,465.0h.01M311.5,511.8h.01M310.2,463.8h.01M340.8,501.9h.01M294.4,481.0h.01M321.4,486.9h.01M319.8,491.7h.01M316.0,457.3h.01M317.8,500.2h.01M318.5,461.6h.01M332.1,523.2h.01M318.3,488.2h.01M326.7,472.9h.01M330.8,519.5h.01M320.7,477.1h.01M312.2,507.5h.01M299.0,469.7h.01M305.2,495.3h.01M338.7,478.0h.01M291.6,482.1h.01M360.9,516.6h.01M364.0,502.4h.01M341.5,474.2h.01" stroke="#4cc26c"/>
<path d="M371.0,462.9h.01" stroke="#440154"/>
<path d="M304.2,493.5h.01M316.5,468.9h.01M344.0,462.4h.01M330.8,476.2h.01M341.4,502.9h.01M331.7,519.4h.01M323.5,511.1h.01M358.9,502.5h.01" stroke="#fde725"/>
<path d="M351.2,487.9h.01" stroke="#72ce55"/>
<path d="M302.1,493.1h.01M338.4,464.6h.01M344.0,468.6h.01M303.1,493.2h.01M337.1,467.8h.01M326.9,480.9h.01M318.8,459.5h.01M351.5,500.6h.01" stroke="#72ce55"/>
<path d="M333.5,518.7h.01M334.3,516.5h.01M316.8,483.7h.01M296.2,459.5h.01M346.9,467.5h.01M292.9,474.3h.01M308.1,451.5h.01M367.8,516.7h.01M365.9,455.9h.01" stroke="#3f4888"/>
<path d="M299.2,458.4h.01M314.5,514.7h.01M294.9,491.5h.01M350.3,482.8h.01M321.9,500.0h.01M294.3,486.9h.01M349.2,470.2h.01M300.7,464.1h.01M305.3,459.0h.01M304.8,453.0h.01M308.5,506.7h.01M351.1,465.5h.01M347.0,463.3h.01M293.7,460.1h.01M369.4,514.9h.01M347.7,496.1h.01M350.2,493.3h.01M372.8,454.6h.01M367.7,455.2h.01M375.1,454.7h.01M370.7,467.1h.01M372.3,467.5h.01" stroke="#45327d"/>
<path d="M296.5,468.2h.01M303.7,485.9h.01M311.0,453.6h.01M337.5,491.2h.01M318.6,460.1h.01M339.0,512.9h.01M338.0,507.7h.01M316.7,491.0h.01M323.3,451.2h.01M305.3,491.8h.01M333.7,479.0h.01M326.9,460.0h.01M308.6,498.0h.01M307.5,467.9h.01M299.3,469.6h.01M327.7,475.7h.01M340.8,476.7h.01M316.4,518.9h.01M363.2,489.4h.01M358.9,512.0h.01M363.0,521.7h.01M363.5,502.0h.01M369.0,463.8h.01" stroke="#375b8c"/>
<path d="M306.8,480.7h.01M310.3,466.3h.01M332.7,472.1h.01M314.2,468.4h.01M314.8,490.7h.01M337.5,516.7h.01M319.9,491.6h.01M308.4,485.5h.01M299.2,486.3h.01M329.5,486.7h.01M338.9,462.0h.01M315.9,508.5h.01M321.9,491.0h.01M329.8,509.9h.01M295.1,491.6h.01M336.9,468.7h.01M311.2,461.0h.01M303.6,464.9h.01M342.1,495.8h.01M310.3,455.0h.01M342.7,486.9h.01M334.8,461.3h.01M366.0,522.0h.01M353.7,507.3h.01M364.7,499.4h.01M360.9,517.3h.01M356.4,520.7h.01M349.7,495.8h.01" stroke="#4cc26c"/>
<path d="M346.6,471.3h.01M328.1,469.3h.01M313.0,492.0h.01M302.0,461.8h.01M344.6,461.7h.01M323.8,519.4h.01M312.0,483.9h.01M325.8,508.2h.01M318.5,469.7h.01M296.5,468.5h.01M342.4,504.9h.01M321.7,463.7h.01M304.4,460.8h.01M326.3,475.8h.01M338.8,520.2h.01M289.8,480.5h.01M302.1,500.8h.01M316.9,463.6h.01M308.2,493.5h.01M336.7,513.5h.01M312.9,492.6h.01M337.6,471.6h.01M313.2,494.1h.01M342.9,517.8h.01M343.6,512.9h.01M326.8,498.2h.01M298.6,454.7h.01M337.3,471.6h.01M297.6,492.6h.01M322.3,466.7h.01M335.4,479.1h.01M307.0,456.4h.01M304.0,467.7h.01M313.2,493.0h.01M326.5,479.3h.01M303.2,492.4h.01M323.6,519.9h.01M294.4,462.3h.01M322.1,458.1h.01M314.2,478.5h.01M318.1,477.1h.01M316.4,493.3h.01M316.1,498.9h.01M359.7,516.8h.01M352.2,485.8h.01M349.1,510.1h.01M369.0,522.3h.01M359.6,495.4h.01M349.7,488.3h.01" stroke="#4cc26c"/>
<path d="M342.2,501.9h.01M319.7,485.8h.01M311.2,469.5h.01M330.5,516.9h.01M305.0,471.6h.01M326.9,502.0h.01M315.5,475.6h.01M297.2,488.8h.01M292.8,469.5h.01M297.4,488.8h.01M312.4,481.6h.01M320.1,475.3h.01M321.8,466.1h.01M339.2,480.5h.01M315.1,483.0h.01M342.8,504.8h.01M347.2,483.2h.01M322.4,473.5h.01M338.9,474.1h.01M333.4,522.7h.01M301.8,469.3h.01M303.7,484.1h.01M327.1,505.6h.01M311.9,497.4h.01M317.8,515.6h.01M312.8,485.1h.01M288.1,463.9h.01M329.0,516.6h.01M305.2,505.7h.01M320.4,493.7h.01M341.7,502.6h.01M320.7,462.3h.01M336.9,464.3h.01M297.3,483.1h.01M300.4,482.2h.01M312.9,461.9h.01M290.8,458.9h.01M321.6,487.1h.01M341.0,475.0h.01M304.2,474.7h.01M302.9,487.9h.01M314.0,493.4h.01M317.9,504.6h.01M320.9,508.9h.01M326.2,458.3h.01M304.0,452.3h.01M294.0,469.8h.01M309.0,466.6h.01M332.5,468.5h.01M308.0,482.8h.01M305.1,456.8h.01M303.9,477.5h.01M335.0,510.0h.01M314.3,476.1h.01M305.7,492.2h.01M331.3,475.8h.01M308.4,472.7h.01M343.6,481.3h.01M329.0,474.4h.01M336.5,506.7h.01M303.1,468.5h.01M321.0,516.2h.01M327.4,515.6h.01M312.4,507.9h.01M305.8,454.8h.01M315.7,491.2h.01M335.1,523.0h.01M320.2,503.5h.01M294.7,476.3h.01M291.6,463.0h.01M320.2,516.1h.01M306.5,469.3h.01M346.7,491.2h.01M294.6,456.8h.01M337.7,481.8h.01M357.8,504.3h.01M365.2,510.3h.01M367.2,516.6h.01M351.5,519.0h.01M351.5,498.0h.01M347.4,506.7h.01M370.8,521.2h.01M365.3,494.7h.01M352.1,492.0h.01M359.8,517.6h.01M361.9,497.5h.01M356.2,485.6h.01M367.4,517.8h.01M366.4,505.8h.01M368.1,517.4h.01" stroke="#21918c"/>
<path d="M309.9,461.0h.01M344.1,470.9h.01M314.2,499.6h.01M312.1,451.9h.01M296.4,461.0h.01M340.7,487.6h.01M292.6,467.7h.01M338.0,490.8h.01M320.3,487.2h.01M342.5,505.5h.01M319.1,490.9h.01M323.7,493.2h.01M344.0,466.9h.01M333.4,520.5h.01M297.4,453.6h.01M339.0,516.7h.01M305.9,456.0h.01M322.5,467.0h.01M297.7,470.8h.01M295.1,486.3h.01M322.3,477.9h.01M331.6,523.1h.01M330.0,482.0h.01M296.7,466.7h.01M315.5,467.4h.01M305.5,467.3h.01M314.3,452.2h.01M300.2,498.5h.01M308.4,481.2h.01M329.3,500.3h.01M315.3,488.3h.01M330.8,460.4h.01M294.4,471.3h.01M350.3,466.0h.01M322.9,489.3h.01M345.3,488.9h.01M307.8,480.0h.01M345.3,495.2h.01M291.9,478.6h.01M311.9,500.1h.01M341.5,514.8h.01M312.2,494.1h.01M334.1,488.9h.01M327.1,515.3h.01M317.9,496.3h.01M317.5,500.8h.01M305.6,490.5h.01M295.5,471.3h.01M333.4,511.3h.01M326.4,475.7h.01M334.1,495.2h.01M321.3,491.0h.01M302.3,472.1h.01M300.6,489.8h.01M334.3,474.9h.01M315.1,473.4h.01M323.8,495.4h.01M339.8,460.9h.01M309.9,467.7h.01M313.8,497.5h.01M303.0,490.4h.01M322.1,523.5h.01M361.6,512.6h.01M367.0,497.6h.01M350.1,509.8h.01M355.4,516.6h.01M370.4,518.4h.01M353.9,508.5h.01M347.0,494.5h.01M369.1,514.2h.01M366.7,512.0h.01M355.4,499.5h.01M354.6,522.4h.01M365.3,512.1h.01M355.9,517.6h.01M366.7,497.9h.01M358.4,519.5h.01M360.7,500.1h.01M354.0,491.0h.01M350.5,508.1h.01M348.1,491.5h.01M362.1,513.3h.01M366.2,518.3h.01M354.7,495.9h.01M356.7,513.3h.01M360.8,511.1h.01M352.9,485.6h.01M347.2,499.6h.01M358.7,462.8h.01M339.0,464.4h.01" stroke="#2f6d8e"/>
<path d="M305.5,481.0h.01M317.9,463.4h.01M322.8,501.4h.01M330.5,487.9h.01M338.1,510.3h.01M342.9,511.4h.01M330.7,500.5h.01M340.3,495.7h.01M304.8,469.5h.01M331.0,517.9h.01M339.4,497.8h.01M306.9,475.9h.01M344.1,482.0h.01M332.4,464.9h.01M342.3,490.6h.01M309.1,492.0h.01M344.3,461.7h.01M319.1,463.1h.01M322.9,516.5h.01M328.1,464.9h.01M330.5,485.1h.01M338.8,484.4h.01M338.6,483.5h.01M303.6,452.6h.01M335.5,508.4h.01M349.6,487.1h.01M304.7,474.1h.01M335.3,487.0h.01M334.0,519.1h.01M314.6,506.6h.01M325.3,459.0h.01M346.1,469.7h.01M307.0,468.0h.01M322.3,470.0h.01M331.3,508.2h.01M331.9,465.5h.01M311.5,456.0h.01M291.5,460.5h.01M320.5,471.1h.01M336.5,464.4h.01M338.0,480.2h.01M313.9,505.8h.01M354.1,466.4h.01M334.3,470.1h.01M353.0,471.2h.01M338.4,505.2h.01M339.8,485.2h.01M321.7,520.6h.01M333.3,475.2h.01M311.9,503.6h.01M329.4,465.6h.01M309.7,499.2h.01M330.9,463.3h.01M345.3,492.2h.01M307.3,452.9h.01M334.3,479.0h.01M325.8,498.7h.01M302.5,492.2h.01M336.9,515.5h.01M330.9,490.2h.01M342.8,488.6h.01M323.4,467.4h.01M339.6,478.0h.01M295.8,466.2h.01M339.4,491.8h.01M358.1,522.0h.01M363.4,513.4h.01M354.9,522.8h.01M348.4,505.1h.01M359.9,511.7h.01M362.0,512.7h.01M365.0,518.2h.01M363.9,509.2h.01M362.0,514.8h.01M345.7,488.5h.01M346.4,502.6h.01M333.3,476.1h.01" stroke="#2f6d8e"/>
<path d="M327.3,479.3h.01M291.8,465.1h.01M304.4,492.6h.01M327.5,483.7h.01M345.4,485.5h.01M310.5,509.5h.01M352.4,469.1h.01M296.8,476.6h.01M338.0,483.3h.01M330.3,500.0h.01M345.4,471.6h.01M343.2,498.4h.01M296.1,468.1h.01M290.2,463.3h.01M340.8,492.9h.01M344.6,488.6h.01M333.6,516.4h.01M313.4,481.0h.01M335.5,494.2h.01M319.6,465.1h.01M294.9,473.9h.01M345.5,496.6h.01M350.2,485.3h.01M328.3,514.0h.01M295.2,466.5h.01M341.6,502.6h.01M327.6,456.3h.01M337.0,466.2h.01M335.9,509.8h.01M298.5,472.1h.01M309.9,484.1h.01M316.3,489.2h.01M333.7,470.0h.01M323.9,521.1h.01M337.6,490.8h.01M305.7,482.1h.01M325.0,490.6h.01M329.4,518.8h.01M301.5,481.3h.01M314.1,492.9h.01M355.4,470.0h.01M351.8,465.1h.01M345.5,499.8h.01M356.8,524.1h.01M355.4,515.0h.01M360.4,518.4h.01M367.3,507.3h.01M347.6,492.5h.01M366.8,506.0h.01M371.3,515.1h.01M356.7,485.8h.01M351.2,510.8h.01M362.4,522.3h.01M347.0,486.2h.01M364.3,485.0h.01" stroke="#31b27b"/>
<path d="M309.2,493.4h.01M332.1,523.8h.01M346.2,509.8h.01M304.9,450.8h.01M338.3,468.5h.01M297.8,468.6h.01M332.1,506.8h.01M308.8,451.3h.01M309.6,476.7h.01M304.7,468.0h.01M328.6,496.0h.01M309.1,464.9h.01M312.6,464.4h.01M315.4,512.9h.01M316.5,493.2h.01M322.5,497.6h.01M311.5,502.3h.01M321.4,509.2h.01M339.4,497.9h.01M306.5,479.5h.01M344.9,476.2h.01M328.3,519.7h.01M312.6,497.8h.01M317.1,516.0h.01M334.7,517.9h.01M328.7,475.4h.01M341.2,481.5h.01M328.3,506.3h.01M318.7,475.1h.01M302.9,453.9h.01M343.3,474.7h.01M304.8,481.2h.01M329.8,484.7h.01M340.3,493.4h.01M314.1,473.7h.01M300.3,472.4h.01M326.5,486.8h.01M329.0,521.3h.01M300.8,470.9h.01M314.1,498.8h.01M338.1,502.9h.01M298.8,464.5h.01M291.7,476.4h.01M291.8,470.7h.01M300.4,497.3h.01M326.6,496.6h.01M319.8,492.8h.01M332.2,464.4h.01M289.6,459.7h.01M339.8,497.7h.01M313.6,467.7h.01M336.6,479.1h.01M336.6,471.7h.01M322.8,481.1h.01M291.2,472.4h.01M326.2,461.2h.01M359.7,479.4h.01M361.0,524.5h.01M360.9,502.7h.01M358.5,498.7h.01M350.2,488.3h.01M351.3,514.5h.01M351.0,491.4h.01M362.5,518.9h.01M363.8,501.9h.01M354.5,511.3h.01M348.6,508.2h.01M365.4,503.1h.01M362.9,507.7h.01M360.0,513.1h.01M367.4,516.7h.01M362.4,491.8h.01M364.6,519.4h.01M363.3,519.5h.01M365.9,521.2h.01M359.2,510.8h.01M355.8,522.2h.01M365.1,515.3h.01M363.0,494.8h.01M345.7,500.6h.01M371.5,466.5h.01M365.3,483.1h.01M330.3,477.0h.01" stroke="#2f6d8e"/>
<path d="M323.9,460.6h.01M326.1,520.1h.01M354.7,469.1h.01M328.8,490.7h.01M312.4,506.8h.01M298.3,461.3h.01M330.0,513.1h.01M327.6,473.5h.01M353.7,519.1h.01M361.4,521.3h.01M367.6,496.9h.01M347.1,492.0h.01M351.4,493.9h.01M347.9,498.2h.01M364.7,455.5h.01" stroke="#3f4888"/>
<path d="M368.9,458.1h.01" stroke="#440154"/>
<path d="M323.1,484.4h.01M299.2,461.8h.01M322.2,496.7h.01M322.3,465.0h.01M311.6,474.1h.01M326.6,469.2h.01M302.9,452.6h.01M345.3,474.7h.01M345.5,514.2h.01M333.6,464.4h.01M290.4,472.9h.01M338.4,511.6h.01M307.7,502.7h.01M352.9,500.5h.01M342.6,472.4h.01" stroke="#a0d938"/>
<path d="M324.5,477.0h.01M316.8,511.4h.01M300.1,493.1h.01M298.1,486.2h.01M299.5,485.0h.01M315.0,486.1h.01M288.9,474.4h.01M306.2,459.4h.01M343.9,469.0h.01M322.3,512.0h.01M303.5,452.0h.01M318.6,472.2h.01M295.2,461.2h.01M334.5,464.5h.01M320.3,510.8h.01M319.3,461.8h.01M337.9,510.5h.01M292.2,475.9h.01M295.0,476.3h.01M343.5,462.7h.01M341.8,488.7h.01M335.6,513.7h.01M317.7,503.8h.01M345.9,510.3h.01M335.7,486.9h.01M295.0,465.1h.01M350.0,481.8h.01M309.2,496.6h.01M330.4,480.2h.01M312.1,453.9h.01M294.6,460.4h.01M332.6,508.8h.01M344.2,508.4h.01M314.2,508.4h.01M326.6,471.5h.01M351.7,467.2h.01M342.0,484.0h.01M341.7,461.4h.01M344.8,489.0h.01M329.7,502.5h.01M314.5,491.1h.01M322.9,457.9h.01M327.7,521.3h.01M308.1,454.6h.01M290.9,467.9h.01M336.2,499.7h.01M334.3,483.1h.01M317.9,514.1h.01M311.1,506.7h.01M347.8,489.9h.01M326.7,472.3h.01M315.1,464.6h.01M343.3,515.0h.01M329.8,503.7h.01M320.3,498.6h.01M297.9,462.9h.01M319.3,497.5h.01M301.5,492.3h.01M310.6,488.4h.01M299.0,504.9h.01M309.3,514.9h.01M292.1,490.9h.01M354.3,499.0h.01M368.6,503.5h.01M360.3,512.5h.01M355.8,486.7h.01M350.0,492.3h.01M353.8,492.1h.01M369.1,511.5h.01M357.7,488.6h.01M357.1,508.1h.01M357.5,500.1h.01M369.7,518.9h.01M365.3,494.7h.01M353.6,516.0h.01M346.5,499.4h.01M371.1,468.0h.01M340.0,465.7h.01M342.3,474.8h.01" stroke="#21918c"/>
<path d="M331.5,477.5h.01M327.9,499.2h.01M332.0,482.8h.01M324.8,503.2h.01M311.8,468.0h.01M325.5,503.0h.01M322.1,514.8h.01M290.8,460.6h.01M319.5,450.7h.01M312.6,450.5h.01M343.5,467.5h.01M309.2,468.7h.01M347.6,494.1h.01M362.4,520.7h.01M350.0,513.2h.01M367.7,460.3h.01M364.6,483.9h.01" stroke="#375b8c"/>
<path d="M330.8,520.4h.01M301.2,465.0h.01M322.1,489.4h.01M335.7,515.1h.01M318.8,475.0h.01M293.8,479.5h.01M326.0,496.5h.01M319.7,458.5h.01M349.0,464.6h.01M307.3,453.4h.01M314.3,466.4h.01M344.2,507.4h.01M326.6,477.5h.01M295.6,489.3h.01M315.3,469.4h.01M331.0,501.4h.01M331.0,471.1h.01M309.6,481.3h.01M289.1,468.9h.01M300.8,472.2h.01M314.6,465.5h.01M333.4,512.4h.01M310.4,473.4h.01M326.3,469.0h.01M321.1,454.2h.01M336.0,511.4h.01M313.5,500.8h.01M316.7,493.5h.01M305.1,452.5h.01M305.2,476.0h.01M339.5,519.8h.01M335.7,464.3h.01M324.1,454.9h.01M341.7,513.1h.01M305.9,498.0h.01M343.7,472.4h.01M343.0,461.6h.01M333.2,475.9h.01M313.0,511.7h.01M310.9,482.4h.01M301.1,456.0h.01M295.5,463.2h.01M336.3,481.5h.01M296.1,477.5h.01M293.2,463.0h.01M317.1,514.5h.01M336.0,466.0h.01M313.1,475.1h.01M317.9,486.4h.01M334.4,491.0h.01M342.7,464.6h.01M358.2,505.9h.01M358.4,521.2h.01M355.8,486.6h.01M362.7,517.6h.01M364.1,512.6h.01M365.9,499.9h.01M352.1,519.2h.01M366.6,498.4h.01M364.4,513.8h.01M364.4,510.0h.01M354.4,521.6h.01M346.6,496.8h.01M357.9,510.4h.01M371.4,517.4h.01M370.1,510.4h.01M371.3,513.4h.01M358.4,509.6h.01M364.7,517.2h.01M353.2,509.9h.01M372.8,465.7h.01" stroke="#277f8d"/>
<path d="M374.2,456.4h.01" stroke="#440154"/>
<path d="M311.7,490.6h.01M346.9,465.8h.01M332.0,472.4h.01M312.2,480.8h.01M313.1,487.3h.01M331.7,483.6h.01M312.6,491.8h.01M344.1,488.3h.01M334.4,511.3h.01M346.2,502.1h.01M368.0,458.8h.01M372.9,461.3h.01M369.7,467.2h.01M367.1,459.4h.01" stroke="#45327d"/>
<path d="M305.6,477.1h.01M332.5,509.4h.01M298.8,481.9h.01M301.5,487.4h.01M315.2,479.1h.01M333.1,505.1h.01M343.9,510.6h.01M338.0,463.7h.01M309.0,504.1h.01M316.0,498.9h.01M328.8,484.1h.01M361.9,499.0h.01" stroke="#a0d938"/>
<path d="M296.2,466.4h.01M320.2,499.3h.01M293.2,483.2h.01M305.5,501.4h.01M339.2,485.4h.01M300.7,485.1h.01M311.2,511.8h.01M337.4,497.7h.01M334.6,501.4h.01M303.2,452.2h.01M310.9,481.1h.01M309.4,470.3h.01M320.8,453.7h.01M330.7,472.5h.01M341.8,519.1h.01M330.9,479.1h.01M341.4,503.1h.01M310.7,505.6h.01M305.9,497.6h.01M344.0,516.2h.01M338.0,482.2h.01M301.1,497.3h.01M309.5,481.8h.01M330.8,502.6h.01M298.4,469.9h.01M309.0,467.8h.01M324.1,510.6h.01M300.6,463.3h.01M318.6,478.5h.01M310.6,510.5h.01M344.0,502.3h.01M323.0,481.1h.01M300.9,483.0h.01M345.2,493.1h.01M345.7,479.1h.01M298.8,451.9h.01M315.3,514.2h.01M295.9,486.1h.01M335.3,473.9h.01M321.0,514.2h.01M304.7,508.2h.01M358.0,516.9h.01M358.8,495.4h.01M361.6,495.4h.01M352.2,489.8h.01M353.2,485.2h.01M362.3,524.5h.01M354.0,499.8h.01M355.7,507.6h.01M350.0,494.3h.01M354.3,486.9h.01M363.5,524.5h.01" stroke="#31b27b"/>
<path d="M348.1,474.2h.01M316.5,501.8h.01M366.6,459.0h.01M365.3,456.7h.01M363.8,457.3h.01M369.7,469.2h.01" stroke="#45327d"/>
<path d="M308.6,467.1h.01M321.6,478.2h.01M321.1,451.6h.01M295.8,463.8h.01M320.2,457.7h.01M335.5,504.7h.01M331.1,484.3h.01M319.8,471.7h.01M331.7,521.1h.01M343.2,515.7h.01M344.4,473.6h.01M304.1,452.8h.01M317.8,463.9h.01M345.4,513.5h.01M304.4,467.2h.01M318.8,482.9h.01M329.1,514.2h.01M334.2,473.7h.01M313.2,499.4h.01M353.4,501.7h.01M346.4,500.7h.01" stroke="#cfe126"/>
<path d="M371.5,460.3h.01M368.7,455.2h.01M372.9,461.6h.01M375.4,460.2h.01M371.7,460.9h.01M365.9,460.7h.01M367.4,463.2h.01M369.9,461.9h.01" stroke="#471a6c"/>
<path d="M297.6,458.5h.01M318.8,472.1h.01M299.8,467.0h.01M303.2,488.3h.01M310.1,488.4h.01M333.0,460.4h.01M291.1,464.8h.01M311.5,451.1h.01M297.3,475.4h.01M311.1,456.5h.01M349.2,485.0h.01M308.4,484.1h.01M300.9,476.9h.01M288.4,474.1h.01M335.4,512.8h.01M302.2,496.2h.01M312.6,510.7h.01M307.1,503.1h.01M315.1,508.7h.01M297.4,494.7h.01M316.6,466.8h.01M332.7,468.4h.01M334.5,519.2h.01M323.8,507.2h.01M343.3,492.6h.01M350.8,483.0h.01M343.4,514.4h.01M326.9,470.1h.01M297.9,453.0h.01M321.5,450.9h.01M347.6,469.6h.01M309.7,502.8h.01M344.4,519.7h.01M314.4,481.1h.01M295.9,494.0h.01M347.5,482.5h.01M318.7,483.9h.01M315.2,491.6h.01M327.1,480.4h.01M336.2,469.2h.01M335.7,468.2h.01M295.1,486.2h.01M317.5,463.9h.01M304.6,460.0h.01M324.1,468.5h.01M299.3,476.6h.01M306.4,487.0h.01M331.1,497.1h.01M298.4,460.3h.01M347.4,469.6h.01M306.4,462.9h.01M313.8,511.8h.01M313.8,451.0h.01M313.2,453.0h.01M346.5,468.9h.01M319.5,486.2h.01M314.6,452.2h.01M307.6,475.7h.01M296.7,499.5h.01M362.8,489.9h.01M348.8,494.2h.01M354.2,489.9h.01M357.2,493.1h.01M349.7,494.6h.01M366.4,497.8h.01M346.5,506.5h.01M355.7,495.0h.01M350.6,511.8h.01M349.1,504.9h.01M356.4,487.6h.01M352.1,516.0h.01M348.8,487.1h.01M374.5,458.8h.01M365.9,460.4h.01M373.8,457.6h.01M331.7,475.2h.01M340.5,475.6h.01" stroke="#277f8d"/>
<path d="M323.1,475.0h.01M301.2,501.4h.01M324.7,514.1h.01M329.4,478.0h.01M315.8,460.4h.01" stroke="#fde725"/>
<path d="M337.0,470.2h.01M373.2,456.7h.01M363.7,456.7h.01M374.6,456.6h.01M375.1,456.1h.01M365.8,462.2h.01" stroke="#471a6c"/>
<path d="M343.9,481.9h.01M301.2,459.2h.01M334.2,472.0h.01M306.9,458.8h.01M315.5,459.9h.01M314.4,456.1h.01M345.3,471.8h.01M334.9,461.9h.01M308.1,492.3h.01M332.2,479.9h.01M345.6,508.2h.01M355.4,504.4h.01M349.7,496.2h.01M359.4,523.2h.01M347.7,504.1h.01M374.9,454.3h.01M372.3,460.3h.01" stroke="#375b8c"/>
<path d="M347.8,473.1h.01M338.7,472.4h.01M311.0,470.0h.01M319.7,460.5h.01M327.5,516.6h.01M350.7,465.1h.01M344.1,459.5h.01M354.3,467.8h.01M374.7,454.2h.01M371.8,465.6h.01M366.0,456.0h.01M368.7,455.5h.01M368.2,463.3h.01M371.2,456.6h.01M366.2,460.1h.01M370.4,463.8h.01M364.6,457.0h.01M370.7,460.0h.01" stroke="#471a6c"/>
<path d="M318.7,489.5h.01M325.7,482.6h.01M336.8,515.3h.01M344.4,513.5h.01M303.7,485.2h.01M337.0,496.4h.01M294.5,462.4h.01M318.4,458.1h.01M289.6,463.8h.01" stroke="#fde725"/>
</g>
<text x="333.00" y="442.20" font-size="10" text-anchor="middle" fill="#1a1a1a" textLength="14.50" lengthAdjust="spacingAndGlyphs" stroke="#1a1a1a" stroke-width="0.22" >ERG</text>
<g transform="translate(351.0,270.9) scale(0.512,0.538)" filter="url(#bl)" opacity="0.7"><path d="M87.50,345.00 L91.50,340.80 L96.50,337.80 L102.50,334.50 L110.40,331.70 L119.00,331.50 L127.70,332.70 L135.00,331.50 L143.00,331.70 L149.00,333.50 L154.60,337.00 L158.50,342.50 L161.50,348.00 L166.00,350.50 L170.00,351.50 L179.00,352.00 L187.00,352.30 L194.60,353.00 L199.50,355.50 L204.20,358.50 L210.00,361.50 L215.80,365.40 L212.00,369.50 L208.00,373.00 L203.00,377.00 L198.50,380.80 L202.00,384.50 L206.20,388.50 L208.00,394.00 L204.00,402.00 L198.50,410.00 L195.00,420.00 L194.00,430.00 L195.00,438.00 L196.50,446.00 L196.00,456.00 L193.00,465.00 L186.00,467.50 L179.20,469.00 L169.60,472.30 L162.00,472.00 L155.50,470.00 L144.50,464.50 L129.20,452.00 L117.50,440.50 L108.00,431.00 L96.50,417.50 L90.70,406.00 L83.50,392.00 L80.60,382.70 L79.60,363.50 L81.50,350.00Z" fill="#35708c"/><path d="M208.00,394.00 L215.00,396.50 L223.50,402.00 L229.00,405.50 L233.00,409.60 L236.50,414.00 L238.80,419.20 L240.80,428.50 L242.50,438.00 L243.70,447.70 L245.00,455.00 L245.60,463.00 L243.50,469.00 L238.80,472.70 L231.00,474.00 L223.50,473.70 L213.80,470.80 L206.20,465.00 L203.00,461.00 L201.00,455.00 L202.00,448.00 L199.00,442.00 L195.00,437.00 L192.00,428.00 L193.00,415.00 L198.50,407.00Z" fill="#35708c"/><path d="M227.30,344.20 L236.00,341.50 L245.00,340.00 L252.30,339.40 L254.20,345.00 L253.50,351.00 L249.00,358.00 L244.50,364.00 L240.80,366.30 L237.00,362.00 L233.50,357.50 L231.00,353.80 L228.50,349.00Z" fill="#3f3f86"/></g>
<g fill="none" stroke-width="3.6" stroke-linecap="round" opacity="0.85">
<path d="M428.2,518.8h.01M436.3,523.1h.01M440.4,486.9h.01M405.3,463.3h.01M401.7,481.7h.01M436.1,513.8h.01" stroke="#72ce55"/>
<path d="M443.9,485.4h.01M447.6,511.4h.01M397.5,469.5h.01M421.2,468.9h.01M402.4,479.1h.01M402.1,453.6h.01M393.1,474.1h.01M436.7,482.8h.01M399.3,478.4h.01M449.3,488.6h.01M414.2,481.8h.01M452.3,469.6h.01M411.6,458.8h.01M419.2,491.1h.01M434.5,509.9h.01M426.4,520.6h.01M447.7,461.6h.01M399.8,491.6h.01M435.6,463.3h.01M440.1,479.1h.01M404.0,476.6h.01M424.5,492.8h.01M428.6,521.1h.01M413.2,506.7h.01M413.1,472.7h.01M443.0,518.5h.01M398.4,460.1h.01M465.0,512.5h.01M457.9,489.4h.01M467.7,521.7h.01M451.1,500.7h.01M467.6,507.7h.01M465.9,525.0h.01M455.0,494.0h.01M450.4,488.5h.01M476.5,465.6h.01M473.6,458.1h.01M479.2,458.8h.01M479.8,456.1h.01M476.2,466.5h.01" stroke="#3f4888"/>
<path d="M414.6,461.0h.01M410.2,481.0h.01M448.6,481.9h.01M449.1,513.5h.01M426.4,463.7h.01M409.4,468.0h.01M437.1,464.9h.01M421.6,498.9h.01M401.2,481.8h.01M441.2,469.5h.01M410.6,497.6h.01M435.7,501.4h.01M421.3,466.8h.01M440.7,511.4h.01M417.3,491.8h.01M423.2,461.6h.01M427.0,466.7h.01M414.4,499.2h.01M417.2,487.0h.01M422.5,463.9h.01M438.8,495.2h.01M450.4,479.1h.01M436.9,464.4h.01M402.9,468.5h.01M441.2,485.7h.01M425.7,514.2h.01M452.1,506.7h.01M474.2,504.3h.01M468.6,509.2h.01M463.4,508.2h.01M456.5,498.2h.01M462.4,518.2h.01M467.8,513.6h.01M473.7,522.3h.01M465.6,517.3h.01M452.4,504.1h.01M468.2,502.0h.01M454.4,488.3h.01M451.7,486.2h.01" stroke="#cfe126"/>
<path d="M409.1,492.6h.01M418.9,499.6h.01M409.4,470.4h.01M432.5,516.3h.01M424.4,458.5h.01M426.5,466.1h.01M433.5,490.7h.01M442.7,507.7h.01M427.5,453.7h.01M426.9,518.3h.01M442.7,482.2h.01M419.8,508.7h.01M417.5,485.1h.01M445.6,517.9h.01M441.8,467.8h.01M418.9,508.4h.01M444.2,519.8h.01M441.6,464.3h.01M450.2,496.6h.01M438.3,465.5h.01M433.0,514.0h.01M443.6,462.0h.01M443.1,505.2h.01M418.8,473.7h.01M446.4,513.1h.01M399.2,477.6h.01M420.6,508.5h.01M441.5,476.1h.01M407.0,472.1h.01M425.0,461.5h.01M396.5,474.9h.01M434.5,503.7h.01M429.4,493.6h.01M421.9,457.5h.01M440.1,483.2h.01M398.8,484.4h.01M464.6,487.0h.01M460.5,486.7h.01M454.7,492.3h.01M472.1,517.4h.01M465.5,501.6h.01M471.6,500.9h.01M466.9,495.0h.01M465.1,518.4h.01M465.9,518.3h.01M454.7,513.2h.01M468.3,503.2h.01M455.6,499.8h.01M467.1,522.3h.01M451.1,502.6h.01M474.4,469.2h.01M477.0,460.3h.01" stroke="#277f8d"/>
<path d="M440.1,494.0h.01M419.2,514.7h.01M432.8,469.3h.01M430.5,508.2h.01M401.5,476.6h.01M425.3,500.7h.01M439.2,464.5h.01M432.1,474.1h.01M449.0,461.7h.01M443.5,484.4h.01M405.0,486.6h.01M440.0,487.0h.01M427.5,497.4h.01M429.4,514.1h.01M436.0,508.2h.01M448.9,508.4h.01M417.6,492.6h.01M433.7,472.7h.01M431.6,470.1h.01M450.8,509.9h.01M430.4,509.2h.01M456.4,467.2h.01M435.5,460.4h.01M403.1,469.9h.01M440.4,464.3h.01M432.0,488.7h.01M408.9,474.7h.01M413.3,498.0h.01M416.6,500.1h.01M402.3,492.6h.01M420.1,454.6h.01M422.8,512.1h.01M403.5,464.5h.01M396.4,476.4h.01M443.0,520.4h.01M405.3,489.8h.01M402.6,462.9h.01M412.8,451.5h.01M418.9,478.5h.01M428.2,485.3h.01M396.3,463.0h.01M411.2,469.3h.01M450.4,466.7h.01M465.6,516.6h.01M467.9,489.4h.01M461.7,518.9h.01M471.3,498.4h.01M452.3,492.5h.01M455.3,517.0h.01M466.4,521.0h.01M461.8,508.1h.01M455.3,511.8h.01M460.5,509.2h.01M470.6,459.9h.01M470.6,460.4h.01M478.5,457.6h.01M435.0,477.0h.01M435.7,473.7h.01" stroke="#45327d"/>
<path d="M394.9,482.1h.01M400.9,466.4h.01M432.0,479.3h.01M423.5,472.1h.01M448.8,470.9h.01M409.7,475.6h.01M441.5,515.3h.01M402.0,475.4h.01M399.9,461.2h.01M410.4,503.2h.01M420.1,512.9h.01M432.6,499.2h.01M432.8,464.9h.01M417.3,510.7h.01M429.3,465.9h.01M413.9,496.6h.01M429.5,503.2h.01M421.4,491.0h.01M433.0,519.7h.01M433.4,475.4h.01M428.0,451.2h.01M438.4,479.0h.01M409.9,476.0h.01M410.0,459.0h.01M425.4,462.3h.01M441.2,464.4h.01M434.4,502.5h.01M417.6,461.9h.01M458.8,466.4h.01M395.5,458.9h.01M422.1,487.4h.01M451.6,467.5h.01M430.6,486.4h.01M444.5,485.2h.01M431.2,486.8h.01M428.8,510.6h.01M399.2,462.4h.01M445.3,473.8h.01M423.5,459.5h.01M417.6,468.1h.01M450.5,476.0h.01M451.0,495.0h.01M443.7,511.5h.01M435.5,483.5h.01M402.1,491.7h.01M417.3,462.2h.01M417.7,490.8h.01M446.4,481.4h.01M412.7,482.8h.01M436.8,472.0h.01M428.8,468.5h.01M430.2,503.0h.01M419.3,462.5h.01M408.6,477.5h.01M397.6,474.3h.01M411.1,487.0h.01M433.4,468.9h.01M424.2,450.7h.01M445.7,472.8h.01M445.5,476.7h.01M414.6,467.7h.01M422.6,486.4h.01M406.2,453.6h.01M412.3,475.7h.01M421.1,518.9h.01M396.8,490.9h.01M456.5,465.1h.01M457.5,485.9h.01M458.8,488.9h.01M468.1,513.4h.01M456.9,489.8h.01M470.0,494.7h.01M460.6,517.6h.01M470.6,499.9h.01M456.8,492.0h.01M453.1,494.7h.01M470.0,494.7h.01M456.1,493.9h.01M450.4,500.6h.01M479.4,454.2h.01M468.5,457.3h.01M477.5,454.6h.01M469.4,455.5h.01" stroke="#45327d"/>
<path d="M410.2,501.4h.01M409.6,450.8h.01M447.9,498.4h.01M446.3,466.3h.01M427.6,516.5h.01M446.1,503.1h.01M454.7,481.8h.01M430.0,459.0h.01M395.8,472.1h.01M410.1,464.7h.01M455.0,466.0h.01M412.7,507.3h.01M442.8,502.9h.01M439.1,511.3h.01M443.2,487.7h.01M397.9,463.0h.01M448.3,481.3h.01M435.6,490.2h.01M428.1,467.4h.01M399.3,456.3h.01M458.5,492.1h.01M462.4,488.6h.01M461.8,512.3h.01M459.0,486.9h.01M461.1,520.7h.01M438.0,476.1h.01" stroke="#2f6d8e"/>
<path d="M396.5,465.1h.01M422.6,463.4h.01M435.9,509.5h.01M413.3,467.1h.01M442.1,497.7h.01M419.8,483.0h.01M407.9,452.2h.01M425.5,453.7h.01M424.5,471.7h.01M392.8,463.9h.01M434.0,500.3h.01M414.4,502.8h.01M449.1,519.7h.01M448.3,512.9h.01M429.6,518.7h.01M431.8,515.3h.01M437.9,475.9h.01M422.2,500.8h.01M417.1,465.1h.01M437.2,468.5h.01M420.4,455.2h.01M430.1,509.6h.01M448.0,515.0h.01M441.6,515.5h.01M426.8,458.1h.01M420.5,460.4h.01M401.4,499.5h.01M402.2,502.2h.01M453.5,494.2h.01M471.1,512.3h.01M472.3,517.0h.01M471.1,497.8h.01M464.7,513.1h.01M454.1,501.7h.01M457.6,485.6h.01M443.7,464.4h.01" stroke="#cfe126"/>
<path d="M394.3,470.5h.01M440.7,512.7h.01M427.4,485.9h.01M412.9,493.5h.01M397.8,456.2h.01M430.9,458.3h.01M398.7,469.8h.01M422.6,514.1h.01M449.2,516.4h.01M454.4,496.2h.01M458.1,501.7h.01M456.4,492.0h.01" stroke="#72ce55"/>
<path d="M406.7,461.8h.01M410.8,459.3h.01M409.5,469.5h.01M420.8,488.8h.01M416.9,511.0h.01M427.2,467.0h.01M400.8,468.1h.01M423.8,463.1h.01M446.5,519.1h.01M422.4,503.8h.01M402.1,494.7h.01M404.9,498.5h.01M413.1,485.5h.01M428.8,505.1h.01M431.0,469.0h.01M448.0,474.7h.01M426.3,487.1h.01M447.9,515.7h.01M412.2,467.9h.01M446.3,502.6h.01M445.0,493.4h.01M409.1,462.6h.01M431.3,496.6h.01M438.7,468.7h.01M405.1,491.1h.01M440.7,466.0h.01M439.1,477.1h.01M448.1,476.0h.01M444.3,478.0h.01M415.3,488.4h.01M433.3,463.1h.01M462.5,504.3h.01M467.4,517.6h.01M460.1,515.0h.01M458.7,499.8h.01M454.7,494.3h.01M461.1,487.6h.01M454.3,495.4h.01M472.1,463.2h.01M470.9,460.1h.01M469.3,457.0h.01M475.8,468.0h.01" stroke="#375b8c"/>
<path d="M430.1,515.6h.01M448.6,514.2h.01M434.5,460.8h.01M407.5,466.6h.01M435.2,516.9h.01M422.2,514.7h.01M428.6,467.5h.01M443.0,468.5h.01M455.6,468.9h.01M419.5,490.7h.01M420.0,469.4h.01M416.3,474.1h.01M421.6,463.6h.01M431.3,471.5h.01M439.4,517.9h.01M408.7,460.4h.01M403.9,486.3h.01M445.7,475.0h.01M431.6,480.9h.01M432.4,521.3h.01M416.6,503.6h.01M414.8,463.5h.01M414.6,484.1h.01M425.0,498.6h.01M407.2,492.2h.01M451.2,468.9h.01M395.9,473.1h.01M430.9,461.2h.01M443.9,486.8h.01M473.3,503.5h.01M471.5,502.7h.01M469.9,510.3h.01M459.0,519.2h.01M460.1,499.5h.01M463.9,505.3h.01M463.1,519.5h.01M466.6,514.1h.01M453.8,510.1h.01M476.0,513.4h.01M459.4,506.0h.01M451.9,499.6h.01" stroke="#21918c"/>
<path d="M429.2,477.0h.01M451.3,471.3h.01M432.2,483.7h.01M401.2,468.2h.01M417.7,492.0h.01M415.0,466.3h.01M448.6,504.9h.01M404.2,485.0h.01M425.2,520.0h.01M430.8,520.1h.01M426.4,512.0h.01M396.1,459.4h.01M403.2,483.0h.01M442.8,510.3h.01M405.6,456.5h.01M453.9,485.0h.01M423.8,490.9h.01M427.0,465.0h.01M438.1,520.5h.01M442.4,464.9h.01M428.9,506.0h.01M416.2,461.1h.01M405.4,464.1h.01M419.1,481.1h.01M413.4,501.2h.01M411.7,456.4h.01M417.9,493.0h.01M426.0,491.0h.01M400.8,477.5h.01M427.0,467.0h.01M418.5,511.8h.01M424.1,484.2h.01M427.5,511.2h.01M439.1,491.0h.01M429.2,477.6h.01M464.2,501.0h.01M457.5,499.4h.01M470.9,518.3h.01M472.1,517.8h.01M467.1,491.8h.01M473.6,522.5h.01M472.8,517.4h.01" stroke="#4cc26c"/>
<path d="M404.5,467.0h.01M415.7,453.6h.01M419.4,487.5h.01M428.2,500.6h.01M413.8,464.9h.01M443.5,520.2h.01M448.7,462.4h.01M445.5,492.9h.01M419.0,452.2h.01M438.7,519.1h.01M445.8,478.7h.01M412.5,480.0h.01M393.2,476.0h.01M442.0,471.6h.01M450.3,512.2h.01M417.3,470.7h.01M430.2,480.0h.01M403.5,451.9h.01M417.9,453.0h.01M458.9,489.9h.01M463.6,512.0h.01M464.6,511.7h.01M474.0,521.6h.01M476.0,515.1h.01M451.9,501.9h.01" stroke="#4cc26c"/>
<path d="M436.8,523.8h.01M399.3,476.8h.01M427.5,501.4h.01M457.1,469.1h.01M411.7,467.8h.01M426.9,489.6h.01M427.5,463.9h.01M412.8,504.8h.01M411.0,468.2h.01M436.7,472.4h.01M408.5,468.1h.01M448.8,482.0h.01M410.6,456.0h.01M408.4,480.8h.01M402.4,470.8h.01M405.9,459.2h.01M427.9,478.3h.01M447.2,469.5h.01M408.3,452.6h.01M416.0,460.3h.01M411.8,465.7h.01M406.8,500.8h.01M439.2,519.2h.01M413.7,504.1h.01M446.7,484.0h.01M418.6,505.8h.01M404.1,473.4h.01M435.6,494.7h.01M400.7,461.4h.01M405.1,497.3h.01M432.2,523.4h.01M397.0,485.9h.01M455.8,465.5h.01M417.1,507.9h.01M451.7,463.3h.01M450.3,508.2h.01M441.3,479.1h.01M447.5,488.6h.01M444.1,491.8h.01M447.4,464.6h.01M418.5,497.5h.01M400.2,493.6h.01M426.8,523.5h.01M459.0,467.8h.01M467.5,489.9h.01M466.3,512.6h.01M462.8,522.0h.01M466.8,516.4h.01M470.9,519.0h.01M460.4,495.0h.01M469.4,499.4h.01M464.3,495.4h.01M471.3,459.0h.01M474.0,456.0h.01M479.8,454.7h.01M475.9,456.6h.01M470.0,483.1h.01" stroke="#45327d"/>
<path d="M442.7,490.8h.01M409.9,461.9h.01M425.0,487.2h.01M431.5,515.9h.01M444.8,507.9h.01M439.9,497.0h.01M405.8,497.3h.01M416.2,456.0h.01M436.4,469.5h.01M415.6,482.4h.01M404.0,454.6h.01M418.3,467.7h.01M436.7,490.7h.01M407.7,495.4h.01M446.2,520.6h.01M471.7,497.6h.01M467.9,524.8h.01M455.2,508.1h.01M466.7,514.8h.01M464.6,518.2h.01M453.5,487.1h.01" stroke="#fde725"/>
<path d="M415.9,469.5h.01M428.9,507.8h.01M435.2,487.9h.01M426.7,463.0h.01M445.0,495.7h.01M413.1,484.1h.01M435.0,500.0h.01M423.0,482.4h.01M394.9,463.3h.01M435.2,485.1h.01M443.3,483.5h.01M411.8,503.1h.01M425.8,454.2h.01M418.2,500.8h.01M433.7,516.6h.01M448.9,485.3h.01M438.8,488.9h.01M429.0,478.5h.01M413.7,466.6h.01M401.4,470.3h.01M450.1,513.5h.01M439.7,510.0h.01M415.0,456.7h.01M428.3,519.9h.01M445.8,467.8h.01M406.2,492.3h.01M455.7,491.4h.01M461.6,515.2h.01M464.5,517.6h.01M463.5,501.7h.01M475.3,522.5h.01M452.8,491.5h.01" stroke="#31b27b"/>
<path d="M409.7,471.6h.01M411.3,453.3h.01M434.1,474.2h.01M409.9,494.4h.01M416.9,480.8h.01M396.9,475.9h.01M435.7,471.1h.01M441.4,491.0h.01M454.7,500.2h.01M456.0,514.5h.01M470.7,522.0h.01M461.9,493.1h.01M466.6,499.0h.01M459.3,522.4h.01M465.4,500.1h.01M471.6,519.1h.01M473.7,505.9h.01M475.7,462.9h.01" stroke="#22a186"/>
<path d="M428.4,515.0h.01M421.1,506.2h.01M399.6,491.5h.01M430.7,496.5h.01M402.1,488.8h.01M448.7,487.7h.01M400.5,463.8h.01M406.5,469.3h.01M435.8,484.3h.01M409.8,452.5h.01M450.0,474.7h.01M405.1,482.2h.01M420.2,459.9h.01M435.8,476.9h.01M407.6,487.9h.01M438.0,475.2h.01M445.0,511.7h.01M409.3,460.0h.01M449.1,473.6h.01M410.4,492.2h.01M430.9,507.2h.01M429.7,490.6h.01M441.7,470.2h.01M407.7,490.4h.01M465.9,483.0h.01M465.7,524.5h.01M458.4,519.1h.01M466.3,495.4h.01" stroke="#22a186"/>
<path d="M415.2,509.5h.01M440.9,497.2h.01M413.5,451.3h.01M443.7,516.7h.01M408.4,485.2h.01M399.0,486.9h.01M403.0,461.3h.01M409.4,474.1h.01M450.8,469.7h.01M428.5,507.2h.01M437.6,508.6h.01M425.1,493.7h.01M434.7,513.1h.01M423.4,483.9h.01M427.6,457.9h.01M428.2,511.1h.01M421.8,487.9h.01M447.4,486.9h.01M470.0,512.1h.01" stroke="#fde725"/>
<path d="M403.9,458.4h.01M442.2,491.2h.01M446.2,516.6h.01M453.1,485.2h.01M442.2,516.7h.01M424.9,457.7h.01M435.9,511.3h.01M421.8,497.3h.01M399.3,460.4h.01M430.5,469.4h.01M438.1,512.4h.01M431.3,469.2h.01M399.1,471.3h.01M424.0,490.6h.01M403.0,474.8h.01M432.4,475.7h.01M425.6,508.9h.01M417.0,463.6h.01M405.5,470.9h.01M418.8,498.8h.01M429.7,468.3h.01M423.5,482.9h.01M430.5,498.7h.01M452.1,469.6h.01M422.8,477.1h.01M417.9,499.4h.01M395.9,472.4h.01M464.4,479.4h.01M472.5,516.7h.01M467.2,518.9h.01M454.4,494.6h.01M466.6,497.5h.01M462.6,510.4h.01M457.6,500.5h.01M472.4,460.3h.01M472.4,455.2h.01" stroke="#471a6c"/>
<path d="M414.8,488.4h.01M430.3,518.8h.01M399.9,461.7h.01M415.9,511.8h.01M444.1,497.8h.01M451.6,465.8h.01M450.1,471.6h.01M399.8,486.3h.01M422.3,507.4h.01M418.1,481.0h.01M437.3,508.8h.01M422.6,496.3h.01M419.0,476.1h.01M447.0,514.8h.01M403.7,469.7h.01M463.5,495.4h.01M456.2,498.0h.01M466.7,512.7h.01M458.3,516.0h.01M464.1,523.2h.01M468.9,525.5h.01M479.3,456.6h.01M478.9,456.4h.01M469.3,483.9h.01" stroke="#2f6d8e"/>
<path d="M402.8,486.2h.01M449.1,465.4h.01M426.8,489.4h.01M445.4,487.6h.01M434.4,487.4h.01M420.2,475.6h.01M427.8,484.4h.01M435.7,517.9h.01M424.8,475.3h.01M415.8,456.5h.01M436.1,501.8h.01M411.6,475.9h.01M431.8,505.6h.01M416.8,453.9h.01M448.6,510.6h.01M409.9,505.7h.01M445.4,467.1h.01M406.2,463.2h.01M431.6,460.0h.01M402.5,492.4h.01M435.0,468.4h.01M440.6,509.8h.01M417.7,511.7h.01M439.6,461.9h.01M416.9,507.5h.01M420.0,514.2h.01M408.3,464.9h.01M424.9,503.5h.01M444.5,460.9h.01M412.4,502.7h.01M464.4,516.8h.01M462.9,505.9h.01M460.4,507.6h.01M472.7,458.8h.01M476.2,460.3h.01M476.4,460.9h.01M479.6,454.3h.01" stroke="#375b8c"/>
<path d="M427.8,495.8h.01M410.3,477.1h.01M430.9,506.4h.01M447.2,505.5h.01M428.4,493.2h.01M396.5,479.0h.01M438.0,478.0h.01M447.5,504.8h.01M422.7,462.9h.01M448.2,462.7h.01M440.3,513.7h.01M420.2,505.0h.01M448.0,497.0h.01M442.7,480.2h.01M452.2,482.5h.01M439.4,478.8h.01M441.6,468.7h.01M410.3,490.5h.01M448.7,502.3h.01M400.5,466.2h.01M420.8,498.9h.01M440.6,458.9h.01M471.9,516.6h.01M470.2,495.4h.01M462.2,500.1h.01M468.0,519.5h.01M446.2,474.2h.01" stroke="#4cc26c"/>
<path d="M425.0,510.8h.01M407.9,457.6h.01M444.1,497.9h.01M421.5,483.7h.01M424.6,491.6h.01M440.9,469.2h.01M449.7,507.6h.01M442.8,521.6h.01M412.5,467.1h.01M409.4,508.2h.01M469.1,513.8h.01M457.9,509.9h.01" stroke="#fde725"/>
<path d="M417.1,481.6h.01M447.8,470.8h.01M436.9,479.9h.01M462.7,516.9h.01M450.9,502.1h.01" stroke="#72ce55"/>
<path d="M450.1,485.5h.01M440.4,515.1h.01M413.6,476.3h.01M442.7,483.3h.01M412.0,453.4h.01M459.4,469.1h.01M438.2,518.7h.01M414.3,476.7h.01M443.7,512.9h.01M402.1,464.9h.01M442.6,510.5h.01M435.6,479.1h.01M424.6,512.4h.01M414.3,481.3h.01M419.9,479.1h.01M445.5,501.9h.01M435.6,468.4h.01M438.3,516.4h.01M437.4,477.2h.01M446.4,461.4h.01M442.3,471.6h.01M447.6,517.8h.01M393.8,460.1h.01M403.3,454.7h.01M408.7,452.3h.01M440.9,499.7h.01M427.8,482.9h.01M407.9,492.4h.01M424.0,497.5h.01M445.2,507.1h.01M429.0,480.2h.01M447.5,493.9h.01M454.9,488.3h.01M465.9,502.6h.01M452.3,494.1h.01M455.0,519.0h.01M476.1,517.4h.01M469.3,519.4h.01M469.4,517.2h.01M456.2,495.8h.01M465.5,511.1h.01M459.2,489.0h.01M456.8,516.0h.01M452.6,498.2h.01M451.2,499.4h.01M445.2,475.6h.01" stroke="#471a6c"/>
<path d="M421.5,511.4h.01M439.6,481.4h.01M392.7,469.4h.01M443.9,498.8h.01M415.6,481.1h.01M413.8,492.0h.01M417.3,464.4h.01M443.6,474.1h.01M421.2,501.8h.01M411.7,468.0h.01M449.1,471.6h.01M440.2,494.2h.01M439.1,465.6h.01M424.3,465.1h.01M432.2,516.6h.01M410.8,484.5h.01M403.1,471.3h.01M448.4,472.4h.01M420.7,498.9h.01M440.4,468.2h.01M436.2,463.1h.01M450.0,471.8h.01M427.7,481.1h.01M441.0,481.5h.01M415.9,461.0h.01M411.8,474.4h.01M428.3,489.1h.01M441.3,471.7h.01M420.0,452.7h.01M403.7,504.9h.01M452.9,507.7h.01M459.2,511.3h.01M455.9,487.9h.01M436.4,475.2h.01" stroke="#a0d938"/>
<path d="M397.2,456.5h.01M439.1,481.6h.01M411.5,480.7h.01M450.9,509.8h.01M410.9,459.4h.01M441.1,483.1h.01M451.9,483.2h.01M396.7,457.3h.01M444.3,461.5h.01M432.2,515.6h.01M394.7,460.8h.01M406.9,496.2h.01M442.0,515.4h.01M437.6,476.7h.01M448.4,515.9h.01M410.0,491.8h.01M423.4,475.1h.01M426.2,450.9h.01M423.0,488.2h.01M416.5,468.0h.01M449.4,505.1h.01M408.8,452.8h.01M426.3,487.0h.01M426.8,514.8h.01M433.8,514.2h.01M439.0,474.9h.01M416.6,486.7h.01M420.4,498.1h.01M432.3,473.5h.01M442.4,481.8h.01M450.2,499.8h.01M465.2,492.9h.01M460.1,504.4h.01M468.8,512.6h.01M470.1,503.1h.01M472.0,507.3h.01M475.1,514.8h.01M453.8,504.9h.01M444.7,465.7h.01" stroke="#31b27b"/>
<path d="M442.5,471.2h.01M397.3,467.7h.01M413.8,472.5h.01M405.4,485.1h.01M419.0,466.4h.01M407.7,480.8h.01M414.1,470.3h.01M407.3,477.2h.01M407.3,479.5h.01M440.1,512.8h.01M431.5,472.7h.01M435.5,476.2h.01M422.5,500.2h.01M448.4,514.3h.01M416.9,494.1h.01M441.7,466.2h.01M413.7,459.9h.01M408.7,467.7h.01M415.3,510.5h.01M400.2,471.3h.01M414.6,484.7h.01M435.5,519.5h.01M416.3,459.8h.01M436.1,475.4h.01M407.8,468.5h.01M417.8,475.1h.01M424.2,486.2h.01M438.6,500.1h.01M433.4,490.0h.01M469.0,485.0h.01" stroke="#22a186"/>
<path d="M446.9,501.9h.01M452.5,473.1h.01M419.3,479.5h.01M449.3,461.7h.01M408.9,493.5h.01M400.7,482.7h.01M419.7,486.1h.01M430.4,482.6h.01M444.5,471.3h.01M406.2,487.4h.01M406.8,493.1h.01M396.6,470.4h.01M420.6,510.3h.01M409.1,460.8h.01M428.2,461.7h.01M414.9,463.8h.01M399.1,481.0h.01M426.2,454.1h.01M436.4,519.4h.01M454.9,485.3h.01M450.0,488.9h.01M448.8,488.3h.01M450.2,493.4h.01M404.0,469.6h.01M431.1,475.7h.01M412.8,492.3h.01M400.2,463.2h.01M400.1,488.0h.01M430.5,463.3h.01M410.4,482.1h.01M420.4,491.2h.01M425.2,509.3h.01M428.5,486.8h.01M438.4,504.9h.01M455.4,465.1h.01M463.1,477.0h.01M460.1,470.0h.01M398.1,495.8h.01M456.1,514.8h.01M463.2,498.7h.01M471.4,512.0h.01M451.2,506.5h.01M455.4,486.9h.01M461.4,485.8h.01M473.4,455.2h.01" stroke="#277f8d"/>
<path d="M435.5,520.4h.01M398.3,457.3h.01M416.4,490.6h.01M437.7,460.4h.01M423.5,475.0h.01M439.6,523.0h.01M398.5,479.5h.01M432.6,489.2h.01M401.9,488.8h.01M430.6,479.1h.01M408.8,469.0h.01M418.2,474.9h.01M436.8,506.8h.01M452.3,491.1h.01M393.8,468.9h.01M408.4,484.1h.01M419.3,506.6h.01M453.2,488.6h.01M436.4,521.1h.01M446.4,502.6h.01M427.6,489.3h.01M423.1,458.1h.01M436.0,475.8h.01M410.1,451.4h.01M433.4,483.5h.01M434.1,518.8h.01M409.9,495.3h.01M407.6,460.3h.01M406.2,481.3h.01M446.8,495.8h.01M432.5,477.0h.01M431.2,473.8h.01M458.6,508.5h.01M451.7,494.5h.01M468.5,501.9h.01M473.8,511.5h.01M454.9,493.3h.01M465.7,512.8h.01M470.5,462.2h.01M475.4,467.1h.01M472.9,463.3h.01M475.1,463.8h.01" stroke="#3f4888"/>
<path d="M436.2,477.5h.01M424.9,499.3h.01M427.8,475.0h.01M447.1,504.9h.01M421.9,486.5h.01M427.1,473.5h.01M420.2,467.4h.01M448.7,516.2h.01M399.2,457.0h.01M405.5,472.2h.01M435.1,480.2h.01M411.2,479.5h.01M426.1,486.9h.01M424.5,491.7h.01M448.0,492.6h.01M455.5,483.0h.01M417.3,497.8h.01M435.6,480.9h.01M438.9,472.0h.01M402.0,483.1h.01M434.2,486.7h.01M417.9,494.1h.01M450.0,495.2h.01M426.7,482.8h.01M419.9,491.6h.01M426.6,491.0h.01M420.6,464.7h.01M399.8,486.2h.01M438.1,511.3h.01M423.5,470.5h.01M394.3,459.7h.01M444.0,511.1h.01M417.3,450.5h.01M419.8,473.4h.01M458.4,502.2h.01M459.0,499.0h.01M456.0,508.7h.01M461.5,524.1h.01M453.3,508.2h.01M453.1,505.1h.01M470.0,504.4h.01M472.3,496.9h.01M469.1,510.0h.01M464.8,504.7h.01M474.9,515.7h.01M470.7,456.0h.01M477.6,461.3h.01M474.4,467.2h.01" stroke="#471a6c"/>
<path d="M397.9,483.2h.01M416.8,451.9h.01M423.4,489.5h.01M393.6,474.4h.01M415.7,470.0h.01M417.6,473.6h.01M426.1,509.2h.01M416.2,511.8h.01M440.2,508.4h.01M436.4,483.6h.01M405.9,501.4h.01M449.2,479.8h.01M421.8,516.0h.01M450.2,514.2h.01M418.7,493.4h.01M422.6,504.6h.01M412.8,454.6h.01M411.8,479.8h.01M413.2,478.1h.01M395.6,467.9h.01M411.8,499.1h.01M394.3,463.8h.01M418.5,460.5h.01M435.8,497.1h.01M432.1,515.6h.01M399.1,462.3h.01M406.0,458.4h.01M440.0,473.9h.01M451.0,487.8h.01M418.5,451.0h.01M414.0,514.9h.01M453.8,505.9h.01M463.1,521.2h.01M458.4,507.3h.01M466.8,513.3h.01M437.3,473.2h.01" stroke="#a0d938"/>
<path d="M402.3,458.5h.01M444.9,492.5h.01M408.4,485.9h.01M401.1,461.0h.01M405.8,473.5h.01M439.3,501.4h.01M403.9,461.8h.01M436.4,517.6h.01M427.4,452.7h.01M436.1,476.5h.01M446.5,488.7h.01M454.3,487.1h.01M453.2,467.5h.01M419.3,465.5h.01M449.6,476.2h.01M408.4,460.1h.01M441.7,496.4h.01M413.1,481.2h.01M420.7,457.3h.01M436.6,465.5h.01M421.4,493.5h.01M451.9,486.0h.01M430.6,514.7h.01M404.9,457.4h.01M428.1,482.1h.01M434.1,465.6h.01M395.1,472.9h.01M452.5,489.9h.01M396.3,480.6h.01M441.2,506.7h.01M450.0,480.7h.01M451.4,491.2h.01M396.3,482.1h.01M456.8,519.2h.01M468.7,502.4h.01M455.0,493.7h.01M458.9,496.8h.01M454.4,495.8h.01" stroke="#31b27b"/>
<path d="M442.1,462.4h.01M395.8,464.8h.01M408.2,452.0h.01M442.5,465.0h.01M425.8,451.6h.01M439.0,463.5h.01M424.0,461.8h.01M426.0,467.3h.01M417.1,506.8h.01M434.7,482.0h.01M415.4,505.6h.01M438.1,522.7h.01M427.0,470.0h.01M409.5,481.2h.01M439.0,470.1h.01M400.6,494.0h.01M431.8,480.4h.01M409.0,478.8h.01M412.0,452.9h.01M430.0,506.4h.01M439.0,483.1h.01M409.8,456.8h.01M412.3,501.0h.01M415.3,451.2h.01M442.3,490.8h.01M403.1,460.3h.01M425.7,516.2h.01M438.9,473.7h.01M399.4,476.3h.01M424.9,516.1h.01M421.1,493.3h.01M436.5,458.4h.01M466.1,521.3h.01M475.5,521.2h.01M467.1,520.7h.01M454.6,514.5h.01M459.1,521.6h.01M461.4,513.3h.01M468.4,456.7h.01M473.4,455.5h.01M474.6,461.9h.01" stroke="#277f8d"/>
<path d="M430.0,454.4h.01M416.7,483.9h.01M432.4,517.2h.01M403.5,481.9h.01M435.4,500.5h.01M437.4,472.1h.01M418.0,474.5h.01M450.1,517.9h.01M421.2,493.2h.01M398.7,482.7h.01M399.7,476.3h.01M407.8,493.2h.01M413.6,472.1h.01M450.6,510.3h.01M401.0,484.2h.01M399.7,465.1h.01M416.5,469.5h.01M424.4,460.5h.01M434.7,496.5h.01M404.8,452.5h.01M445.9,481.5h.01M449.5,489.0h.01M434.1,478.0h.01M432.3,456.3h.01M427.6,490.2h.01M431.4,472.9h.01M450.0,492.2h.01M396.5,470.7h.01M403.2,472.1h.01M421.0,489.2h.01M409.1,467.2h.01M411.1,462.9h.01M439.8,523.0h.01M418.8,492.9h.01M422.9,515.2h.01M452.5,503.0h.01M468.1,506.9h.01M469.7,518.2h.01M471.5,506.0h.01M460.5,522.2h.01M467.7,494.8h.01" stroke="#cfe126"/>
<path d="M405.9,465.0h.01M437.2,509.4h.01M455.0,482.8h.01M416.2,451.1h.01M443.4,472.4h.01M454.3,471.3h.01M423.3,460.1h.01M405.6,476.9h.01M395.1,471.6h.01M400.3,489.3h.01M399.7,465.1h.01M446.1,502.9h.01M415.1,473.4h.01M395.1,458.6h.01M442.7,463.7h.01M441.4,513.5h.01M399.6,473.9h.01M457.7,471.2h.01M413.7,467.8h.01M396.6,478.6h.01M446.2,514.8h.01M427.9,488.3h.01M438.3,464.4h.01M410.6,498.0h.01M423.3,478.5h.01M419.1,456.1h.01M405.8,456.0h.01M405.6,483.0h.01M438.4,470.0h.01M444.5,497.7h.01M410.5,454.8h.01M428.5,495.4h.01M399.1,497.1h.01M456.2,500.6h.01M468.2,524.5h.01M473.7,463.8h.01M477.6,461.6h.01M470.6,460.7h.01M463.4,462.8h.01M447.0,474.8h.01" stroke="#3f4888"/>
<path d="M448.6,469.0h.01M426.3,478.2h.01M423.3,472.2h.01M426.6,500.0h.01M418.9,468.4h.01M448.9,507.4h.01M443.1,464.6h.01M430.4,482.2h.01M394.5,480.5h.01M415.2,494.9h.01M436.8,523.2h.01M433.5,484.1h.01M419.8,464.6h.01M443.3,468.9h.01M447.3,484.0h.01M408.5,496.7h.01M443.4,478.0h.01M427.5,481.1h.01M465.6,502.7h.01M472.0,523.2h.01M475.9,516.8h.01M460.1,516.6h.01M473.8,514.2h.01M471.4,497.9h.01M455.9,510.8h.01M463.6,502.5h.01M471.1,505.8h.01M451.2,486.8h.01M451.9,491.7h.01M480.1,460.2h.01M477.0,467.5h.01" stroke="#2f6d8e"/>
<path d="M413.9,493.4h.01M402.5,468.6h.01M396.5,469.8h.01M453.7,464.6h.01M443.9,480.5h.01M426.9,496.7h.01M400.1,455.0h.01M420.5,470.8h.01M449.3,463.4h.01M453.9,470.2h.01M406.7,469.3h.01M416.2,502.3h.01M437.8,505.1h.01M404.0,482.4h.01M437.4,468.4h.01M446.5,512.3h.01M422.5,515.6h.01M438.2,483.9h.01M402.6,453.0h.01M407.6,453.9h.01M447.8,475.1h.01M429.0,460.8h.01M400.9,459.5h.01M434.5,484.7h.01M405.0,472.4h.01M453.4,481.1h.01M427.5,487.4h.01M409.5,453.0h.01M433.7,521.3h.01M443.1,511.6h.01M422.2,463.9h.01M415.8,506.7h.01M449.9,493.1h.01M395.5,460.6h.01M425.4,477.1h.01M454.1,470.3h.01M399.3,456.8h.01M456.2,519.0h.01M460.5,486.6h.01M459.6,522.8h.01M456.6,493.3h.01M453.0,497.5h.01M458.7,491.0h.01M474.8,510.4h.01M461.9,488.1h.01M459.4,495.9h.01M468.3,508.6h.01M474.4,518.9h.01M451.8,492.0h.01M470.6,455.9h.01M475.4,460.0h.01M477.5,465.7h.01M447.3,472.4h.01" stroke="#21918c"/>
<path d="M431.6,502.0h.01M419.1,474.0h.01M459.1,468.2h.01M431.3,477.5h.01M420.3,515.6h.01M417.8,487.3h.01M427.0,477.9h.01M439.0,516.5h.01M440.2,504.7h.01M406.8,482.2h.01M435.5,502.6h.01M433.4,479.4h.01M425.2,471.1h.01M411.2,465.1h.01M431.5,498.2h.01M431.4,472.3h.01M433.7,474.4h.01M439.6,498.4h.01M413.9,468.7h.01M401.2,498.5h.01M455.6,515.2h.01M475.1,518.4h.01M458.2,488.8h.01M457.9,485.2h.01M463.8,495.3h.01M466.6,494.1h.01M460.9,485.6h.01M451.3,496.8h.01M468.2,512.6h.01M479.2,455.1h.01M471.8,459.4h.01" stroke="#375b8c"/>
<path d="M417.4,458.9h.01M428.5,519.4h.01M412.5,484.0h.01M438.8,471.4h.01M423.2,469.7h.01M417.9,479.0h.01M401.2,468.5h.01M409.3,454.5h.01M421.5,510.9h.01M448.7,468.6h.01M401.4,466.7h.01M427.2,497.6h.01M436.1,497.2h.01M448.1,514.4h.01M407.6,452.6h.01M396.2,460.5h.01M448.1,493.2h.01M428.8,454.9h.01M439.0,479.0h.01M415.8,459.9h.01M414.8,505.6h.01M415.3,486.6h.01M448.2,467.5h.01M415.0,455.0h.01M412.6,465.4h.01M439.5,461.3h.01M444.7,459.2h.01M461.8,517.7h.01M467.0,524.5h.01M474.3,517.1h.01M463.1,509.6h.01M469.8,515.3h.01" stroke="#a0d938"/>
<path d="M404.8,493.1h.01M424.4,485.8h.01M428.6,460.6h.01M407.9,488.3h.01M399.6,469.5h.01M427.0,512.0h.01M438.5,501.3h.01M448.7,466.9h.01M433.3,496.0h.01M447.0,490.6h.01M435.4,472.5h.01M431.0,475.8h.01M406.1,495.1h.01M410.2,467.3h.01M452.8,474.2h.01M444.4,465.0h.01M416.6,497.4h.01M418.2,468.6h.01M434.1,508.0h.01M420.0,488.3h.01M433.0,506.3h.01M410.7,480.4h.01M406.3,454.6h.01M399.9,466.5h.01M422.6,496.0h.01M431.2,479.3h.01M421.8,514.5h.01M400.6,486.1h.01M423.5,456.3h.01M419.3,452.2h.01M448.8,459.5h.01M454.8,509.8h.01M474.1,514.9h.01M473.0,505.0h.01M452.4,496.1h.01M456.9,485.8h.01M471.4,502.5h.01M468.8,523.6h.01M472.1,516.7h.01M470.6,521.2h.01M463.9,510.8h.01M477.9,456.7h.01M470.0,456.7h.01M472.9,459.2h.01" stroke="#21918c"/>
</g>
<text x="434.30" y="442.20" font-size="10" text-anchor="middle" fill="#1a1a1a" textLength="20.50" lengthAdjust="spacingAndGlyphs" stroke="#1a1a1a" stroke-width="0.22" >LMO2</text>
<defs><linearGradient id="cbE" x1="0" y1="0" x2="0" y2="1"><stop offset="0.0" stop-color="#fde725"/><stop offset="0.1" stop-color="#bddf26"/><stop offset="0.2" stop-color="#7ad151"/><stop offset="0.3" stop-color="#44bf70"/><stop offset="0.4" stop-color="#22a884"/><stop offset="0.5" stop-color="#21918c"/><stop offset="0.6" stop-color="#2a788e"/><stop offset="0.7" stop-color="#355f8d"/><stop offset="0.8" stop-color="#414487"/><stop offset="0.9" stop-color="#482475"/><stop offset="1.0" stop-color="#440154"/></linearGradient></defs>
<rect x="483.3" y="378.6" width="5.2" height="106.8" fill="url(#cbE)"/>
<line x1="488.5" x2="491.2" y1="379.2" y2="379.2" stroke="#000" stroke-width="0.9"/>
<text x="492.80" y="382.00" font-size="7.6" text-anchor="start" fill="#000" textLength="13.50" lengthAdjust="spacingAndGlyphs" stroke="#000" stroke-width="0.22" >High</text>
<line x1="488.5" x2="491.2" y1="414.4" y2="414.4" stroke="#000" stroke-width="0.9"/>
<text x="492.80" y="417.20" font-size="7.6" text-anchor="start" fill="#000" textLength="11.00" lengthAdjust="spacingAndGlyphs" stroke="#000" stroke-width="0.22" >Mid</text>
<line x1="488.5" x2="491.2" y1="449.9" y2="449.9" stroke="#000" stroke-width="0.9"/>
<text x="492.80" y="452.70" font-size="7.6" text-anchor="start" fill="#000" textLength="11.80" lengthAdjust="spacingAndGlyphs" stroke="#000" stroke-width="0.22" >Low</text>
<line x1="488.5" x2="491.2" y1="485.3" y2="485.3" stroke="#000" stroke-width="0.9"/>
<text x="492.80" y="488.10" font-size="7.6" text-anchor="start" fill="#000" textLength="16.40" lengthAdjust="spacingAndGlyphs" stroke="#000" stroke-width="0.22" >None</text>
</g>
<g id="F">
<text x="9.50" y="552.80" font-size="12.5" text-anchor="start" fill="#000" font-weight="bold" >F</text>
<line x1="58.8" x2="175.8" y1="615.6" y2="615.6" stroke="#333" stroke-width="0.6" stroke-dasharray="1.1 1"/>
<line x1="58.8" x2="175.8" y1="623.3" y2="623.3" stroke="#333" stroke-width="0.6" stroke-dasharray="1.1 1"/>
<rect x="60.30" y="620.70" width="13.1" height="9.30" fill="#2b5e2a"/>
<line x1="66.85" x2="66.85" y1="670.8" y2="673.4" stroke="#000" stroke-width="0.9"/>
<text x="69.85" y="676.30" font-size="8.3" text-anchor="end" fill="#000" transform="rotate(-90 69.85 676.30)" textLength="15.50" lengthAdjust="spacingAndGlyphs" stroke="#000" stroke-width="0.22" >ERG</text>
<rect x="77.25" y="620.70" width="13.1" height="1.70" fill="#efb878"/>
<line x1="83.80" x2="83.80" y1="670.8" y2="673.4" stroke="#000" stroke-width="0.9"/>
<text x="86.80" y="676.30" font-size="8.3" text-anchor="end" fill="#000" transform="rotate(-90 86.80 676.30)" textLength="22.50" lengthAdjust="spacingAndGlyphs" stroke="#000" stroke-width="0.22" >LMO2</text>
<rect x="94.20" y="620.70" width="13.1" height="1.70" fill="#84bc50"/>
<line x1="100.75" x2="100.75" y1="670.8" y2="673.4" stroke="#000" stroke-width="0.9"/>
<text x="103.75" y="676.30" font-size="8.3" text-anchor="end" fill="#000" transform="rotate(-90 103.75 676.30)" textLength="14.50" lengthAdjust="spacingAndGlyphs" stroke="#000" stroke-width="0.22" >FLI1</text>
<rect x="111.15" y="620.70" width="13.1" height="0.90" fill="#68398f"/>
<line x1="117.70" x2="117.70" y1="670.8" y2="673.4" stroke="#000" stroke-width="0.9"/>
<text x="120.70" y="676.30" font-size="8.3" text-anchor="end" fill="#000" transform="rotate(-90 120.70 676.30)" textLength="26.00" lengthAdjust="spacingAndGlyphs" stroke="#000" stroke-width="0.22" >RUNX1</text>
<rect x="128.10" y="613.20" width="13.1" height="7.50" fill="#e8785c"/>
<line x1="134.65" x2="134.65" y1="670.8" y2="673.4" stroke="#000" stroke-width="0.9"/>
<text x="137.65" y="676.30" font-size="8.3" text-anchor="end" fill="#000" transform="rotate(-90 137.65 676.30)" textLength="16.00" lengthAdjust="spacingAndGlyphs" stroke="#000" stroke-width="0.22" >LYL1</text>
<rect x="145.05" y="593.80" width="13.1" height="26.90" fill="#e08224"/>
<line x1="151.60" x2="151.60" y1="670.8" y2="673.4" stroke="#000" stroke-width="0.9"/>
<text x="154.60" y="676.30" font-size="8.3" text-anchor="end" fill="#000" transform="rotate(-90 154.60 676.30)" textLength="17.00" lengthAdjust="spacingAndGlyphs" stroke="#000" stroke-width="0.22" >TAL1</text>
<rect x="162.00" y="562.50" width="13.1" height="58.20" fill="#4c78b0"/>
<line x1="168.55" x2="168.55" y1="670.8" y2="673.4" stroke="#000" stroke-width="0.9"/>
<text x="171.55" y="676.30" font-size="8.3" text-anchor="end" fill="#000" transform="rotate(-90 171.55 676.30)" textLength="25.00" lengthAdjust="spacingAndGlyphs" stroke="#000" stroke-width="0.22" >GATA2</text>
<line x1="58.8" x2="175.8" y1="620.7" y2="620.7" stroke="#333" stroke-width="1.1"/>
<path d="M58.8,556.3 V670.8 H175.8" fill="none" stroke="#000" stroke-width="1.2"/>
<line x1="56.0" x2="58.8" y1="567.5" y2="567.5" stroke="#000" stroke-width="0.9"/>
<line x1="56.0" x2="58.8" y1="620.7" y2="620.7" stroke="#000" stroke-width="0.9"/>
<line x1="56.0" x2="58.8" y1="670.6" y2="670.6" stroke="#000" stroke-width="0.9"/>
<text x="55.50" y="570.60" font-size="8.6" text-anchor="end" fill="#000" textLength="10.20" lengthAdjust="spacingAndGlyphs" stroke="#000" stroke-width="0.22" >10</text>
<text x="55.20" y="623.80" font-size="8.6" text-anchor="end" fill="#000" stroke="#000" stroke-width="0.22" >1</text>
<text x="50.60" y="673.40" font-size="8.6" text-anchor="end" fill="#000" textLength="10.20" lengthAdjust="spacingAndGlyphs" stroke="#000" stroke-width="0.22" >10</text>
<text x="50.80" y="672.30" font-size="6.6" text-anchor="start" fill="#000" textLength="5.20" lengthAdjust="spacingAndGlyphs" stroke="#000" stroke-width="0.22" >-1</text>
<text x="125.00" y="552.00" font-size="9.6" text-anchor="middle" fill="#000" textLength="47.50" lengthAdjust="spacingAndGlyphs" stroke="#000" stroke-width="0.22" >ME-1 data</text>
<line x1="196.8" x2="314.3" y1="615.6" y2="615.6" stroke="#333" stroke-width="0.6" stroke-dasharray="1.1 1"/>
<line x1="196.8" x2="314.3" y1="623.3" y2="623.3" stroke="#333" stroke-width="0.6" stroke-dasharray="1.1 1"/>
<rect x="198.30" y="620.70" width="13.1" height="18.10" fill="#84bc50"/>
<line x1="204.85" x2="204.85" y1="670.8" y2="673.4" stroke="#000" stroke-width="0.9"/>
<text x="207.85" y="676.30" font-size="8.3" text-anchor="end" fill="#000" transform="rotate(-90 207.85 676.30)" textLength="14.50" lengthAdjust="spacingAndGlyphs" stroke="#000" stroke-width="0.22" >FLI1</text>
<rect x="215.25" y="620.70" width="13.1" height="12.60" fill="#2b5e2a"/>
<line x1="221.80" x2="221.80" y1="670.8" y2="673.4" stroke="#000" stroke-width="0.9"/>
<text x="224.80" y="676.30" font-size="8.3" text-anchor="end" fill="#000" transform="rotate(-90 224.80 676.30)" textLength="15.50" lengthAdjust="spacingAndGlyphs" stroke="#000" stroke-width="0.22" >ERG</text>
<rect x="232.20" y="620.70" width="13.1" height="6.80" fill="#68398f"/>
<line x1="238.75" x2="238.75" y1="670.8" y2="673.4" stroke="#000" stroke-width="0.9"/>
<text x="241.75" y="676.30" font-size="8.3" text-anchor="end" fill="#000" transform="rotate(-90 241.75 676.30)" textLength="26.00" lengthAdjust="spacingAndGlyphs" stroke="#000" stroke-width="0.22" >RUNX1</text>
<rect x="249.15" y="617.20" width="13.1" height="3.50" fill="#e8785c"/>
<line x1="255.70" x2="255.70" y1="670.8" y2="673.4" stroke="#000" stroke-width="0.9"/>
<text x="258.70" y="676.30" font-size="8.3" text-anchor="end" fill="#000" transform="rotate(-90 258.70 676.30)" textLength="16.00" lengthAdjust="spacingAndGlyphs" stroke="#000" stroke-width="0.22" >LYL1</text>
<rect x="266.10" y="609.00" width="13.1" height="11.70" fill="#efb878"/>
<line x1="272.65" x2="272.65" y1="670.8" y2="673.4" stroke="#000" stroke-width="0.9"/>
<text x="275.65" y="676.30" font-size="8.3" text-anchor="end" fill="#000" transform="rotate(-90 275.65 676.30)" textLength="22.50" lengthAdjust="spacingAndGlyphs" stroke="#000" stroke-width="0.22" >LMO2</text>
<rect x="283.05" y="607.30" width="13.1" height="13.40" fill="#4c78b0"/>
<line x1="289.60" x2="289.60" y1="670.8" y2="673.4" stroke="#000" stroke-width="0.9"/>
<text x="292.60" y="676.30" font-size="8.3" text-anchor="end" fill="#000" transform="rotate(-90 292.60 676.30)" textLength="25.00" lengthAdjust="spacingAndGlyphs" stroke="#000" stroke-width="0.22" >GATA2</text>
<rect x="300.00" y="595.50" width="13.1" height="25.20" fill="#e08224"/>
<line x1="306.55" x2="306.55" y1="670.8" y2="673.4" stroke="#000" stroke-width="0.9"/>
<text x="309.55" y="676.30" font-size="8.3" text-anchor="end" fill="#000" transform="rotate(-90 309.55 676.30)" textLength="17.00" lengthAdjust="spacingAndGlyphs" stroke="#000" stroke-width="0.22" >TAL1</text>
<line x1="196.8" x2="314.3" y1="620.7" y2="620.7" stroke="#333" stroke-width="1.1"/>
<path d="M196.8,556.3 V670.8 H314.3" fill="none" stroke="#000" stroke-width="1.2"/>
<line x1="194.0" x2="196.8" y1="567.5" y2="567.5" stroke="#000" stroke-width="0.9"/>
<line x1="194.0" x2="196.8" y1="620.7" y2="620.7" stroke="#000" stroke-width="0.9"/>
<line x1="194.0" x2="196.8" y1="670.6" y2="670.6" stroke="#000" stroke-width="0.9"/>
<text x="193.50" y="570.60" font-size="8.6" text-anchor="end" fill="#000" textLength="10.20" lengthAdjust="spacingAndGlyphs" stroke="#000" stroke-width="0.22" >10</text>
<text x="193.20" y="623.80" font-size="8.6" text-anchor="end" fill="#000" stroke="#000" stroke-width="0.22" >1</text>
<text x="188.60" y="673.40" font-size="8.6" text-anchor="end" fill="#000" textLength="10.20" lengthAdjust="spacingAndGlyphs" stroke="#000" stroke-width="0.22" >10</text>
<text x="188.80" y="672.30" font-size="6.6" text-anchor="start" fill="#000" textLength="5.20" lengthAdjust="spacingAndGlyphs" stroke="#000" stroke-width="0.22" >-1</text>
<text x="257.80" y="552.00" font-size="9.6" text-anchor="middle" fill="#000" textLength="57.00" lengthAdjust="spacingAndGlyphs" stroke="#000" stroke-width="0.22" >Palantir data</text>
<text x="26.80" y="610.00" font-size="9.8" text-anchor="middle" fill="#1a1a1a" transform="rotate(-90 26.80 610.00)" textLength="47.00" lengthAdjust="spacingAndGlyphs" stroke="#1a1a1a" stroke-width="0.22" >Fold increase</text>
<text x="37.60" y="610.50" font-size="9.8" text-anchor="middle" fill="#1a1a1a" transform="rotate(-90 37.60 610.50)" textLength="67.00" lengthAdjust="spacingAndGlyphs" stroke="#1a1a1a" stroke-width="0.22" >HSC - Ery Precursor</text>
</g>
<g id="G">
<text x="331.00" y="553.10" font-size="12.5" text-anchor="start" fill="#000" font-weight="bold" >G</text>
<rect x="377.80" y="645.20" width="10.5" height="18.60" fill="#f28c6e"/>
<line x1="383.05" x2="383.05" y1="636" y2="657" stroke="#e8603a" stroke-width="2"/>
<line x1="383.05" x2="383.05" y1="663.8" y2="666.5" stroke="#000" stroke-width="0.9"/>
<text x="386.05" y="669.50" font-size="8.3" text-anchor="end" fill="#000" transform="rotate(-90 386.05 669.50)" textLength="16.00" lengthAdjust="spacingAndGlyphs" stroke="#000" stroke-width="0.22" >LYL1</text>
<rect x="390.80" y="640.00" width="10.5" height="23.80" fill="#fdc98a"/>
<line x1="396.05" x2="396.05" y1="632.3" y2="646.2" stroke="#f9ad55" stroke-width="2"/>
<line x1="396.05" x2="396.05" y1="663.8" y2="666.5" stroke="#000" stroke-width="0.9"/>
<text x="399.05" y="669.50" font-size="8.3" text-anchor="end" fill="#000" transform="rotate(-90 399.05 669.50)" textLength="22.50" lengthAdjust="spacingAndGlyphs" stroke="#000" stroke-width="0.22" >LMO2</text>
<rect x="403.80" y="637.20" width="10.5" height="26.60" fill="#9dd06c"/>
<line x1="409.05" x2="409.05" y1="631.7" y2="644.6" stroke="#74b83a" stroke-width="2"/>
<line x1="409.05" x2="409.05" y1="663.8" y2="666.5" stroke="#000" stroke-width="0.9"/>
<text x="412.05" y="669.50" font-size="8.3" text-anchor="end" fill="#000" transform="rotate(-90 412.05 669.50)" textLength="14.50" lengthAdjust="spacingAndGlyphs" stroke="#000" stroke-width="0.22" >FLI1</text>
<rect x="416.70" y="636.00" width="10.5" height="27.80" fill="#5c8d5a"/>
<line x1="421.95" x2="421.95" y1="631.5" y2="645.2" stroke="#2b6a2d" stroke-width="2"/>
<line x1="421.95" x2="421.95" y1="663.8" y2="666.5" stroke="#000" stroke-width="0.9"/>
<text x="424.95" y="669.50" font-size="8.3" text-anchor="end" fill="#000" transform="rotate(-90 424.95 669.50)" textLength="15.50" lengthAdjust="spacingAndGlyphs" stroke="#000" stroke-width="0.22" >ERG</text>
<rect x="429.60" y="628.30" width="10.5" height="35.50" fill="#8b6bae"/>
<line x1="434.85" x2="434.85" y1="622.5" y2="636" stroke="#5f2f8f" stroke-width="2"/>
<line x1="434.85" x2="434.85" y1="663.8" y2="666.5" stroke="#000" stroke-width="0.9"/>
<text x="437.85" y="669.50" font-size="8.3" text-anchor="end" fill="#000" transform="rotate(-90 437.85 669.50)" textLength="26.00" lengthAdjust="spacingAndGlyphs" stroke="#000" stroke-width="0.22" >RUNX1</text>
<rect x="442.60" y="600.60" width="10.5" height="63.20" fill="#f6a24c"/>
<line x1="447.85" x2="447.85" y1="596" y2="609.2" stroke="#f07f1a" stroke-width="2"/>
<line x1="447.85" x2="447.85" y1="663.8" y2="666.5" stroke="#000" stroke-width="0.9"/>
<text x="450.85" y="669.50" font-size="8.3" text-anchor="end" fill="#000" transform="rotate(-90 450.85 669.50)" textLength="17.00" lengthAdjust="spacingAndGlyphs" stroke="#000" stroke-width="0.22" >TAL1</text>
<rect x="455.80" y="571.70" width="10.5" height="92.10" fill="#a9a9a9"/>
<line x1="461.05" x2="461.05" y1="562.2" y2="576.3" stroke="#6e6e6e" stroke-width="2"/>
<line x1="461.05" x2="461.05" y1="663.8" y2="666.5" stroke="#000" stroke-width="0.9"/>
<text x="464.05" y="669.50" font-size="8.3" text-anchor="end" fill="#000" transform="rotate(-90 464.05 669.50)" textLength="50.50" lengthAdjust="spacingAndGlyphs" stroke="#000" stroke-width="0.22" >Whole heptad</text>
<rect x="469.00" y="569.20" width="10.5" height="94.60" fill="#a9a9a9"/>
<line x1="474.25" x2="474.25" y1="559.4" y2="573.8" stroke="#6e6e6e" stroke-width="2"/>
<line x1="474.25" x2="474.25" y1="663.8" y2="666.5" stroke="#000" stroke-width="0.9"/>
<text x="477.25" y="669.50" font-size="8.3" text-anchor="end" fill="#000" transform="rotate(-90 477.25 669.50)" textLength="65.00" lengthAdjust="spacingAndGlyphs" stroke="#000" stroke-width="0.22" >GATA2, TAL1, ERG</text>
<rect x="482.00" y="564.00" width="10.5" height="99.80" fill="#a9a9a9"/>
<line x1="487.25" x2="487.25" y1="553.8" y2="569.2" stroke="#6e6e6e" stroke-width="2"/>
<line x1="487.25" x2="487.25" y1="663.8" y2="666.5" stroke="#000" stroke-width="0.9"/>
<text x="490.25" y="669.50" font-size="8.3" text-anchor="end" fill="#000" transform="rotate(-90 490.25 669.50)" textLength="47.00" lengthAdjust="spacingAndGlyphs" stroke="#000" stroke-width="0.22" >GATA2, TAL1</text>
<rect x="495.20" y="562.50" width="10.5" height="101.30" fill="#7b9fd0"/>
<line x1="500.45" x2="500.45" y1="553" y2="567" stroke="#3f6fb5" stroke-width="2"/>
<line x1="500.45" x2="500.45" y1="663.8" y2="666.5" stroke="#000" stroke-width="0.9"/>
<text x="503.45" y="669.50" font-size="8.3" text-anchor="end" fill="#000" transform="rotate(-90 503.45 669.50)" textLength="25.00" lengthAdjust="spacingAndGlyphs" stroke="#000" stroke-width="0.22" >GATA2</text>
<path d="M371.8,548 V663.8 H513" fill="none" stroke="#000" stroke-width="1.2"/>
<line x1="369" x2="371.8" y1="570.8" y2="570.8" stroke="#000" stroke-width="0.9"/>
<text x="364.50" y="573.90" font-size="8.6" text-anchor="end" fill="#000" textLength="12.50" lengthAdjust="spacingAndGlyphs" stroke="#000" stroke-width="0.22" >0.8</text>
<line x1="369" x2="371.8" y1="608.8" y2="608.8" stroke="#000" stroke-width="0.9"/>
<text x="364.50" y="611.90" font-size="8.6" text-anchor="end" fill="#000" textLength="12.50" lengthAdjust="spacingAndGlyphs" stroke="#000" stroke-width="0.22" >0.6</text>
<line x1="369" x2="371.8" y1="646.8" y2="646.8" stroke="#000" stroke-width="0.9"/>
<text x="364.50" y="649.90" font-size="8.6" text-anchor="end" fill="#000" textLength="12.50" lengthAdjust="spacingAndGlyphs" stroke="#000" stroke-width="0.22" >0.4</text>
</g>
<rect x="0.6" y="0.4" width="518.7" height="737.8" fill="none" stroke="#000" stroke-width="1.4"/>
</svg></body></html>
